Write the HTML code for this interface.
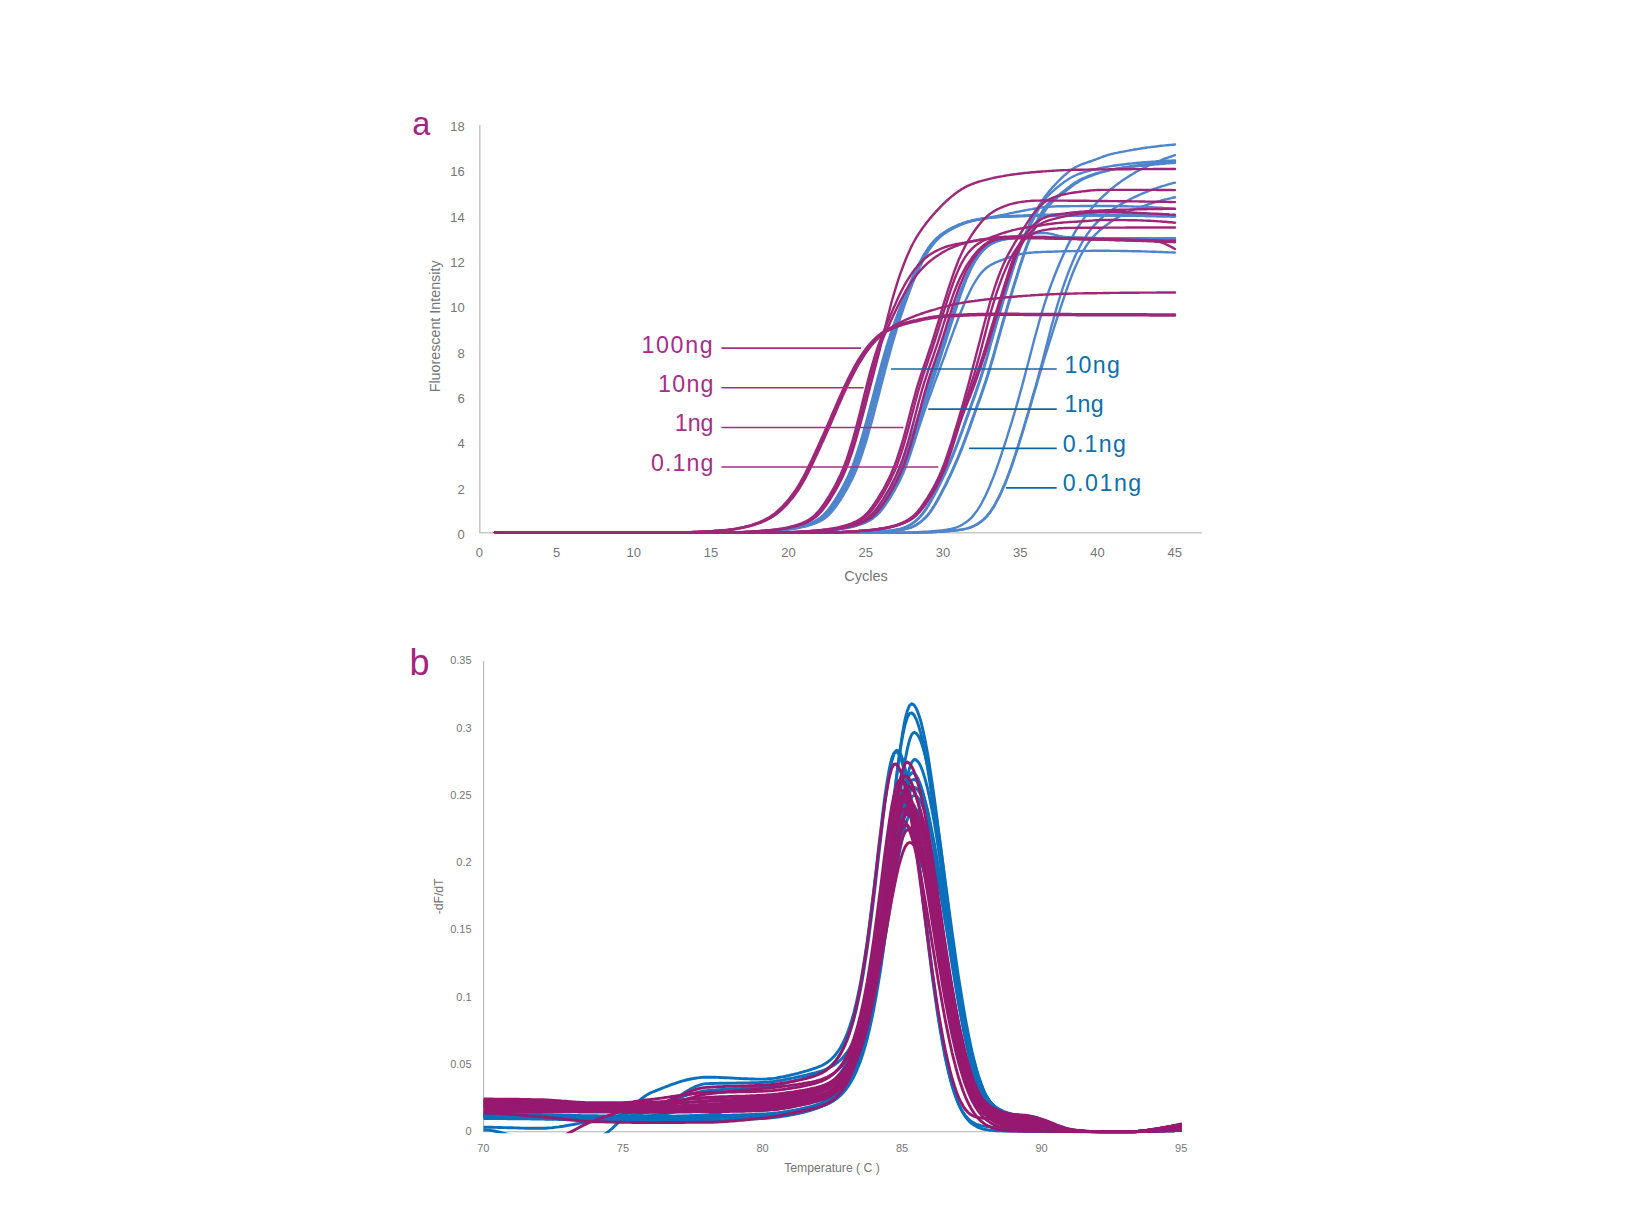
<!DOCTYPE html>
<html><head><meta charset="utf-8"><title>qPCR amplification and melt curves</title>
<style>
html,body{margin:0;padding:0;background:#fff}
svg{display:block}
text{font-family:"Liberation Sans",sans-serif}
.cv path{fill:none;stroke-width:2.4;stroke-linejoin:round;stroke-linecap:round}
.cb path{fill:none;stroke-width:2.9;stroke-linejoin:round;stroke-linecap:butt}
</style></head><body>
<svg width="1640" height="1231" viewBox="0 0 1640 1231">
<rect width="1640" height="1231" fill="#fff"/>
<defs><clipPath id="cpb"><rect x="483.6" y="640" width="697.9" height="493.2"/></clipPath></defs>
<g><path d="M479.8,124.9 V532.7 H1201.8" fill="none" stroke="#C8C8C8" stroke-width="1.6"/>
<text x="464.8" y="538.9" text-anchor="end" font-size="13" fill="#767676">0</text>
<text x="464.8" y="493.6" text-anchor="end" font-size="13" fill="#767676">2</text>
<text x="464.8" y="448.3" text-anchor="end" font-size="13" fill="#767676">4</text>
<text x="464.8" y="402.9" text-anchor="end" font-size="13" fill="#767676">6</text>
<text x="464.8" y="357.6" text-anchor="end" font-size="13" fill="#767676">8</text>
<text x="464.8" y="312.3" text-anchor="end" font-size="13" fill="#767676">10</text>
<text x="464.8" y="267.0" text-anchor="end" font-size="13" fill="#767676">12</text>
<text x="464.8" y="221.7" text-anchor="end" font-size="13" fill="#767676">14</text>
<text x="464.8" y="176.3" text-anchor="end" font-size="13" fill="#767676">16</text>
<text x="464.8" y="131.0" text-anchor="end" font-size="13" fill="#767676">18</text>
<text x="479.3" y="557.3" text-anchor="middle" font-size="13" fill="#767676">0</text>
<text x="556.6" y="557.3" text-anchor="middle" font-size="13" fill="#767676">5</text>
<text x="633.8" y="557.3" text-anchor="middle" font-size="13" fill="#767676">10</text>
<text x="711.1" y="557.3" text-anchor="middle" font-size="13" fill="#767676">15</text>
<text x="788.4" y="557.3" text-anchor="middle" font-size="13" fill="#767676">20</text>
<text x="865.7" y="557.3" text-anchor="middle" font-size="13" fill="#767676">25</text>
<text x="942.9" y="557.3" text-anchor="middle" font-size="13" fill="#767676">30</text>
<text x="1020.2" y="557.3" text-anchor="middle" font-size="13" fill="#767676">35</text>
<text x="1097.5" y="557.3" text-anchor="middle" font-size="13" fill="#767676">40</text>
<text x="1174.8" y="557.3" text-anchor="middle" font-size="13" fill="#767676">45</text>
<text x="866.0" y="581.0" text-anchor="middle" font-size="14.5" fill="#767676">Cycles</text>
<text transform="translate(440.2,326.4) rotate(-90)" text-anchor="middle" font-size="14.3" fill="#767676">Fluorescent Intensity</text>
<text x="412.3" y="134.6" font-size="32.5" fill="#A3257F">a</text>
<text x="409.5" y="675" font-size="36" fill="#A3257F">b</text></g>
<g><text x="641.4" y="352.5" font-size="23.2" fill="#A62E86" textLength="71.3" lengthAdjust="spacing">100ng</text>
<text x="658" y="391.6" font-size="23.2" fill="#A62E86" textLength="55.5" lengthAdjust="spacing">10ng</text>
<text x="674.7" y="431.2" font-size="23.2" fill="#A62E86" textLength="38.8" lengthAdjust="spacing">1ng</text>
<text x="650.9" y="470.7" font-size="23.2" fill="#A62E86" textLength="62.6" lengthAdjust="spacing">0.1ng</text>
<text x="1064.4" y="372.6" font-size="23.2" fill="#0E6FAB" textLength="55.5" lengthAdjust="spacing">10ng</text>
<text x="1064.4" y="411.9" font-size="23.2" fill="#0E6FAB" textLength="39.3" lengthAdjust="spacing">1ng</text>
<text x="1062.7" y="451.9" font-size="23.2" fill="#0E6FAB" textLength="63.2" lengthAdjust="spacing">0.1ng</text>
<text x="1062.7" y="491.2" font-size="23.2" fill="#0E6FAB" textLength="78.5" lengthAdjust="spacing">0.01ng</text></g>
<g class="cv">
<path d="M495.0,532.7 L496.9,532.7 L498.8,532.7 L500.8,532.7 L502.7,532.7 L504.6,532.7 L506.5,532.7 L508.5,532.7 L510.4,532.7 L512.3,532.7 L514.3,532.7 L516.2,532.7 L518.1,532.7 L520.1,532.7 L522.0,532.7 L523.9,532.7 L525.9,532.7 L527.8,532.7 L529.7,532.7 L531.7,532.7 L533.6,532.7 L535.5,532.7 L537.5,532.7 L539.4,532.7 L541.3,532.7 L543.3,532.7 L545.2,532.7 L547.1,532.7 L549.0,532.7 L551.0,532.7 L552.9,532.7 L554.8,532.7 L556.8,532.7 L558.7,532.7 L560.6,532.7 L562.6,532.7 L564.5,532.7 L566.4,532.7 L568.4,532.7 L570.3,532.7 L572.2,532.7 L574.2,532.7 L576.1,532.7 L578.0,532.7 L580.0,532.7 L581.9,532.7 L583.8,532.7 L585.8,532.7 L587.7,532.7 L589.6,532.7 L591.5,532.7 L593.5,532.7 L595.4,532.7 L597.3,532.7 L599.3,532.7 L601.2,532.7 L603.1,532.7 L605.1,532.7 L607.0,532.7 L608.9,532.7 L610.9,532.7 L612.8,532.7 L614.7,532.7 L616.7,532.7 L618.6,532.7 L620.5,532.7 L622.5,532.7 L624.4,532.7 L626.3,532.7 L628.3,532.7 L630.2,532.7 L632.1,532.7 L634.0,532.7 L636.0,532.7 L637.9,532.7 L639.8,532.7 L641.8,532.7 L643.7,532.7 L645.6,532.7 L647.6,532.7 L649.5,532.7 L651.4,532.7 L653.4,532.7 L655.3,532.7 L657.2,532.7 L659.2,532.7 L661.1,532.7 L663.0,532.7 L665.0,532.7 L666.9,532.7 L668.8,532.7 L670.8,532.7 L672.7,532.7 L674.6,532.7 L676.6,532.7 L678.5,532.7 L680.4,532.7 L682.3,532.7 L684.3,532.7 L686.2,532.7 L688.1,532.7 L690.1,532.7 L692.0,532.7 L693.9,532.7 L695.9,532.7 L697.8,532.7 L699.7,532.7 L701.7,532.7 L703.6,532.7 L705.5,532.7 L707.5,532.7 L709.4,532.7 L711.3,532.7 L713.3,532.7 L715.2,532.7 L717.1,532.7 L719.1,532.7 L721.0,532.7 L722.9,532.7 L724.8,532.7 L726.8,532.7 L728.7,532.7 L730.6,532.6 L732.6,532.6 L734.5,532.6 L736.4,532.5 L738.4,532.5 L740.3,532.4 L742.2,532.4 L744.2,532.3 L746.1,532.2 L748.0,532.1 L750.0,532.0 L751.9,531.9 L753.8,531.8 L755.8,531.7 L757.7,531.6 L759.6,531.5 L761.6,531.4 L763.5,531.2 L765.4,531.1 L767.3,531.0 L769.3,530.8 L771.2,530.7 L773.1,530.5 L775.1,530.4 L777.0,530.2 L778.9,530.0 L780.9,529.8 L782.8,529.6 L784.7,529.3 L786.7,529.1 L788.6,528.8 L790.5,528.5 L792.5,528.1 L794.4,527.7 L796.3,527.3 L798.3,526.9 L800.2,526.4 L802.1,525.9 L804.1,525.3 L806.0,524.7 L807.9,524.0 L809.9,523.3 L811.8,522.5 L813.7,521.6 L815.6,520.6 L817.6,519.4 L819.5,518.1 L821.4,516.6 L823.4,514.9 L825.3,512.9 L827.2,510.7 L829.2,508.3 L831.1,505.6 L833.0,502.9 L835.0,499.9 L836.9,496.9 L838.8,493.7 L840.8,490.4 L842.7,486.9 L844.6,483.3 L846.6,479.4 L848.5,475.3 L850.4,470.9 L852.4,466.1 L854.3,461.0 L856.2,455.5 L858.1,449.6 L860.1,443.4 L862.0,436.9 L863.9,430.2 L865.9,423.2 L867.8,416.0 L869.7,408.8 L871.7,401.4 L873.6,394.0 L875.5,386.5 L877.5,379.1 L879.4,371.9 L881.3,364.7 L883.3,357.8 L885.2,351.1 L887.1,344.7 L889.1,338.5 L891.0,332.6 L892.9,327.0 L894.9,321.5 L896.8,316.2 L898.7,311.0 L900.6,306.0 L902.6,301.0 L904.5,296.2 L906.4,291.4 L908.4,286.8 L910.3,282.3 L912.2,277.8 L914.2,273.6 L916.1,269.5 L918.0,265.5 L920.0,261.7 L921.9,258.2 L923.8,254.8 L925.8,251.6 L927.7,248.7 L929.6,246.0 L931.6,243.5 L933.5,241.3 L935.4,239.2 L937.4,237.4 L939.3,235.8 L941.2,234.3 L943.1,233.0 L945.1,231.7 L947.0,230.5 L948.9,229.4 L950.9,228.4 L952.8,227.4 L954.7,226.5 L956.7,225.6 L958.6,224.7 L960.5,224.0 L962.5,223.2 L964.4,222.6 L966.3,222.0 L968.3,221.4 L970.2,220.9 L972.1,220.4 L974.1,220.0 L976.0,219.6 L977.9,219.3 L979.9,218.9 L981.8,218.6 L983.7,218.3 L985.7,218.1 L987.6,217.8 L989.5,217.6 L991.4,217.4 L993.4,217.2 L995.3,217.1 L997.2,216.9 L999.2,216.8 L1001.1,216.7 L1003.0,216.6 L1005.0,216.5 L1006.9,216.4 L1008.8,216.4 L1010.8,216.3 L1012.7,216.3 L1014.6,216.2 L1016.6,216.2 L1018.5,216.1 L1020.4,216.1 L1022.4,216.0 L1024.3,216.0 L1026.2,215.9 L1028.2,215.9 L1030.1,215.8 L1032.0,215.8 L1033.9,215.8 L1035.9,215.7 L1037.8,215.7 L1039.7,215.7 L1041.7,215.6 L1043.6,215.6 L1045.5,215.6 L1047.5,215.6 L1049.4,215.6 L1051.3,215.5 L1053.3,215.5 L1055.2,215.5 L1057.1,215.5 L1059.1,215.5 L1061.0,215.5 L1062.9,215.5 L1064.9,215.5 L1066.8,215.5 L1068.7,215.5 L1070.7,215.5 L1072.6,215.5 L1074.5,215.5 L1076.4,215.5 L1078.4,215.5 L1080.3,215.5 L1082.2,215.5 L1084.2,215.5 L1086.1,215.5 L1088.0,215.5 L1090.0,215.5 L1091.9,215.5 L1093.8,215.5 L1095.8,215.5 L1097.7,215.5 L1099.6,215.5 L1101.6,215.5 L1103.5,215.5 L1105.4,215.5 L1107.4,215.6 L1109.3,215.6 L1111.2,215.6 L1113.2,215.6 L1115.1,215.6 L1117.0,215.6 L1119.0,215.6 L1120.9,215.7 L1122.8,215.7 L1124.7,215.7 L1126.7,215.7 L1128.6,215.7 L1130.5,215.8 L1132.5,215.8 L1134.4,215.8 L1136.3,215.8 L1138.3,215.8 L1140.2,215.9 L1142.1,215.9 L1144.1,215.9 L1146.0,216.0 L1147.9,216.0 L1149.9,216.0 L1151.8,216.1 L1153.7,216.1 L1155.7,216.1 L1157.6,216.2 L1159.5,216.2 L1161.5,216.3 L1163.4,216.3 L1165.3,216.3 L1167.2,216.4 L1169.2,216.4 L1171.1,216.5 L1173.0,216.5 L1175.0,216.6" stroke="#4E85CC"/>
<path d="M495.0,532.7 L496.9,532.7 L498.8,532.7 L500.8,532.7 L502.7,532.7 L504.6,532.7 L506.5,532.7 L508.5,532.7 L510.4,532.7 L512.3,532.7 L514.3,532.7 L516.2,532.7 L518.1,532.7 L520.1,532.7 L522.0,532.7 L523.9,532.7 L525.9,532.7 L527.8,532.7 L529.7,532.7 L531.7,532.7 L533.6,532.7 L535.5,532.7 L537.5,532.7 L539.4,532.7 L541.3,532.7 L543.3,532.7 L545.2,532.7 L547.1,532.7 L549.0,532.7 L551.0,532.7 L552.9,532.7 L554.8,532.7 L556.8,532.7 L558.7,532.7 L560.6,532.7 L562.6,532.7 L564.5,532.7 L566.4,532.7 L568.4,532.7 L570.3,532.7 L572.2,532.7 L574.2,532.7 L576.1,532.7 L578.0,532.7 L580.0,532.7 L581.9,532.7 L583.8,532.7 L585.8,532.7 L587.7,532.7 L589.6,532.7 L591.5,532.7 L593.5,532.7 L595.4,532.7 L597.3,532.7 L599.3,532.7 L601.2,532.7 L603.1,532.7 L605.1,532.7 L607.0,532.7 L608.9,532.7 L610.9,532.7 L612.8,532.7 L614.7,532.7 L616.7,532.7 L618.6,532.7 L620.5,532.7 L622.5,532.7 L624.4,532.7 L626.3,532.7 L628.3,532.7 L630.2,532.7 L632.1,532.7 L634.0,532.7 L636.0,532.7 L637.9,532.7 L639.8,532.7 L641.8,532.7 L643.7,532.7 L645.6,532.7 L647.6,532.7 L649.5,532.7 L651.4,532.7 L653.4,532.7 L655.3,532.7 L657.2,532.7 L659.2,532.7 L661.1,532.7 L663.0,532.7 L665.0,532.7 L666.9,532.7 L668.8,532.7 L670.8,532.7 L672.7,532.7 L674.6,532.7 L676.6,532.7 L678.5,532.7 L680.4,532.7 L682.3,532.7 L684.3,532.7 L686.2,532.7 L688.1,532.7 L690.1,532.7 L692.0,532.7 L693.9,532.7 L695.9,532.7 L697.8,532.7 L699.7,532.7 L701.7,532.7 L703.6,532.7 L705.5,532.7 L707.5,532.7 L709.4,532.7 L711.3,532.7 L713.3,532.7 L715.2,532.7 L717.1,532.7 L719.1,532.7 L721.0,532.7 L722.9,532.7 L724.8,532.7 L726.8,532.7 L728.7,532.7 L730.6,532.7 L732.6,532.6 L734.5,532.6 L736.4,532.6 L738.4,532.5 L740.3,532.5 L742.2,532.4 L744.2,532.4 L746.1,532.3 L748.0,532.2 L750.0,532.1 L751.9,532.0 L753.8,531.9 L755.8,531.8 L757.7,531.7 L759.6,531.6 L761.6,531.5 L763.5,531.3 L765.4,531.2 L767.3,531.1 L769.3,530.9 L771.2,530.8 L773.1,530.6 L775.1,530.5 L777.0,530.3 L778.9,530.2 L780.9,530.0 L782.8,529.8 L784.7,529.5 L786.7,529.3 L788.6,529.0 L790.5,528.7 L792.5,528.4 L794.4,528.0 L796.3,527.7 L798.3,527.2 L800.2,526.8 L802.1,526.3 L804.1,525.8 L806.0,525.2 L807.9,524.6 L809.9,523.9 L811.8,523.1 L813.7,522.3 L815.6,521.4 L817.6,520.4 L819.5,519.2 L821.4,517.9 L823.4,516.3 L825.3,514.5 L827.2,512.5 L829.2,510.2 L831.1,507.8 L833.0,505.1 L835.0,502.3 L836.9,499.3 L838.8,496.2 L840.8,493.0 L842.7,489.7 L844.6,486.2 L846.6,482.5 L848.5,478.6 L850.4,474.5 L852.4,470.0 L854.3,465.1 L856.2,459.9 L858.1,454.4 L860.1,448.4 L862.0,442.1 L863.9,435.6 L865.9,428.8 L867.8,421.8 L869.7,414.6 L871.7,407.3 L873.6,399.9 L875.5,392.5 L877.5,385.0 L879.4,377.6 L881.3,370.3 L883.3,363.2 L885.2,356.3 L887.1,349.6 L889.1,343.1 L891.0,336.9 L892.9,330.9 L894.9,325.2 L896.8,319.6 L898.7,314.2 L900.6,308.9 L902.6,303.8 L904.5,298.8 L906.4,293.9 L908.4,289.1 L910.3,284.4 L912.2,279.8 L914.2,275.4 L916.1,271.2 L918.0,267.1 L920.0,263.2 L921.9,259.6 L923.8,256.1 L925.8,252.9 L927.7,249.8 L929.6,247.0 L931.6,244.5 L933.5,242.1 L935.4,240.0 L937.4,238.1 L939.3,236.4 L941.2,234.9 L943.1,233.5 L945.1,232.2 L947.0,231.0 L948.9,229.9 L950.9,228.8 L952.8,227.8 L954.7,226.8 L956.7,225.9 L958.6,225.1 L960.5,224.3 L962.5,223.5 L964.4,222.8 L966.3,222.2 L968.3,221.6 L970.2,221.1 L972.1,220.6 L974.1,220.2 L976.0,219.8 L977.9,219.4 L979.9,219.1 L981.8,218.8 L983.7,218.5 L985.7,218.2 L987.6,218.0 L989.5,217.8 L991.4,217.5 L993.4,217.4 L995.3,217.2 L997.2,217.0 L999.2,216.9 L1001.1,216.7 L1003.0,216.6 L1005.0,216.5 L1006.9,216.4 L1008.8,216.3 L1010.8,216.2 L1012.7,216.0 L1014.6,215.9 L1016.6,215.8 L1018.5,215.8 L1020.4,215.7 L1022.4,215.6 L1024.3,215.5 L1026.2,215.4 L1028.2,215.3 L1030.1,215.2 L1032.0,215.1 L1033.9,215.1 L1035.9,215.0 L1037.8,214.9 L1039.7,214.8 L1041.7,214.8 L1043.6,214.7 L1045.5,214.7 L1047.5,214.6 L1049.4,214.6 L1051.3,214.5 L1053.3,214.5 L1055.2,214.5 L1057.1,214.4 L1059.1,214.4 L1061.0,214.4 L1062.9,214.4 L1064.9,214.3 L1066.8,214.3 L1068.7,214.3 L1070.7,214.3 L1072.6,214.3 L1074.5,214.3 L1076.4,214.3 L1078.4,214.3 L1080.3,214.3 L1082.2,214.3 L1084.2,214.3 L1086.1,214.3 L1088.0,214.3 L1090.0,214.3 L1091.9,214.3 L1093.8,214.3 L1095.8,214.3 L1097.7,214.4 L1099.6,214.4 L1101.6,214.4 L1103.5,214.4 L1105.4,214.4 L1107.4,214.4 L1109.3,214.4 L1111.2,214.4 L1113.2,214.4 L1115.1,214.4 L1117.0,214.4 L1119.0,214.5 L1120.9,214.5 L1122.8,214.5 L1124.7,214.5 L1126.7,214.5 L1128.6,214.5 L1130.5,214.6 L1132.5,214.6 L1134.4,214.6 L1136.3,214.6 L1138.3,214.7 L1140.2,214.7 L1142.1,214.7 L1144.1,214.7 L1146.0,214.8 L1147.9,214.8 L1149.9,214.8 L1151.8,214.9 L1153.7,214.9 L1155.7,215.0 L1157.6,215.0 L1159.5,215.0 L1161.5,215.1 L1163.4,215.1 L1165.3,215.2 L1167.2,215.2 L1169.2,215.3 L1171.1,215.3 L1173.0,215.4 L1175.0,215.5" stroke="#4E85CC"/>
<path d="M495.0,532.7 L496.9,532.7 L498.8,532.7 L500.8,532.7 L502.7,532.7 L504.6,532.7 L506.5,532.7 L508.5,532.7 L510.4,532.7 L512.3,532.7 L514.3,532.7 L516.2,532.7 L518.1,532.7 L520.1,532.7 L522.0,532.7 L523.9,532.7 L525.9,532.7 L527.8,532.7 L529.7,532.7 L531.7,532.7 L533.6,532.7 L535.5,532.7 L537.5,532.7 L539.4,532.7 L541.3,532.7 L543.3,532.7 L545.2,532.7 L547.1,532.7 L549.0,532.7 L551.0,532.7 L552.9,532.7 L554.8,532.7 L556.8,532.7 L558.7,532.7 L560.6,532.7 L562.6,532.7 L564.5,532.7 L566.4,532.7 L568.4,532.7 L570.3,532.7 L572.2,532.7 L574.2,532.7 L576.1,532.7 L578.0,532.7 L580.0,532.7 L581.9,532.7 L583.8,532.7 L585.8,532.7 L587.7,532.7 L589.6,532.7 L591.5,532.7 L593.5,532.7 L595.4,532.7 L597.3,532.7 L599.3,532.7 L601.2,532.7 L603.1,532.7 L605.1,532.7 L607.0,532.7 L608.9,532.7 L610.9,532.7 L612.8,532.7 L614.7,532.7 L616.7,532.7 L618.6,532.7 L620.5,532.7 L622.5,532.7 L624.4,532.7 L626.3,532.7 L628.3,532.7 L630.2,532.7 L632.1,532.7 L634.0,532.7 L636.0,532.7 L637.9,532.7 L639.8,532.7 L641.8,532.7 L643.7,532.7 L645.6,532.7 L647.6,532.7 L649.5,532.7 L651.4,532.7 L653.4,532.7 L655.3,532.7 L657.2,532.7 L659.2,532.7 L661.1,532.7 L663.0,532.7 L665.0,532.7 L666.9,532.7 L668.8,532.7 L670.8,532.7 L672.7,532.7 L674.6,532.7 L676.6,532.7 L678.5,532.7 L680.4,532.7 L682.3,532.7 L684.3,532.7 L686.2,532.7 L688.1,532.7 L690.1,532.7 L692.0,532.7 L693.9,532.7 L695.9,532.7 L697.8,532.7 L699.7,532.7 L701.7,532.7 L703.6,532.7 L705.5,532.7 L707.5,532.7 L709.4,532.7 L711.3,532.7 L713.3,532.7 L715.2,532.7 L717.1,532.7 L719.1,532.7 L721.0,532.7 L722.9,532.7 L724.8,532.7 L726.8,532.7 L728.7,532.7 L730.6,532.7 L732.6,532.7 L734.5,532.6 L736.4,532.6 L738.4,532.6 L740.3,532.5 L742.2,532.5 L744.2,532.4 L746.1,532.4 L748.0,532.3 L750.0,532.2 L751.9,532.1 L753.8,532.0 L755.8,531.9 L757.7,531.8 L759.6,531.7 L761.6,531.6 L763.5,531.5 L765.4,531.3 L767.3,531.2 L769.3,531.1 L771.2,530.9 L773.1,530.8 L775.1,530.6 L777.0,530.5 L778.9,530.3 L780.9,530.1 L782.8,530.0 L784.7,529.8 L786.7,529.5 L788.6,529.3 L790.5,529.0 L792.5,528.7 L794.4,528.4 L796.3,528.0 L798.3,527.6 L800.2,527.2 L802.1,526.8 L804.1,526.3 L806.0,525.8 L807.9,525.2 L809.9,524.6 L811.8,523.9 L813.7,523.1 L815.6,522.3 L817.6,521.4 L819.5,520.3 L821.4,519.1 L823.4,517.8 L825.3,516.2 L827.2,514.5 L829.2,512.4 L831.1,510.1 L833.0,507.7 L835.0,505.0 L836.9,502.2 L838.8,499.2 L840.8,496.1 L842.7,492.9 L844.6,489.6 L846.6,486.0 L848.5,482.4 L850.4,478.5 L852.4,474.3 L854.3,469.8 L856.2,464.9 L858.1,459.7 L860.1,454.1 L862.0,448.2 L863.9,441.9 L865.9,435.3 L867.8,428.5 L869.7,421.5 L871.7,414.3 L873.6,407.0 L875.5,399.6 L877.5,392.2 L879.4,384.7 L881.3,377.3 L883.3,370.0 L885.2,362.8 L887.1,355.8 L889.1,348.9 L891.0,342.3 L892.9,336.0 L894.9,329.8 L896.8,323.9 L898.7,318.1 L900.6,312.6 L902.6,307.2 L904.5,301.9 L906.4,296.7 L908.4,291.7 L910.3,286.8 L912.2,282.0 L914.2,277.4 L916.1,273.0 L918.0,268.8 L920.0,264.8 L921.9,261.0 L923.8,257.5 L925.8,254.1 L927.7,251.0 L929.6,248.1 L931.6,245.5 L933.5,243.0 L935.4,240.8 L937.4,238.9 L939.3,237.1 L941.2,235.5 L943.1,234.0 L945.1,232.7 L947.0,231.5 L948.9,230.3 L950.9,229.2 L952.8,228.2 L954.7,227.2 L956.7,226.3 L958.6,225.4 L960.5,224.6 L962.5,223.8 L964.4,223.1 L966.3,222.5 L968.3,221.9 L970.2,221.4 L972.1,220.9 L974.1,220.4 L976.0,220.0 L977.9,219.6 L979.9,219.2 L981.8,218.8 L983.7,218.4 L985.7,218.1 L987.6,217.7 L989.5,217.4 L991.4,217.0 L993.4,216.7 L995.3,216.3 L997.2,216.0 L999.2,215.6 L1001.1,215.2 L1003.0,214.9 L1005.0,214.5 L1006.9,214.1 L1008.8,213.7 L1010.8,213.2 L1012.7,212.8 L1014.6,212.4 L1016.6,212.0 L1018.5,211.6 L1020.4,211.3 L1022.4,210.9 L1024.3,210.5 L1026.2,210.1 L1028.2,209.8 L1030.1,209.4 L1032.0,209.1 L1033.9,208.7 L1035.9,208.4 L1037.8,208.1 L1039.7,207.8 L1041.7,207.5 L1043.6,207.2 L1045.5,207.0 L1047.5,206.8 L1049.4,206.7 L1051.3,206.6 L1053.3,206.5 L1055.2,206.4 L1057.1,206.3 L1059.1,206.3 L1061.0,206.3 L1062.9,206.2 L1064.9,206.2 L1066.8,206.2 L1068.7,206.2 L1070.7,206.1 L1072.6,206.1 L1074.5,206.1 L1076.4,206.1 L1078.4,206.1 L1080.3,206.0 L1082.2,206.0 L1084.2,206.0 L1086.1,206.0 L1088.0,206.0 L1090.0,206.0 L1091.9,206.0 L1093.8,206.0 L1095.8,206.0 L1097.7,206.0 L1099.6,206.0 L1101.6,206.0 L1103.5,206.0 L1105.4,206.0 L1107.4,206.0 L1109.3,206.0 L1111.2,206.0 L1113.2,206.0 L1115.1,206.1 L1117.0,206.1 L1119.0,206.1 L1120.9,206.2 L1122.8,206.2 L1124.7,206.3 L1126.7,206.3 L1128.6,206.4 L1130.5,206.4 L1132.5,206.5 L1134.4,206.6 L1136.3,206.6 L1138.3,206.7 L1140.2,206.8 L1142.1,206.9 L1144.1,207.0 L1146.0,207.0 L1147.9,207.1 L1149.9,207.2 L1151.8,207.3 L1153.7,207.4 L1155.7,207.5 L1157.6,207.6 L1159.5,207.7 L1161.5,207.8 L1163.4,208.0 L1165.3,208.1 L1167.2,208.2 L1169.2,208.3 L1171.1,208.4 L1173.0,208.5 L1175.0,208.7" stroke="#4E85CC"/>
<path d="M495.0,532.7 L496.9,532.7 L498.8,532.7 L500.8,532.7 L502.7,532.7 L504.6,532.7 L506.5,532.7 L508.5,532.7 L510.4,532.7 L512.3,532.7 L514.3,532.7 L516.2,532.7 L518.1,532.7 L520.1,532.7 L522.0,532.7 L523.9,532.7 L525.9,532.7 L527.8,532.7 L529.7,532.7 L531.7,532.7 L533.6,532.7 L535.5,532.7 L537.5,532.7 L539.4,532.7 L541.3,532.7 L543.3,532.7 L545.2,532.7 L547.1,532.7 L549.0,532.7 L551.0,532.7 L552.9,532.7 L554.8,532.7 L556.8,532.7 L558.7,532.7 L560.6,532.7 L562.6,532.7 L564.5,532.7 L566.4,532.7 L568.4,532.7 L570.3,532.7 L572.2,532.7 L574.2,532.7 L576.1,532.7 L578.0,532.7 L580.0,532.7 L581.9,532.7 L583.8,532.7 L585.8,532.7 L587.7,532.7 L589.6,532.7 L591.5,532.7 L593.5,532.7 L595.4,532.7 L597.3,532.7 L599.3,532.7 L601.2,532.7 L603.1,532.7 L605.1,532.7 L607.0,532.7 L608.9,532.7 L610.9,532.7 L612.8,532.7 L614.7,532.7 L616.7,532.7 L618.6,532.7 L620.5,532.7 L622.5,532.7 L624.4,532.7 L626.3,532.7 L628.3,532.7 L630.2,532.7 L632.1,532.7 L634.0,532.7 L636.0,532.7 L637.9,532.7 L639.8,532.7 L641.8,532.7 L643.7,532.7 L645.6,532.7 L647.6,532.7 L649.5,532.7 L651.4,532.7 L653.4,532.7 L655.3,532.7 L657.2,532.7 L659.2,532.7 L661.1,532.7 L663.0,532.7 L665.0,532.7 L666.9,532.7 L668.8,532.7 L670.8,532.7 L672.7,532.7 L674.6,532.7 L676.6,532.7 L678.5,532.7 L680.4,532.7 L682.3,532.7 L684.3,532.7 L686.2,532.7 L688.1,532.7 L690.1,532.7 L692.0,532.7 L693.9,532.7 L695.9,532.7 L697.8,532.7 L699.7,532.7 L701.7,532.7 L703.6,532.7 L705.5,532.7 L707.5,532.7 L709.4,532.7 L711.3,532.7 L713.3,532.7 L715.2,532.7 L717.1,532.7 L719.1,532.7 L721.0,532.7 L722.9,532.7 L724.8,532.7 L726.8,532.7 L728.7,532.7 L730.6,532.7 L732.6,532.7 L734.5,532.7 L736.4,532.6 L738.4,532.6 L740.3,532.6 L742.2,532.5 L744.2,532.5 L746.1,532.4 L748.0,532.4 L750.0,532.3 L751.9,532.2 L753.8,532.1 L755.8,532.0 L757.7,531.9 L759.6,531.8 L761.6,531.7 L763.5,531.6 L765.4,531.5 L767.3,531.3 L769.3,531.2 L771.2,531.1 L773.1,530.9 L775.1,530.8 L777.0,530.6 L778.9,530.5 L780.9,530.3 L782.8,530.2 L784.7,530.0 L786.7,529.8 L788.6,529.5 L790.5,529.3 L792.5,529.0 L794.4,528.7 L796.3,528.4 L798.3,528.0 L800.2,527.6 L802.1,527.2 L804.1,526.8 L806.0,526.3 L807.9,525.8 L809.9,525.2 L811.8,524.6 L813.7,523.9 L815.6,523.1 L817.6,522.3 L819.5,521.4 L821.4,520.4 L823.4,519.2 L825.3,517.9 L827.2,516.3 L829.2,514.5 L831.1,512.5 L833.0,510.2 L835.0,507.8 L836.9,505.1 L838.8,502.3 L840.8,499.3 L842.7,496.3 L844.6,493.0 L846.6,489.7 L848.5,486.2 L850.4,482.5 L852.4,478.6 L854.3,474.4 L856.2,470.0 L858.1,465.2 L860.1,459.9 L862.0,454.3 L863.9,448.4 L865.9,442.2 L867.8,435.6 L869.7,428.8 L871.7,421.8 L873.6,414.6 L875.5,407.3 L877.5,399.9 L879.4,392.5 L881.3,385.0 L883.3,377.5 L885.2,370.2 L887.1,362.9 L889.1,355.7 L891.0,348.8 L892.9,342.0 L894.9,335.4 L896.8,329.0 L898.7,322.8 L900.6,316.9 L902.6,311.1 L904.5,305.4 L906.4,300.0 L908.4,294.6 L910.3,289.4 L912.2,284.4 L914.2,279.6 L916.1,275.0 L918.0,270.6 L920.0,266.4 L921.9,262.6 L923.8,258.9 L925.8,255.4 L927.7,252.2 L929.6,249.2 L931.6,246.5 L933.5,244.0 L935.4,241.7 L937.4,239.6 L939.3,237.8 L941.2,236.1 L943.1,234.6 L945.1,233.2 L947.0,232.0 L948.9,230.8 L950.9,229.6 L952.8,228.6 L954.7,227.6 L956.7,226.7 L958.6,225.8 L960.5,224.9 L962.5,224.1 L964.4,223.4 L966.3,222.7 L968.3,222.1 L970.2,221.5 L972.1,221.0 L974.1,220.5 L976.0,220.1 L977.9,219.7 L979.9,219.3 L981.8,219.0 L983.7,218.7 L985.7,218.4 L987.6,218.1 L989.5,217.9 L991.4,217.7 L993.4,217.5 L995.3,217.3 L997.2,217.1 L999.2,217.0 L1001.1,216.8 L1003.0,216.7 L1005.0,216.6 L1006.9,216.5 L1008.8,216.5 L1010.8,216.4 L1012.7,216.3 L1014.6,216.3 L1016.6,216.2 L1018.5,216.2 L1020.4,216.1 L1022.4,216.1 L1024.3,216.0 L1026.2,216.0 L1028.2,215.9 L1030.1,215.9 L1032.0,215.8 L1033.9,215.8 L1035.9,215.8 L1037.8,215.7 L1039.7,215.7 L1041.7,215.7 L1043.6,215.7 L1045.5,215.6 L1047.5,215.6 L1049.4,215.6 L1051.3,215.6 L1053.3,215.5 L1055.2,215.5 L1057.1,215.5 L1059.1,215.5 L1061.0,215.5 L1062.9,215.5 L1064.9,215.5 L1066.8,215.5 L1068.7,215.5 L1070.7,215.5 L1072.6,215.5 L1074.5,215.5 L1076.4,215.5 L1078.4,215.5 L1080.3,215.5 L1082.2,215.5 L1084.2,215.5 L1086.1,215.5 L1088.0,215.5 L1090.0,215.5 L1091.9,215.5 L1093.8,215.5 L1095.8,215.5 L1097.7,215.5 L1099.6,215.5 L1101.6,215.5 L1103.5,215.5 L1105.4,215.5 L1107.4,215.6 L1109.3,215.6 L1111.2,215.6 L1113.2,215.6 L1115.1,215.6 L1117.0,215.6 L1119.0,215.6 L1120.9,215.6 L1122.8,215.7 L1124.7,215.7 L1126.7,215.7 L1128.6,215.7 L1130.5,215.7 L1132.5,215.8 L1134.4,215.8 L1136.3,215.8 L1138.3,215.8 L1140.2,215.9 L1142.1,215.9 L1144.1,215.9 L1146.0,216.0 L1147.9,216.0 L1149.9,216.0 L1151.8,216.1 L1153.7,216.1 L1155.7,216.1 L1157.6,216.2 L1159.5,216.2 L1161.5,216.3 L1163.4,216.3 L1165.3,216.3 L1167.2,216.4 L1169.2,216.4 L1171.1,216.5 L1173.0,216.5 L1175.0,216.6" stroke="#4E85CC"/>
<path d="M495.0,532.7 L496.9,532.7 L498.8,532.7 L500.8,532.7 L502.7,532.7 L504.6,532.7 L506.5,532.7 L508.5,532.7 L510.4,532.7 L512.3,532.7 L514.3,532.7 L516.2,532.7 L518.1,532.7 L520.1,532.7 L522.0,532.7 L523.9,532.7 L525.9,532.7 L527.8,532.7 L529.7,532.7 L531.7,532.7 L533.6,532.7 L535.5,532.7 L537.5,532.7 L539.4,532.7 L541.3,532.7 L543.3,532.7 L545.2,532.7 L547.1,532.7 L549.0,532.7 L551.0,532.7 L552.9,532.7 L554.8,532.7 L556.8,532.7 L558.7,532.7 L560.6,532.7 L562.6,532.7 L564.5,532.7 L566.4,532.7 L568.4,532.7 L570.3,532.7 L572.2,532.7 L574.2,532.7 L576.1,532.7 L578.0,532.7 L580.0,532.7 L581.9,532.7 L583.8,532.7 L585.8,532.7 L587.7,532.7 L589.6,532.7 L591.5,532.7 L593.5,532.7 L595.4,532.7 L597.3,532.7 L599.3,532.7 L601.2,532.7 L603.1,532.7 L605.1,532.7 L607.0,532.7 L608.9,532.7 L610.9,532.7 L612.8,532.7 L614.7,532.7 L616.7,532.7 L618.6,532.7 L620.5,532.7 L622.5,532.7 L624.4,532.7 L626.3,532.7 L628.3,532.7 L630.2,532.7 L632.1,532.7 L634.0,532.7 L636.0,532.7 L637.9,532.7 L639.8,532.7 L641.8,532.7 L643.7,532.7 L645.6,532.7 L647.6,532.7 L649.5,532.7 L651.4,532.7 L653.4,532.7 L655.3,532.7 L657.2,532.7 L659.2,532.7 L661.1,532.7 L663.0,532.7 L665.0,532.7 L666.9,532.7 L668.8,532.7 L670.8,532.7 L672.7,532.7 L674.6,532.7 L676.6,532.7 L678.5,532.7 L680.4,532.7 L682.3,532.7 L684.3,532.7 L686.2,532.7 L688.1,532.7 L690.1,532.7 L692.0,532.7 L693.9,532.7 L695.9,532.7 L697.8,532.7 L699.7,532.7 L701.7,532.7 L703.6,532.7 L705.5,532.7 L707.5,532.7 L709.4,532.7 L711.3,532.7 L713.3,532.7 L715.2,532.7 L717.1,532.7 L719.1,532.7 L721.0,532.7 L722.9,532.7 L724.8,532.7 L726.8,532.7 L728.7,532.7 L730.6,532.7 L732.6,532.7 L734.5,532.7 L736.4,532.7 L738.4,532.7 L740.3,532.7 L742.2,532.7 L744.2,532.7 L746.1,532.7 L748.0,532.7 L750.0,532.7 L751.9,532.7 L753.8,532.7 L755.8,532.7 L757.7,532.7 L759.6,532.7 L761.6,532.7 L763.5,532.7 L765.4,532.7 L767.3,532.7 L769.3,532.7 L771.2,532.7 L773.1,532.7 L775.1,532.7 L777.0,532.7 L778.9,532.7 L780.9,532.6 L782.8,532.6 L784.7,532.6 L786.7,532.5 L788.6,532.5 L790.5,532.4 L792.5,532.3 L794.4,532.3 L796.3,532.2 L798.3,532.1 L800.2,532.0 L802.1,531.9 L804.1,531.8 L806.0,531.7 L807.9,531.6 L809.9,531.5 L811.8,531.3 L813.7,531.2 L815.6,531.1 L817.6,530.9 L819.5,530.8 L821.4,530.6 L823.4,530.5 L825.3,530.3 L827.2,530.1 L829.2,529.9 L831.1,529.7 L833.0,529.5 L835.0,529.3 L836.9,529.0 L838.8,528.7 L840.8,528.4 L842.7,528.0 L844.6,527.6 L846.6,527.2 L848.5,526.7 L850.4,526.2 L852.4,525.7 L854.3,525.1 L856.2,524.5 L858.1,523.8 L860.1,523.1 L862.0,522.2 L863.9,521.3 L865.9,520.2 L867.8,519.0 L869.7,517.7 L871.7,516.1 L873.6,514.3 L875.5,512.2 L877.5,510.0 L879.4,507.5 L881.3,504.8 L883.3,501.9 L885.2,499.0 L887.1,495.9 L889.1,492.7 L891.0,489.3 L892.9,485.8 L894.9,482.0 L896.8,478.1 L898.7,473.9 L900.6,469.3 L902.6,464.4 L904.5,459.2 L906.4,453.5 L908.4,447.6 L910.3,441.5 L912.2,435.2 L914.2,429.0 L916.1,422.7 L918.0,416.5 L920.0,410.3 L921.9,404.3 L923.8,398.3 L925.8,392.4 L927.7,386.6 L929.6,380.9 L931.6,375.2 L933.5,369.5 L935.4,363.9 L937.4,358.2 L939.3,352.5 L941.2,346.7 L943.1,341.0 L945.1,335.3 L947.0,329.6 L948.9,323.9 L950.9,318.3 L952.8,312.7 L954.7,307.1 L956.7,301.6 L958.6,296.2 L960.5,291.0 L962.5,286.0 L964.4,281.2 L966.3,276.6 L968.3,272.4 L970.2,268.5 L972.1,264.9 L974.1,261.5 L976.0,258.5 L977.9,255.8 L979.9,253.3 L981.8,251.0 L983.7,249.1 L985.7,247.4 L987.6,245.9 L989.5,244.5 L991.4,243.4 L993.4,242.5 L995.3,241.6 L997.2,240.9 L999.2,240.3 L1001.1,239.7 L1003.0,239.2 L1005.0,238.7 L1006.9,238.3 L1008.8,237.8 L1010.8,237.5 L1012.7,237.1 L1014.6,236.7 L1016.6,236.4 L1018.5,236.0 L1020.4,235.7 L1022.4,235.3 L1024.3,235.0 L1026.2,234.7 L1028.2,234.4 L1030.1,234.1 L1032.0,233.8 L1033.9,233.6 L1035.9,233.4 L1037.8,233.2 L1039.7,233.1 L1041.7,233.1 L1043.6,233.0 L1045.5,233.1 L1047.5,233.3 L1049.4,233.6 L1051.3,234.0 L1053.3,234.4 L1055.2,234.9 L1057.1,235.3 L1059.1,235.8 L1061.0,236.2 L1062.9,236.6 L1064.9,236.9 L1066.8,237.2 L1068.7,237.4 L1070.7,237.6 L1072.6,237.7 L1074.5,237.9 L1076.4,238.0 L1078.4,238.1 L1080.3,238.1 L1082.2,238.2 L1084.2,238.3 L1086.1,238.3 L1088.0,238.4 L1090.0,238.4 L1091.9,238.5 L1093.8,238.5 L1095.8,238.5 L1097.7,238.5 L1099.6,238.6 L1101.6,238.6 L1103.5,238.6 L1105.4,238.6 L1107.4,238.6 L1109.3,238.6 L1111.2,238.6 L1113.2,238.6 L1115.1,238.6 L1117.0,238.6 L1119.0,238.6 L1120.9,238.6 L1122.8,238.6 L1124.7,238.6 L1126.7,238.6 L1128.6,238.6 L1130.5,238.6 L1132.5,238.6 L1134.4,238.6 L1136.3,238.6 L1138.3,238.6 L1140.2,238.6 L1142.1,238.6 L1144.1,238.6 L1146.0,238.6 L1147.9,238.6 L1149.9,238.6 L1151.8,238.6 L1153.7,238.6 L1155.7,238.6 L1157.6,238.6 L1159.5,238.6 L1161.5,238.6 L1163.4,238.6 L1165.3,238.6 L1167.2,238.6 L1169.2,238.6 L1171.1,238.6 L1173.0,238.6 L1175.0,238.6" stroke="#4E85CC"/>
<path d="M495.0,532.7 L496.9,532.7 L498.8,532.7 L500.8,532.7 L502.7,532.7 L504.6,532.7 L506.5,532.7 L508.5,532.7 L510.4,532.7 L512.3,532.7 L514.3,532.7 L516.2,532.7 L518.1,532.7 L520.1,532.7 L522.0,532.7 L523.9,532.7 L525.9,532.7 L527.8,532.7 L529.7,532.7 L531.7,532.7 L533.6,532.7 L535.5,532.7 L537.5,532.7 L539.4,532.7 L541.3,532.7 L543.3,532.7 L545.2,532.7 L547.1,532.7 L549.0,532.7 L551.0,532.7 L552.9,532.7 L554.8,532.7 L556.8,532.7 L558.7,532.7 L560.6,532.7 L562.6,532.7 L564.5,532.7 L566.4,532.7 L568.4,532.7 L570.3,532.7 L572.2,532.7 L574.2,532.7 L576.1,532.7 L578.0,532.7 L580.0,532.7 L581.9,532.7 L583.8,532.7 L585.8,532.7 L587.7,532.7 L589.6,532.7 L591.5,532.7 L593.5,532.7 L595.4,532.7 L597.3,532.7 L599.3,532.7 L601.2,532.7 L603.1,532.7 L605.1,532.7 L607.0,532.7 L608.9,532.7 L610.9,532.7 L612.8,532.7 L614.7,532.7 L616.7,532.7 L618.6,532.7 L620.5,532.7 L622.5,532.7 L624.4,532.7 L626.3,532.7 L628.3,532.7 L630.2,532.7 L632.1,532.7 L634.0,532.7 L636.0,532.7 L637.9,532.7 L639.8,532.7 L641.8,532.7 L643.7,532.7 L645.6,532.7 L647.6,532.7 L649.5,532.7 L651.4,532.7 L653.4,532.7 L655.3,532.7 L657.2,532.7 L659.2,532.7 L661.1,532.7 L663.0,532.7 L665.0,532.7 L666.9,532.7 L668.8,532.7 L670.8,532.7 L672.7,532.7 L674.6,532.7 L676.6,532.7 L678.5,532.7 L680.4,532.7 L682.3,532.7 L684.3,532.7 L686.2,532.7 L688.1,532.7 L690.1,532.7 L692.0,532.7 L693.9,532.7 L695.9,532.7 L697.8,532.7 L699.7,532.7 L701.7,532.7 L703.6,532.7 L705.5,532.7 L707.5,532.7 L709.4,532.7 L711.3,532.7 L713.3,532.7 L715.2,532.7 L717.1,532.7 L719.1,532.7 L721.0,532.7 L722.9,532.7 L724.8,532.7 L726.8,532.7 L728.7,532.7 L730.6,532.7 L732.6,532.7 L734.5,532.7 L736.4,532.7 L738.4,532.7 L740.3,532.7 L742.2,532.7 L744.2,532.7 L746.1,532.7 L748.0,532.7 L750.0,532.7 L751.9,532.7 L753.8,532.7 L755.8,532.7 L757.7,532.7 L759.6,532.7 L761.6,532.7 L763.5,532.7 L765.4,532.7 L767.3,532.7 L769.3,532.7 L771.2,532.7 L773.1,532.7 L775.1,532.7 L777.0,532.7 L778.9,532.7 L780.9,532.7 L782.8,532.6 L784.7,532.6 L786.7,532.6 L788.6,532.5 L790.5,532.5 L792.5,532.4 L794.4,532.3 L796.3,532.2 L798.3,532.2 L800.2,532.1 L802.1,532.0 L804.1,531.9 L806.0,531.8 L807.9,531.7 L809.9,531.5 L811.8,531.4 L813.7,531.3 L815.6,531.2 L817.6,531.0 L819.5,530.9 L821.4,530.7 L823.4,530.6 L825.3,530.4 L827.2,530.3 L829.2,530.1 L831.1,529.9 L833.0,529.7 L835.0,529.5 L836.9,529.2 L838.8,528.9 L840.8,528.6 L842.7,528.3 L844.6,527.9 L846.6,527.5 L848.5,527.1 L850.4,526.6 L852.4,526.1 L854.3,525.5 L856.2,525.0 L858.1,524.3 L860.1,523.6 L862.0,522.8 L863.9,522.0 L865.9,521.0 L867.8,519.9 L869.7,518.7 L871.7,517.3 L873.6,515.6 L875.5,513.7 L877.5,511.6 L879.4,509.3 L881.3,506.7 L883.3,504.0 L885.2,501.1 L887.1,498.1 L889.1,495.0 L891.0,491.7 L892.9,488.3 L894.9,484.7 L896.8,481.0 L898.7,476.9 L900.6,472.6 L902.6,468.0 L904.5,463.0 L906.4,457.6 L908.4,451.9 L910.3,445.9 L912.2,439.8 L914.2,433.5 L916.1,427.2 L918.0,420.9 L920.0,414.7 L921.9,408.6 L923.8,402.6 L925.8,396.7 L927.7,390.8 L929.6,385.0 L931.6,379.3 L933.5,373.6 L935.4,367.9 L937.4,362.2 L939.3,356.4 L941.2,350.6 L943.1,344.7 L945.1,338.9 L947.0,333.0 L948.9,327.1 L950.9,321.3 L952.8,315.4 L954.7,309.7 L956.7,303.9 L958.6,298.3 L960.5,292.9 L962.5,287.6 L964.4,282.6 L966.3,277.9 L968.3,273.5 L970.2,269.4 L972.1,265.7 L974.1,262.3 L976.0,259.2 L977.9,256.3 L979.9,253.8 L981.8,251.5 L983.7,249.5 L985.7,247.7 L987.6,246.2 L989.5,244.8 L991.4,243.7 L993.4,242.7 L995.3,241.9 L997.2,241.1 L999.2,240.6 L1001.1,240.0 L1003.0,239.6 L1005.0,239.2 L1006.9,238.9 L1008.8,238.6 L1010.8,238.4 L1012.7,238.2 L1014.6,238.0 L1016.6,237.9 L1018.5,237.7 L1020.4,237.6 L1022.4,237.5 L1024.3,237.4 L1026.2,237.3 L1028.2,237.2 L1030.1,237.2 L1032.0,237.1 L1033.9,237.1 L1035.9,237.1 L1037.8,237.0 L1039.7,237.0 L1041.7,237.0 L1043.6,237.0 L1045.5,237.0 L1047.5,237.1 L1049.4,237.1 L1051.3,237.1 L1053.3,237.2 L1055.2,237.2 L1057.1,237.2 L1059.1,237.3 L1061.0,237.3 L1062.9,237.4 L1064.9,237.4 L1066.8,237.5 L1068.7,237.5 L1070.7,237.6 L1072.6,237.6 L1074.5,237.7 L1076.4,237.7 L1078.4,237.8 L1080.3,237.8 L1082.2,237.9 L1084.2,237.9 L1086.1,238.0 L1088.0,238.0 L1090.0,238.0 L1091.9,238.0 L1093.8,238.1 L1095.8,238.1 L1097.7,238.1 L1099.6,238.1 L1101.6,238.1 L1103.5,238.1 L1105.4,238.1 L1107.4,238.1 L1109.3,238.1 L1111.2,238.1 L1113.2,238.1 L1115.1,238.1 L1117.0,238.1 L1119.0,238.1 L1120.9,238.1 L1122.8,238.1 L1124.7,238.1 L1126.7,238.1 L1128.6,238.1 L1130.5,238.1 L1132.5,238.1 L1134.4,238.1 L1136.3,238.1 L1138.3,238.1 L1140.2,238.1 L1142.1,238.1 L1144.1,238.1 L1146.0,238.1 L1147.9,238.1 L1149.9,238.1 L1151.8,238.1 L1153.7,238.1 L1155.7,238.1 L1157.6,238.1 L1159.5,238.1 L1161.5,238.1 L1163.4,238.1 L1165.3,238.1 L1167.2,238.1 L1169.2,238.1 L1171.1,238.1 L1173.0,238.1 L1175.0,238.1" stroke="#4E85CC"/>
<path d="M495.0,532.7 L496.9,532.7 L498.8,532.7 L500.8,532.7 L502.7,532.7 L504.6,532.7 L506.5,532.7 L508.5,532.7 L510.4,532.7 L512.3,532.7 L514.3,532.7 L516.2,532.7 L518.1,532.7 L520.1,532.7 L522.0,532.7 L523.9,532.7 L525.9,532.7 L527.8,532.7 L529.7,532.7 L531.7,532.7 L533.6,532.7 L535.5,532.7 L537.5,532.7 L539.4,532.7 L541.3,532.7 L543.3,532.7 L545.2,532.7 L547.1,532.7 L549.0,532.7 L551.0,532.7 L552.9,532.7 L554.8,532.7 L556.8,532.7 L558.7,532.7 L560.6,532.7 L562.6,532.7 L564.5,532.7 L566.4,532.7 L568.4,532.7 L570.3,532.7 L572.2,532.7 L574.2,532.7 L576.1,532.7 L578.0,532.7 L580.0,532.7 L581.9,532.7 L583.8,532.7 L585.8,532.7 L587.7,532.7 L589.6,532.7 L591.5,532.7 L593.5,532.7 L595.4,532.7 L597.3,532.7 L599.3,532.7 L601.2,532.7 L603.1,532.7 L605.1,532.7 L607.0,532.7 L608.9,532.7 L610.9,532.7 L612.8,532.7 L614.7,532.7 L616.7,532.7 L618.6,532.7 L620.5,532.7 L622.5,532.7 L624.4,532.7 L626.3,532.7 L628.3,532.7 L630.2,532.7 L632.1,532.7 L634.0,532.7 L636.0,532.7 L637.9,532.7 L639.8,532.7 L641.8,532.7 L643.7,532.7 L645.6,532.7 L647.6,532.7 L649.5,532.7 L651.4,532.7 L653.4,532.7 L655.3,532.7 L657.2,532.7 L659.2,532.7 L661.1,532.7 L663.0,532.7 L665.0,532.7 L666.9,532.7 L668.8,532.7 L670.8,532.7 L672.7,532.7 L674.6,532.7 L676.6,532.7 L678.5,532.7 L680.4,532.7 L682.3,532.7 L684.3,532.7 L686.2,532.7 L688.1,532.7 L690.1,532.7 L692.0,532.7 L693.9,532.7 L695.9,532.7 L697.8,532.7 L699.7,532.7 L701.7,532.7 L703.6,532.7 L705.5,532.7 L707.5,532.7 L709.4,532.7 L711.3,532.7 L713.3,532.7 L715.2,532.7 L717.1,532.7 L719.1,532.7 L721.0,532.7 L722.9,532.7 L724.8,532.7 L726.8,532.7 L728.7,532.7 L730.6,532.7 L732.6,532.7 L734.5,532.7 L736.4,532.7 L738.4,532.7 L740.3,532.7 L742.2,532.7 L744.2,532.7 L746.1,532.7 L748.0,532.7 L750.0,532.7 L751.9,532.7 L753.8,532.7 L755.8,532.7 L757.7,532.7 L759.6,532.7 L761.6,532.7 L763.5,532.7 L765.4,532.7 L767.3,532.7 L769.3,532.7 L771.2,532.7 L773.1,532.7 L775.1,532.7 L777.0,532.7 L778.9,532.7 L780.9,532.7 L782.8,532.6 L784.7,532.6 L786.7,532.6 L788.6,532.6 L790.5,532.5 L792.5,532.4 L794.4,532.4 L796.3,532.3 L798.3,532.2 L800.2,532.2 L802.1,532.1 L804.1,532.0 L806.0,531.9 L807.9,531.8 L809.9,531.6 L811.8,531.5 L813.7,531.4 L815.6,531.3 L817.6,531.1 L819.5,531.0 L821.4,530.9 L823.4,530.7 L825.3,530.6 L827.2,530.4 L829.2,530.2 L831.1,530.1 L833.0,529.9 L835.0,529.7 L836.9,529.4 L838.8,529.2 L840.8,528.9 L842.7,528.6 L844.6,528.2 L846.6,527.8 L848.5,527.4 L850.4,527.0 L852.4,526.5 L854.3,526.0 L856.2,525.5 L858.1,524.9 L860.1,524.2 L862.0,523.5 L863.9,522.7 L865.9,521.9 L867.8,520.9 L869.7,519.8 L871.7,518.5 L873.6,517.1 L875.5,515.4 L877.5,513.5 L879.4,511.4 L881.3,509.0 L883.3,506.4 L885.2,503.7 L887.1,500.8 L889.1,497.7 L891.0,494.6 L892.9,491.3 L894.9,487.9 L896.8,484.3 L898.7,480.5 L900.6,476.4 L902.6,472.1 L904.5,467.4 L906.4,462.3 L908.4,456.9 L910.3,451.2 L912.2,445.2 L914.2,439.0 L916.1,432.7 L918.0,426.4 L920.0,420.2 L921.9,414.0 L923.8,407.9 L925.8,401.9 L927.7,396.0 L929.6,390.1 L931.6,384.4 L933.5,378.6 L935.4,372.9 L937.4,367.2 L939.3,361.3 L941.2,355.5 L943.1,349.5 L945.1,343.5 L947.0,337.4 L948.9,331.3 L950.9,325.2 L952.8,319.1 L954.7,313.0 L956.7,307.0 L958.6,301.1 L960.5,295.3 L962.5,289.8 L964.4,284.5 L966.3,279.5 L968.3,274.9 L970.2,270.7 L972.1,266.8 L974.1,263.2 L976.0,260.0 L977.9,257.1 L979.9,254.4 L981.8,252.1 L983.7,250.0 L985.7,248.2 L987.6,246.5 L989.5,245.1 L991.4,243.9 L993.4,242.9 L995.3,242.1 L997.2,241.3 L999.2,240.7 L1001.1,240.2 L1003.0,239.7 L1005.0,239.3 L1006.9,239.0 L1008.8,238.7 L1010.8,238.5 L1012.7,238.2 L1014.6,238.1 L1016.6,237.9 L1018.5,237.8 L1020.4,237.6 L1022.4,237.5 L1024.3,237.4 L1026.2,237.3 L1028.2,237.3 L1030.1,237.2 L1032.0,237.1 L1033.9,237.1 L1035.9,237.1 L1037.8,237.0 L1039.7,237.0 L1041.7,237.0 L1043.6,237.0 L1045.5,237.0 L1047.5,237.0 L1049.4,237.1 L1051.3,237.1 L1053.3,237.1 L1055.2,237.1 L1057.1,237.2 L1059.1,237.2 L1061.0,237.2 L1062.9,237.3 L1064.9,237.3 L1066.8,237.4 L1068.7,237.4 L1070.7,237.4 L1072.6,237.5 L1074.5,237.5 L1076.4,237.6 L1078.4,237.6 L1080.3,237.7 L1082.2,237.7 L1084.2,237.8 L1086.1,237.8 L1088.0,237.9 L1090.0,237.9 L1091.9,237.9 L1093.8,238.0 L1095.8,238.0 L1097.7,238.1 L1099.6,238.1 L1101.6,238.1 L1103.5,238.2 L1105.4,238.2 L1107.4,238.2 L1109.3,238.3 L1111.2,238.3 L1113.2,238.3 L1115.1,238.4 L1117.0,238.4 L1119.0,238.4 L1120.9,238.4 L1122.8,238.5 L1124.7,238.5 L1126.7,238.5 L1128.6,238.6 L1130.5,238.6 L1132.5,238.6 L1134.4,238.7 L1136.3,238.7 L1138.3,238.7 L1140.2,238.7 L1142.1,238.8 L1144.1,238.8 L1146.0,238.8 L1147.9,238.9 L1149.9,238.9 L1151.8,238.9 L1153.7,239.0 L1155.7,239.0 L1157.6,239.0 L1159.5,239.0 L1161.5,239.1 L1163.4,239.1 L1165.3,239.1 L1167.2,239.1 L1169.2,239.2 L1171.1,239.2 L1173.0,239.2 L1175.0,239.3" stroke="#4E85CC"/>
<path d="M495.0,532.7 L496.9,532.7 L498.8,532.7 L500.8,532.7 L502.7,532.7 L504.6,532.7 L506.5,532.7 L508.5,532.7 L510.4,532.7 L512.3,532.7 L514.3,532.7 L516.2,532.7 L518.1,532.7 L520.1,532.7 L522.0,532.7 L523.9,532.7 L525.9,532.7 L527.8,532.7 L529.7,532.7 L531.7,532.7 L533.6,532.7 L535.5,532.7 L537.5,532.7 L539.4,532.7 L541.3,532.7 L543.3,532.7 L545.2,532.7 L547.1,532.7 L549.0,532.7 L551.0,532.7 L552.9,532.7 L554.8,532.7 L556.8,532.7 L558.7,532.7 L560.6,532.7 L562.6,532.7 L564.5,532.7 L566.4,532.7 L568.4,532.7 L570.3,532.7 L572.2,532.7 L574.2,532.7 L576.1,532.7 L578.0,532.7 L580.0,532.7 L581.9,532.7 L583.8,532.7 L585.8,532.7 L587.7,532.7 L589.6,532.7 L591.5,532.7 L593.5,532.7 L595.4,532.7 L597.3,532.7 L599.3,532.7 L601.2,532.7 L603.1,532.7 L605.1,532.7 L607.0,532.7 L608.9,532.7 L610.9,532.7 L612.8,532.7 L614.7,532.7 L616.7,532.7 L618.6,532.7 L620.5,532.7 L622.5,532.7 L624.4,532.7 L626.3,532.7 L628.3,532.7 L630.2,532.7 L632.1,532.7 L634.0,532.7 L636.0,532.7 L637.9,532.7 L639.8,532.7 L641.8,532.7 L643.7,532.7 L645.6,532.7 L647.6,532.7 L649.5,532.7 L651.4,532.7 L653.4,532.7 L655.3,532.7 L657.2,532.7 L659.2,532.7 L661.1,532.7 L663.0,532.7 L665.0,532.7 L666.9,532.7 L668.8,532.7 L670.8,532.7 L672.7,532.7 L674.6,532.7 L676.6,532.7 L678.5,532.7 L680.4,532.7 L682.3,532.7 L684.3,532.7 L686.2,532.7 L688.1,532.7 L690.1,532.7 L692.0,532.7 L693.9,532.7 L695.9,532.7 L697.8,532.7 L699.7,532.7 L701.7,532.7 L703.6,532.7 L705.5,532.7 L707.5,532.7 L709.4,532.7 L711.3,532.7 L713.3,532.7 L715.2,532.7 L717.1,532.7 L719.1,532.7 L721.0,532.7 L722.9,532.7 L724.8,532.7 L726.8,532.7 L728.7,532.7 L730.6,532.7 L732.6,532.7 L734.5,532.7 L736.4,532.7 L738.4,532.7 L740.3,532.7 L742.2,532.7 L744.2,532.7 L746.1,532.7 L748.0,532.7 L750.0,532.7 L751.9,532.7 L753.8,532.7 L755.8,532.7 L757.7,532.7 L759.6,532.7 L761.6,532.7 L763.5,532.7 L765.4,532.7 L767.3,532.7 L769.3,532.7 L771.2,532.7 L773.1,532.7 L775.1,532.7 L777.0,532.7 L778.9,532.7 L780.9,532.7 L782.8,532.7 L784.7,532.6 L786.7,532.6 L788.6,532.6 L790.5,532.5 L792.5,532.5 L794.4,532.4 L796.3,532.4 L798.3,532.3 L800.2,532.2 L802.1,532.1 L804.1,532.0 L806.0,531.9 L807.9,531.8 L809.9,531.7 L811.8,531.6 L813.7,531.5 L815.6,531.3 L817.6,531.2 L819.5,531.1 L821.4,530.9 L823.4,530.8 L825.3,530.6 L827.2,530.5 L829.2,530.3 L831.1,530.2 L833.0,530.0 L835.0,529.8 L836.9,529.6 L838.8,529.3 L840.8,529.0 L842.7,528.7 L844.6,528.4 L846.6,528.1 L848.5,527.7 L850.4,527.3 L852.4,526.8 L854.3,526.3 L856.2,525.8 L858.1,525.2 L860.1,524.6 L862.0,523.9 L863.9,523.2 L865.9,522.4 L867.8,521.4 L869.7,520.4 L871.7,519.2 L873.6,517.9 L875.5,516.4 L877.5,514.6 L879.4,512.6 L881.3,510.4 L883.3,507.9 L885.2,505.2 L887.1,502.4 L889.1,499.5 L891.0,496.4 L892.9,493.2 L894.9,489.8 L896.8,486.3 L898.7,482.6 L900.6,478.7 L902.6,474.5 L904.5,470.1 L906.4,465.2 L908.4,459.9 L910.3,454.4 L912.2,448.5 L914.2,442.5 L916.1,436.4 L918.0,430.4 L920.0,424.4 L921.9,418.6 L923.8,412.9 L925.8,407.3 L927.7,401.8 L929.6,396.5 L931.6,391.2 L933.5,385.9 L935.4,380.7 L937.4,375.5 L939.3,370.3 L941.2,365.0 L943.1,359.8 L945.1,354.5 L947.0,349.2 L948.9,343.9 L950.9,338.5 L952.8,333.2 L954.7,328.0 L956.7,322.8 L958.6,317.7 L960.5,312.8 L962.5,308.0 L964.4,303.4 L966.3,298.9 L968.3,294.7 L970.2,290.7 L972.1,287.0 L974.1,283.5 L976.0,280.3 L977.9,277.3 L979.9,274.7 L981.8,272.3 L983.7,270.3 L985.7,268.5 L987.6,267.0 L989.5,265.7 L991.4,264.6 L993.4,263.6 L995.3,262.7 L997.2,261.8 L999.2,261.0 L1001.1,260.3 L1003.0,259.6 L1005.0,258.9 L1006.9,258.2 L1008.8,257.5 L1010.8,256.8 L1012.7,256.2 L1014.6,255.6 L1016.6,255.0 L1018.5,254.5 L1020.4,254.1 L1022.4,253.7 L1024.3,253.4 L1026.2,253.2 L1028.2,252.9 L1030.1,252.7 L1032.0,252.6 L1033.9,252.4 L1035.9,252.3 L1037.8,252.2 L1039.7,252.1 L1041.7,252.0 L1043.6,251.9 L1045.5,251.9 L1047.5,251.8 L1049.4,251.7 L1051.3,251.7 L1053.3,251.6 L1055.2,251.5 L1057.1,251.5 L1059.1,251.4 L1061.0,251.4 L1062.9,251.3 L1064.9,251.3 L1066.8,251.2 L1068.7,251.2 L1070.7,251.1 L1072.6,251.1 L1074.5,251.1 L1076.4,251.0 L1078.4,251.0 L1080.3,251.0 L1082.2,250.9 L1084.2,250.9 L1086.1,250.9 L1088.0,250.9 L1090.0,250.9 L1091.9,250.8 L1093.8,250.8 L1095.8,250.8 L1097.7,250.8 L1099.6,250.8 L1101.6,250.8 L1103.5,250.8 L1105.4,250.8 L1107.4,250.8 L1109.3,250.8 L1111.2,250.9 L1113.2,250.9 L1115.1,250.9 L1117.0,250.9 L1119.0,250.9 L1120.9,251.0 L1122.8,251.0 L1124.7,251.0 L1126.7,251.0 L1128.6,251.1 L1130.5,251.1 L1132.5,251.2 L1134.4,251.2 L1136.3,251.2 L1138.3,251.3 L1140.2,251.3 L1142.1,251.4 L1144.1,251.4 L1146.0,251.5 L1147.9,251.6 L1149.9,251.6 L1151.8,251.7 L1153.7,251.7 L1155.7,251.8 L1157.6,251.9 L1159.5,252.0 L1161.5,252.0 L1163.4,252.1 L1165.3,252.2 L1167.2,252.3 L1169.2,252.4 L1171.1,252.4 L1173.0,252.5 L1175.0,252.6" stroke="#4E85CC"/>
<path d="M495.0,532.7 L496.9,532.7 L498.8,532.7 L500.8,532.7 L502.7,532.7 L504.6,532.7 L506.5,532.7 L508.5,532.7 L510.4,532.7 L512.3,532.7 L514.3,532.7 L516.2,532.7 L518.1,532.7 L520.1,532.7 L522.0,532.7 L523.9,532.7 L525.9,532.7 L527.8,532.7 L529.7,532.7 L531.7,532.7 L533.6,532.7 L535.5,532.7 L537.5,532.7 L539.4,532.7 L541.3,532.7 L543.3,532.7 L545.2,532.7 L547.1,532.7 L549.0,532.7 L551.0,532.7 L552.9,532.7 L554.8,532.7 L556.8,532.7 L558.7,532.7 L560.6,532.7 L562.6,532.7 L564.5,532.7 L566.4,532.7 L568.4,532.7 L570.3,532.7 L572.2,532.7 L574.2,532.7 L576.1,532.7 L578.0,532.7 L580.0,532.7 L581.9,532.7 L583.8,532.7 L585.8,532.7 L587.7,532.7 L589.6,532.7 L591.5,532.7 L593.5,532.7 L595.4,532.7 L597.3,532.7 L599.3,532.7 L601.2,532.7 L603.1,532.7 L605.1,532.7 L607.0,532.7 L608.9,532.7 L610.9,532.7 L612.8,532.7 L614.7,532.7 L616.7,532.7 L618.6,532.7 L620.5,532.7 L622.5,532.7 L624.4,532.7 L626.3,532.7 L628.3,532.7 L630.2,532.7 L632.1,532.7 L634.0,532.7 L636.0,532.7 L637.9,532.7 L639.8,532.7 L641.8,532.7 L643.7,532.7 L645.6,532.7 L647.6,532.7 L649.5,532.7 L651.4,532.7 L653.4,532.7 L655.3,532.7 L657.2,532.7 L659.2,532.7 L661.1,532.7 L663.0,532.7 L665.0,532.7 L666.9,532.7 L668.8,532.7 L670.8,532.7 L672.7,532.7 L674.6,532.7 L676.6,532.7 L678.5,532.7 L680.4,532.7 L682.3,532.7 L684.3,532.7 L686.2,532.7 L688.1,532.7 L690.1,532.7 L692.0,532.7 L693.9,532.7 L695.9,532.7 L697.8,532.7 L699.7,532.7 L701.7,532.7 L703.6,532.7 L705.5,532.7 L707.5,532.7 L709.4,532.7 L711.3,532.7 L713.3,532.7 L715.2,532.7 L717.1,532.7 L719.1,532.7 L721.0,532.7 L722.9,532.7 L724.8,532.7 L726.8,532.7 L728.7,532.7 L730.6,532.7 L732.6,532.7 L734.5,532.7 L736.4,532.7 L738.4,532.7 L740.3,532.7 L742.2,532.7 L744.2,532.7 L746.1,532.7 L748.0,532.7 L750.0,532.7 L751.9,532.7 L753.8,532.7 L755.8,532.7 L757.7,532.7 L759.6,532.7 L761.6,532.7 L763.5,532.7 L765.4,532.7 L767.3,532.7 L769.3,532.7 L771.2,532.7 L773.1,532.7 L775.1,532.7 L777.0,532.7 L778.9,532.7 L780.9,532.7 L782.8,532.7 L784.7,532.7 L786.7,532.7 L788.6,532.7 L790.5,532.7 L792.5,532.7 L794.4,532.7 L796.3,532.7 L798.3,532.7 L800.2,532.7 L802.1,532.7 L804.1,532.7 L806.0,532.7 L807.9,532.7 L809.9,532.7 L811.8,532.7 L813.7,532.7 L815.6,532.7 L817.6,532.7 L819.5,532.7 L821.4,532.7 L823.4,532.7 L825.3,532.7 L827.2,532.7 L829.2,532.7 L831.1,532.7 L833.0,532.7 L835.0,532.7 L836.9,532.7 L838.8,532.7 L840.8,532.7 L842.7,532.7 L844.6,532.7 L846.6,532.7 L848.5,532.7 L850.4,532.7 L852.4,532.7 L854.3,532.6 L856.2,532.6 L858.1,532.6 L860.1,532.5 L862.0,532.5 L863.9,532.4 L865.9,532.3 L867.8,532.2 L869.7,532.1 L871.7,532.0 L873.6,531.9 L875.5,531.8 L877.5,531.6 L879.4,531.5 L881.3,531.3 L883.3,531.2 L885.2,531.0 L887.1,530.8 L889.1,530.6 L891.0,530.4 L892.9,530.1 L894.9,529.9 L896.8,529.5 L898.7,529.2 L900.6,528.7 L902.6,528.1 L904.5,527.4 L906.4,526.6 L908.4,525.6 L910.3,524.5 L912.2,523.3 L914.2,521.9 L916.1,520.3 L918.0,518.5 L920.0,516.5 L921.9,514.2 L923.8,511.7 L925.8,508.9 L927.7,505.9 L929.6,502.6 L931.6,499.2 L933.5,495.7 L935.4,492.0 L937.4,488.3 L939.3,484.5 L941.2,480.6 L943.1,476.5 L945.1,472.4 L947.0,468.1 L948.9,463.7 L950.9,459.2 L952.8,454.5 L954.7,449.7 L956.7,444.7 L958.6,439.6 L960.5,434.4 L962.5,429.1 L964.4,423.7 L966.3,418.2 L968.3,412.8 L970.2,407.4 L972.1,401.9 L974.1,396.5 L976.0,391.0 L977.9,385.4 L979.9,379.6 L981.8,373.5 L983.7,367.1 L985.7,360.5 L987.6,353.7 L989.5,346.8 L991.4,339.9 L993.4,333.0 L995.3,326.3 L997.2,319.6 L999.2,313.1 L1001.1,306.6 L1003.0,300.1 L1005.0,293.8 L1006.9,287.4 L1008.8,281.1 L1010.8,274.8 L1012.7,268.7 L1014.6,262.7 L1016.6,256.9 L1018.5,251.3 L1020.4,245.9 L1022.4,240.9 L1024.3,236.0 L1026.2,231.4 L1028.2,227.0 L1030.1,222.8 L1032.0,218.8 L1033.9,214.9 L1035.9,211.3 L1037.8,207.8 L1039.7,204.6 L1041.7,201.6 L1043.6,198.7 L1045.5,196.0 L1047.5,193.5 L1049.4,191.1 L1051.3,188.8 L1053.3,186.6 L1055.2,184.5 L1057.1,182.5 L1059.1,180.5 L1061.0,178.6 L1062.9,176.7 L1064.9,175.0 L1066.8,173.3 L1068.7,171.7 L1070.7,170.3 L1072.6,169.0 L1074.5,167.8 L1076.4,166.8 L1078.4,165.8 L1080.3,165.0 L1082.2,164.2 L1084.2,163.5 L1086.1,162.9 L1088.0,162.2 L1090.0,161.5 L1091.9,160.9 L1093.8,160.2 L1095.8,159.5 L1097.7,158.7 L1099.6,158.0 L1101.6,157.2 L1103.5,156.5 L1105.4,155.8 L1107.4,155.2 L1109.3,154.6 L1111.2,154.1 L1113.2,153.6 L1115.1,153.2 L1117.0,152.8 L1119.0,152.4 L1120.9,152.0 L1122.8,151.7 L1124.7,151.3 L1126.7,150.9 L1128.6,150.6 L1130.5,150.2 L1132.5,149.9 L1134.4,149.5 L1136.3,149.2 L1138.3,148.9 L1140.2,148.6 L1142.1,148.3 L1144.1,148.0 L1146.0,147.7 L1147.9,147.4 L1149.9,147.2 L1151.8,146.9 L1153.7,146.7 L1155.7,146.5 L1157.6,146.2 L1159.5,146.0 L1161.5,145.8 L1163.4,145.6 L1165.3,145.4 L1167.2,145.2 L1169.2,145.0 L1171.1,144.9 L1173.0,144.7 L1175.0,144.5" stroke="#4E85CC"/>
<path d="M495.0,532.7 L496.9,532.7 L498.8,532.7 L500.8,532.7 L502.7,532.7 L504.6,532.7 L506.5,532.7 L508.5,532.7 L510.4,532.7 L512.3,532.7 L514.3,532.7 L516.2,532.7 L518.1,532.7 L520.1,532.7 L522.0,532.7 L523.9,532.7 L525.9,532.7 L527.8,532.7 L529.7,532.7 L531.7,532.7 L533.6,532.7 L535.5,532.7 L537.5,532.7 L539.4,532.7 L541.3,532.7 L543.3,532.7 L545.2,532.7 L547.1,532.7 L549.0,532.7 L551.0,532.7 L552.9,532.7 L554.8,532.7 L556.8,532.7 L558.7,532.7 L560.6,532.7 L562.6,532.7 L564.5,532.7 L566.4,532.7 L568.4,532.7 L570.3,532.7 L572.2,532.7 L574.2,532.7 L576.1,532.7 L578.0,532.7 L580.0,532.7 L581.9,532.7 L583.8,532.7 L585.8,532.7 L587.7,532.7 L589.6,532.7 L591.5,532.7 L593.5,532.7 L595.4,532.7 L597.3,532.7 L599.3,532.7 L601.2,532.7 L603.1,532.7 L605.1,532.7 L607.0,532.7 L608.9,532.7 L610.9,532.7 L612.8,532.7 L614.7,532.7 L616.7,532.7 L618.6,532.7 L620.5,532.7 L622.5,532.7 L624.4,532.7 L626.3,532.7 L628.3,532.7 L630.2,532.7 L632.1,532.7 L634.0,532.7 L636.0,532.7 L637.9,532.7 L639.8,532.7 L641.8,532.7 L643.7,532.7 L645.6,532.7 L647.6,532.7 L649.5,532.7 L651.4,532.7 L653.4,532.7 L655.3,532.7 L657.2,532.7 L659.2,532.7 L661.1,532.7 L663.0,532.7 L665.0,532.7 L666.9,532.7 L668.8,532.7 L670.8,532.7 L672.7,532.7 L674.6,532.7 L676.6,532.7 L678.5,532.7 L680.4,532.7 L682.3,532.7 L684.3,532.7 L686.2,532.7 L688.1,532.7 L690.1,532.7 L692.0,532.7 L693.9,532.7 L695.9,532.7 L697.8,532.7 L699.7,532.7 L701.7,532.7 L703.6,532.7 L705.5,532.7 L707.5,532.7 L709.4,532.7 L711.3,532.7 L713.3,532.7 L715.2,532.7 L717.1,532.7 L719.1,532.7 L721.0,532.7 L722.9,532.7 L724.8,532.7 L726.8,532.7 L728.7,532.7 L730.6,532.7 L732.6,532.7 L734.5,532.7 L736.4,532.7 L738.4,532.7 L740.3,532.7 L742.2,532.7 L744.2,532.7 L746.1,532.7 L748.0,532.7 L750.0,532.7 L751.9,532.7 L753.8,532.7 L755.8,532.7 L757.7,532.7 L759.6,532.7 L761.6,532.7 L763.5,532.7 L765.4,532.7 L767.3,532.7 L769.3,532.7 L771.2,532.7 L773.1,532.7 L775.1,532.7 L777.0,532.7 L778.9,532.7 L780.9,532.7 L782.8,532.7 L784.7,532.7 L786.7,532.7 L788.6,532.7 L790.5,532.7 L792.5,532.7 L794.4,532.7 L796.3,532.7 L798.3,532.7 L800.2,532.7 L802.1,532.7 L804.1,532.7 L806.0,532.7 L807.9,532.7 L809.9,532.7 L811.8,532.7 L813.7,532.7 L815.6,532.7 L817.6,532.7 L819.5,532.7 L821.4,532.7 L823.4,532.7 L825.3,532.7 L827.2,532.7 L829.2,532.7 L831.1,532.7 L833.0,532.7 L835.0,532.7 L836.9,532.7 L838.8,532.7 L840.8,532.7 L842.7,532.7 L844.6,532.7 L846.6,532.7 L848.5,532.7 L850.4,532.7 L852.4,532.7 L854.3,532.7 L856.2,532.6 L858.1,532.6 L860.1,532.5 L862.0,532.5 L863.9,532.4 L865.9,532.4 L867.8,532.3 L869.7,532.2 L871.7,532.1 L873.6,532.0 L875.5,531.8 L877.5,531.7 L879.4,531.5 L881.3,531.4 L883.3,531.2 L885.2,531.0 L887.1,530.9 L889.1,530.7 L891.0,530.4 L892.9,530.2 L894.9,529.9 L896.8,529.6 L898.7,529.3 L900.6,528.8 L902.6,528.3 L904.5,527.7 L906.4,526.9 L908.4,526.0 L910.3,524.9 L912.2,523.7 L914.2,522.3 L916.1,520.8 L918.0,519.1 L920.0,517.2 L921.9,515.0 L923.8,512.5 L925.8,509.8 L927.7,506.9 L929.6,503.7 L931.6,500.3 L933.5,496.8 L935.4,493.2 L937.4,489.5 L939.3,485.7 L941.2,481.8 L943.1,477.8 L945.1,473.7 L947.0,469.5 L948.9,465.1 L950.9,460.7 L952.8,456.0 L954.7,451.2 L956.7,446.3 L958.6,441.3 L960.5,436.1 L962.5,430.8 L964.4,425.4 L966.3,420.0 L968.3,414.5 L970.2,409.1 L972.1,403.7 L974.1,398.3 L976.0,392.8 L977.9,387.2 L979.9,381.4 L981.8,375.5 L983.7,369.2 L985.7,362.7 L987.6,355.9 L989.5,349.0 L991.4,342.1 L993.4,335.2 L995.3,328.4 L997.2,321.7 L999.2,315.1 L1001.1,308.6 L1003.0,302.2 L1005.0,295.8 L1006.9,289.4 L1008.8,283.1 L1010.8,276.8 L1012.7,270.6 L1014.6,264.5 L1016.6,258.6 L1018.5,252.9 L1020.4,247.5 L1022.4,242.4 L1024.3,237.7 L1026.2,233.4 L1028.2,229.4 L1030.1,225.6 L1032.0,221.9 L1033.9,218.1 L1035.9,214.4 L1037.8,210.7 L1039.7,207.2 L1041.7,204.0 L1043.6,201.1 L1045.5,198.6 L1047.5,196.3 L1049.4,194.3 L1051.3,192.5 L1053.3,190.8 L1055.2,189.1 L1057.1,187.5 L1059.1,186.0 L1061.0,184.4 L1062.9,183.0 L1064.9,181.6 L1066.8,180.2 L1068.7,179.0 L1070.7,177.8 L1072.6,176.8 L1074.5,175.8 L1076.4,175.0 L1078.4,174.2 L1080.3,173.5 L1082.2,172.8 L1084.2,172.2 L1086.1,171.6 L1088.0,171.0 L1090.0,170.5 L1091.9,170.0 L1093.8,169.5 L1095.8,169.1 L1097.7,168.6 L1099.6,168.2 L1101.6,167.8 L1103.5,167.5 L1105.4,167.1 L1107.4,166.8 L1109.3,166.4 L1111.2,166.1 L1113.2,165.8 L1115.1,165.5 L1117.0,165.3 L1119.0,165.0 L1120.9,164.7 L1122.8,164.5 L1124.7,164.3 L1126.7,164.0 L1128.6,163.8 L1130.5,163.6 L1132.5,163.4 L1134.4,163.2 L1136.3,163.0 L1138.3,162.8 L1140.2,162.7 L1142.1,162.5 L1144.1,162.3 L1146.0,162.2 L1147.9,162.0 L1149.9,161.9 L1151.8,161.7 L1153.7,161.6 L1155.7,161.5 L1157.6,161.3 L1159.5,161.2 L1161.5,161.1 L1163.4,161.0 L1165.3,160.9 L1167.2,160.8 L1169.2,160.7 L1171.1,160.6 L1173.0,160.5 L1175.0,160.4" stroke="#4E85CC"/>
<path d="M495.0,532.7 L496.9,532.7 L498.8,532.7 L500.8,532.7 L502.7,532.7 L504.6,532.7 L506.5,532.7 L508.5,532.7 L510.4,532.7 L512.3,532.7 L514.3,532.7 L516.2,532.7 L518.1,532.7 L520.1,532.7 L522.0,532.7 L523.9,532.7 L525.9,532.7 L527.8,532.7 L529.7,532.7 L531.7,532.7 L533.6,532.7 L535.5,532.7 L537.5,532.7 L539.4,532.7 L541.3,532.7 L543.3,532.7 L545.2,532.7 L547.1,532.7 L549.0,532.7 L551.0,532.7 L552.9,532.7 L554.8,532.7 L556.8,532.7 L558.7,532.7 L560.6,532.7 L562.6,532.7 L564.5,532.7 L566.4,532.7 L568.4,532.7 L570.3,532.7 L572.2,532.7 L574.2,532.7 L576.1,532.7 L578.0,532.7 L580.0,532.7 L581.9,532.7 L583.8,532.7 L585.8,532.7 L587.7,532.7 L589.6,532.7 L591.5,532.7 L593.5,532.7 L595.4,532.7 L597.3,532.7 L599.3,532.7 L601.2,532.7 L603.1,532.7 L605.1,532.7 L607.0,532.7 L608.9,532.7 L610.9,532.7 L612.8,532.7 L614.7,532.7 L616.7,532.7 L618.6,532.7 L620.5,532.7 L622.5,532.7 L624.4,532.7 L626.3,532.7 L628.3,532.7 L630.2,532.7 L632.1,532.7 L634.0,532.7 L636.0,532.7 L637.9,532.7 L639.8,532.7 L641.8,532.7 L643.7,532.7 L645.6,532.7 L647.6,532.7 L649.5,532.7 L651.4,532.7 L653.4,532.7 L655.3,532.7 L657.2,532.7 L659.2,532.7 L661.1,532.7 L663.0,532.7 L665.0,532.7 L666.9,532.7 L668.8,532.7 L670.8,532.7 L672.7,532.7 L674.6,532.7 L676.6,532.7 L678.5,532.7 L680.4,532.7 L682.3,532.7 L684.3,532.7 L686.2,532.7 L688.1,532.7 L690.1,532.7 L692.0,532.7 L693.9,532.7 L695.9,532.7 L697.8,532.7 L699.7,532.7 L701.7,532.7 L703.6,532.7 L705.5,532.7 L707.5,532.7 L709.4,532.7 L711.3,532.7 L713.3,532.7 L715.2,532.7 L717.1,532.7 L719.1,532.7 L721.0,532.7 L722.9,532.7 L724.8,532.7 L726.8,532.7 L728.7,532.7 L730.6,532.7 L732.6,532.7 L734.5,532.7 L736.4,532.7 L738.4,532.7 L740.3,532.7 L742.2,532.7 L744.2,532.7 L746.1,532.7 L748.0,532.7 L750.0,532.7 L751.9,532.7 L753.8,532.7 L755.8,532.7 L757.7,532.7 L759.6,532.7 L761.6,532.7 L763.5,532.7 L765.4,532.7 L767.3,532.7 L769.3,532.7 L771.2,532.7 L773.1,532.7 L775.1,532.7 L777.0,532.7 L778.9,532.7 L780.9,532.7 L782.8,532.7 L784.7,532.7 L786.7,532.7 L788.6,532.7 L790.5,532.7 L792.5,532.7 L794.4,532.7 L796.3,532.7 L798.3,532.7 L800.2,532.7 L802.1,532.7 L804.1,532.7 L806.0,532.7 L807.9,532.7 L809.9,532.7 L811.8,532.7 L813.7,532.7 L815.6,532.7 L817.6,532.7 L819.5,532.7 L821.4,532.7 L823.4,532.7 L825.3,532.7 L827.2,532.7 L829.2,532.7 L831.1,532.7 L833.0,532.7 L835.0,532.7 L836.9,532.7 L838.8,532.7 L840.8,532.7 L842.7,532.7 L844.6,532.7 L846.6,532.7 L848.5,532.7 L850.4,532.7 L852.4,532.7 L854.3,532.7 L856.2,532.7 L858.1,532.7 L860.1,532.6 L862.0,532.6 L863.9,532.6 L865.9,532.5 L867.8,532.5 L869.7,532.4 L871.7,532.3 L873.6,532.3 L875.5,532.2 L877.5,532.1 L879.4,531.9 L881.3,531.8 L883.3,531.7 L885.2,531.5 L887.1,531.4 L889.1,531.2 L891.0,531.0 L892.9,530.8 L894.9,530.6 L896.8,530.4 L898.7,530.2 L900.6,529.9 L902.6,529.6 L904.5,529.2 L906.4,528.8 L908.4,528.2 L910.3,527.6 L912.2,526.8 L914.2,525.9 L916.1,524.8 L918.0,523.5 L920.0,522.2 L921.9,520.6 L923.8,518.9 L925.8,516.9 L927.7,514.7 L929.6,512.2 L931.6,509.4 L933.5,506.5 L935.4,503.3 L937.4,499.9 L939.3,496.4 L941.2,492.8 L943.1,489.1 L945.1,485.3 L947.0,481.4 L948.9,477.3 L950.9,473.2 L952.8,469.0 L954.7,464.6 L956.7,460.1 L958.6,455.5 L960.5,450.7 L962.5,445.7 L964.4,440.7 L966.3,435.5 L968.3,430.1 L970.2,424.7 L972.1,419.3 L974.1,413.9 L976.0,408.4 L977.9,403.0 L979.9,397.6 L981.8,392.1 L983.7,386.5 L985.7,380.7 L987.6,374.7 L989.5,368.4 L991.4,361.9 L993.4,355.1 L995.3,348.2 L997.2,341.3 L999.2,334.4 L1001.1,327.6 L1003.0,320.9 L1005.0,314.4 L1006.9,307.9 L1008.8,301.4 L1010.8,295.0 L1012.7,288.7 L1014.6,282.3 L1016.6,276.1 L1018.5,269.9 L1020.4,263.8 L1022.4,257.9 L1024.3,252.1 L1026.2,246.6 L1028.2,241.4 L1030.1,236.5 L1032.0,231.8 L1033.9,227.5 L1035.9,223.3 L1037.8,219.4 L1039.7,215.7 L1041.7,212.3 L1043.6,209.2 L1045.5,206.5 L1047.5,204.3 L1049.4,202.3 L1051.3,200.6 L1053.3,199.1 L1055.2,197.6 L1057.1,196.2 L1059.1,194.8 L1061.0,193.3 L1062.9,191.8 L1064.9,190.3 L1066.8,188.7 L1068.7,187.2 L1070.7,185.7 L1072.6,184.3 L1074.5,183.0 L1076.4,181.8 L1078.4,180.7 L1080.3,179.6 L1082.2,178.7 L1084.2,177.8 L1086.1,177.0 L1088.0,176.2 L1090.0,175.5 L1091.9,174.8 L1093.8,174.1 L1095.8,173.5 L1097.7,172.9 L1099.6,172.4 L1101.6,171.8 L1103.5,171.4 L1105.4,170.9 L1107.4,170.5 L1109.3,170.1 L1111.2,169.7 L1113.2,169.4 L1115.1,169.0 L1117.0,168.7 L1119.0,168.4 L1120.9,168.2 L1122.8,167.9 L1124.7,167.6 L1126.7,167.4 L1128.6,167.1 L1130.5,166.9 L1132.5,166.7 L1134.4,166.5 L1136.3,166.3 L1138.3,166.1 L1140.2,165.9 L1142.1,165.7 L1144.1,165.5 L1146.0,165.3 L1147.9,165.1 L1149.9,164.9 L1151.8,164.7 L1153.7,164.5 L1155.7,164.4 L1157.6,164.2 L1159.5,164.0 L1161.5,163.9 L1163.4,163.7 L1165.3,163.6 L1167.2,163.4 L1169.2,163.3 L1171.1,163.1 L1173.0,163.0 L1175.0,162.9" stroke="#4E85CC"/>
<path d="M495.0,532.7 L496.9,532.7 L498.8,532.7 L500.8,532.7 L502.7,532.7 L504.6,532.7 L506.5,532.7 L508.5,532.7 L510.4,532.7 L512.3,532.7 L514.3,532.7 L516.2,532.7 L518.1,532.7 L520.1,532.7 L522.0,532.7 L523.9,532.7 L525.9,532.7 L527.8,532.7 L529.7,532.7 L531.7,532.7 L533.6,532.7 L535.5,532.7 L537.5,532.7 L539.4,532.7 L541.3,532.7 L543.3,532.7 L545.2,532.7 L547.1,532.7 L549.0,532.7 L551.0,532.7 L552.9,532.7 L554.8,532.7 L556.8,532.7 L558.7,532.7 L560.6,532.7 L562.6,532.7 L564.5,532.7 L566.4,532.7 L568.4,532.7 L570.3,532.7 L572.2,532.7 L574.2,532.7 L576.1,532.7 L578.0,532.7 L580.0,532.7 L581.9,532.7 L583.8,532.7 L585.8,532.7 L587.7,532.7 L589.6,532.7 L591.5,532.7 L593.5,532.7 L595.4,532.7 L597.3,532.7 L599.3,532.7 L601.2,532.7 L603.1,532.7 L605.1,532.7 L607.0,532.7 L608.9,532.7 L610.9,532.7 L612.8,532.7 L614.7,532.7 L616.7,532.7 L618.6,532.7 L620.5,532.7 L622.5,532.7 L624.4,532.7 L626.3,532.7 L628.3,532.7 L630.2,532.7 L632.1,532.7 L634.0,532.7 L636.0,532.7 L637.9,532.7 L639.8,532.7 L641.8,532.7 L643.7,532.7 L645.6,532.7 L647.6,532.7 L649.5,532.7 L651.4,532.7 L653.4,532.7 L655.3,532.7 L657.2,532.7 L659.2,532.7 L661.1,532.7 L663.0,532.7 L665.0,532.7 L666.9,532.7 L668.8,532.7 L670.8,532.7 L672.7,532.7 L674.6,532.7 L676.6,532.7 L678.5,532.7 L680.4,532.7 L682.3,532.7 L684.3,532.7 L686.2,532.7 L688.1,532.7 L690.1,532.7 L692.0,532.7 L693.9,532.7 L695.9,532.7 L697.8,532.7 L699.7,532.7 L701.7,532.7 L703.6,532.7 L705.5,532.7 L707.5,532.7 L709.4,532.7 L711.3,532.7 L713.3,532.7 L715.2,532.7 L717.1,532.7 L719.1,532.7 L721.0,532.7 L722.9,532.7 L724.8,532.7 L726.8,532.7 L728.7,532.7 L730.6,532.7 L732.6,532.7 L734.5,532.7 L736.4,532.7 L738.4,532.7 L740.3,532.7 L742.2,532.7 L744.2,532.7 L746.1,532.7 L748.0,532.7 L750.0,532.7 L751.9,532.7 L753.8,532.7 L755.8,532.7 L757.7,532.7 L759.6,532.7 L761.6,532.7 L763.5,532.7 L765.4,532.7 L767.3,532.7 L769.3,532.7 L771.2,532.7 L773.1,532.7 L775.1,532.7 L777.0,532.7 L778.9,532.7 L780.9,532.7 L782.8,532.7 L784.7,532.7 L786.7,532.7 L788.6,532.7 L790.5,532.7 L792.5,532.7 L794.4,532.7 L796.3,532.7 L798.3,532.7 L800.2,532.7 L802.1,532.7 L804.1,532.7 L806.0,532.7 L807.9,532.7 L809.9,532.7 L811.8,532.7 L813.7,532.7 L815.6,532.7 L817.6,532.7 L819.5,532.7 L821.4,532.7 L823.4,532.7 L825.3,532.7 L827.2,532.7 L829.2,532.7 L831.1,532.7 L833.0,532.7 L835.0,532.7 L836.9,532.7 L838.8,532.7 L840.8,532.7 L842.7,532.7 L844.6,532.7 L846.6,532.7 L848.5,532.7 L850.4,532.7 L852.4,532.7 L854.3,532.7 L856.2,532.7 L858.1,532.7 L860.1,532.7 L862.0,532.6 L863.9,532.6 L865.9,532.6 L867.8,532.5 L869.7,532.4 L871.7,532.4 L873.6,532.3 L875.5,532.2 L877.5,532.1 L879.4,532.0 L881.3,531.9 L883.3,531.7 L885.2,531.6 L887.1,531.4 L889.1,531.3 L891.0,531.1 L892.9,530.9 L894.9,530.7 L896.8,530.5 L898.7,530.3 L900.6,530.0 L902.6,529.7 L904.5,529.4 L906.4,528.9 L908.4,528.4 L910.3,527.8 L912.2,527.1 L914.2,526.2 L916.1,525.1 L918.0,524.0 L920.0,522.6 L921.9,521.1 L923.8,519.4 L925.8,517.6 L927.7,515.4 L929.6,513.0 L931.6,510.4 L933.5,507.5 L935.4,504.3 L937.4,501.0 L939.3,497.5 L941.2,493.9 L943.1,490.3 L945.1,486.5 L947.0,482.6 L948.9,478.6 L950.9,474.6 L952.8,470.4 L954.7,466.0 L956.7,461.6 L958.6,457.0 L960.5,452.2 L962.5,447.3 L964.4,442.3 L966.3,437.1 L968.3,431.8 L970.2,426.5 L972.1,421.0 L974.1,415.6 L976.0,410.2 L977.9,404.8 L979.9,399.3 L981.8,393.9 L983.7,388.3 L985.7,382.6 L987.6,376.7 L989.5,370.5 L991.4,364.0 L993.4,357.3 L995.3,350.4 L997.2,343.5 L999.2,336.6 L1001.1,329.8 L1003.0,323.1 L1005.0,316.4 L1006.9,309.9 L1008.8,303.5 L1010.8,297.1 L1012.7,290.7 L1014.6,284.4 L1016.6,278.1 L1018.5,271.9 L1020.4,265.7 L1022.4,259.8 L1024.3,254.0 L1026.2,248.5 L1028.2,243.4 L1030.1,238.6 L1032.0,234.2 L1033.9,230.1 L1035.9,226.4 L1037.8,222.8 L1039.7,219.4 L1041.7,216.1 L1043.6,213.0 L1045.5,210.1 L1047.5,207.5 L1049.4,205.2 L1051.3,203.1 L1053.3,201.2 L1055.2,199.5 L1057.1,197.9 L1059.1,196.4 L1061.0,194.8 L1062.9,193.3 L1064.9,191.8 L1066.8,190.3 L1068.7,188.8 L1070.7,187.3 L1072.6,185.8 L1074.5,184.4 L1076.4,183.1 L1078.4,181.9 L1080.3,180.8 L1082.2,179.8 L1084.2,178.8 L1086.1,177.9 L1088.0,177.1 L1090.0,176.3 L1091.9,175.6 L1093.8,174.9 L1095.8,174.2 L1097.7,173.5 L1099.6,172.9 L1101.6,172.4 L1103.5,171.8 L1105.4,171.3 L1107.4,170.8 L1109.3,170.3 L1111.2,169.9 L1113.2,169.4 L1115.1,169.0 L1117.0,168.6 L1119.0,168.2 L1120.9,167.9 L1122.8,167.5 L1124.7,167.2 L1126.7,166.9 L1128.6,166.6 L1130.5,166.3 L1132.5,166.0 L1134.4,165.7 L1136.3,165.5 L1138.3,165.2 L1140.2,165.0 L1142.1,164.7 L1144.1,164.5 L1146.0,164.3 L1147.9,164.1 L1149.9,163.9 L1151.8,163.7 L1153.7,163.5 L1155.7,163.3 L1157.6,163.1 L1159.5,162.9 L1161.5,162.7 L1163.4,162.6 L1165.3,162.4 L1167.2,162.3 L1169.2,162.1 L1171.1,162.0 L1173.0,161.9 L1175.0,161.8" stroke="#4E85CC"/>
<path d="M495.0,532.7 L496.9,532.7 L498.8,532.7 L500.8,532.7 L502.7,532.7 L504.6,532.7 L506.5,532.7 L508.5,532.7 L510.4,532.7 L512.3,532.7 L514.3,532.7 L516.2,532.7 L518.1,532.7 L520.1,532.7 L522.0,532.7 L523.9,532.7 L525.9,532.7 L527.8,532.7 L529.7,532.7 L531.7,532.7 L533.6,532.7 L535.5,532.7 L537.5,532.7 L539.4,532.7 L541.3,532.7 L543.3,532.7 L545.2,532.7 L547.1,532.7 L549.0,532.7 L551.0,532.7 L552.9,532.7 L554.8,532.7 L556.8,532.7 L558.7,532.7 L560.6,532.7 L562.6,532.7 L564.5,532.7 L566.4,532.7 L568.4,532.7 L570.3,532.7 L572.2,532.7 L574.2,532.7 L576.1,532.7 L578.0,532.7 L580.0,532.7 L581.9,532.7 L583.8,532.7 L585.8,532.7 L587.7,532.7 L589.6,532.7 L591.5,532.7 L593.5,532.7 L595.4,532.7 L597.3,532.7 L599.3,532.7 L601.2,532.7 L603.1,532.7 L605.1,532.7 L607.0,532.7 L608.9,532.7 L610.9,532.7 L612.8,532.7 L614.7,532.7 L616.7,532.7 L618.6,532.7 L620.5,532.7 L622.5,532.7 L624.4,532.7 L626.3,532.7 L628.3,532.7 L630.2,532.7 L632.1,532.7 L634.0,532.7 L636.0,532.7 L637.9,532.7 L639.8,532.7 L641.8,532.7 L643.7,532.7 L645.6,532.7 L647.6,532.7 L649.5,532.7 L651.4,532.7 L653.4,532.7 L655.3,532.7 L657.2,532.7 L659.2,532.7 L661.1,532.7 L663.0,532.7 L665.0,532.7 L666.9,532.7 L668.8,532.7 L670.8,532.7 L672.7,532.7 L674.6,532.7 L676.6,532.7 L678.5,532.7 L680.4,532.7 L682.3,532.7 L684.3,532.7 L686.2,532.7 L688.1,532.7 L690.1,532.7 L692.0,532.7 L693.9,532.7 L695.9,532.7 L697.8,532.7 L699.7,532.7 L701.7,532.7 L703.6,532.7 L705.5,532.7 L707.5,532.7 L709.4,532.7 L711.3,532.7 L713.3,532.7 L715.2,532.7 L717.1,532.7 L719.1,532.7 L721.0,532.7 L722.9,532.7 L724.8,532.7 L726.8,532.7 L728.7,532.7 L730.6,532.7 L732.6,532.7 L734.5,532.7 L736.4,532.7 L738.4,532.7 L740.3,532.7 L742.2,532.7 L744.2,532.7 L746.1,532.7 L748.0,532.7 L750.0,532.7 L751.9,532.7 L753.8,532.7 L755.8,532.7 L757.7,532.7 L759.6,532.7 L761.6,532.7 L763.5,532.7 L765.4,532.7 L767.3,532.7 L769.3,532.7 L771.2,532.7 L773.1,532.7 L775.1,532.7 L777.0,532.7 L778.9,532.7 L780.9,532.7 L782.8,532.7 L784.7,532.7 L786.7,532.7 L788.6,532.7 L790.5,532.7 L792.5,532.7 L794.4,532.7 L796.3,532.7 L798.3,532.7 L800.2,532.7 L802.1,532.7 L804.1,532.7 L806.0,532.7 L807.9,532.7 L809.9,532.7 L811.8,532.7 L813.7,532.7 L815.6,532.7 L817.6,532.7 L819.5,532.7 L821.4,532.7 L823.4,532.7 L825.3,532.7 L827.2,532.7 L829.2,532.7 L831.1,532.7 L833.0,532.7 L835.0,532.7 L836.9,532.7 L838.8,532.7 L840.8,532.7 L842.7,532.7 L844.6,532.7 L846.6,532.7 L848.5,532.7 L850.4,532.7 L852.4,532.7 L854.3,532.7 L856.2,532.7 L858.1,532.7 L860.1,532.7 L862.0,532.7 L863.9,532.7 L865.9,532.7 L867.8,532.7 L869.7,532.7 L871.7,532.7 L873.6,532.7 L875.5,532.7 L877.5,532.7 L879.4,532.7 L881.3,532.7 L883.3,532.7 L885.2,532.7 L887.1,532.7 L889.1,532.7 L891.0,532.7 L892.9,532.7 L894.9,532.7 L896.8,532.7 L898.7,532.7 L900.6,532.7 L902.6,532.6 L904.5,532.6 L906.4,532.6 L908.4,532.5 L910.3,532.5 L912.2,532.4 L914.2,532.3 L916.1,532.2 L918.0,532.1 L920.0,532.0 L921.9,531.9 L923.8,531.8 L925.8,531.7 L927.7,531.6 L929.6,531.4 L931.6,531.3 L933.5,531.1 L935.4,530.9 L937.4,530.8 L939.3,530.6 L941.2,530.4 L943.1,530.2 L945.1,529.9 L947.0,529.6 L948.9,529.3 L950.9,529.0 L952.8,528.5 L954.7,527.9 L956.7,527.3 L958.6,526.5 L960.5,525.6 L962.5,524.5 L964.4,523.3 L966.3,522.0 L968.3,520.5 L970.2,518.8 L972.1,516.8 L974.1,514.6 L976.0,512.1 L977.9,509.3 L979.9,506.2 L981.8,502.8 L983.7,499.1 L985.7,495.2 L987.6,491.1 L989.5,486.7 L991.4,482.0 L993.4,477.1 L995.3,472.0 L997.2,466.6 L999.2,461.0 L1001.1,455.3 L1003.0,449.4 L1005.0,443.5 L1006.9,437.5 L1008.8,431.4 L1010.8,425.2 L1012.7,418.9 L1014.6,412.4 L1016.6,405.7 L1018.5,398.9 L1020.4,391.9 L1022.4,384.8 L1024.3,377.6 L1026.2,370.3 L1028.2,363.0 L1030.1,355.6 L1032.0,348.3 L1033.9,341.0 L1035.9,333.7 L1037.8,326.7 L1039.7,319.8 L1041.7,313.2 L1043.6,306.9 L1045.5,300.8 L1047.5,295.0 L1049.4,289.5 L1051.3,284.1 L1053.3,279.0 L1055.2,274.0 L1057.1,269.2 L1059.1,264.5 L1061.0,260.1 L1062.9,255.7 L1064.9,251.5 L1066.8,247.4 L1068.7,243.6 L1070.7,239.9 L1072.6,236.3 L1074.5,232.9 L1076.4,229.7 L1078.4,226.6 L1080.3,223.7 L1082.2,220.8 L1084.2,218.1 L1086.1,215.5 L1088.0,212.9 L1090.0,210.5 L1091.9,208.1 L1093.8,205.9 L1095.8,203.7 L1097.7,201.7 L1099.6,199.7 L1101.6,197.7 L1103.5,195.9 L1105.4,194.1 L1107.4,192.3 L1109.3,190.7 L1111.2,189.0 L1113.2,187.5 L1115.1,185.9 L1117.0,184.5 L1119.0,183.0 L1120.9,181.6 L1122.8,180.3 L1124.7,179.0 L1126.7,177.7 L1128.6,176.4 L1130.5,175.2 L1132.5,174.1 L1134.4,172.9 L1136.3,171.8 L1138.3,170.8 L1140.2,169.7 L1142.1,168.7 L1144.1,167.7 L1146.0,166.8 L1147.9,165.9 L1149.9,165.0 L1151.8,164.1 L1153.7,163.2 L1155.7,162.4 L1157.6,161.6 L1159.5,160.8 L1161.5,160.0 L1163.4,159.2 L1165.3,158.5 L1167.2,157.8 L1169.2,157.1 L1171.1,156.5 L1173.0,155.8 L1175.0,155.2" stroke="#4E85CC"/>
<path d="M495.0,532.7 L496.9,532.7 L498.8,532.7 L500.8,532.7 L502.7,532.7 L504.6,532.7 L506.5,532.7 L508.5,532.7 L510.4,532.7 L512.3,532.7 L514.3,532.7 L516.2,532.7 L518.1,532.7 L520.1,532.7 L522.0,532.7 L523.9,532.7 L525.9,532.7 L527.8,532.7 L529.7,532.7 L531.7,532.7 L533.6,532.7 L535.5,532.7 L537.5,532.7 L539.4,532.7 L541.3,532.7 L543.3,532.7 L545.2,532.7 L547.1,532.7 L549.0,532.7 L551.0,532.7 L552.9,532.7 L554.8,532.7 L556.8,532.7 L558.7,532.7 L560.6,532.7 L562.6,532.7 L564.5,532.7 L566.4,532.7 L568.4,532.7 L570.3,532.7 L572.2,532.7 L574.2,532.7 L576.1,532.7 L578.0,532.7 L580.0,532.7 L581.9,532.7 L583.8,532.7 L585.8,532.7 L587.7,532.7 L589.6,532.7 L591.5,532.7 L593.5,532.7 L595.4,532.7 L597.3,532.7 L599.3,532.7 L601.2,532.7 L603.1,532.7 L605.1,532.7 L607.0,532.7 L608.9,532.7 L610.9,532.7 L612.8,532.7 L614.7,532.7 L616.7,532.7 L618.6,532.7 L620.5,532.7 L622.5,532.7 L624.4,532.7 L626.3,532.7 L628.3,532.7 L630.2,532.7 L632.1,532.7 L634.0,532.7 L636.0,532.7 L637.9,532.7 L639.8,532.7 L641.8,532.7 L643.7,532.7 L645.6,532.7 L647.6,532.7 L649.5,532.7 L651.4,532.7 L653.4,532.7 L655.3,532.7 L657.2,532.7 L659.2,532.7 L661.1,532.7 L663.0,532.7 L665.0,532.7 L666.9,532.7 L668.8,532.7 L670.8,532.7 L672.7,532.7 L674.6,532.7 L676.6,532.7 L678.5,532.7 L680.4,532.7 L682.3,532.7 L684.3,532.7 L686.2,532.7 L688.1,532.7 L690.1,532.7 L692.0,532.7 L693.9,532.7 L695.9,532.7 L697.8,532.7 L699.7,532.7 L701.7,532.7 L703.6,532.7 L705.5,532.7 L707.5,532.7 L709.4,532.7 L711.3,532.7 L713.3,532.7 L715.2,532.7 L717.1,532.7 L719.1,532.7 L721.0,532.7 L722.9,532.7 L724.8,532.7 L726.8,532.7 L728.7,532.7 L730.6,532.7 L732.6,532.7 L734.5,532.7 L736.4,532.7 L738.4,532.7 L740.3,532.7 L742.2,532.7 L744.2,532.7 L746.1,532.7 L748.0,532.7 L750.0,532.7 L751.9,532.7 L753.8,532.7 L755.8,532.7 L757.7,532.7 L759.6,532.7 L761.6,532.7 L763.5,532.7 L765.4,532.7 L767.3,532.7 L769.3,532.7 L771.2,532.7 L773.1,532.7 L775.1,532.7 L777.0,532.7 L778.9,532.7 L780.9,532.7 L782.8,532.7 L784.7,532.7 L786.7,532.7 L788.6,532.7 L790.5,532.7 L792.5,532.7 L794.4,532.7 L796.3,532.7 L798.3,532.7 L800.2,532.7 L802.1,532.7 L804.1,532.7 L806.0,532.7 L807.9,532.7 L809.9,532.7 L811.8,532.7 L813.7,532.7 L815.6,532.7 L817.6,532.7 L819.5,532.7 L821.4,532.7 L823.4,532.7 L825.3,532.7 L827.2,532.7 L829.2,532.7 L831.1,532.7 L833.0,532.7 L835.0,532.7 L836.9,532.7 L838.8,532.7 L840.8,532.7 L842.7,532.7 L844.6,532.7 L846.6,532.7 L848.5,532.7 L850.4,532.7 L852.4,532.7 L854.3,532.7 L856.2,532.7 L858.1,532.7 L860.1,532.7 L862.0,532.7 L863.9,532.7 L865.9,532.7 L867.8,532.7 L869.7,532.7 L871.7,532.7 L873.6,532.7 L875.5,532.7 L877.5,532.7 L879.4,532.7 L881.3,532.7 L883.3,532.7 L885.2,532.7 L887.1,532.7 L889.1,532.7 L891.0,532.7 L892.9,532.7 L894.9,532.7 L896.8,532.7 L898.7,532.7 L900.6,532.7 L902.6,532.7 L904.5,532.7 L906.4,532.7 L908.4,532.7 L910.3,532.7 L912.2,532.7 L914.2,532.7 L916.1,532.7 L918.0,532.6 L920.0,532.6 L921.9,532.5 L923.8,532.5 L925.8,532.4 L927.7,532.4 L929.6,532.3 L931.6,532.2 L933.5,532.1 L935.4,532.0 L937.4,531.9 L939.3,531.8 L941.2,531.6 L943.1,531.5 L945.1,531.3 L947.0,531.2 L948.9,531.0 L950.9,530.8 L952.8,530.6 L954.7,530.4 L956.7,530.2 L958.6,530.0 L960.5,529.7 L962.5,529.4 L964.4,529.0 L966.3,528.6 L968.3,528.1 L970.2,527.4 L972.1,526.6 L974.1,525.8 L976.0,524.7 L977.9,523.6 L979.9,522.3 L981.8,520.8 L983.7,519.1 L985.7,517.2 L987.6,515.1 L989.5,512.6 L991.4,509.9 L993.4,506.8 L995.3,503.5 L997.2,499.9 L999.2,496.1 L1001.1,492.0 L1003.0,487.6 L1005.0,483.1 L1006.9,478.2 L1008.8,473.1 L1010.8,467.7 L1012.7,462.1 L1014.6,456.3 L1016.6,450.4 L1018.5,444.3 L1020.4,438.1 L1022.4,431.7 L1024.3,425.3 L1026.2,418.8 L1028.2,412.3 L1030.1,405.6 L1032.0,398.9 L1033.9,392.2 L1035.9,385.3 L1037.8,378.3 L1039.7,371.2 L1041.7,364.0 L1043.6,356.7 L1045.5,349.2 L1047.5,341.7 L1049.4,334.3 L1051.3,326.9 L1053.3,319.8 L1055.2,312.8 L1057.1,306.1 L1059.1,299.6 L1061.0,293.5 L1062.9,287.6 L1064.9,282.0 L1066.8,276.6 L1068.7,271.5 L1070.7,266.6 L1072.6,261.9 L1074.5,257.5 L1076.4,253.3 L1078.4,249.4 L1080.3,245.7 L1082.2,242.2 L1084.2,239.0 L1086.1,236.0 L1088.0,233.2 L1090.0,230.5 L1091.9,228.1 L1093.8,225.8 L1095.8,223.6 L1097.7,221.6 L1099.6,219.7 L1101.6,218.0 L1103.5,216.3 L1105.4,214.7 L1107.4,213.2 L1109.3,211.7 L1111.2,210.4 L1113.2,209.0 L1115.1,207.8 L1117.0,206.5 L1119.0,205.4 L1120.9,204.2 L1122.8,203.1 L1124.7,202.1 L1126.7,201.0 L1128.6,200.0 L1130.5,199.0 L1132.5,198.1 L1134.4,197.2 L1136.3,196.3 L1138.3,195.4 L1140.2,194.5 L1142.1,193.7 L1144.1,192.8 L1146.0,192.0 L1147.9,191.3 L1149.9,190.5 L1151.8,189.8 L1153.7,189.0 L1155.7,188.4 L1157.6,187.7 L1159.5,187.1 L1161.5,186.4 L1163.4,185.8 L1165.3,185.3 L1167.2,184.7 L1169.2,184.2 L1171.1,183.6 L1173.0,183.1 L1175.0,182.6" stroke="#4E85CC"/>
<path d="M495.0,532.7 L496.9,532.7 L498.8,532.7 L500.8,532.7 L502.7,532.7 L504.6,532.7 L506.5,532.7 L508.5,532.7 L510.4,532.7 L512.3,532.7 L514.3,532.7 L516.2,532.7 L518.1,532.7 L520.1,532.7 L522.0,532.7 L523.9,532.7 L525.9,532.7 L527.8,532.7 L529.7,532.7 L531.7,532.7 L533.6,532.7 L535.5,532.7 L537.5,532.7 L539.4,532.7 L541.3,532.7 L543.3,532.7 L545.2,532.7 L547.1,532.7 L549.0,532.7 L551.0,532.7 L552.9,532.7 L554.8,532.7 L556.8,532.7 L558.7,532.7 L560.6,532.7 L562.6,532.7 L564.5,532.7 L566.4,532.7 L568.4,532.7 L570.3,532.7 L572.2,532.7 L574.2,532.7 L576.1,532.7 L578.0,532.7 L580.0,532.7 L581.9,532.7 L583.8,532.7 L585.8,532.7 L587.7,532.7 L589.6,532.7 L591.5,532.7 L593.5,532.7 L595.4,532.7 L597.3,532.7 L599.3,532.7 L601.2,532.7 L603.1,532.7 L605.1,532.7 L607.0,532.7 L608.9,532.7 L610.9,532.7 L612.8,532.7 L614.7,532.7 L616.7,532.7 L618.6,532.7 L620.5,532.7 L622.5,532.7 L624.4,532.7 L626.3,532.7 L628.3,532.7 L630.2,532.7 L632.1,532.7 L634.0,532.7 L636.0,532.7 L637.9,532.7 L639.8,532.7 L641.8,532.7 L643.7,532.7 L645.6,532.7 L647.6,532.7 L649.5,532.7 L651.4,532.7 L653.4,532.7 L655.3,532.7 L657.2,532.7 L659.2,532.7 L661.1,532.7 L663.0,532.7 L665.0,532.7 L666.9,532.7 L668.8,532.7 L670.8,532.7 L672.7,532.7 L674.6,532.7 L676.6,532.7 L678.5,532.7 L680.4,532.7 L682.3,532.7 L684.3,532.7 L686.2,532.7 L688.1,532.7 L690.1,532.7 L692.0,532.7 L693.9,532.7 L695.9,532.7 L697.8,532.7 L699.7,532.7 L701.7,532.7 L703.6,532.7 L705.5,532.7 L707.5,532.7 L709.4,532.7 L711.3,532.7 L713.3,532.7 L715.2,532.7 L717.1,532.7 L719.1,532.7 L721.0,532.7 L722.9,532.7 L724.8,532.7 L726.8,532.7 L728.7,532.7 L730.6,532.7 L732.6,532.7 L734.5,532.7 L736.4,532.7 L738.4,532.7 L740.3,532.7 L742.2,532.7 L744.2,532.7 L746.1,532.7 L748.0,532.7 L750.0,532.7 L751.9,532.7 L753.8,532.7 L755.8,532.7 L757.7,532.7 L759.6,532.7 L761.6,532.7 L763.5,532.7 L765.4,532.7 L767.3,532.7 L769.3,532.7 L771.2,532.7 L773.1,532.7 L775.1,532.7 L777.0,532.7 L778.9,532.7 L780.9,532.7 L782.8,532.7 L784.7,532.7 L786.7,532.7 L788.6,532.7 L790.5,532.7 L792.5,532.7 L794.4,532.7 L796.3,532.7 L798.3,532.7 L800.2,532.7 L802.1,532.7 L804.1,532.7 L806.0,532.7 L807.9,532.7 L809.9,532.7 L811.8,532.7 L813.7,532.7 L815.6,532.7 L817.6,532.7 L819.5,532.7 L821.4,532.7 L823.4,532.7 L825.3,532.7 L827.2,532.7 L829.2,532.7 L831.1,532.7 L833.0,532.7 L835.0,532.7 L836.9,532.7 L838.8,532.7 L840.8,532.7 L842.7,532.7 L844.6,532.7 L846.6,532.7 L848.5,532.7 L850.4,532.7 L852.4,532.7 L854.3,532.7 L856.2,532.7 L858.1,532.7 L860.1,532.7 L862.0,532.7 L863.9,532.7 L865.9,532.7 L867.8,532.7 L869.7,532.7 L871.7,532.7 L873.6,532.7 L875.5,532.7 L877.5,532.7 L879.4,532.7 L881.3,532.7 L883.3,532.7 L885.2,532.7 L887.1,532.7 L889.1,532.7 L891.0,532.7 L892.9,532.7 L894.9,532.7 L896.8,532.7 L898.7,532.7 L900.6,532.7 L902.6,532.7 L904.5,532.7 L906.4,532.7 L908.4,532.7 L910.3,532.7 L912.2,532.7 L914.2,532.7 L916.1,532.7 L918.0,532.6 L920.0,532.6 L921.9,532.6 L923.8,532.5 L925.8,532.5 L927.7,532.4 L929.6,532.3 L931.6,532.2 L933.5,532.1 L935.4,532.0 L937.4,531.9 L939.3,531.8 L941.2,531.7 L943.1,531.5 L945.1,531.4 L947.0,531.2 L948.9,531.0 L950.9,530.9 L952.8,530.7 L954.7,530.5 L956.7,530.3 L958.6,530.0 L960.5,529.8 L962.5,529.5 L964.4,529.1 L966.3,528.7 L968.3,528.2 L970.2,527.6 L972.1,526.8 L974.1,526.0 L976.0,525.0 L977.9,523.9 L979.9,522.6 L981.8,521.2 L983.7,519.6 L985.7,517.7 L987.6,515.6 L989.5,513.3 L991.4,510.6 L993.4,507.6 L995.3,504.3 L997.2,500.8 L999.2,497.0 L1001.1,493.0 L1003.0,488.7 L1005.0,484.2 L1006.9,479.4 L1008.8,474.3 L1010.8,469.0 L1012.7,463.5 L1014.6,457.7 L1016.6,451.8 L1018.5,445.7 L1020.4,439.6 L1022.4,433.2 L1024.3,426.8 L1026.2,420.4 L1028.2,413.8 L1030.1,407.2 L1032.0,400.6 L1033.9,393.9 L1035.9,387.3 L1037.8,380.7 L1039.7,374.1 L1041.7,367.7 L1043.6,361.2 L1045.5,354.9 L1047.5,348.6 L1049.4,342.4 L1051.3,336.3 L1053.3,330.2 L1055.2,324.2 L1057.1,318.2 L1059.1,312.3 L1061.0,306.4 L1062.9,300.6 L1064.9,294.9 L1066.8,289.2 L1068.7,283.8 L1070.7,278.5 L1072.6,273.5 L1074.5,268.8 L1076.4,264.4 L1078.4,260.2 L1080.3,256.3 L1082.2,252.7 L1084.2,249.3 L1086.1,246.2 L1088.0,243.3 L1090.0,240.7 L1091.9,238.3 L1093.8,236.1 L1095.8,234.1 L1097.7,232.3 L1099.6,230.5 L1101.6,228.9 L1103.5,227.3 L1105.4,225.8 L1107.4,224.4 L1109.3,223.0 L1111.2,221.6 L1113.2,220.3 L1115.1,219.0 L1117.0,217.8 L1119.0,216.7 L1120.9,215.6 L1122.8,214.6 L1124.7,213.6 L1126.7,212.7 L1128.6,211.8 L1130.5,210.9 L1132.5,210.1 L1134.4,209.3 L1136.3,208.6 L1138.3,207.8 L1140.2,207.1 L1142.1,206.4 L1144.1,205.8 L1146.0,205.1 L1147.9,204.5 L1149.9,203.9 L1151.8,203.3 L1153.7,202.7 L1155.7,202.1 L1157.6,201.6 L1159.5,201.1 L1161.5,200.5 L1163.4,200.0 L1165.3,199.5 L1167.2,199.1 L1169.2,198.6 L1171.1,198.2 L1173.0,197.7 L1175.0,197.3" stroke="#4E85CC"/>
<path d="M495.0,532.7 L496.9,532.7 L498.8,532.7 L500.8,532.7 L502.7,532.7 L504.6,532.7 L506.5,532.7 L508.5,532.7 L510.4,532.7 L512.3,532.7 L514.3,532.7 L516.2,532.7 L518.1,532.7 L520.1,532.7 L522.0,532.6 L523.9,532.6 L525.9,532.6 L527.8,532.6 L529.7,532.6 L531.7,532.6 L533.6,532.6 L535.5,532.6 L537.5,532.6 L539.4,532.6 L541.3,532.6 L543.3,532.6 L545.2,532.6 L547.1,532.6 L549.0,532.6 L551.0,532.6 L552.9,532.6 L554.8,532.6 L556.8,532.6 L558.7,532.6 L560.6,532.6 L562.6,532.6 L564.5,532.6 L566.4,532.6 L568.4,532.6 L570.3,532.6 L572.2,532.6 L574.2,532.6 L576.1,532.6 L578.0,532.6 L580.0,532.6 L581.9,532.6 L583.8,532.5 L585.8,532.5 L587.7,532.5 L589.6,532.5 L591.5,532.5 L593.5,532.5 L595.4,532.5 L597.3,532.5 L599.3,532.5 L601.2,532.5 L603.1,532.5 L605.1,532.5 L607.0,532.5 L608.9,532.5 L610.9,532.5 L612.8,532.5 L614.7,532.5 L616.7,532.5 L618.6,532.5 L620.5,532.5 L622.5,532.5 L624.4,532.4 L626.3,532.4 L628.3,532.4 L630.2,532.4 L632.1,532.4 L634.0,532.4 L636.0,532.4 L637.9,532.4 L639.8,532.4 L641.8,532.4 L643.7,532.4 L645.6,532.4 L647.6,532.4 L649.5,532.4 L651.4,532.4 L653.4,532.4 L655.3,532.3 L657.2,532.3 L659.2,532.3 L661.1,532.3 L663.0,532.3 L665.0,532.3 L666.9,532.3 L668.8,532.3 L670.8,532.3 L672.7,532.3 L674.6,532.3 L676.6,532.3 L678.5,532.2 L680.4,532.2 L682.3,532.2 L684.3,532.2 L686.2,532.2 L688.1,532.1 L690.1,532.1 L692.0,532.0 L693.9,532.0 L695.9,531.9 L697.8,531.8 L699.7,531.7 L701.7,531.6 L703.6,531.5 L705.5,531.4 L707.5,531.3 L709.4,531.2 L711.3,531.1 L713.3,531.0 L715.2,530.8 L717.1,530.7 L719.1,530.6 L721.0,530.4 L722.9,530.3 L724.8,530.1 L726.8,529.9 L728.7,529.7 L730.6,529.4 L732.6,529.2 L734.5,528.8 L736.4,528.5 L738.4,528.1 L740.3,527.7 L742.2,527.3 L744.2,526.9 L746.1,526.4 L748.0,525.9 L750.0,525.3 L751.9,524.8 L753.8,524.1 L755.8,523.5 L757.7,522.8 L759.6,522.0 L761.6,521.2 L763.5,520.3 L765.4,519.3 L767.3,518.3 L769.3,517.2 L771.2,515.9 L773.1,514.6 L775.1,513.1 L777.0,511.5 L778.9,509.7 L780.9,507.9 L782.8,506.0 L784.7,503.9 L786.7,501.8 L788.6,499.5 L790.5,497.1 L792.5,494.5 L794.4,491.8 L796.3,489.0 L798.3,485.9 L800.2,482.6 L802.1,479.2 L804.1,475.6 L806.0,471.8 L807.9,467.9 L809.9,463.9 L811.8,459.9 L813.7,455.7 L815.6,451.6 L817.6,447.3 L819.5,443.1 L821.4,438.8 L823.4,434.5 L825.3,430.1 L827.2,425.7 L829.2,421.3 L831.1,416.8 L833.0,412.3 L835.0,407.8 L836.9,403.4 L838.8,398.9 L840.8,394.6 L842.7,390.3 L844.6,386.1 L846.6,382.1 L848.5,378.1 L850.4,374.2 L852.4,370.5 L854.3,366.9 L856.2,363.5 L858.1,360.2 L860.1,357.1 L862.0,354.2 L863.9,351.4 L865.9,348.8 L867.8,346.3 L869.7,344.0 L871.7,341.9 L873.6,339.9 L875.5,338.0 L877.5,336.2 L879.4,334.6 L881.3,333.1 L883.3,331.8 L885.2,330.6 L887.1,329.5 L889.1,328.5 L891.0,327.6 L892.9,326.7 L894.9,326.0 L896.8,325.3 L898.7,324.7 L900.6,324.1 L902.6,323.5 L904.5,323.0 L906.4,322.5 L908.4,322.0 L910.3,321.5 L912.2,321.0 L914.2,320.5 L916.1,320.1 L918.0,319.6 L920.0,319.2 L921.9,318.8 L923.8,318.4 L925.8,318.0 L927.7,317.6 L929.6,317.3 L931.6,317.0 L933.5,316.7 L935.4,316.4 L937.4,316.2 L939.3,316.0 L941.2,315.8 L943.1,315.6 L945.1,315.5 L947.0,315.4 L948.9,315.2 L950.9,315.1 L952.8,315.0 L954.7,314.9 L956.7,314.8 L958.6,314.7 L960.5,314.6 L962.5,314.6 L964.4,314.5 L966.3,314.4 L968.3,314.3 L970.2,314.2 L972.1,314.2 L974.1,314.1 L976.0,314.1 L977.9,314.0 L979.9,314.0 L981.8,313.9 L983.7,313.9 L985.7,313.9 L987.6,313.9 L989.5,313.8 L991.4,313.8 L993.4,313.8 L995.3,313.8 L997.2,313.8 L999.2,313.8 L1001.1,313.8 L1003.0,313.8 L1005.0,313.8 L1006.9,313.8 L1008.8,313.8 L1010.8,313.8 L1012.7,313.8 L1014.6,313.8 L1016.6,313.8 L1018.5,313.8 L1020.4,313.9 L1022.4,313.9 L1024.3,313.9 L1026.2,313.9 L1028.2,313.9 L1030.1,313.9 L1032.0,313.9 L1033.9,313.9 L1035.9,313.9 L1037.8,313.9 L1039.7,313.9 L1041.7,313.9 L1043.6,313.9 L1045.5,313.9 L1047.5,314.0 L1049.4,314.0 L1051.3,314.0 L1053.3,314.0 L1055.2,314.0 L1057.1,314.0 L1059.1,314.0 L1061.0,314.0 L1062.9,314.0 L1064.9,314.0 L1066.8,314.0 L1068.7,314.0 L1070.7,314.0 L1072.6,314.1 L1074.5,314.1 L1076.4,314.1 L1078.4,314.1 L1080.3,314.1 L1082.2,314.1 L1084.2,314.1 L1086.1,314.1 L1088.0,314.1 L1090.0,314.1 L1091.9,314.1 L1093.8,314.1 L1095.8,314.1 L1097.7,314.1 L1099.6,314.2 L1101.6,314.2 L1103.5,314.2 L1105.4,314.2 L1107.4,314.2 L1109.3,314.2 L1111.2,314.2 L1113.2,314.2 L1115.1,314.2 L1117.0,314.2 L1119.0,314.2 L1120.9,314.2 L1122.8,314.2 L1124.7,314.3 L1126.7,314.3 L1128.6,314.3 L1130.5,314.3 L1132.5,314.3 L1134.4,314.3 L1136.3,314.3 L1138.3,314.3 L1140.2,314.3 L1142.1,314.3 L1144.1,314.3 L1146.0,314.3 L1147.9,314.4 L1149.9,314.4 L1151.8,314.4 L1153.7,314.4 L1155.7,314.4 L1157.6,314.4 L1159.5,314.4 L1161.5,314.4 L1163.4,314.4 L1165.3,314.4 L1167.2,314.4 L1169.2,314.5 L1171.1,314.5 L1173.0,314.5 L1175.0,314.5" stroke="#9E277A"/>
<path d="M495.0,532.7 L496.9,532.7 L498.8,532.7 L500.8,532.7 L502.7,532.7 L504.6,532.7 L506.5,532.7 L508.5,532.7 L510.4,532.7 L512.3,532.7 L514.3,532.7 L516.2,532.7 L518.1,532.7 L520.1,532.7 L522.0,532.6 L523.9,532.6 L525.9,532.6 L527.8,532.6 L529.7,532.6 L531.7,532.6 L533.6,532.6 L535.5,532.6 L537.5,532.6 L539.4,532.6 L541.3,532.6 L543.3,532.6 L545.2,532.6 L547.1,532.6 L549.0,532.6 L551.0,532.6 L552.9,532.6 L554.8,532.6 L556.8,532.6 L558.7,532.6 L560.6,532.6 L562.6,532.6 L564.5,532.6 L566.4,532.6 L568.4,532.6 L570.3,532.6 L572.2,532.6 L574.2,532.6 L576.1,532.6 L578.0,532.6 L580.0,532.6 L581.9,532.6 L583.8,532.6 L585.8,532.5 L587.7,532.5 L589.6,532.5 L591.5,532.5 L593.5,532.5 L595.4,532.5 L597.3,532.5 L599.3,532.5 L601.2,532.5 L603.1,532.5 L605.1,532.5 L607.0,532.5 L608.9,532.5 L610.9,532.5 L612.8,532.5 L614.7,532.5 L616.7,532.5 L618.6,532.5 L620.5,532.5 L622.5,532.5 L624.4,532.5 L626.3,532.4 L628.3,532.4 L630.2,532.4 L632.1,532.4 L634.0,532.4 L636.0,532.4 L637.9,532.4 L639.8,532.4 L641.8,532.4 L643.7,532.4 L645.6,532.4 L647.6,532.4 L649.5,532.4 L651.4,532.4 L653.4,532.4 L655.3,532.4 L657.2,532.3 L659.2,532.3 L661.1,532.3 L663.0,532.3 L665.0,532.3 L666.9,532.3 L668.8,532.3 L670.8,532.3 L672.7,532.3 L674.6,532.3 L676.6,532.3 L678.5,532.3 L680.4,532.2 L682.3,532.2 L684.3,532.2 L686.2,532.2 L688.1,532.1 L690.1,532.1 L692.0,532.1 L693.9,532.0 L695.9,531.9 L697.8,531.9 L699.7,531.8 L701.7,531.7 L703.6,531.6 L705.5,531.5 L707.5,531.4 L709.4,531.3 L711.3,531.2 L713.3,531.1 L715.2,530.9 L717.1,530.8 L719.1,530.7 L721.0,530.5 L722.9,530.4 L724.8,530.2 L726.8,530.0 L728.7,529.8 L730.6,529.6 L732.6,529.4 L734.5,529.1 L736.4,528.8 L738.4,528.4 L740.3,528.0 L742.2,527.6 L744.2,527.2 L746.1,526.7 L748.0,526.3 L750.0,525.8 L751.9,525.2 L753.8,524.6 L755.8,524.0 L757.7,523.3 L759.6,522.6 L761.6,521.8 L763.5,521.0 L765.4,520.1 L767.3,519.1 L769.3,518.0 L771.2,516.9 L773.1,515.6 L775.1,514.2 L777.0,512.7 L778.9,511.0 L780.9,509.3 L782.8,507.4 L784.7,505.5 L786.7,503.4 L788.6,501.2 L790.5,498.9 L792.5,496.5 L794.4,493.9 L796.3,491.1 L798.3,488.2 L800.2,485.1 L802.1,481.8 L804.1,478.3 L806.0,474.7 L807.9,470.9 L809.9,467.0 L811.8,463.0 L813.7,458.9 L815.6,454.8 L817.6,450.6 L819.5,446.4 L821.4,442.2 L823.4,437.9 L825.3,433.6 L827.2,429.2 L829.2,424.8 L831.1,420.4 L833.0,416.0 L835.0,411.5 L836.9,407.0 L838.8,402.6 L840.8,398.2 L842.7,393.9 L844.6,389.7 L846.6,385.6 L848.5,381.5 L850.4,377.6 L852.4,373.8 L854.3,370.2 L856.2,366.7 L858.1,363.3 L860.1,360.1 L862.0,357.1 L863.9,354.2 L865.9,351.4 L867.8,348.9 L869.7,346.5 L871.7,344.3 L873.6,342.2 L875.5,340.2 L877.5,338.4 L879.4,336.7 L881.3,335.1 L883.3,333.7 L885.2,332.4 L887.1,331.2 L889.1,330.1 L891.0,329.2 L892.9,328.3 L894.9,327.5 L896.8,326.8 L898.7,326.1 L900.6,325.5 L902.6,324.9 L904.5,324.4 L906.4,323.9 L908.4,323.4 L910.3,322.9 L912.2,322.4 L914.2,321.9 L916.1,321.5 L918.0,321.0 L920.0,320.6 L921.9,320.1 L923.8,319.7 L925.8,319.3 L927.7,319.0 L929.6,318.6 L931.6,318.3 L933.5,318.0 L935.4,317.7 L937.4,317.4 L939.3,317.2 L941.2,317.0 L943.1,316.8 L945.1,316.7 L947.0,316.5 L948.9,316.4 L950.9,316.3 L952.8,316.2 L954.7,316.1 L956.7,316.0 L958.6,315.9 L960.5,315.8 L962.5,315.7 L964.4,315.6 L966.3,315.5 L968.3,315.5 L970.2,315.4 L972.1,315.3 L974.1,315.3 L976.0,315.2 L977.9,315.1 L979.9,315.1 L981.8,315.1 L983.7,315.0 L985.7,315.0 L987.6,315.0 L989.5,314.9 L991.4,314.9 L993.4,314.9 L995.3,314.9 L997.2,314.9 L999.2,314.9 L1001.1,314.9 L1003.0,314.9 L1005.0,314.9 L1006.9,314.9 L1008.8,314.9 L1010.8,314.9 L1012.7,314.9 L1014.6,314.9 L1016.6,314.9 L1018.5,314.9 L1020.4,314.9 L1022.4,314.9 L1024.3,315.0 L1026.2,315.0 L1028.2,315.0 L1030.1,315.0 L1032.0,315.0 L1033.9,315.0 L1035.9,315.0 L1037.8,315.0 L1039.7,315.0 L1041.7,315.0 L1043.6,315.0 L1045.5,315.0 L1047.5,315.0 L1049.4,315.1 L1051.3,315.1 L1053.3,315.1 L1055.2,315.1 L1057.1,315.1 L1059.1,315.1 L1061.0,315.1 L1062.9,315.1 L1064.9,315.1 L1066.8,315.1 L1068.7,315.1 L1070.7,315.1 L1072.6,315.1 L1074.5,315.1 L1076.4,315.2 L1078.4,315.2 L1080.3,315.2 L1082.2,315.2 L1084.2,315.2 L1086.1,315.2 L1088.0,315.2 L1090.0,315.2 L1091.9,315.2 L1093.8,315.2 L1095.8,315.2 L1097.7,315.2 L1099.6,315.2 L1101.6,315.2 L1103.5,315.3 L1105.4,315.3 L1107.4,315.3 L1109.3,315.3 L1111.2,315.3 L1113.2,315.3 L1115.1,315.3 L1117.0,315.3 L1119.0,315.3 L1120.9,315.3 L1122.8,315.3 L1124.7,315.3 L1126.7,315.4 L1128.6,315.4 L1130.5,315.4 L1132.5,315.4 L1134.4,315.4 L1136.3,315.4 L1138.3,315.4 L1140.2,315.4 L1142.1,315.4 L1144.1,315.4 L1146.0,315.4 L1147.9,315.4 L1149.9,315.5 L1151.8,315.5 L1153.7,315.5 L1155.7,315.5 L1157.6,315.5 L1159.5,315.5 L1161.5,315.5 L1163.4,315.5 L1165.3,315.5 L1167.2,315.5 L1169.2,315.5 L1171.1,315.6 L1173.0,315.6 L1175.0,315.6" stroke="#9E277A"/>
<path d="M495.0,532.7 L496.9,532.7 L498.8,532.7 L500.8,532.7 L502.7,532.7 L504.6,532.7 L506.5,532.7 L508.5,532.7 L510.4,532.7 L512.3,532.7 L514.3,532.7 L516.2,532.7 L518.1,532.7 L520.1,532.7 L522.0,532.6 L523.9,532.6 L525.9,532.6 L527.8,532.6 L529.7,532.6 L531.7,532.6 L533.6,532.6 L535.5,532.6 L537.5,532.6 L539.4,532.6 L541.3,532.6 L543.3,532.6 L545.2,532.6 L547.1,532.6 L549.0,532.6 L551.0,532.6 L552.9,532.6 L554.8,532.6 L556.8,532.6 L558.7,532.6 L560.6,532.6 L562.6,532.6 L564.5,532.6 L566.4,532.6 L568.4,532.6 L570.3,532.6 L572.2,532.6 L574.2,532.6 L576.1,532.6 L578.0,532.6 L580.0,532.6 L581.9,532.6 L583.8,532.6 L585.8,532.5 L587.7,532.5 L589.6,532.5 L591.5,532.5 L593.5,532.5 L595.4,532.5 L597.3,532.5 L599.3,532.5 L601.2,532.5 L603.1,532.5 L605.1,532.5 L607.0,532.5 L608.9,532.5 L610.9,532.5 L612.8,532.5 L614.7,532.5 L616.7,532.5 L618.6,532.5 L620.5,532.5 L622.5,532.5 L624.4,532.5 L626.3,532.4 L628.3,532.4 L630.2,532.4 L632.1,532.4 L634.0,532.4 L636.0,532.4 L637.9,532.4 L639.8,532.4 L641.8,532.4 L643.7,532.4 L645.6,532.4 L647.6,532.4 L649.5,532.4 L651.4,532.4 L653.4,532.4 L655.3,532.4 L657.2,532.3 L659.2,532.3 L661.1,532.3 L663.0,532.3 L665.0,532.3 L666.9,532.3 L668.8,532.3 L670.8,532.3 L672.7,532.3 L674.6,532.3 L676.6,532.3 L678.5,532.3 L680.4,532.3 L682.3,532.2 L684.3,532.2 L686.2,532.2 L688.1,532.2 L690.1,532.1 L692.0,532.1 L693.9,532.0 L695.9,532.0 L697.8,531.9 L699.7,531.8 L701.7,531.8 L703.6,531.7 L705.5,531.6 L707.5,531.5 L709.4,531.4 L711.3,531.3 L713.3,531.1 L715.2,531.0 L717.1,530.9 L719.1,530.8 L721.0,530.6 L722.9,530.5 L724.8,530.3 L726.8,530.1 L728.7,530.0 L730.6,529.7 L732.6,529.5 L734.5,529.3 L736.4,529.0 L738.4,528.6 L740.3,528.3 L742.2,527.9 L744.2,527.5 L746.1,527.0 L748.0,526.6 L750.0,526.1 L751.9,525.5 L753.8,525.0 L755.8,524.4 L757.7,523.7 L759.6,523.0 L761.6,522.3 L763.5,521.5 L765.4,520.6 L767.3,519.7 L769.3,518.7 L771.2,517.6 L773.1,516.4 L775.1,515.1 L777.0,513.6 L778.9,512.1 L780.9,510.4 L782.8,508.6 L784.7,506.7 L786.7,504.7 L788.6,502.6 L790.5,500.3 L792.5,498.0 L794.4,495.5 L796.3,492.8 L798.3,490.0 L800.2,487.0 L802.1,483.8 L804.1,480.5 L806.0,476.9 L807.9,473.2 L809.9,469.3 L811.8,465.4 L813.7,461.3 L815.6,457.2 L817.6,453.1 L819.5,448.9 L821.4,444.6 L823.4,440.4 L825.3,436.0 L827.2,431.7 L829.2,427.3 L831.1,422.9 L833.0,418.4 L835.0,413.9 L836.9,409.4 L838.8,404.9 L840.8,400.5 L842.7,396.1 L844.6,391.9 L846.6,387.7 L848.5,383.6 L850.4,379.7 L852.4,375.9 L854.3,372.2 L856.2,368.6 L858.1,365.2 L860.1,361.9 L862.0,358.8 L863.9,355.8 L865.9,352.9 L867.8,350.3 L869.7,347.7 L871.7,345.3 L873.6,343.1 L875.5,340.9 L877.5,338.9 L879.4,337.0 L881.3,335.2 L883.3,333.6 L885.2,332.0 L887.1,330.5 L889.1,329.2 L891.0,327.9 L892.9,326.6 L894.9,325.4 L896.8,324.3 L898.7,323.3 L900.6,322.3 L902.6,321.3 L904.5,320.4 L906.4,319.5 L908.4,318.6 L910.3,317.8 L912.2,317.0 L914.2,316.3 L916.1,315.5 L918.0,314.8 L920.0,314.2 L921.9,313.5 L923.8,312.8 L925.8,312.2 L927.7,311.6 L929.6,311.0 L931.6,310.4 L933.5,309.8 L935.4,309.3 L937.4,308.7 L939.3,308.2 L941.2,307.6 L943.1,307.1 L945.1,306.6 L947.0,306.1 L948.9,305.6 L950.9,305.1 L952.8,304.6 L954.7,304.2 L956.7,303.8 L958.6,303.4 L960.5,303.1 L962.5,302.7 L964.4,302.4 L966.3,302.1 L968.3,301.8 L970.2,301.5 L972.1,301.2 L974.1,301.0 L976.0,300.7 L977.9,300.5 L979.9,300.2 L981.8,300.0 L983.7,299.8 L985.7,299.5 L987.6,299.3 L989.5,299.1 L991.4,298.9 L993.4,298.7 L995.3,298.5 L997.2,298.3 L999.2,298.1 L1001.1,297.9 L1003.0,297.7 L1005.0,297.5 L1006.9,297.3 L1008.8,297.2 L1010.8,297.0 L1012.7,296.8 L1014.6,296.7 L1016.6,296.5 L1018.5,296.3 L1020.4,296.2 L1022.4,296.0 L1024.3,295.9 L1026.2,295.7 L1028.2,295.6 L1030.1,295.5 L1032.0,295.3 L1033.9,295.2 L1035.9,295.1 L1037.8,295.0 L1039.7,294.8 L1041.7,294.7 L1043.6,294.6 L1045.5,294.5 L1047.5,294.5 L1049.4,294.4 L1051.3,294.3 L1053.3,294.2 L1055.2,294.1 L1057.1,294.0 L1059.1,294.0 L1061.0,293.9 L1062.9,293.8 L1064.9,293.8 L1066.8,293.7 L1068.7,293.7 L1070.7,293.6 L1072.6,293.6 L1074.5,293.5 L1076.4,293.5 L1078.4,293.4 L1080.3,293.4 L1082.2,293.4 L1084.2,293.3 L1086.1,293.3 L1088.0,293.3 L1090.0,293.2 L1091.9,293.2 L1093.8,293.2 L1095.8,293.2 L1097.7,293.1 L1099.6,293.1 L1101.6,293.1 L1103.5,293.0 L1105.4,293.0 L1107.4,293.0 L1109.3,293.0 L1111.2,292.9 L1113.2,292.9 L1115.1,292.9 L1117.0,292.9 L1119.0,292.9 L1120.9,292.8 L1122.8,292.8 L1124.7,292.8 L1126.7,292.8 L1128.6,292.8 L1130.5,292.7 L1132.5,292.7 L1134.4,292.7 L1136.3,292.7 L1138.3,292.7 L1140.2,292.6 L1142.1,292.6 L1144.1,292.6 L1146.0,292.6 L1147.9,292.6 L1149.9,292.6 L1151.8,292.6 L1153.7,292.6 L1155.7,292.6 L1157.6,292.5 L1159.5,292.5 L1161.5,292.5 L1163.4,292.5 L1165.3,292.5 L1167.2,292.5 L1169.2,292.5 L1171.1,292.5 L1173.0,292.5 L1175.0,292.5" stroke="#9E277A"/>
<path d="M495.0,532.7 L496.9,532.7 L498.8,532.7 L500.8,532.7 L502.7,532.7 L504.6,532.7 L506.5,532.7 L508.5,532.7 L510.4,532.7 L512.3,532.7 L514.3,532.7 L516.2,532.7 L518.1,532.7 L520.1,532.7 L522.0,532.7 L523.9,532.7 L525.9,532.7 L527.8,532.7 L529.7,532.7 L531.7,532.7 L533.6,532.7 L535.5,532.7 L537.5,532.7 L539.4,532.7 L541.3,532.7 L543.3,532.7 L545.2,532.7 L547.1,532.7 L549.0,532.7 L551.0,532.7 L552.9,532.7 L554.8,532.7 L556.8,532.7 L558.7,532.7 L560.6,532.7 L562.6,532.7 L564.5,532.7 L566.4,532.7 L568.4,532.7 L570.3,532.7 L572.2,532.7 L574.2,532.7 L576.1,532.7 L578.0,532.7 L580.0,532.7 L581.9,532.7 L583.8,532.7 L585.8,532.7 L587.7,532.7 L589.6,532.7 L591.5,532.7 L593.5,532.7 L595.4,532.7 L597.3,532.7 L599.3,532.7 L601.2,532.7 L603.1,532.7 L605.1,532.7 L607.0,532.7 L608.9,532.7 L610.9,532.7 L612.8,532.7 L614.7,532.7 L616.7,532.7 L618.6,532.7 L620.5,532.7 L622.5,532.7 L624.4,532.7 L626.3,532.7 L628.3,532.7 L630.2,532.7 L632.1,532.7 L634.0,532.7 L636.0,532.7 L637.9,532.7 L639.8,532.7 L641.8,532.7 L643.7,532.7 L645.6,532.7 L647.6,532.7 L649.5,532.7 L651.4,532.7 L653.4,532.7 L655.3,532.7 L657.2,532.7 L659.2,532.7 L661.1,532.7 L663.0,532.7 L665.0,532.7 L666.9,532.7 L668.8,532.7 L670.8,532.7 L672.7,532.7 L674.6,532.7 L676.6,532.7 L678.5,532.7 L680.4,532.7 L682.3,532.7 L684.3,532.7 L686.2,532.7 L688.1,532.7 L690.1,532.7 L692.0,532.7 L693.9,532.7 L695.9,532.7 L697.8,532.7 L699.7,532.7 L701.7,532.7 L703.6,532.7 L705.5,532.7 L707.5,532.7 L709.4,532.7 L711.3,532.7 L713.3,532.7 L715.2,532.7 L717.1,532.7 L719.1,532.7 L721.0,532.7 L722.9,532.7 L724.8,532.6 L726.8,532.6 L728.7,532.6 L730.6,532.6 L732.6,532.5 L734.5,532.4 L736.4,532.4 L738.4,532.3 L740.3,532.2 L742.2,532.2 L744.2,532.1 L746.1,532.0 L748.0,531.9 L750.0,531.8 L751.9,531.6 L753.8,531.5 L755.8,531.4 L757.7,531.3 L759.6,531.1 L761.6,531.0 L763.5,530.9 L765.4,530.7 L767.3,530.6 L769.3,530.4 L771.2,530.2 L773.1,530.1 L775.1,529.9 L777.0,529.7 L778.9,529.4 L780.9,529.2 L782.8,528.9 L784.7,528.6 L786.7,528.2 L788.6,527.8 L790.5,527.4 L792.5,527.0 L794.4,526.5 L796.3,526.0 L798.3,525.5 L800.2,524.9 L802.1,524.2 L804.1,523.5 L806.0,522.7 L807.9,521.8 L809.9,520.9 L811.8,519.8 L813.7,518.5 L815.6,517.1 L817.6,515.4 L819.5,513.5 L821.4,511.4 L823.4,509.0 L825.3,506.4 L827.2,503.7 L829.2,500.8 L831.1,497.7 L833.0,494.6 L835.0,491.3 L836.9,487.9 L838.8,484.3 L840.8,480.5 L842.7,476.5 L844.6,472.2 L846.6,467.5 L848.5,462.5 L850.4,457.1 L852.4,451.3 L854.3,445.2 L856.2,438.7 L858.1,432.0 L860.1,425.0 L862.0,417.9 L863.9,410.6 L865.9,403.2 L867.8,395.8 L869.7,388.4 L871.7,381.0 L873.6,373.6 L875.5,366.2 L877.5,358.7 L879.4,351.1 L881.3,343.3 L883.3,335.4 L885.2,327.4 L887.1,319.5 L889.1,311.8 L891.0,304.3 L892.9,297.3 L894.9,290.6 L896.8,284.3 L898.7,278.4 L900.6,272.8 L902.6,267.5 L904.5,262.5 L906.4,257.7 L908.4,253.2 L910.3,248.9 L912.2,245.0 L914.2,241.3 L916.1,237.9 L918.0,234.8 L920.0,231.8 L921.9,229.0 L923.8,226.4 L925.8,223.8 L927.7,221.3 L929.6,218.9 L931.6,216.6 L933.5,214.4 L935.4,212.2 L937.4,210.1 L939.3,208.1 L941.2,206.1 L943.1,204.2 L945.1,202.3 L947.0,200.5 L948.9,198.8 L950.9,197.1 L952.8,195.6 L954.7,194.0 L956.7,192.6 L958.6,191.2 L960.5,189.9 L962.5,188.7 L964.4,187.6 L966.3,186.6 L968.3,185.7 L970.2,184.8 L972.1,184.0 L974.1,183.3 L976.0,182.6 L977.9,182.0 L979.9,181.4 L981.8,180.8 L983.7,180.3 L985.7,179.8 L987.6,179.3 L989.5,178.8 L991.4,178.4 L993.4,177.9 L995.3,177.5 L997.2,177.1 L999.2,176.8 L1001.1,176.4 L1003.0,176.1 L1005.0,175.7 L1006.9,175.4 L1008.8,175.1 L1010.8,174.8 L1012.7,174.5 L1014.6,174.2 L1016.6,174.0 L1018.5,173.7 L1020.4,173.5 L1022.4,173.3 L1024.3,173.0 L1026.2,172.9 L1028.2,172.7 L1030.1,172.5 L1032.0,172.3 L1033.9,172.2 L1035.9,172.0 L1037.8,171.8 L1039.7,171.7 L1041.7,171.5 L1043.6,171.4 L1045.5,171.3 L1047.5,171.1 L1049.4,171.0 L1051.3,170.9 L1053.3,170.7 L1055.2,170.6 L1057.1,170.5 L1059.1,170.4 L1061.0,170.3 L1062.9,170.2 L1064.9,170.1 L1066.8,170.1 L1068.7,170.0 L1070.7,169.9 L1072.6,169.9 L1074.5,169.8 L1076.4,169.8 L1078.4,169.7 L1080.3,169.7 L1082.2,169.7 L1084.2,169.6 L1086.1,169.6 L1088.0,169.6 L1090.0,169.5 L1091.9,169.5 L1093.8,169.5 L1095.8,169.5 L1097.7,169.5 L1099.6,169.4 L1101.6,169.4 L1103.5,169.4 L1105.4,169.4 L1107.4,169.4 L1109.3,169.3 L1111.2,169.3 L1113.2,169.3 L1115.1,169.3 L1117.0,169.3 L1119.0,169.2 L1120.9,169.2 L1122.8,169.2 L1124.7,169.2 L1126.7,169.2 L1128.6,169.2 L1130.5,169.2 L1132.5,169.1 L1134.4,169.1 L1136.3,169.1 L1138.3,169.1 L1140.2,169.1 L1142.1,169.1 L1144.1,169.1 L1146.0,169.1 L1147.9,169.1 L1149.9,169.1 L1151.8,169.1 L1153.7,169.0 L1155.7,169.0 L1157.6,169.0 L1159.5,169.0 L1161.5,169.0 L1163.4,169.0 L1165.3,169.0 L1167.2,169.0 L1169.2,169.0 L1171.1,169.0 L1173.0,169.0 L1175.0,169.0" stroke="#9E277A"/>
<path d="M495.0,532.7 L496.9,532.7 L498.8,532.7 L500.8,532.7 L502.7,532.7 L504.6,532.7 L506.5,532.7 L508.5,532.7 L510.4,532.7 L512.3,532.7 L514.3,532.7 L516.2,532.7 L518.1,532.7 L520.1,532.7 L522.0,532.7 L523.9,532.7 L525.9,532.7 L527.8,532.7 L529.7,532.7 L531.7,532.7 L533.6,532.7 L535.5,532.7 L537.5,532.7 L539.4,532.7 L541.3,532.7 L543.3,532.7 L545.2,532.7 L547.1,532.7 L549.0,532.7 L551.0,532.7 L552.9,532.7 L554.8,532.7 L556.8,532.7 L558.7,532.7 L560.6,532.7 L562.6,532.7 L564.5,532.7 L566.4,532.7 L568.4,532.7 L570.3,532.7 L572.2,532.7 L574.2,532.7 L576.1,532.7 L578.0,532.7 L580.0,532.7 L581.9,532.7 L583.8,532.7 L585.8,532.7 L587.7,532.7 L589.6,532.7 L591.5,532.7 L593.5,532.7 L595.4,532.7 L597.3,532.7 L599.3,532.7 L601.2,532.7 L603.1,532.7 L605.1,532.7 L607.0,532.7 L608.9,532.7 L610.9,532.7 L612.8,532.7 L614.7,532.7 L616.7,532.7 L618.6,532.7 L620.5,532.7 L622.5,532.7 L624.4,532.7 L626.3,532.7 L628.3,532.7 L630.2,532.7 L632.1,532.7 L634.0,532.7 L636.0,532.7 L637.9,532.7 L639.8,532.7 L641.8,532.7 L643.7,532.7 L645.6,532.7 L647.6,532.7 L649.5,532.7 L651.4,532.7 L653.4,532.7 L655.3,532.7 L657.2,532.7 L659.2,532.7 L661.1,532.7 L663.0,532.7 L665.0,532.7 L666.9,532.7 L668.8,532.7 L670.8,532.7 L672.7,532.7 L674.6,532.7 L676.6,532.7 L678.5,532.7 L680.4,532.7 L682.3,532.7 L684.3,532.7 L686.2,532.7 L688.1,532.7 L690.1,532.7 L692.0,532.7 L693.9,532.7 L695.9,532.7 L697.8,532.7 L699.7,532.7 L701.7,532.7 L703.6,532.7 L705.5,532.7 L707.5,532.7 L709.4,532.7 L711.3,532.7 L713.3,532.7 L715.2,532.7 L717.1,532.7 L719.1,532.7 L721.0,532.7 L722.9,532.6 L724.8,532.6 L726.8,532.6 L728.7,532.5 L730.6,532.5 L732.6,532.4 L734.5,532.3 L736.4,532.3 L738.4,532.2 L740.3,532.1 L742.2,532.0 L744.2,531.9 L746.1,531.8 L748.0,531.7 L750.0,531.6 L751.9,531.5 L753.8,531.3 L755.8,531.2 L757.7,531.1 L759.6,530.9 L761.6,530.8 L763.5,530.6 L765.4,530.5 L767.3,530.3 L769.3,530.1 L771.2,529.9 L773.1,529.7 L775.1,529.5 L777.0,529.3 L778.9,529.0 L780.9,528.7 L782.8,528.4 L784.7,528.0 L786.7,527.6 L788.6,527.2 L790.5,526.7 L792.5,526.2 L794.4,525.7 L796.3,525.1 L798.3,524.5 L800.2,523.8 L802.1,523.1 L804.1,522.2 L806.0,521.3 L807.9,520.2 L809.9,519.0 L811.8,517.7 L813.7,516.1 L815.6,514.3 L817.6,512.2 L819.5,510.0 L821.4,507.5 L823.4,504.8 L825.3,501.9 L827.2,499.0 L829.2,495.9 L831.1,492.6 L833.0,489.3 L835.0,485.8 L836.9,482.1 L838.8,478.1 L840.8,473.9 L842.7,469.5 L844.6,464.6 L846.6,459.3 L848.5,453.7 L850.4,447.7 L852.4,441.2 L854.3,434.4 L856.2,427.3 L858.1,419.9 L860.1,412.2 L862.0,404.4 L863.9,396.5 L865.9,388.7 L867.8,381.1 L869.7,373.7 L871.7,366.7 L873.6,360.0 L875.5,353.8 L877.5,348.0 L879.4,342.6 L881.3,337.5 L883.3,332.7 L885.2,328.0 L887.1,323.4 L889.1,318.8 L891.0,314.2 L892.9,309.6 L894.9,305.2 L896.8,300.8 L898.7,296.6 L900.6,292.6 L902.6,288.8 L904.5,285.2 L906.4,281.8 L908.4,278.6 L910.3,275.6 L912.2,272.8 L914.2,270.1 L916.1,267.7 L918.0,265.4 L920.0,263.3 L921.9,261.3 L923.8,259.4 L925.8,257.8 L927.7,256.2 L929.6,254.8 L931.6,253.6 L933.5,252.4 L935.4,251.4 L937.4,250.4 L939.3,249.5 L941.2,248.7 L943.1,247.9 L945.1,247.2 L947.0,246.5 L948.9,245.9 L950.9,245.4 L952.8,244.9 L954.7,244.5 L956.7,244.0 L958.6,243.7 L960.5,243.3 L962.5,242.9 L964.4,242.6 L966.3,242.2 L968.3,241.9 L970.2,241.5 L972.1,241.2 L974.1,240.8 L976.0,240.5 L977.9,240.1 L979.9,239.8 L981.8,239.5 L983.7,239.2 L985.7,238.9 L987.6,238.6 L989.5,238.4 L991.4,238.1 L993.4,237.9 L995.3,237.7 L997.2,237.5 L999.2,237.3 L1001.1,237.1 L1003.0,236.9 L1005.0,236.8 L1006.9,236.7 L1008.8,236.6 L1010.8,236.5 L1012.7,236.4 L1014.6,236.4 L1016.6,236.4 L1018.5,236.4 L1020.4,236.4 L1022.4,236.5 L1024.3,236.5 L1026.2,236.6 L1028.2,236.6 L1030.1,236.7 L1032.0,236.8 L1033.9,236.9 L1035.9,237.0 L1037.8,237.1 L1039.7,237.1 L1041.7,237.2 L1043.6,237.3 L1045.5,237.4 L1047.5,237.5 L1049.4,237.6 L1051.3,237.7 L1053.3,237.8 L1055.2,237.9 L1057.1,238.0 L1059.1,238.0 L1061.0,238.1 L1062.9,238.2 L1064.9,238.3 L1066.8,238.3 L1068.7,238.4 L1070.7,238.5 L1072.6,238.5 L1074.5,238.6 L1076.4,238.7 L1078.4,238.7 L1080.3,238.8 L1082.2,238.8 L1084.2,238.9 L1086.1,239.0 L1088.0,239.0 L1090.0,239.1 L1091.9,239.2 L1093.8,239.2 L1095.8,239.3 L1097.7,239.3 L1099.6,239.4 L1101.6,239.5 L1103.5,239.5 L1105.4,239.6 L1107.4,239.7 L1109.3,239.7 L1111.2,239.8 L1113.2,239.8 L1115.1,239.9 L1117.0,240.0 L1119.0,240.0 L1120.9,240.1 L1122.8,240.1 L1124.7,240.2 L1126.7,240.2 L1128.6,240.3 L1130.5,240.4 L1132.5,240.4 L1134.4,240.5 L1136.3,240.5 L1138.3,240.6 L1140.2,240.6 L1142.1,240.7 L1144.1,240.7 L1146.0,240.8 L1147.9,240.8 L1149.9,240.9 L1151.8,240.9 L1153.7,241.0 L1155.7,241.0 L1157.6,241.1 L1159.5,241.1 L1161.5,241.2 L1163.4,241.2 L1165.3,241.3 L1167.2,241.3 L1169.2,241.4 L1171.1,241.4 L1173.0,241.5 L1175.0,241.5" stroke="#9E277A"/>
<path d="M495.0,532.7 L496.9,532.7 L498.8,532.7 L500.8,532.7 L502.7,532.7 L504.6,532.7 L506.5,532.7 L508.5,532.7 L510.4,532.7 L512.3,532.7 L514.3,532.7 L516.2,532.7 L518.1,532.7 L520.1,532.7 L522.0,532.7 L523.9,532.7 L525.9,532.7 L527.8,532.7 L529.7,532.7 L531.7,532.7 L533.6,532.7 L535.5,532.7 L537.5,532.7 L539.4,532.7 L541.3,532.7 L543.3,532.7 L545.2,532.7 L547.1,532.7 L549.0,532.7 L551.0,532.7 L552.9,532.7 L554.8,532.7 L556.8,532.7 L558.7,532.7 L560.6,532.7 L562.6,532.7 L564.5,532.7 L566.4,532.7 L568.4,532.7 L570.3,532.7 L572.2,532.7 L574.2,532.7 L576.1,532.7 L578.0,532.7 L580.0,532.7 L581.9,532.7 L583.8,532.7 L585.8,532.7 L587.7,532.7 L589.6,532.7 L591.5,532.7 L593.5,532.7 L595.4,532.7 L597.3,532.7 L599.3,532.7 L601.2,532.7 L603.1,532.7 L605.1,532.7 L607.0,532.7 L608.9,532.7 L610.9,532.7 L612.8,532.7 L614.7,532.7 L616.7,532.7 L618.6,532.7 L620.5,532.7 L622.5,532.7 L624.4,532.7 L626.3,532.7 L628.3,532.7 L630.2,532.7 L632.1,532.7 L634.0,532.7 L636.0,532.7 L637.9,532.7 L639.8,532.7 L641.8,532.7 L643.7,532.7 L645.6,532.7 L647.6,532.7 L649.5,532.7 L651.4,532.7 L653.4,532.7 L655.3,532.7 L657.2,532.7 L659.2,532.7 L661.1,532.7 L663.0,532.7 L665.0,532.7 L666.9,532.7 L668.8,532.7 L670.8,532.7 L672.7,532.7 L674.6,532.7 L676.6,532.7 L678.5,532.7 L680.4,532.7 L682.3,532.7 L684.3,532.7 L686.2,532.7 L688.1,532.7 L690.1,532.7 L692.0,532.7 L693.9,532.7 L695.9,532.7 L697.8,532.7 L699.7,532.7 L701.7,532.7 L703.6,532.7 L705.5,532.7 L707.5,532.7 L709.4,532.7 L711.3,532.7 L713.3,532.7 L715.2,532.7 L717.1,532.7 L719.1,532.7 L721.0,532.7 L722.9,532.7 L724.8,532.6 L726.8,532.6 L728.7,532.6 L730.6,532.5 L732.6,532.5 L734.5,532.4 L736.4,532.3 L738.4,532.3 L740.3,532.2 L742.2,532.1 L744.2,532.0 L746.1,531.9 L748.0,531.8 L750.0,531.7 L751.9,531.6 L753.8,531.4 L755.8,531.3 L757.7,531.2 L759.6,531.1 L761.6,530.9 L763.5,530.8 L765.4,530.6 L767.3,530.5 L769.3,530.3 L771.2,530.1 L773.1,529.9 L775.1,529.7 L777.0,529.5 L778.9,529.3 L780.9,529.0 L782.8,528.7 L784.7,528.3 L786.7,528.0 L788.6,527.6 L790.5,527.2 L792.5,526.7 L794.4,526.2 L796.3,525.7 L798.3,525.1 L800.2,524.5 L802.1,523.8 L804.1,523.0 L806.0,522.2 L807.9,521.2 L809.9,520.2 L811.8,519.0 L813.7,517.6 L815.6,516.0 L817.6,514.2 L819.5,512.2 L821.4,509.9 L823.4,507.4 L825.3,504.7 L827.2,501.8 L829.2,498.8 L831.1,495.7 L833.0,492.5 L835.0,489.2 L836.9,485.6 L838.8,481.9 L840.8,478.0 L842.7,473.8 L844.6,469.2 L846.6,464.4 L848.5,459.1 L850.4,453.5 L852.4,447.4 L854.3,441.0 L856.2,434.2 L858.1,427.0 L860.1,419.6 L862.0,411.9 L863.9,404.1 L865.9,396.2 L867.8,388.4 L869.7,380.8 L871.7,373.4 L873.6,366.4 L875.5,359.8 L877.5,353.7 L879.4,348.0 L881.3,342.7 L883.3,337.9 L885.2,333.3 L887.1,329.0 L889.1,324.7 L891.0,320.5 L892.9,316.4 L894.9,312.3 L896.8,308.2 L898.7,304.3 L900.6,300.5 L902.6,296.8 L904.5,293.3 L906.4,289.9 L908.4,286.7 L910.3,283.6 L912.2,280.8 L914.2,278.1 L916.1,275.5 L918.0,273.1 L920.0,270.9 L921.9,268.8 L923.8,266.8 L925.8,264.9 L927.7,263.1 L929.6,261.5 L931.6,259.9 L933.5,258.5 L935.4,257.1 L937.4,255.7 L939.3,254.5 L941.2,253.3 L943.1,252.1 L945.1,251.0 L947.0,250.0 L948.9,249.0 L950.9,248.1 L952.8,247.3 L954.7,246.5 L956.7,245.8 L958.6,245.1 L960.5,244.4 L962.5,243.8 L964.4,243.3 L966.3,242.7 L968.3,242.3 L970.2,241.8 L972.1,241.4 L974.1,241.0 L976.0,240.7 L977.9,240.3 L979.9,240.0 L981.8,239.7 L983.7,239.5 L985.7,239.2 L987.6,239.0 L989.5,238.8 L991.4,238.6 L993.4,238.4 L995.3,238.2 L997.2,238.0 L999.2,237.8 L1001.1,237.7 L1003.0,237.5 L1005.0,237.4 L1006.9,237.3 L1008.8,237.2 L1010.8,237.1 L1012.7,237.1 L1014.6,237.1 L1016.6,237.1 L1018.5,237.1 L1020.4,237.1 L1022.4,237.1 L1024.3,237.2 L1026.2,237.2 L1028.2,237.3 L1030.1,237.4 L1032.0,237.4 L1033.9,237.5 L1035.9,237.6 L1037.8,237.7 L1039.7,237.7 L1041.7,237.8 L1043.6,237.9 L1045.5,238.0 L1047.5,238.1 L1049.4,238.2 L1051.3,238.2 L1053.3,238.3 L1055.2,238.4 L1057.1,238.4 L1059.1,238.5 L1061.0,238.6 L1062.9,238.6 L1064.9,238.7 L1066.8,238.7 L1068.7,238.8 L1070.7,238.8 L1072.6,238.9 L1074.5,238.9 L1076.4,238.9 L1078.4,239.0 L1080.3,239.0 L1082.2,239.1 L1084.2,239.1 L1086.1,239.1 L1088.0,239.2 L1090.0,239.2 L1091.9,239.3 L1093.8,239.3 L1095.8,239.3 L1097.7,239.4 L1099.6,239.4 L1101.6,239.5 L1103.5,239.5 L1105.4,239.5 L1107.4,239.6 L1109.3,239.6 L1111.2,239.7 L1113.2,239.7 L1115.1,239.7 L1117.0,239.8 L1119.0,239.8 L1120.9,239.9 L1122.8,239.9 L1124.7,239.9 L1126.7,240.0 L1128.6,240.0 L1130.5,240.0 L1132.5,240.1 L1134.4,240.1 L1136.3,240.1 L1138.3,240.2 L1140.2,240.2 L1142.1,240.3 L1144.1,240.3 L1146.0,240.4 L1147.9,240.5 L1149.9,240.6 L1151.8,240.7 L1153.7,240.9 L1155.7,241.2 L1157.6,241.5 L1159.5,241.9 L1161.5,242.5 L1163.4,243.2 L1165.3,244.0 L1167.2,244.9 L1169.2,245.8 L1171.1,246.9 L1173.0,247.9 L1175.0,249.0" stroke="#9E277A"/>
<path d="M495.0,532.7 L496.9,532.7 L498.8,532.7 L500.8,532.7 L502.7,532.7 L504.6,532.7 L506.5,532.7 L508.5,532.7 L510.4,532.7 L512.3,532.7 L514.3,532.7 L516.2,532.7 L518.1,532.7 L520.1,532.7 L522.0,532.7 L523.9,532.7 L525.9,532.7 L527.8,532.7 L529.7,532.7 L531.7,532.7 L533.6,532.7 L535.5,532.7 L537.5,532.7 L539.4,532.7 L541.3,532.7 L543.3,532.7 L545.2,532.7 L547.1,532.7 L549.0,532.7 L551.0,532.7 L552.9,532.7 L554.8,532.7 L556.8,532.7 L558.7,532.7 L560.6,532.7 L562.6,532.7 L564.5,532.7 L566.4,532.7 L568.4,532.7 L570.3,532.7 L572.2,532.7 L574.2,532.7 L576.1,532.7 L578.0,532.7 L580.0,532.7 L581.9,532.7 L583.8,532.7 L585.8,532.7 L587.7,532.7 L589.6,532.7 L591.5,532.7 L593.5,532.7 L595.4,532.7 L597.3,532.7 L599.3,532.7 L601.2,532.7 L603.1,532.7 L605.1,532.7 L607.0,532.7 L608.9,532.7 L610.9,532.7 L612.8,532.7 L614.7,532.7 L616.7,532.7 L618.6,532.7 L620.5,532.7 L622.5,532.7 L624.4,532.7 L626.3,532.7 L628.3,532.7 L630.2,532.7 L632.1,532.7 L634.0,532.7 L636.0,532.7 L637.9,532.7 L639.8,532.7 L641.8,532.7 L643.7,532.7 L645.6,532.7 L647.6,532.7 L649.5,532.7 L651.4,532.7 L653.4,532.7 L655.3,532.7 L657.2,532.7 L659.2,532.7 L661.1,532.7 L663.0,532.7 L665.0,532.7 L666.9,532.7 L668.8,532.7 L670.8,532.7 L672.7,532.7 L674.6,532.7 L676.6,532.7 L678.5,532.7 L680.4,532.7 L682.3,532.7 L684.3,532.7 L686.2,532.7 L688.1,532.7 L690.1,532.7 L692.0,532.7 L693.9,532.7 L695.9,532.7 L697.8,532.7 L699.7,532.7 L701.7,532.7 L703.6,532.7 L705.5,532.7 L707.5,532.7 L709.4,532.7 L711.3,532.7 L713.3,532.7 L715.2,532.7 L717.1,532.7 L719.1,532.7 L721.0,532.7 L722.9,532.7 L724.8,532.7 L726.8,532.7 L728.7,532.7 L730.6,532.7 L732.6,532.7 L734.5,532.7 L736.4,532.7 L738.4,532.7 L740.3,532.7 L742.2,532.7 L744.2,532.7 L746.1,532.7 L748.0,532.7 L750.0,532.7 L751.9,532.7 L753.8,532.7 L755.8,532.7 L757.7,532.7 L759.6,532.7 L761.6,532.7 L763.5,532.7 L765.4,532.7 L767.3,532.7 L769.3,532.7 L771.2,532.7 L773.1,532.6 L775.1,532.6 L777.0,532.6 L778.9,532.5 L780.9,532.5 L782.8,532.4 L784.7,532.3 L786.7,532.3 L788.6,532.2 L790.5,532.1 L792.5,532.0 L794.4,531.9 L796.3,531.8 L798.3,531.7 L800.2,531.6 L802.1,531.5 L804.1,531.3 L806.0,531.2 L807.9,531.1 L809.9,530.9 L811.8,530.8 L813.7,530.6 L815.6,530.5 L817.6,530.3 L819.5,530.1 L821.4,529.9 L823.4,529.7 L825.3,529.5 L827.2,529.3 L829.2,529.0 L831.1,528.7 L833.0,528.4 L835.0,528.0 L836.9,527.6 L838.8,527.2 L840.8,526.7 L842.7,526.2 L844.6,525.7 L846.6,525.1 L848.5,524.5 L850.4,523.8 L852.4,523.1 L854.3,522.2 L856.2,521.3 L858.1,520.2 L860.1,519.0 L862.0,517.7 L863.9,516.1 L865.9,514.3 L867.8,512.2 L869.7,510.0 L871.7,507.5 L873.6,504.8 L875.5,501.9 L877.5,499.0 L879.4,495.9 L881.3,492.7 L883.3,489.3 L885.2,485.8 L887.1,482.1 L889.1,478.1 L891.0,473.9 L892.9,469.4 L894.9,464.6 L896.8,459.4 L898.7,453.7 L900.6,447.6 L902.6,441.2 L904.5,434.4 L906.4,427.2 L908.4,419.8 L910.3,412.3 L912.2,404.8 L914.2,397.6 L916.1,390.6 L918.0,384.0 L920.0,377.8 L921.9,372.0 L923.8,366.3 L925.8,360.8 L927.7,355.2 L929.6,349.5 L931.6,343.6 L933.5,337.5 L935.4,331.3 L937.4,324.9 L939.3,318.5 L941.2,312.0 L943.1,305.7 L945.1,299.4 L947.0,293.2 L948.9,287.2 L950.9,281.3 L952.8,275.6 L954.7,270.2 L956.7,265.0 L958.6,260.1 L960.5,255.7 L962.5,251.5 L964.4,247.6 L966.3,244.0 L968.3,240.6 L970.2,237.4 L972.1,234.4 L974.1,231.5 L976.0,228.8 L977.9,226.2 L979.9,223.8 L981.8,221.5 L983.7,219.4 L985.7,217.6 L987.6,215.8 L989.5,214.3 L991.4,212.9 L993.4,211.6 L995.3,210.5 L997.2,209.4 L999.2,208.5 L1001.1,207.6 L1003.0,206.8 L1005.0,206.0 L1006.9,205.4 L1008.8,204.7 L1010.8,204.2 L1012.7,203.7 L1014.6,203.2 L1016.6,202.8 L1018.5,202.4 L1020.4,202.1 L1022.4,201.8 L1024.3,201.6 L1026.2,201.3 L1028.2,201.1 L1030.1,201.0 L1032.0,200.8 L1033.9,200.7 L1035.9,200.6 L1037.8,200.6 L1039.7,200.6 L1041.7,200.5 L1043.6,200.5 L1045.5,200.5 L1047.5,200.5 L1049.4,200.5 L1051.3,200.5 L1053.3,200.6 L1055.2,200.6 L1057.1,200.6 L1059.1,200.6 L1061.0,200.6 L1062.9,200.6 L1064.9,200.6 L1066.8,200.6 L1068.7,200.7 L1070.7,200.7 L1072.6,200.7 L1074.5,200.7 L1076.4,200.7 L1078.4,200.7 L1080.3,200.8 L1082.2,200.8 L1084.2,200.8 L1086.1,200.8 L1088.0,200.8 L1090.0,200.9 L1091.9,200.9 L1093.8,200.9 L1095.8,200.9 L1097.7,200.9 L1099.6,201.0 L1101.6,201.0 L1103.5,201.0 L1105.4,201.0 L1107.4,201.0 L1109.3,201.1 L1111.2,201.1 L1113.2,201.1 L1115.1,201.1 L1117.0,201.1 L1119.0,201.2 L1120.9,201.2 L1122.8,201.2 L1124.7,201.2 L1126.7,201.3 L1128.6,201.3 L1130.5,201.3 L1132.5,201.4 L1134.4,201.4 L1136.3,201.4 L1138.3,201.4 L1140.2,201.5 L1142.1,201.5 L1144.1,201.5 L1146.0,201.6 L1147.9,201.6 L1149.9,201.6 L1151.8,201.7 L1153.7,201.7 L1155.7,201.7 L1157.6,201.8 L1159.5,201.8 L1161.5,201.8 L1163.4,201.9 L1165.3,201.9 L1167.2,201.9 L1169.2,202.0 L1171.1,202.0 L1173.0,202.1 L1175.0,202.1" stroke="#9E277A"/>
<path d="M495.0,532.7 L496.9,532.7 L498.8,532.7 L500.8,532.7 L502.7,532.7 L504.6,532.7 L506.5,532.7 L508.5,532.7 L510.4,532.7 L512.3,532.7 L514.3,532.7 L516.2,532.7 L518.1,532.7 L520.1,532.7 L522.0,532.7 L523.9,532.7 L525.9,532.7 L527.8,532.7 L529.7,532.7 L531.7,532.7 L533.6,532.7 L535.5,532.7 L537.5,532.7 L539.4,532.7 L541.3,532.7 L543.3,532.7 L545.2,532.7 L547.1,532.7 L549.0,532.7 L551.0,532.7 L552.9,532.7 L554.8,532.7 L556.8,532.7 L558.7,532.7 L560.6,532.7 L562.6,532.7 L564.5,532.7 L566.4,532.7 L568.4,532.7 L570.3,532.7 L572.2,532.7 L574.2,532.7 L576.1,532.7 L578.0,532.7 L580.0,532.7 L581.9,532.7 L583.8,532.7 L585.8,532.7 L587.7,532.7 L589.6,532.7 L591.5,532.7 L593.5,532.7 L595.4,532.7 L597.3,532.7 L599.3,532.7 L601.2,532.7 L603.1,532.7 L605.1,532.7 L607.0,532.7 L608.9,532.7 L610.9,532.7 L612.8,532.7 L614.7,532.7 L616.7,532.7 L618.6,532.7 L620.5,532.7 L622.5,532.7 L624.4,532.7 L626.3,532.7 L628.3,532.7 L630.2,532.7 L632.1,532.7 L634.0,532.7 L636.0,532.7 L637.9,532.7 L639.8,532.7 L641.8,532.7 L643.7,532.7 L645.6,532.7 L647.6,532.7 L649.5,532.7 L651.4,532.7 L653.4,532.7 L655.3,532.7 L657.2,532.7 L659.2,532.7 L661.1,532.7 L663.0,532.7 L665.0,532.7 L666.9,532.7 L668.8,532.7 L670.8,532.7 L672.7,532.7 L674.6,532.7 L676.6,532.7 L678.5,532.7 L680.4,532.7 L682.3,532.7 L684.3,532.7 L686.2,532.7 L688.1,532.7 L690.1,532.7 L692.0,532.7 L693.9,532.7 L695.9,532.7 L697.8,532.7 L699.7,532.7 L701.7,532.7 L703.6,532.7 L705.5,532.7 L707.5,532.7 L709.4,532.7 L711.3,532.7 L713.3,532.7 L715.2,532.7 L717.1,532.7 L719.1,532.7 L721.0,532.7 L722.9,532.7 L724.8,532.7 L726.8,532.7 L728.7,532.7 L730.6,532.7 L732.6,532.7 L734.5,532.7 L736.4,532.7 L738.4,532.7 L740.3,532.7 L742.2,532.7 L744.2,532.7 L746.1,532.7 L748.0,532.7 L750.0,532.7 L751.9,532.7 L753.8,532.7 L755.8,532.7 L757.7,532.7 L759.6,532.7 L761.6,532.7 L763.5,532.7 L765.4,532.7 L767.3,532.7 L769.3,532.7 L771.2,532.7 L773.1,532.7 L775.1,532.6 L777.0,532.6 L778.9,532.6 L780.9,532.5 L782.8,532.5 L784.7,532.4 L786.7,532.4 L788.6,532.3 L790.5,532.2 L792.5,532.1 L794.4,532.0 L796.3,531.9 L798.3,531.8 L800.2,531.7 L802.1,531.6 L804.1,531.5 L806.0,531.4 L807.9,531.2 L809.9,531.1 L811.8,530.9 L813.7,530.8 L815.6,530.7 L817.6,530.5 L819.5,530.3 L821.4,530.2 L823.4,530.0 L825.3,529.8 L827.2,529.6 L829.2,529.3 L831.1,529.0 L833.0,528.7 L835.0,528.4 L836.9,528.1 L838.8,527.7 L840.8,527.3 L842.7,526.8 L844.6,526.3 L846.6,525.8 L848.5,525.2 L850.4,524.6 L852.4,524.0 L854.3,523.2 L856.2,522.4 L858.1,521.5 L860.1,520.5 L862.0,519.3 L863.9,518.0 L865.9,516.4 L867.8,514.7 L869.7,512.7 L871.7,510.4 L873.6,508.0 L875.5,505.3 L877.5,502.5 L879.4,499.6 L881.3,496.5 L883.3,493.3 L885.2,490.0 L887.1,486.5 L889.1,482.8 L891.0,478.9 L892.9,474.8 L894.9,470.4 L896.8,465.6 L898.7,460.4 L900.6,454.8 L902.6,448.9 L904.5,442.5 L906.4,435.8 L908.4,428.7 L910.3,421.3 L912.2,413.8 L914.2,406.3 L916.1,399.0 L918.0,392.0 L920.0,385.3 L921.9,379.1 L923.8,373.1 L925.8,367.5 L927.7,361.9 L929.6,356.3 L931.6,350.6 L933.5,344.8 L935.4,338.9 L937.4,332.7 L939.3,326.4 L941.2,320.1 L943.1,313.7 L945.1,307.4 L947.0,301.3 L948.9,295.3 L950.9,289.5 L952.8,284.0 L954.7,278.8 L956.7,273.9 L958.6,269.4 L960.5,265.3 L962.5,261.6 L964.4,258.3 L966.3,255.4 L968.3,252.8 L970.2,250.6 L972.1,248.6 L974.1,246.8 L976.0,245.3 L977.9,243.9 L979.9,242.7 L981.8,241.5 L983.7,240.5 L985.7,239.6 L987.6,238.8 L989.5,238.0 L991.4,237.2 L993.4,236.5 L995.3,235.8 L997.2,235.1 L999.2,234.4 L1001.1,233.7 L1003.0,233.1 L1005.0,232.5 L1006.9,231.9 L1008.8,231.3 L1010.8,230.8 L1012.7,230.2 L1014.6,229.8 L1016.6,229.3 L1018.5,228.9 L1020.4,228.5 L1022.4,228.2 L1024.3,227.8 L1026.2,227.5 L1028.2,227.2 L1030.1,226.9 L1032.0,226.6 L1033.9,226.4 L1035.9,226.1 L1037.8,225.8 L1039.7,225.5 L1041.7,225.2 L1043.6,224.9 L1045.5,224.6 L1047.5,224.3 L1049.4,224.0 L1051.3,223.8 L1053.3,223.5 L1055.2,223.3 L1057.1,223.1 L1059.1,222.9 L1061.0,222.7 L1062.9,222.5 L1064.9,222.4 L1066.8,222.3 L1068.7,222.1 L1070.7,222.0 L1072.6,221.9 L1074.5,221.8 L1076.4,221.7 L1078.4,221.5 L1080.3,221.4 L1082.2,221.3 L1084.2,221.2 L1086.1,221.0 L1088.0,220.9 L1090.0,220.7 L1091.9,220.6 L1093.8,220.4 L1095.8,220.3 L1097.7,220.2 L1099.6,220.1 L1101.6,220.1 L1103.5,220.0 L1105.4,220.0 L1107.4,220.0 L1109.3,220.0 L1111.2,220.0 L1113.2,220.0 L1115.1,220.0 L1117.0,220.0 L1119.0,220.0 L1120.9,220.1 L1122.8,220.1 L1124.7,220.1 L1126.7,220.1 L1128.6,220.2 L1130.5,220.2 L1132.5,220.2 L1134.4,220.3 L1136.3,220.3 L1138.3,220.4 L1140.2,220.4 L1142.1,220.5 L1144.1,220.6 L1146.0,220.6 L1147.9,220.7 L1149.9,220.8 L1151.8,220.9 L1153.7,221.0 L1155.7,221.1 L1157.6,221.3 L1159.5,221.4 L1161.5,221.5 L1163.4,221.7 L1165.3,221.8 L1167.2,222.0 L1169.2,222.2 L1171.1,222.3 L1173.0,222.5 L1175.0,222.7" stroke="#9E277A"/>
<path d="M495.0,532.7 L496.9,532.7 L498.8,532.7 L500.8,532.7 L502.7,532.7 L504.6,532.7 L506.5,532.7 L508.5,532.7 L510.4,532.7 L512.3,532.7 L514.3,532.7 L516.2,532.7 L518.1,532.7 L520.1,532.7 L522.0,532.7 L523.9,532.7 L525.9,532.7 L527.8,532.7 L529.7,532.7 L531.7,532.7 L533.6,532.7 L535.5,532.7 L537.5,532.7 L539.4,532.7 L541.3,532.7 L543.3,532.7 L545.2,532.7 L547.1,532.7 L549.0,532.7 L551.0,532.7 L552.9,532.7 L554.8,532.7 L556.8,532.7 L558.7,532.7 L560.6,532.7 L562.6,532.7 L564.5,532.7 L566.4,532.7 L568.4,532.7 L570.3,532.7 L572.2,532.7 L574.2,532.7 L576.1,532.7 L578.0,532.7 L580.0,532.7 L581.9,532.7 L583.8,532.7 L585.8,532.7 L587.7,532.7 L589.6,532.7 L591.5,532.7 L593.5,532.7 L595.4,532.7 L597.3,532.7 L599.3,532.7 L601.2,532.7 L603.1,532.7 L605.1,532.7 L607.0,532.7 L608.9,532.7 L610.9,532.7 L612.8,532.7 L614.7,532.7 L616.7,532.7 L618.6,532.7 L620.5,532.7 L622.5,532.7 L624.4,532.7 L626.3,532.7 L628.3,532.7 L630.2,532.7 L632.1,532.7 L634.0,532.7 L636.0,532.7 L637.9,532.7 L639.8,532.7 L641.8,532.7 L643.7,532.7 L645.6,532.7 L647.6,532.7 L649.5,532.7 L651.4,532.7 L653.4,532.7 L655.3,532.7 L657.2,532.7 L659.2,532.7 L661.1,532.7 L663.0,532.7 L665.0,532.7 L666.9,532.7 L668.8,532.7 L670.8,532.7 L672.7,532.7 L674.6,532.7 L676.6,532.7 L678.5,532.7 L680.4,532.7 L682.3,532.7 L684.3,532.7 L686.2,532.7 L688.1,532.7 L690.1,532.7 L692.0,532.7 L693.9,532.7 L695.9,532.7 L697.8,532.7 L699.7,532.7 L701.7,532.7 L703.6,532.7 L705.5,532.7 L707.5,532.7 L709.4,532.7 L711.3,532.7 L713.3,532.7 L715.2,532.7 L717.1,532.7 L719.1,532.7 L721.0,532.7 L722.9,532.7 L724.8,532.7 L726.8,532.7 L728.7,532.7 L730.6,532.7 L732.6,532.7 L734.5,532.7 L736.4,532.7 L738.4,532.7 L740.3,532.7 L742.2,532.7 L744.2,532.7 L746.1,532.7 L748.0,532.7 L750.0,532.7 L751.9,532.7 L753.8,532.7 L755.8,532.7 L757.7,532.7 L759.6,532.7 L761.6,532.7 L763.5,532.7 L765.4,532.7 L767.3,532.7 L769.3,532.7 L771.2,532.7 L773.1,532.7 L775.1,532.7 L777.0,532.7 L778.9,532.6 L780.9,532.6 L782.8,532.6 L784.7,532.5 L786.7,532.5 L788.6,532.4 L790.5,532.3 L792.5,532.3 L794.4,532.2 L796.3,532.1 L798.3,532.0 L800.2,531.9 L802.1,531.8 L804.1,531.7 L806.0,531.6 L807.9,531.4 L809.9,531.3 L811.8,531.2 L813.7,531.1 L815.6,530.9 L817.6,530.8 L819.5,530.6 L821.4,530.5 L823.4,530.3 L825.3,530.1 L827.2,529.9 L829.2,529.7 L831.1,529.5 L833.0,529.3 L835.0,529.0 L836.9,528.7 L838.8,528.3 L840.8,528.0 L842.7,527.6 L844.6,527.2 L846.6,526.7 L848.5,526.2 L850.4,525.7 L852.4,525.1 L854.3,524.5 L856.2,523.8 L858.1,523.0 L860.1,522.2 L862.0,521.2 L863.9,520.2 L865.9,519.0 L867.8,517.6 L869.7,516.0 L871.7,514.2 L873.6,512.2 L875.5,509.9 L877.5,507.4 L879.4,504.7 L881.3,501.8 L883.3,498.8 L885.2,495.7 L887.1,492.5 L889.1,489.2 L891.0,485.6 L892.9,481.9 L894.9,478.0 L896.8,473.8 L898.7,469.2 L900.6,464.4 L902.6,459.1 L904.5,453.5 L906.4,447.4 L908.4,440.9 L910.3,434.1 L912.2,426.9 L914.2,419.5 L916.1,412.0 L918.0,404.6 L920.0,397.3 L921.9,390.4 L923.8,383.9 L925.8,377.8 L927.7,372.0 L929.6,366.4 L931.6,360.9 L933.5,355.3 L935.4,349.7 L937.4,343.9 L939.3,337.9 L941.2,331.8 L943.1,325.5 L945.1,319.3 L947.0,313.1 L948.9,307.1 L950.9,301.3 L952.8,295.8 L954.7,290.7 L956.7,285.8 L958.6,281.3 L960.5,277.1 L962.5,273.2 L964.4,269.6 L966.3,266.2 L968.3,263.1 L970.2,260.3 L972.1,257.6 L974.1,255.1 L976.0,252.8 L977.9,250.6 L979.9,248.7 L981.8,246.8 L983.7,245.2 L985.7,243.7 L987.6,242.4 L989.5,241.3 L991.4,240.4 L993.4,239.7 L995.3,239.1 L997.2,238.7 L999.2,238.4 L1001.1,238.2 L1003.0,238.1 L1005.0,237.9 L1006.9,237.8 L1008.8,237.7 L1010.8,237.7 L1012.7,237.6 L1014.6,237.5 L1016.6,237.5 L1018.5,237.5 L1020.4,237.5 L1022.4,237.5 L1024.3,237.5 L1026.2,237.5 L1028.2,237.5 L1030.1,237.5 L1032.0,237.5 L1033.9,237.6 L1035.9,237.6 L1037.8,237.6 L1039.7,237.7 L1041.7,237.7 L1043.6,237.8 L1045.5,237.8 L1047.5,237.8 L1049.4,237.9 L1051.3,237.9 L1053.3,238.0 L1055.2,238.0 L1057.1,238.0 L1059.1,238.1 L1061.0,238.1 L1062.9,238.2 L1064.9,238.2 L1066.8,238.2 L1068.7,238.3 L1070.7,238.3 L1072.6,238.4 L1074.5,238.4 L1076.4,238.4 L1078.4,238.5 L1080.3,238.5 L1082.2,238.6 L1084.2,238.6 L1086.1,238.6 L1088.0,238.7 L1090.0,238.7 L1091.9,238.8 L1093.8,238.8 L1095.8,238.8 L1097.7,238.9 L1099.6,238.9 L1101.6,239.0 L1103.5,239.0 L1105.4,239.1 L1107.4,239.1 L1109.3,239.1 L1111.2,239.2 L1113.2,239.2 L1115.1,239.3 L1117.0,239.3 L1119.0,239.4 L1120.9,239.4 L1122.8,239.5 L1124.7,239.5 L1126.7,239.6 L1128.6,239.6 L1130.5,239.7 L1132.5,239.7 L1134.4,239.7 L1136.3,239.8 L1138.3,239.8 L1140.2,239.9 L1142.1,239.9 L1144.1,240.0 L1146.0,240.0 L1147.9,240.1 L1149.9,240.1 L1151.8,240.2 L1153.7,240.2 L1155.7,240.3 L1157.6,240.4 L1159.5,240.4 L1161.5,240.5 L1163.4,240.5 L1165.3,240.6 L1167.2,240.6 L1169.2,240.7 L1171.1,240.7 L1173.0,240.8 L1175.0,240.8" stroke="#9E277A"/>
<path d="M495.0,532.7 L496.9,532.7 L498.8,532.7 L500.8,532.7 L502.7,532.7 L504.6,532.7 L506.5,532.7 L508.5,532.7 L510.4,532.7 L512.3,532.7 L514.3,532.7 L516.2,532.7 L518.1,532.7 L520.1,532.7 L522.0,532.7 L523.9,532.7 L525.9,532.7 L527.8,532.7 L529.7,532.7 L531.7,532.7 L533.6,532.7 L535.5,532.7 L537.5,532.7 L539.4,532.7 L541.3,532.7 L543.3,532.7 L545.2,532.7 L547.1,532.7 L549.0,532.7 L551.0,532.7 L552.9,532.7 L554.8,532.7 L556.8,532.7 L558.7,532.7 L560.6,532.7 L562.6,532.7 L564.5,532.7 L566.4,532.7 L568.4,532.7 L570.3,532.7 L572.2,532.7 L574.2,532.7 L576.1,532.7 L578.0,532.7 L580.0,532.7 L581.9,532.7 L583.8,532.7 L585.8,532.7 L587.7,532.7 L589.6,532.7 L591.5,532.7 L593.5,532.7 L595.4,532.7 L597.3,532.7 L599.3,532.7 L601.2,532.7 L603.1,532.7 L605.1,532.7 L607.0,532.7 L608.9,532.7 L610.9,532.7 L612.8,532.7 L614.7,532.7 L616.7,532.7 L618.6,532.7 L620.5,532.7 L622.5,532.7 L624.4,532.7 L626.3,532.7 L628.3,532.7 L630.2,532.7 L632.1,532.7 L634.0,532.7 L636.0,532.7 L637.9,532.7 L639.8,532.7 L641.8,532.7 L643.7,532.7 L645.6,532.7 L647.6,532.7 L649.5,532.7 L651.4,532.7 L653.4,532.7 L655.3,532.7 L657.2,532.7 L659.2,532.7 L661.1,532.7 L663.0,532.7 L665.0,532.7 L666.9,532.7 L668.8,532.7 L670.8,532.7 L672.7,532.7 L674.6,532.7 L676.6,532.7 L678.5,532.7 L680.4,532.7 L682.3,532.7 L684.3,532.7 L686.2,532.7 L688.1,532.7 L690.1,532.7 L692.0,532.7 L693.9,532.7 L695.9,532.7 L697.8,532.7 L699.7,532.7 L701.7,532.7 L703.6,532.7 L705.5,532.7 L707.5,532.7 L709.4,532.7 L711.3,532.7 L713.3,532.7 L715.2,532.7 L717.1,532.7 L719.1,532.7 L721.0,532.7 L722.9,532.7 L724.8,532.7 L726.8,532.7 L728.7,532.7 L730.6,532.7 L732.6,532.7 L734.5,532.7 L736.4,532.7 L738.4,532.7 L740.3,532.7 L742.2,532.7 L744.2,532.7 L746.1,532.7 L748.0,532.7 L750.0,532.7 L751.9,532.7 L753.8,532.7 L755.8,532.7 L757.7,532.7 L759.6,532.7 L761.6,532.7 L763.5,532.7 L765.4,532.7 L767.3,532.7 L769.3,532.7 L771.2,532.7 L773.1,532.7 L775.1,532.7 L777.0,532.7 L778.9,532.7 L780.9,532.7 L782.8,532.6 L784.7,532.6 L786.7,532.6 L788.6,532.5 L790.5,532.5 L792.5,532.4 L794.4,532.3 L796.3,532.2 L798.3,532.2 L800.2,532.1 L802.1,532.0 L804.1,531.9 L806.0,531.8 L807.9,531.7 L809.9,531.5 L811.8,531.4 L813.7,531.3 L815.6,531.2 L817.6,531.0 L819.5,530.9 L821.4,530.7 L823.4,530.6 L825.3,530.4 L827.2,530.3 L829.2,530.1 L831.1,529.9 L833.0,529.7 L835.0,529.5 L836.9,529.2 L838.8,528.9 L840.8,528.6 L842.7,528.3 L844.6,527.9 L846.6,527.5 L848.5,527.1 L850.4,526.6 L852.4,526.1 L854.3,525.5 L856.2,525.0 L858.1,524.3 L860.1,523.6 L862.0,522.8 L863.9,522.0 L865.9,521.0 L867.8,519.9 L869.7,518.7 L871.7,517.3 L873.6,515.6 L875.5,513.7 L877.5,511.6 L879.4,509.3 L881.3,506.7 L883.3,504.0 L885.2,501.1 L887.1,498.1 L889.1,495.0 L891.0,491.7 L892.9,488.3 L894.9,484.7 L896.8,481.0 L898.7,477.0 L900.6,472.7 L902.6,468.1 L904.5,463.2 L906.4,457.8 L908.4,452.0 L910.3,445.9 L912.2,439.3 L914.2,432.4 L916.1,425.2 L918.0,417.7 L920.0,410.2 L921.9,402.8 L923.8,395.6 L925.8,388.8 L927.7,382.4 L929.6,376.4 L931.6,370.6 L933.5,365.1 L935.4,359.6 L937.4,354.0 L939.3,348.3 L941.2,342.5 L943.1,336.5 L945.1,330.3 L947.0,324.0 L948.9,317.8 L950.9,311.6 L952.8,305.6 L954.7,299.8 L956.7,294.3 L958.6,289.0 L960.5,284.0 L962.5,279.4 L964.4,275.0 L966.3,270.9 L968.3,267.2 L970.2,263.8 L972.1,260.7 L974.1,257.8 L976.0,255.1 L977.9,252.7 L979.9,250.5 L981.8,248.5 L983.7,246.7 L985.7,245.0 L987.6,243.6 L989.5,242.4 L991.4,241.4 L993.4,240.6 L995.3,239.9 L997.2,239.5 L999.2,239.1 L1001.1,238.9 L1003.0,238.7 L1005.0,238.6 L1006.9,238.5 L1008.8,238.4 L1010.8,238.3 L1012.7,238.3 L1014.6,238.2 L1016.6,238.2 L1018.5,238.2 L1020.4,238.2 L1022.4,238.1 L1024.3,238.2 L1026.2,238.2 L1028.2,238.2 L1030.1,238.2 L1032.0,238.2 L1033.9,238.2 L1035.9,238.3 L1037.8,238.3 L1039.7,238.3 L1041.7,238.4 L1043.6,238.4 L1045.5,238.5 L1047.5,238.5 L1049.4,238.6 L1051.3,238.6 L1053.3,238.6 L1055.2,238.7 L1057.1,238.7 L1059.1,238.8 L1061.0,238.8 L1062.9,238.8 L1064.9,238.9 L1066.8,238.9 L1068.7,239.0 L1070.7,239.0 L1072.6,239.1 L1074.5,239.1 L1076.4,239.1 L1078.4,239.2 L1080.3,239.2 L1082.2,239.3 L1084.2,239.3 L1086.1,239.4 L1088.0,239.4 L1090.0,239.5 L1091.9,239.5 L1093.8,239.6 L1095.8,239.6 L1097.7,239.7 L1099.6,239.7 L1101.6,239.8 L1103.5,239.8 L1105.4,239.9 L1107.4,239.9 L1109.3,240.0 L1111.2,240.0 L1113.2,240.1 L1115.1,240.2 L1117.0,240.2 L1119.0,240.3 L1120.9,240.3 L1122.8,240.4 L1124.7,240.4 L1126.7,240.5 L1128.6,240.6 L1130.5,240.6 L1132.5,240.7 L1134.4,240.8 L1136.3,240.8 L1138.3,240.9 L1140.2,240.9 L1142.1,241.0 L1144.1,241.1 L1146.0,241.1 L1147.9,241.2 L1149.9,241.3 L1151.8,241.3 L1153.7,241.4 L1155.7,241.5 L1157.6,241.5 L1159.5,241.6 L1161.5,241.7 L1163.4,241.8 L1165.3,241.8 L1167.2,241.9 L1169.2,242.0 L1171.1,242.1 L1173.0,242.1 L1175.0,242.2" stroke="#9E277A"/>
<path d="M495.0,532.7 L496.9,532.7 L498.8,532.7 L500.8,532.7 L502.7,532.7 L504.6,532.7 L506.5,532.7 L508.5,532.7 L510.4,532.7 L512.3,532.7 L514.3,532.7 L516.2,532.7 L518.1,532.7 L520.1,532.7 L522.0,532.7 L523.9,532.7 L525.9,532.7 L527.8,532.7 L529.7,532.7 L531.7,532.7 L533.6,532.7 L535.5,532.7 L537.5,532.7 L539.4,532.7 L541.3,532.7 L543.3,532.7 L545.2,532.7 L547.1,532.7 L549.0,532.7 L551.0,532.7 L552.9,532.7 L554.8,532.7 L556.8,532.7 L558.7,532.7 L560.6,532.7 L562.6,532.7 L564.5,532.7 L566.4,532.7 L568.4,532.7 L570.3,532.7 L572.2,532.7 L574.2,532.7 L576.1,532.7 L578.0,532.7 L580.0,532.7 L581.9,532.7 L583.8,532.7 L585.8,532.7 L587.7,532.7 L589.6,532.7 L591.5,532.7 L593.5,532.7 L595.4,532.7 L597.3,532.7 L599.3,532.7 L601.2,532.7 L603.1,532.7 L605.1,532.7 L607.0,532.7 L608.9,532.7 L610.9,532.7 L612.8,532.7 L614.7,532.7 L616.7,532.7 L618.6,532.7 L620.5,532.7 L622.5,532.7 L624.4,532.7 L626.3,532.7 L628.3,532.7 L630.2,532.7 L632.1,532.7 L634.0,532.7 L636.0,532.7 L637.9,532.7 L639.8,532.7 L641.8,532.7 L643.7,532.7 L645.6,532.7 L647.6,532.7 L649.5,532.7 L651.4,532.7 L653.4,532.7 L655.3,532.7 L657.2,532.7 L659.2,532.7 L661.1,532.7 L663.0,532.7 L665.0,532.7 L666.9,532.7 L668.8,532.7 L670.8,532.7 L672.7,532.7 L674.6,532.7 L676.6,532.7 L678.5,532.7 L680.4,532.7 L682.3,532.7 L684.3,532.7 L686.2,532.7 L688.1,532.7 L690.1,532.7 L692.0,532.7 L693.9,532.7 L695.9,532.7 L697.8,532.7 L699.7,532.7 L701.7,532.7 L703.6,532.7 L705.5,532.7 L707.5,532.7 L709.4,532.7 L711.3,532.7 L713.3,532.7 L715.2,532.7 L717.1,532.7 L719.1,532.7 L721.0,532.7 L722.9,532.7 L724.8,532.7 L726.8,532.7 L728.7,532.7 L730.6,532.7 L732.6,532.7 L734.5,532.7 L736.4,532.7 L738.4,532.7 L740.3,532.7 L742.2,532.7 L744.2,532.7 L746.1,532.7 L748.0,532.7 L750.0,532.7 L751.9,532.7 L753.8,532.7 L755.8,532.7 L757.7,532.7 L759.6,532.7 L761.6,532.7 L763.5,532.7 L765.4,532.7 L767.3,532.7 L769.3,532.7 L771.2,532.7 L773.1,532.7 L775.1,532.7 L777.0,532.7 L778.9,532.7 L780.9,532.7 L782.8,532.7 L784.7,532.7 L786.7,532.7 L788.6,532.7 L790.5,532.7 L792.5,532.7 L794.4,532.7 L796.3,532.7 L798.3,532.7 L800.2,532.7 L802.1,532.7 L804.1,532.7 L806.0,532.7 L807.9,532.7 L809.9,532.7 L811.8,532.7 L813.7,532.7 L815.6,532.7 L817.6,532.7 L819.5,532.7 L821.4,532.6 L823.4,532.6 L825.3,532.6 L827.2,532.5 L829.2,532.5 L831.1,532.4 L833.0,532.4 L835.0,532.3 L836.9,532.2 L838.8,532.1 L840.8,532.1 L842.7,532.0 L844.6,531.9 L846.6,531.7 L848.5,531.6 L850.4,531.5 L852.4,531.4 L854.3,531.3 L856.2,531.1 L858.1,531.0 L860.1,530.8 L862.0,530.7 L863.9,530.5 L865.9,530.4 L867.8,530.2 L869.7,530.0 L871.7,529.8 L873.6,529.6 L875.5,529.4 L877.5,529.1 L879.4,528.8 L881.3,528.5 L883.3,528.2 L885.2,527.8 L887.1,527.4 L889.1,526.9 L891.0,526.5 L892.9,525.9 L894.9,525.4 L896.8,524.8 L898.7,524.1 L900.6,523.4 L902.6,522.6 L904.5,521.7 L906.4,520.7 L908.4,519.6 L910.3,518.3 L912.2,516.8 L914.2,515.1 L916.1,513.2 L918.0,511.0 L920.0,508.6 L921.9,506.0 L923.8,503.2 L925.8,500.3 L927.7,497.3 L929.6,494.1 L931.6,490.8 L933.5,487.3 L935.4,483.7 L937.4,479.9 L939.3,475.8 L941.2,471.4 L943.1,466.6 L945.1,461.5 L947.0,456.0 L948.9,450.2 L950.9,444.2 L952.8,438.0 L954.7,431.7 L956.7,425.3 L958.6,418.8 L960.5,412.3 L962.5,405.6 L964.4,398.8 L966.3,391.9 L968.3,384.8 L970.2,377.6 L972.1,370.3 L974.1,362.9 L976.0,355.5 L977.9,348.1 L979.9,340.6 L981.8,333.1 L983.7,325.7 L985.7,318.4 L987.6,311.2 L989.5,304.3 L991.4,297.8 L993.4,291.5 L995.3,285.6 L997.2,280.0 L999.2,274.8 L1001.1,269.9 L1003.0,265.4 L1005.0,261.1 L1006.9,257.1 L1008.8,253.4 L1010.8,249.9 L1012.7,246.5 L1014.6,243.2 L1016.6,240.0 L1018.5,236.8 L1020.4,233.7 L1022.4,230.5 L1024.3,227.4 L1026.2,224.4 L1028.2,221.4 L1030.1,218.5 L1032.0,215.7 L1033.9,213.1 L1035.9,210.6 L1037.8,208.4 L1039.7,206.3 L1041.7,204.5 L1043.6,202.9 L1045.5,201.5 L1047.5,200.3 L1049.4,199.2 L1051.3,198.3 L1053.3,197.5 L1055.2,196.8 L1057.1,196.1 L1059.1,195.6 L1061.0,195.0 L1062.9,194.6 L1064.9,194.2 L1066.8,193.8 L1068.7,193.4 L1070.7,193.1 L1072.6,192.8 L1074.5,192.5 L1076.4,192.2 L1078.4,192.0 L1080.3,191.7 L1082.2,191.4 L1084.2,191.2 L1086.1,191.0 L1088.0,190.7 L1090.0,190.5 L1091.9,190.4 L1093.8,190.2 L1095.8,190.1 L1097.7,190.0 L1099.6,190.0 L1101.6,189.9 L1103.5,189.9 L1105.4,189.9 L1107.4,189.9 L1109.3,189.9 L1111.2,189.9 L1113.2,189.9 L1115.1,189.9 L1117.0,189.9 L1119.0,189.9 L1120.9,189.9 L1122.8,189.9 L1124.7,189.9 L1126.7,189.9 L1128.6,189.9 L1130.5,189.9 L1132.5,189.9 L1134.4,189.9 L1136.3,189.9 L1138.3,189.9 L1140.2,189.9 L1142.1,189.9 L1144.1,189.9 L1146.0,189.9 L1147.9,189.9 L1149.9,189.9 L1151.8,189.9 L1153.7,189.9 L1155.7,189.9 L1157.6,190.0 L1159.5,190.0 L1161.5,190.0 L1163.4,190.0 L1165.3,190.0 L1167.2,190.0 L1169.2,190.0 L1171.1,190.0 L1173.0,190.1 L1175.0,190.1" stroke="#9E277A"/>
<path d="M495.0,532.7 L496.9,532.7 L498.8,532.7 L500.8,532.7 L502.7,532.7 L504.6,532.7 L506.5,532.7 L508.5,532.7 L510.4,532.7 L512.3,532.7 L514.3,532.7 L516.2,532.7 L518.1,532.7 L520.1,532.7 L522.0,532.7 L523.9,532.7 L525.9,532.7 L527.8,532.7 L529.7,532.7 L531.7,532.7 L533.6,532.7 L535.5,532.7 L537.5,532.7 L539.4,532.7 L541.3,532.7 L543.3,532.7 L545.2,532.7 L547.1,532.7 L549.0,532.7 L551.0,532.7 L552.9,532.7 L554.8,532.7 L556.8,532.7 L558.7,532.7 L560.6,532.7 L562.6,532.7 L564.5,532.7 L566.4,532.7 L568.4,532.7 L570.3,532.7 L572.2,532.7 L574.2,532.7 L576.1,532.7 L578.0,532.7 L580.0,532.7 L581.9,532.7 L583.8,532.7 L585.8,532.7 L587.7,532.7 L589.6,532.7 L591.5,532.7 L593.5,532.7 L595.4,532.7 L597.3,532.7 L599.3,532.7 L601.2,532.7 L603.1,532.7 L605.1,532.7 L607.0,532.7 L608.9,532.7 L610.9,532.7 L612.8,532.7 L614.7,532.7 L616.7,532.7 L618.6,532.7 L620.5,532.7 L622.5,532.7 L624.4,532.7 L626.3,532.7 L628.3,532.7 L630.2,532.7 L632.1,532.7 L634.0,532.7 L636.0,532.7 L637.9,532.7 L639.8,532.7 L641.8,532.7 L643.7,532.7 L645.6,532.7 L647.6,532.7 L649.5,532.7 L651.4,532.7 L653.4,532.7 L655.3,532.7 L657.2,532.7 L659.2,532.7 L661.1,532.7 L663.0,532.7 L665.0,532.7 L666.9,532.7 L668.8,532.7 L670.8,532.7 L672.7,532.7 L674.6,532.7 L676.6,532.7 L678.5,532.7 L680.4,532.7 L682.3,532.7 L684.3,532.7 L686.2,532.7 L688.1,532.7 L690.1,532.7 L692.0,532.7 L693.9,532.7 L695.9,532.7 L697.8,532.7 L699.7,532.7 L701.7,532.7 L703.6,532.7 L705.5,532.7 L707.5,532.7 L709.4,532.7 L711.3,532.7 L713.3,532.7 L715.2,532.7 L717.1,532.7 L719.1,532.7 L721.0,532.7 L722.9,532.7 L724.8,532.7 L726.8,532.7 L728.7,532.7 L730.6,532.7 L732.6,532.7 L734.5,532.7 L736.4,532.7 L738.4,532.7 L740.3,532.7 L742.2,532.7 L744.2,532.7 L746.1,532.7 L748.0,532.7 L750.0,532.7 L751.9,532.7 L753.8,532.7 L755.8,532.7 L757.7,532.7 L759.6,532.7 L761.6,532.7 L763.5,532.7 L765.4,532.7 L767.3,532.7 L769.3,532.7 L771.2,532.7 L773.1,532.7 L775.1,532.7 L777.0,532.7 L778.9,532.7 L780.9,532.7 L782.8,532.7 L784.7,532.7 L786.7,532.7 L788.6,532.7 L790.5,532.7 L792.5,532.7 L794.4,532.7 L796.3,532.7 L798.3,532.7 L800.2,532.7 L802.1,532.7 L804.1,532.7 L806.0,532.7 L807.9,532.7 L809.9,532.7 L811.8,532.7 L813.7,532.7 L815.6,532.7 L817.6,532.7 L819.5,532.7 L821.4,532.7 L823.4,532.7 L825.3,532.6 L827.2,532.6 L829.2,532.6 L831.1,532.5 L833.0,532.5 L835.0,532.4 L836.9,532.3 L838.8,532.2 L840.8,532.2 L842.7,532.1 L844.6,532.0 L846.6,531.9 L848.5,531.8 L850.4,531.7 L852.4,531.5 L854.3,531.4 L856.2,531.3 L858.1,531.2 L860.1,531.0 L862.0,530.9 L863.9,530.7 L865.9,530.6 L867.8,530.4 L869.7,530.3 L871.7,530.1 L873.6,529.9 L875.5,529.7 L877.5,529.4 L879.4,529.2 L881.3,528.9 L883.3,528.6 L885.2,528.3 L887.1,527.9 L889.1,527.5 L891.0,527.1 L892.9,526.6 L894.9,526.1 L896.8,525.6 L898.7,525.0 L900.6,524.3 L902.6,523.6 L904.5,522.8 L906.4,522.0 L908.4,521.0 L910.3,519.9 L912.2,518.7 L914.2,517.3 L916.1,515.6 L918.0,513.7 L920.0,511.6 L921.9,509.3 L923.8,506.7 L925.8,504.0 L927.7,501.1 L929.6,498.1 L931.6,495.0 L933.5,491.7 L935.4,488.3 L937.4,484.7 L939.3,481.0 L941.2,476.9 L943.1,472.6 L945.1,468.0 L947.0,463.0 L948.9,457.6 L950.9,451.9 L952.8,445.9 L954.7,439.8 L956.7,433.6 L958.6,427.3 L960.5,421.2 L962.5,415.2 L964.4,409.3 L966.3,403.6 L968.3,398.0 L970.2,392.5 L972.1,387.1 L974.1,381.7 L976.0,376.2 L977.9,370.6 L979.9,364.9 L981.8,359.1 L983.7,353.0 L985.7,346.8 L987.6,340.5 L989.5,334.1 L991.4,327.6 L993.4,321.2 L995.3,314.8 L997.2,308.5 L999.2,302.2 L1001.1,296.0 L1003.0,289.8 L1005.0,283.6 L1006.9,277.5 L1008.8,271.5 L1010.8,265.7 L1012.7,260.1 L1014.6,255.0 L1016.6,250.3 L1018.5,246.1 L1020.4,242.3 L1022.4,239.0 L1024.3,236.1 L1026.2,233.4 L1028.2,231.0 L1030.1,228.7 L1032.0,226.6 L1033.9,224.7 L1035.9,222.9 L1037.8,221.4 L1039.7,220.1 L1041.7,219.0 L1043.6,218.0 L1045.5,217.3 L1047.5,216.6 L1049.4,216.1 L1051.3,215.6 L1053.3,215.2 L1055.2,214.8 L1057.1,214.5 L1059.1,214.2 L1061.0,213.9 L1062.9,213.6 L1064.9,213.4 L1066.8,213.1 L1068.7,212.9 L1070.7,212.7 L1072.6,212.5 L1074.5,212.3 L1076.4,212.1 L1078.4,212.0 L1080.3,211.8 L1082.2,211.6 L1084.2,211.5 L1086.1,211.3 L1088.0,211.2 L1090.0,211.1 L1091.9,210.9 L1093.8,210.8 L1095.8,210.7 L1097.7,210.6 L1099.6,210.5 L1101.6,210.4 L1103.5,210.4 L1105.4,210.3 L1107.4,210.2 L1109.3,210.2 L1111.2,210.1 L1113.2,210.0 L1115.1,210.0 L1117.0,209.9 L1119.0,209.8 L1120.9,209.8 L1122.8,209.7 L1124.7,209.7 L1126.7,209.6 L1128.6,209.6 L1130.5,209.5 L1132.5,209.5 L1134.4,209.4 L1136.3,209.4 L1138.3,209.3 L1140.2,209.3 L1142.1,209.3 L1144.1,209.2 L1146.0,209.2 L1147.9,209.1 L1149.9,209.1 L1151.8,209.1 L1153.7,209.1 L1155.7,209.0 L1157.6,209.0 L1159.5,209.0 L1161.5,209.0 L1163.4,208.9 L1165.3,208.9 L1167.2,208.9 L1169.2,208.9 L1171.1,208.9 L1173.0,208.9 L1175.0,208.9" stroke="#9E277A"/>
<path d="M495.0,532.7 L496.9,532.7 L498.8,532.7 L500.8,532.7 L502.7,532.7 L504.6,532.7 L506.5,532.7 L508.5,532.7 L510.4,532.7 L512.3,532.7 L514.3,532.7 L516.2,532.7 L518.1,532.7 L520.1,532.7 L522.0,532.7 L523.9,532.7 L525.9,532.7 L527.8,532.7 L529.7,532.7 L531.7,532.7 L533.6,532.7 L535.5,532.7 L537.5,532.7 L539.4,532.7 L541.3,532.7 L543.3,532.7 L545.2,532.7 L547.1,532.7 L549.0,532.7 L551.0,532.7 L552.9,532.7 L554.8,532.7 L556.8,532.7 L558.7,532.7 L560.6,532.7 L562.6,532.7 L564.5,532.7 L566.4,532.7 L568.4,532.7 L570.3,532.7 L572.2,532.7 L574.2,532.7 L576.1,532.7 L578.0,532.7 L580.0,532.7 L581.9,532.7 L583.8,532.7 L585.8,532.7 L587.7,532.7 L589.6,532.7 L591.5,532.7 L593.5,532.7 L595.4,532.7 L597.3,532.7 L599.3,532.7 L601.2,532.7 L603.1,532.7 L605.1,532.7 L607.0,532.7 L608.9,532.7 L610.9,532.7 L612.8,532.7 L614.7,532.7 L616.7,532.7 L618.6,532.7 L620.5,532.7 L622.5,532.7 L624.4,532.7 L626.3,532.7 L628.3,532.7 L630.2,532.7 L632.1,532.7 L634.0,532.7 L636.0,532.7 L637.9,532.7 L639.8,532.7 L641.8,532.7 L643.7,532.7 L645.6,532.7 L647.6,532.7 L649.5,532.7 L651.4,532.7 L653.4,532.7 L655.3,532.7 L657.2,532.7 L659.2,532.7 L661.1,532.7 L663.0,532.7 L665.0,532.7 L666.9,532.7 L668.8,532.7 L670.8,532.7 L672.7,532.7 L674.6,532.7 L676.6,532.7 L678.5,532.7 L680.4,532.7 L682.3,532.7 L684.3,532.7 L686.2,532.7 L688.1,532.7 L690.1,532.7 L692.0,532.7 L693.9,532.7 L695.9,532.7 L697.8,532.7 L699.7,532.7 L701.7,532.7 L703.6,532.7 L705.5,532.7 L707.5,532.7 L709.4,532.7 L711.3,532.7 L713.3,532.7 L715.2,532.7 L717.1,532.7 L719.1,532.7 L721.0,532.7 L722.9,532.7 L724.8,532.7 L726.8,532.7 L728.7,532.7 L730.6,532.7 L732.6,532.7 L734.5,532.7 L736.4,532.7 L738.4,532.7 L740.3,532.7 L742.2,532.7 L744.2,532.7 L746.1,532.7 L748.0,532.7 L750.0,532.7 L751.9,532.7 L753.8,532.7 L755.8,532.7 L757.7,532.7 L759.6,532.7 L761.6,532.7 L763.5,532.7 L765.4,532.7 L767.3,532.7 L769.3,532.7 L771.2,532.7 L773.1,532.7 L775.1,532.7 L777.0,532.7 L778.9,532.7 L780.9,532.7 L782.8,532.7 L784.7,532.7 L786.7,532.7 L788.6,532.7 L790.5,532.7 L792.5,532.7 L794.4,532.7 L796.3,532.7 L798.3,532.7 L800.2,532.7 L802.1,532.7 L804.1,532.7 L806.0,532.7 L807.9,532.7 L809.9,532.7 L811.8,532.7 L813.7,532.7 L815.6,532.7 L817.6,532.7 L819.5,532.7 L821.4,532.7 L823.4,532.6 L825.3,532.6 L827.2,532.6 L829.2,532.5 L831.1,532.5 L833.0,532.4 L835.0,532.4 L836.9,532.3 L838.8,532.2 L840.8,532.1 L842.7,532.0 L844.6,531.9 L846.6,531.8 L848.5,531.7 L850.4,531.6 L852.4,531.5 L854.3,531.3 L856.2,531.2 L858.1,531.1 L860.1,530.9 L862.0,530.8 L863.9,530.6 L865.9,530.5 L867.8,530.3 L869.7,530.1 L871.7,530.0 L873.6,529.8 L875.5,529.5 L877.5,529.3 L879.4,529.0 L881.3,528.7 L883.3,528.4 L885.2,528.0 L887.1,527.6 L889.1,527.2 L891.0,526.8 L892.9,526.3 L894.9,525.8 L896.8,525.2 L898.7,524.6 L900.6,523.9 L902.6,523.1 L904.5,522.3 L906.4,521.4 L908.4,520.3 L910.3,519.1 L912.2,517.8 L914.2,516.2 L916.1,514.4 L918.0,512.4 L920.0,510.2 L921.9,507.7 L923.8,505.0 L925.8,502.2 L927.7,499.2 L929.6,496.1 L931.6,492.9 L933.5,489.6 L935.4,486.1 L937.4,482.3 L939.3,478.4 L941.2,474.1 L943.1,469.6 L945.1,464.6 L947.0,459.3 L948.9,453.7 L950.9,447.9 L952.8,442.1 L954.7,436.3 L956.7,430.7 L958.6,425.4 L960.5,420.3 L962.5,415.4 L964.4,410.5 L966.3,405.7 L968.3,400.9 L970.2,396.0 L972.1,391.0 L974.1,385.9 L976.0,380.6 L977.9,375.2 L979.9,369.6 L981.8,363.8 L983.7,357.9 L985.7,351.8 L987.6,345.6 L989.5,339.2 L991.4,332.8 L993.4,326.4 L995.3,319.9 L997.2,313.6 L999.2,307.2 L1001.1,301.0 L1003.0,294.7 L1005.0,288.5 L1006.9,282.4 L1008.8,276.4 L1010.8,270.5 L1012.7,264.8 L1014.6,259.5 L1016.6,254.6 L1018.5,250.2 L1020.4,246.3 L1022.4,242.9 L1024.3,239.8 L1026.2,237.1 L1028.2,234.7 L1030.1,232.6 L1032.0,230.6 L1033.9,228.8 L1035.9,227.1 L1037.8,225.7 L1039.7,224.4 L1041.7,223.3 L1043.6,222.3 L1045.5,221.5 L1047.5,220.8 L1049.4,220.2 L1051.3,219.6 L1053.3,219.1 L1055.2,218.6 L1057.1,218.1 L1059.1,217.6 L1061.0,217.2 L1062.9,216.8 L1064.9,216.3 L1066.8,215.9 L1068.7,215.6 L1070.7,215.2 L1072.6,214.9 L1074.5,214.5 L1076.4,214.2 L1078.4,213.9 L1080.3,213.6 L1082.2,213.4 L1084.2,213.1 L1086.1,212.8 L1088.0,212.6 L1090.0,212.4 L1091.9,212.2 L1093.8,212.0 L1095.8,211.9 L1097.7,211.8 L1099.6,211.7 L1101.6,211.7 L1103.5,211.7 L1105.4,211.7 L1107.4,211.7 L1109.3,211.8 L1111.2,211.8 L1113.2,211.9 L1115.1,211.9 L1117.0,212.0 L1119.0,212.1 L1120.9,212.1 L1122.8,212.2 L1124.7,212.3 L1126.7,212.4 L1128.6,212.5 L1130.5,212.6 L1132.5,212.7 L1134.4,212.7 L1136.3,212.8 L1138.3,212.9 L1140.2,213.0 L1142.1,213.1 L1144.1,213.2 L1146.0,213.3 L1147.9,213.4 L1149.9,213.5 L1151.8,213.6 L1153.7,213.6 L1155.7,213.7 L1157.6,213.8 L1159.5,213.9 L1161.5,214.0 L1163.4,214.1 L1165.3,214.2 L1167.2,214.3 L1169.2,214.5 L1171.1,214.6 L1173.0,214.7 L1175.0,214.8" stroke="#9E277A"/>
<path d="M495.0,532.7 L496.9,532.7 L498.8,532.7 L500.8,532.7 L502.7,532.7 L504.6,532.7 L506.5,532.7 L508.5,532.7 L510.4,532.7 L512.3,532.7 L514.3,532.7 L516.2,532.7 L518.1,532.7 L520.1,532.7 L522.0,532.7 L523.9,532.7 L525.9,532.7 L527.8,532.7 L529.7,532.7 L531.7,532.7 L533.6,532.7 L535.5,532.7 L537.5,532.7 L539.4,532.7 L541.3,532.7 L543.3,532.7 L545.2,532.7 L547.1,532.7 L549.0,532.7 L551.0,532.7 L552.9,532.7 L554.8,532.7 L556.8,532.7 L558.7,532.7 L560.6,532.7 L562.6,532.7 L564.5,532.7 L566.4,532.7 L568.4,532.7 L570.3,532.7 L572.2,532.7 L574.2,532.7 L576.1,532.7 L578.0,532.7 L580.0,532.7 L581.9,532.7 L583.8,532.7 L585.8,532.7 L587.7,532.7 L589.6,532.7 L591.5,532.7 L593.5,532.7 L595.4,532.7 L597.3,532.7 L599.3,532.7 L601.2,532.7 L603.1,532.7 L605.1,532.7 L607.0,532.7 L608.9,532.7 L610.9,532.7 L612.8,532.7 L614.7,532.7 L616.7,532.7 L618.6,532.7 L620.5,532.7 L622.5,532.7 L624.4,532.7 L626.3,532.7 L628.3,532.7 L630.2,532.7 L632.1,532.7 L634.0,532.7 L636.0,532.7 L637.9,532.7 L639.8,532.7 L641.8,532.7 L643.7,532.7 L645.6,532.7 L647.6,532.7 L649.5,532.7 L651.4,532.7 L653.4,532.7 L655.3,532.7 L657.2,532.7 L659.2,532.7 L661.1,532.7 L663.0,532.7 L665.0,532.7 L666.9,532.7 L668.8,532.7 L670.8,532.7 L672.7,532.7 L674.6,532.7 L676.6,532.7 L678.5,532.7 L680.4,532.7 L682.3,532.7 L684.3,532.7 L686.2,532.7 L688.1,532.7 L690.1,532.7 L692.0,532.7 L693.9,532.7 L695.9,532.7 L697.8,532.7 L699.7,532.7 L701.7,532.7 L703.6,532.7 L705.5,532.7 L707.5,532.7 L709.4,532.7 L711.3,532.7 L713.3,532.7 L715.2,532.7 L717.1,532.7 L719.1,532.7 L721.0,532.7 L722.9,532.7 L724.8,532.7 L726.8,532.7 L728.7,532.7 L730.6,532.7 L732.6,532.7 L734.5,532.7 L736.4,532.7 L738.4,532.7 L740.3,532.7 L742.2,532.7 L744.2,532.7 L746.1,532.7 L748.0,532.7 L750.0,532.7 L751.9,532.7 L753.8,532.7 L755.8,532.7 L757.7,532.7 L759.6,532.7 L761.6,532.7 L763.5,532.7 L765.4,532.7 L767.3,532.7 L769.3,532.7 L771.2,532.7 L773.1,532.7 L775.1,532.7 L777.0,532.7 L778.9,532.7 L780.9,532.7 L782.8,532.7 L784.7,532.7 L786.7,532.7 L788.6,532.7 L790.5,532.7 L792.5,532.7 L794.4,532.7 L796.3,532.7 L798.3,532.7 L800.2,532.7 L802.1,532.7 L804.1,532.7 L806.0,532.7 L807.9,532.7 L809.9,532.7 L811.8,532.7 L813.7,532.7 L815.6,532.7 L817.6,532.7 L819.5,532.7 L821.4,532.7 L823.4,532.6 L825.3,532.6 L827.2,532.6 L829.2,532.5 L831.1,532.5 L833.0,532.4 L835.0,532.4 L836.9,532.3 L838.8,532.2 L840.8,532.1 L842.7,532.0 L844.6,531.9 L846.6,531.8 L848.5,531.7 L850.4,531.6 L852.4,531.5 L854.3,531.3 L856.2,531.2 L858.1,531.1 L860.1,530.9 L862.0,530.8 L863.9,530.6 L865.9,530.5 L867.8,530.3 L869.7,530.1 L871.7,530.0 L873.6,529.8 L875.5,529.5 L877.5,529.3 L879.4,529.0 L881.3,528.7 L883.3,528.4 L885.2,528.0 L887.1,527.6 L889.1,527.2 L891.0,526.8 L892.9,526.3 L894.9,525.8 L896.8,525.2 L898.7,524.6 L900.6,523.9 L902.6,523.1 L904.5,522.3 L906.4,521.4 L908.4,520.3 L910.3,519.1 L912.2,517.8 L914.2,516.2 L916.1,514.4 L918.0,512.4 L920.0,510.2 L921.9,507.7 L923.8,505.0 L925.8,502.2 L927.7,499.2 L929.6,496.1 L931.6,492.9 L933.5,489.6 L935.4,486.1 L937.4,482.3 L939.3,478.4 L941.2,474.2 L943.1,469.7 L945.1,464.8 L947.0,459.6 L948.9,454.0 L950.9,448.1 L952.8,442.0 L954.7,435.8 L956.7,429.5 L958.6,423.3 L960.5,417.1 L962.5,411.0 L964.4,405.0 L966.3,399.0 L968.3,393.0 L970.2,387.0 L972.1,380.9 L974.1,374.6 L976.0,368.0 L977.9,361.1 L979.9,354.0 L981.8,346.7 L983.7,339.2 L985.7,331.6 L987.6,324.2 L989.5,316.9 L991.4,310.0 L993.4,303.3 L995.3,297.0 L997.2,291.1 L999.2,285.6 L1001.1,280.3 L1003.0,275.4 L1005.0,270.6 L1006.9,266.2 L1008.8,262.1 L1010.8,258.2 L1012.7,254.6 L1014.6,251.4 L1016.6,248.5 L1018.5,245.8 L1020.4,243.5 L1022.4,241.4 L1024.3,239.6 L1026.2,238.0 L1028.2,236.6 L1030.1,235.3 L1032.0,234.2 L1033.9,233.2 L1035.9,232.4 L1037.8,231.7 L1039.7,231.1 L1041.7,230.6 L1043.6,230.2 L1045.5,229.9 L1047.5,229.6 L1049.4,229.3 L1051.3,229.0 L1053.3,228.8 L1055.2,228.6 L1057.1,228.5 L1059.1,228.3 L1061.0,228.2 L1062.9,228.1 L1064.9,228.0 L1066.8,228.0 L1068.7,227.9 L1070.7,227.9 L1072.6,227.9 L1074.5,227.9 L1076.4,227.8 L1078.4,227.8 L1080.3,227.8 L1082.2,227.8 L1084.2,227.8 L1086.1,227.8 L1088.0,227.7 L1090.0,227.7 L1091.9,227.7 L1093.8,227.7 L1095.8,227.7 L1097.7,227.7 L1099.6,227.7 L1101.6,227.7 L1103.5,227.6 L1105.4,227.6 L1107.4,227.6 L1109.3,227.6 L1111.2,227.6 L1113.2,227.6 L1115.1,227.6 L1117.0,227.6 L1119.0,227.6 L1120.9,227.6 L1122.8,227.6 L1124.7,227.6 L1126.7,227.5 L1128.6,227.5 L1130.5,227.5 L1132.5,227.5 L1134.4,227.5 L1136.3,227.5 L1138.3,227.5 L1140.2,227.5 L1142.1,227.5 L1144.1,227.5 L1146.0,227.5 L1147.9,227.5 L1149.9,227.5 L1151.8,227.5 L1153.7,227.5 L1155.7,227.5 L1157.6,227.5 L1159.5,227.5 L1161.5,227.5 L1163.4,227.5 L1165.3,227.5 L1167.2,227.5 L1169.2,227.5 L1171.1,227.5 L1173.0,227.5 L1175.0,227.5" stroke="#9E277A"/>
</g>
<g><path d="M721.5,348.1 H861" stroke="#A62E86" stroke-width="1.6"/>
<path d="M721.5,387.7 H863.7" stroke="#A62E86" stroke-width="1.6"/>
<path d="M721.5,427.5 H903.4" stroke="#A62E86" stroke-width="1.6"/>
<path d="M721.5,467 H938.3" stroke="#A62E86" stroke-width="1.6"/>
<path d="M891.1,369 H1056.7" stroke="#0F68A2" stroke-width="1.6"/>
<path d="M928.3,409.1 H1056.7" stroke="#0F68A2" stroke-width="1.6"/>
<path d="M969.1,448.4 H1056.7" stroke="#0F68A2" stroke-width="1.6"/>
<path d="M1006,487.9 H1056.7" stroke="#0F68A2" stroke-width="1.6"/></g>
<g><path d="M483.6,661 V1131.7 H1181.5" fill="none" stroke="#B4B4B4" stroke-width="1.1"/>
<text x="471.6" y="1135.0" text-anchor="end" font-size="11" fill="#767676">0</text>
<text x="471.6" y="1067.8" text-anchor="end" font-size="11" fill="#767676">0.05</text>
<text x="471.6" y="1000.5" text-anchor="end" font-size="11" fill="#767676">0.1</text>
<text x="471.6" y="933.3" text-anchor="end" font-size="11" fill="#767676">0.15</text>
<text x="471.6" y="866.0" text-anchor="end" font-size="11" fill="#767676">0.2</text>
<text x="471.6" y="798.8" text-anchor="end" font-size="11" fill="#767676">0.25</text>
<text x="471.6" y="731.5" text-anchor="end" font-size="11" fill="#767676">0.3</text>
<text x="471.6" y="664.3" text-anchor="end" font-size="11" fill="#767676">0.35</text>
<text x="483.3" y="1152.0" text-anchor="middle" font-size="11" fill="#767676">70</text>
<text x="622.9" y="1152.0" text-anchor="middle" font-size="11" fill="#767676">75</text>
<text x="762.5" y="1152.0" text-anchor="middle" font-size="11" fill="#767676">80</text>
<text x="902.0" y="1152.0" text-anchor="middle" font-size="11" fill="#767676">85</text>
<text x="1041.6" y="1152.0" text-anchor="middle" font-size="11" fill="#767676">90</text>
<text x="1181.2" y="1152.0" text-anchor="middle" font-size="11" fill="#767676">95</text>
<text x="832.0" y="1171.9" text-anchor="middle" font-size="12.2" fill="#767676">Temperature ( C )</text>
<text transform="translate(443.1,896.4) rotate(-90)" text-anchor="middle" font-size="12.2" fill="#767676">-dF/dT</text></g>
<g class="cb" clip-path="url(#cpb)">
<path d="M469.6,1113.5 L471.9,1113.5 L474.1,1113.5 L476.3,1113.5 L478.6,1113.5 L480.8,1113.5 L483.0,1113.5 L485.3,1113.5 L487.5,1113.6 L489.7,1113.6 L492.0,1113.6 L494.2,1113.6 L496.4,1113.6 L498.7,1113.7 L500.9,1113.7 L503.1,1113.7 L505.4,1113.8 L507.6,1113.8 L509.8,1113.8 L512.1,1113.9 L514.3,1113.9 L516.5,1114.0 L518.8,1114.0 L521.0,1114.1 L523.2,1114.1 L525.5,1114.2 L527.7,1114.2 L529.9,1114.3 L532.2,1114.3 L534.4,1114.4 L536.6,1114.4 L538.9,1114.5 L541.1,1114.5 L543.3,1114.6 L545.6,1114.6 L547.8,1114.7 L550.0,1114.7 L552.3,1114.8 L554.5,1114.9 L556.7,1114.9 L559.0,1115.0 L561.2,1115.0 L563.4,1115.1 L565.7,1115.2 L567.9,1115.2 L570.1,1115.3 L572.4,1115.4 L574.6,1115.4 L576.8,1115.5 L579.1,1115.5 L581.3,1115.6 L583.5,1115.6 L585.8,1115.7 L588.0,1115.7 L590.2,1115.8 L592.5,1115.8 L594.7,1115.8 L596.9,1115.8 L599.2,1115.9 L601.4,1115.9 L603.6,1115.9 L605.9,1115.9 L608.1,1116.0 L610.3,1116.0 L612.6,1116.0 L614.8,1116.0 L617.0,1116.1 L619.3,1116.1 L621.5,1116.1 L623.7,1116.1 L626.0,1116.1 L628.2,1116.1 L630.4,1116.2 L632.7,1116.2 L634.9,1116.2 L637.1,1116.2 L639.4,1116.2 L641.6,1116.2 L643.8,1116.2 L646.1,1116.2 L648.3,1116.2 L650.5,1116.2 L652.8,1116.2 L655.0,1116.2 L657.2,1116.2 L659.5,1116.2 L661.7,1116.2 L663.9,1116.2 L666.2,1116.2 L668.4,1116.1 L670.6,1116.1 L672.9,1116.1 L675.1,1116.1 L677.3,1116.0 L679.6,1116.0 L681.8,1116.0 L684.0,1115.9 L686.3,1115.9 L688.5,1115.9 L690.7,1115.8 L693.0,1115.8 L695.2,1115.8 L697.4,1115.7 L699.7,1115.7 L701.9,1115.6 L704.1,1115.6 L706.4,1115.6 L708.6,1115.5 L710.8,1115.5 L713.1,1115.4 L715.3,1115.4 L717.5,1115.4 L719.8,1115.3 L722.0,1115.3 L724.2,1115.2 L726.5,1115.2 L728.7,1115.1 L730.9,1115.1 L733.2,1115.0 L735.4,1115.0 L737.6,1114.9 L739.9,1114.9 L742.1,1114.8 L744.3,1114.7 L746.6,1114.6 L748.8,1114.6 L751.0,1114.5 L753.3,1114.4 L755.5,1114.3 L757.7,1114.2 L760.0,1114.1 L762.2,1114.0 L764.4,1113.9 L766.7,1113.8 L768.9,1113.6 L771.1,1113.4 L773.4,1113.2 L775.6,1112.9 L777.8,1112.7 L780.1,1112.4 L782.3,1112.1 L784.5,1111.7 L786.8,1111.4 L789.0,1111.0 L791.2,1110.7 L793.5,1110.3 L795.7,1109.9 L797.9,1109.4 L800.2,1109.0 L802.4,1108.5 L804.6,1108.0 L806.9,1107.5 L809.1,1106.9 L811.3,1106.3 L813.6,1105.7 L815.8,1105.0 L818.0,1104.2 L820.3,1103.4 L822.5,1102.4 L824.7,1101.3 L827.0,1100.0 L829.2,1098.6 L831.4,1097.0 L833.7,1095.2 L835.9,1093.1 L838.1,1090.7 L840.4,1088.0 L842.6,1084.9 L844.8,1081.4 L847.1,1077.5 L849.3,1073.1 L851.5,1068.1 L853.8,1062.4 L856.0,1056.1 L858.2,1049.0 L860.5,1041.1 L862.7,1032.2 L864.9,1022.4 L867.2,1011.5 L869.4,999.4 L871.6,986.3 L873.9,971.9 L876.1,956.3 L878.3,939.5 L880.6,921.7 L882.8,902.7 L885.0,883.0 L887.3,862.5 L889.5,841.7 L891.7,820.8 L894.0,800.3 L896.2,780.6 L898.4,762.1 L900.7,745.4 L902.9,730.9 L905.1,719.2 L907.4,710.5 L909.6,705.3 L911.8,703.7 L914.1,705.1 L916.3,708.6 L918.5,714.0 L920.8,721.2 L923.0,730.3 L925.2,740.9 L927.5,753.1 L929.7,766.7 L931.9,781.4 L934.2,797.2 L936.4,813.7 L938.6,830.9 L940.9,848.5 L943.1,866.4 L945.3,884.3 L947.6,902.1 L949.8,919.6 L952.0,936.8 L954.3,953.4 L956.5,969.3 L958.7,984.6 L961.0,999.0 L963.2,1012.6 L965.4,1025.2 L967.7,1036.9 L969.9,1047.7 L972.1,1057.5 L974.4,1066.3 L976.6,1074.1 L978.8,1081.0 L981.1,1086.9 L983.3,1092.0 L985.5,1096.2 L987.8,1099.7 L990.0,1102.6 L992.2,1105.0 L994.5,1107.0 L996.7,1108.7 L998.9,1110.1 L1001.2,1111.4 L1003.4,1112.5 L1005.6,1113.5 L1007.9,1114.2 L1010.1,1114.9 L1012.3,1115.4 L1014.6,1115.8 L1016.8,1116.2 L1019.0,1116.4 L1021.3,1116.6 L1023.5,1116.8 L1025.7,1117.0 L1028.0,1117.1 L1030.2,1117.3 L1032.4,1117.6 L1034.7,1118.1 L1036.9,1118.7 L1039.1,1119.4 L1041.4,1120.2 L1043.6,1121.0 L1045.8,1121.9 L1048.1,1122.8 L1050.3,1123.7 L1052.5,1124.6 L1054.8,1125.5 L1057.0,1126.3 L1059.2,1127.1 L1061.5,1127.8 L1063.7,1128.4 L1065.9,1129.0 L1068.2,1129.5 L1070.4,1129.9 L1072.6,1130.3 L1074.9,1130.6 L1077.1,1130.8 L1079.3,1131.0 L1081.6,1131.2 L1083.8,1131.3 L1086.0,1131.4 L1088.3,1131.5 L1090.5,1131.5 L1092.7,1131.6 L1095.0,1131.6 L1097.2,1131.6 L1099.4,1131.7 L1101.7,1131.7 L1103.9,1131.7 L1106.1,1131.7 L1108.4,1131.7 L1110.6,1131.7 L1112.8,1131.7 L1115.1,1131.7 L1117.3,1131.7 L1119.5,1131.7 L1121.8,1131.7 L1124.0,1131.7 L1126.2,1131.7 L1128.5,1131.7 L1130.7,1131.7 L1132.9,1131.7 L1135.2,1131.7 L1137.4,1131.6 L1139.6,1131.5 L1141.9,1131.4 L1144.1,1131.3 L1146.3,1131.2 L1148.6,1131.1 L1150.8,1131.0 L1153.0,1130.9 L1155.3,1130.8 L1157.5,1130.6 L1159.7,1130.5 L1162.0,1130.4 L1164.2,1130.2 L1166.4,1130.1 L1168.7,1129.9 L1170.9,1129.8 L1173.1,1129.6 L1175.4,1129.5 L1177.6,1129.3 L1179.8,1129.1 L1182.1,1129.0 L1184.3,1129.0 L1186.5,1129.0 L1188.8,1129.0" stroke="#0A70BC"/>
<path d="M469.6,1114.5 L471.9,1114.5 L474.1,1114.5 L476.3,1114.5 L478.6,1114.5 L480.8,1114.5 L483.0,1114.5 L485.3,1114.5 L487.5,1114.5 L489.7,1114.5 L492.0,1114.5 L494.2,1114.5 L496.4,1114.5 L498.7,1114.6 L500.9,1114.6 L503.1,1114.6 L505.4,1114.7 L507.6,1114.7 L509.8,1114.7 L512.1,1114.8 L514.3,1114.8 L516.5,1114.8 L518.8,1114.9 L521.0,1114.9 L523.2,1115.0 L525.5,1115.0 L527.7,1115.1 L529.9,1115.1 L532.2,1115.1 L534.4,1115.2 L536.6,1115.2 L538.9,1115.3 L541.1,1115.3 L543.3,1115.4 L545.6,1115.4 L547.8,1115.5 L550.0,1115.6 L552.3,1115.6 L554.5,1115.7 L556.7,1115.8 L559.0,1115.9 L561.2,1116.0 L563.4,1116.0 L565.7,1116.1 L567.9,1116.2 L570.1,1116.3 L572.4,1116.4 L574.6,1116.4 L576.8,1116.5 L579.1,1116.6 L581.3,1116.6 L583.5,1116.7 L585.8,1116.8 L588.0,1116.8 L590.2,1116.8 L592.5,1116.9 L594.7,1116.9 L596.9,1116.9 L599.2,1116.9 L601.4,1117.0 L603.6,1117.0 L605.9,1117.0 L608.1,1117.0 L610.3,1117.0 L612.6,1117.0 L614.8,1117.1 L617.0,1117.1 L619.3,1117.1 L621.5,1117.1 L623.7,1117.1 L626.0,1117.1 L628.2,1117.1 L630.4,1117.1 L632.7,1117.1 L634.9,1117.1 L637.1,1117.2 L639.4,1117.2 L641.6,1117.2 L643.8,1117.2 L646.1,1117.2 L648.3,1117.2 L650.5,1117.2 L652.8,1117.2 L655.0,1117.2 L657.2,1117.1 L659.5,1117.1 L661.7,1117.1 L663.9,1117.0 L666.2,1117.0 L668.4,1116.9 L670.6,1116.8 L672.9,1116.8 L675.1,1116.7 L677.3,1116.6 L679.6,1116.5 L681.8,1116.4 L684.0,1116.3 L686.3,1116.2 L688.5,1116.1 L690.7,1115.9 L693.0,1115.8 L695.2,1115.7 L697.4,1115.5 L699.7,1115.4 L701.9,1115.2 L704.1,1115.1 L706.4,1114.9 L708.6,1114.7 L710.8,1114.4 L713.1,1114.1 L715.3,1113.6 L717.5,1113.1 L719.8,1112.5 L722.0,1111.8 L724.2,1111.1 L726.5,1110.4 L728.7,1109.6 L730.9,1108.8 L733.2,1107.9 L735.4,1107.1 L737.6,1106.2 L739.9,1105.4 L742.1,1104.6 L744.3,1103.8 L746.6,1103.0 L748.8,1102.3 L751.0,1101.6 L753.3,1101.0 L755.5,1100.5 L757.7,1100.0 L760.0,1099.6 L762.2,1099.2 L764.4,1099.0 L766.7,1098.7 L768.9,1098.5 L771.1,1098.2 L773.4,1097.9 L775.6,1097.7 L777.8,1097.4 L780.1,1097.1 L782.3,1096.9 L784.5,1096.6 L786.8,1096.3 L789.0,1096.0 L791.2,1095.7 L793.5,1095.3 L795.7,1095.0 L797.9,1094.6 L800.2,1094.3 L802.4,1093.8 L804.6,1093.4 L806.9,1092.9 L809.1,1092.4 L811.3,1091.8 L813.6,1091.2 L815.8,1090.5 L818.0,1089.7 L820.3,1088.8 L822.5,1087.8 L824.7,1086.6 L827.0,1085.3 L829.2,1083.9 L831.4,1082.2 L833.7,1080.3 L835.9,1078.1 L838.1,1075.7 L840.4,1072.9 L842.6,1069.8 L844.8,1066.3 L847.1,1062.3 L849.3,1057.9 L851.5,1052.8 L853.8,1047.2 L856.0,1040.9 L858.2,1033.8 L860.5,1025.9 L862.7,1017.2 L864.9,1007.5 L867.2,996.8 L869.4,985.1 L871.6,972.3 L873.9,958.4 L876.1,943.4 L878.3,927.3 L880.6,910.2 L882.8,892.3 L885.0,873.7 L887.3,854.5 L889.5,835.1 L891.7,815.8 L894.0,796.9 L896.2,778.9 L898.4,762.2 L900.7,747.3 L902.9,734.6 L905.1,724.5 L907.4,717.4 L909.6,713.4 L911.8,712.9 L914.1,715.1 L916.3,719.3 L918.5,725.4 L920.8,733.4 L923.0,743.1 L925.2,754.5 L927.5,767.3 L929.7,781.4 L931.9,796.7 L934.2,812.9 L936.4,829.8 L938.6,847.2 L940.9,865.0 L943.1,882.9 L945.3,900.8 L947.6,918.4 L949.8,935.7 L952.0,952.5 L954.3,968.7 L956.5,984.2 L958.7,998.9 L961.0,1012.7 L963.2,1025.6 L965.4,1037.5 L967.7,1048.5 L969.9,1058.6 L972.1,1067.7 L974.4,1075.9 L976.6,1083.2 L978.8,1089.6 L981.1,1095.2 L983.3,1100.0 L985.5,1104.1 L987.8,1107.6 L990.0,1110.5 L992.2,1112.9 L994.5,1115.0 L996.7,1116.8 L998.9,1118.3 L1001.2,1119.5 L1003.4,1120.6 L1005.6,1121.5 L1007.9,1122.2 L1010.1,1122.8 L1012.3,1123.3 L1014.6,1123.7 L1016.8,1124.0 L1019.0,1124.3 L1021.3,1124.4 L1023.5,1124.6 L1025.7,1124.7 L1028.0,1124.8 L1030.2,1125.0 L1032.4,1125.1 L1034.7,1125.4 L1036.9,1125.7 L1039.1,1126.0 L1041.4,1126.4 L1043.6,1126.8 L1045.8,1127.2 L1048.1,1127.6 L1050.3,1128.0 L1052.5,1128.4 L1054.8,1128.8 L1057.0,1129.2 L1059.2,1129.6 L1061.5,1129.9 L1063.7,1130.2 L1065.9,1130.4 L1068.2,1130.7 L1070.4,1130.9 L1072.6,1131.0 L1074.9,1131.2 L1077.1,1131.3 L1079.3,1131.4 L1081.6,1131.5 L1083.8,1131.5 L1086.0,1131.6 L1088.3,1131.6 L1090.5,1131.6 L1092.7,1131.6 L1095.0,1131.7 L1097.2,1131.7 L1099.4,1131.7 L1101.7,1131.7 L1103.9,1131.7 L1106.1,1131.7 L1108.4,1131.7 L1110.6,1131.7 L1112.8,1131.7 L1115.1,1131.7 L1117.3,1131.7 L1119.5,1131.7 L1121.8,1131.7 L1124.0,1131.7 L1126.2,1131.7 L1128.5,1131.7 L1130.7,1131.7 L1132.9,1131.7 L1135.2,1131.7 L1137.4,1131.5 L1139.6,1131.4 L1141.9,1131.2 L1144.1,1131.0 L1146.3,1130.8 L1148.6,1130.5 L1150.8,1130.3 L1153.0,1130.1 L1155.3,1129.8 L1157.5,1129.5 L1159.7,1129.3 L1162.0,1129.0 L1164.2,1128.7 L1166.4,1128.4 L1168.7,1128.1 L1170.9,1127.8 L1173.1,1127.5 L1175.4,1127.2 L1177.6,1126.9 L1179.8,1126.6 L1182.1,1126.3 L1184.3,1126.3 L1186.5,1126.3 L1188.8,1126.3" stroke="#0A70BC"/>
<path d="M469.6,1115.6 L471.9,1115.6 L474.1,1115.6 L476.3,1115.6 L478.6,1115.6 L480.8,1115.6 L483.0,1115.6 L485.3,1115.6 L487.5,1115.6 L489.7,1115.6 L492.0,1115.6 L494.2,1115.6 L496.4,1115.6 L498.7,1115.7 L500.9,1115.7 L503.1,1115.7 L505.4,1115.8 L507.6,1115.8 L509.8,1115.9 L512.1,1115.9 L514.3,1115.9 L516.5,1116.0 L518.8,1116.0 L521.0,1116.1 L523.2,1116.1 L525.5,1116.2 L527.7,1116.2 L529.9,1116.3 L532.2,1116.3 L534.4,1116.4 L536.6,1116.4 L538.9,1116.5 L541.1,1116.5 L543.3,1116.6 L545.6,1116.6 L547.8,1116.7 L550.0,1116.8 L552.3,1116.8 L554.5,1116.9 L556.7,1117.0 L559.0,1117.1 L561.2,1117.1 L563.4,1117.2 L565.7,1117.3 L567.9,1117.3 L570.1,1117.4 L572.4,1117.5 L574.6,1117.6 L576.8,1117.6 L579.1,1117.7 L581.3,1117.7 L583.5,1117.8 L585.8,1117.8 L588.0,1117.9 L590.2,1117.9 L592.5,1118.0 L594.7,1118.0 L596.9,1118.0 L599.2,1118.0 L601.4,1118.0 L603.6,1118.0 L605.9,1118.1 L608.1,1118.1 L610.3,1118.1 L612.6,1118.1 L614.8,1118.1 L617.0,1118.1 L619.3,1118.2 L621.5,1118.2 L623.7,1118.2 L626.0,1118.2 L628.2,1118.2 L630.4,1118.2 L632.7,1118.2 L634.9,1118.2 L637.1,1118.2 L639.4,1118.2 L641.6,1118.2 L643.8,1118.2 L646.1,1118.2 L648.3,1118.2 L650.5,1118.3 L652.8,1118.2 L655.0,1118.2 L657.2,1118.2 L659.5,1118.2 L661.7,1118.2 L663.9,1118.2 L666.2,1118.2 L668.4,1118.2 L670.6,1118.1 L672.9,1118.1 L675.1,1118.1 L677.3,1118.0 L679.6,1118.0 L681.8,1118.0 L684.0,1118.0 L686.3,1117.9 L688.5,1117.9 L690.7,1117.8 L693.0,1117.8 L695.2,1117.8 L697.4,1117.7 L699.7,1117.7 L701.9,1117.7 L704.1,1117.6 L706.4,1117.6 L708.6,1117.5 L710.8,1117.5 L713.1,1117.5 L715.3,1117.4 L717.5,1117.4 L719.8,1117.3 L722.0,1117.3 L724.2,1117.3 L726.5,1117.2 L728.7,1117.2 L730.9,1117.1 L733.2,1117.1 L735.4,1117.0 L737.6,1117.0 L739.9,1116.9 L742.1,1116.8 L744.3,1116.8 L746.6,1116.7 L748.8,1116.6 L751.0,1116.6 L753.3,1116.5 L755.5,1116.4 L757.7,1116.3 L760.0,1116.2 L762.2,1116.1 L764.4,1116.0 L766.7,1115.8 L768.9,1115.7 L771.1,1115.5 L773.4,1115.2 L775.6,1115.0 L777.8,1114.7 L780.1,1114.4 L782.3,1114.1 L784.5,1113.8 L786.8,1113.4 L789.0,1113.1 L791.2,1112.7 L793.5,1112.3 L795.7,1111.9 L797.9,1111.5 L800.2,1111.1 L802.4,1110.7 L804.6,1110.2 L806.9,1109.8 L809.1,1109.3 L811.3,1108.8 L813.6,1108.3 L815.8,1107.7 L818.0,1107.2 L820.3,1106.5 L822.5,1105.8 L824.7,1105.0 L827.0,1104.1 L829.2,1103.0 L831.4,1101.8 L833.7,1100.4 L835.9,1098.8 L838.1,1097.0 L840.4,1094.9 L842.6,1092.6 L844.8,1089.9 L847.1,1086.9 L849.3,1083.4 L851.5,1079.5 L853.8,1075.1 L856.0,1070.2 L858.2,1064.5 L860.5,1058.2 L862.7,1051.1 L864.9,1043.2 L867.2,1034.3 L869.4,1024.5 L871.6,1013.6 L873.9,1001.6 L876.1,988.5 L878.3,974.2 L880.6,958.7 L882.8,942.2 L885.0,924.6 L887.3,906.1 L889.5,886.8 L891.7,867.2 L894.0,847.3 L896.2,827.7 L898.4,808.7 L900.7,790.8 L902.9,774.5 L905.1,760.3 L907.4,748.6 L909.6,739.8 L911.8,734.3 L914.1,732.2 L916.3,733.3 L918.5,736.2 L920.8,741.0 L923.0,747.5 L925.2,755.7 L927.5,765.5 L929.7,776.7 L931.9,789.1 L934.2,802.8 L936.4,817.3 L938.6,832.7 L940.9,848.7 L943.1,865.1 L945.3,881.7 L947.6,898.4 L949.8,915.1 L952.0,931.5 L954.3,947.6 L956.5,963.1 L958.7,978.1 L961.0,992.5 L963.2,1006.0 L965.4,1018.8 L967.7,1030.8 L969.9,1041.8 L972.1,1052.0 L974.4,1061.3 L976.6,1069.6 L978.8,1077.1 L981.1,1083.6 L983.3,1089.3 L985.5,1094.2 L987.8,1098.3 L990.0,1101.7 L992.2,1104.5 L994.5,1106.8 L996.7,1108.8 L998.9,1110.4 L1001.2,1111.9 L1003.4,1113.1 L1005.6,1114.2 L1007.9,1115.1 L1010.1,1115.8 L1012.3,1116.4 L1014.6,1116.9 L1016.8,1117.4 L1019.0,1117.7 L1021.3,1118.0 L1023.5,1118.2 L1025.7,1118.4 L1028.0,1118.6 L1030.2,1118.8 L1032.4,1119.1 L1034.7,1119.6 L1036.9,1120.1 L1039.1,1120.8 L1041.4,1121.5 L1043.6,1122.2 L1045.8,1123.0 L1048.1,1123.8 L1050.3,1124.6 L1052.5,1125.4 L1054.8,1126.2 L1057.0,1126.9 L1059.2,1127.6 L1061.5,1128.2 L1063.7,1128.8 L1065.9,1129.3 L1068.2,1129.7 L1070.4,1130.1 L1072.6,1130.4 L1074.9,1130.7 L1077.1,1130.9 L1079.3,1131.1 L1081.6,1131.2 L1083.8,1131.3 L1086.0,1131.4 L1088.3,1131.5 L1090.5,1131.6 L1092.7,1131.6 L1095.0,1131.6 L1097.2,1131.6 L1099.4,1131.7 L1101.7,1131.7 L1103.9,1131.7 L1106.1,1131.7 L1108.4,1131.7 L1110.6,1131.7 L1112.8,1131.7 L1115.1,1131.7 L1117.3,1131.7 L1119.5,1131.7 L1121.8,1131.7 L1124.0,1131.7 L1126.2,1131.7 L1128.5,1131.7 L1130.7,1131.7 L1132.9,1131.7 L1135.2,1131.7 L1137.4,1131.7 L1139.6,1131.6 L1141.9,1131.6 L1144.1,1131.5 L1146.3,1131.5 L1148.6,1131.4 L1150.8,1131.4 L1153.0,1131.3 L1155.3,1131.2 L1157.5,1131.2 L1159.7,1131.1 L1162.0,1131.0 L1164.2,1131.0 L1166.4,1130.9 L1168.7,1130.8 L1170.9,1130.7 L1173.1,1130.7 L1175.4,1130.6 L1177.6,1130.5 L1179.8,1130.4 L1182.1,1130.4 L1184.3,1130.4 L1186.5,1130.4 L1188.8,1130.4" stroke="#0A70BC"/>
<path d="M469.6,1127.3 L471.9,1127.3 L474.1,1127.3 L476.3,1127.3 L478.6,1127.3 L480.8,1127.3 L483.0,1127.3 L485.3,1127.3 L487.5,1127.3 L489.7,1127.3 L492.0,1127.3 L494.2,1127.4 L496.4,1127.4 L498.7,1127.5 L500.9,1127.5 L503.1,1127.6 L505.4,1127.6 L507.6,1127.7 L509.8,1127.8 L512.1,1127.8 L514.3,1127.9 L516.5,1127.9 L518.8,1128.0 L521.0,1128.1 L523.2,1128.1 L525.5,1128.2 L527.7,1128.2 L529.9,1128.3 L532.2,1128.3 L534.4,1128.3 L536.6,1128.3 L538.9,1128.3 L541.1,1128.3 L543.3,1128.3 L545.6,1128.2 L547.8,1128.0 L550.0,1127.9 L552.3,1127.7 L554.5,1127.4 L556.7,1127.1 L559.0,1126.9 L561.2,1126.5 L563.4,1126.2 L565.7,1125.8 L567.9,1125.4 L570.1,1125.0 L572.4,1124.6 L574.6,1124.2 L576.8,1123.8 L579.1,1123.4 L581.3,1122.9 L583.5,1122.5 L585.8,1122.0 L588.0,1121.6 L590.2,1121.2 L592.5,1120.8 L594.7,1120.4 L596.9,1120.0 L599.2,1119.6 L601.4,1119.1 L603.6,1118.7 L605.9,1118.3 L608.1,1117.8 L610.3,1117.3 L612.6,1116.8 L614.8,1116.4 L617.0,1115.9 L619.3,1115.4 L621.5,1114.8 L623.7,1114.3 L626.0,1113.8 L628.2,1113.3 L630.4,1112.7 L632.7,1112.2 L634.9,1111.6 L637.1,1111.1 L639.4,1110.5 L641.6,1109.9 L643.8,1109.4 L646.1,1108.8 L648.3,1108.2 L650.5,1107.6 L652.8,1107.0 L655.0,1106.4 L657.2,1105.7 L659.5,1105.0 L661.7,1104.3 L663.9,1103.5 L666.2,1102.7 L668.4,1101.9 L670.6,1101.1 L672.9,1100.2 L675.1,1099.4 L677.3,1098.6 L679.6,1097.8 L681.8,1097.0 L684.0,1096.2 L686.3,1095.5 L688.5,1094.7 L690.7,1094.1 L693.0,1093.4 L695.2,1092.8 L697.4,1092.3 L699.7,1091.8 L701.9,1091.4 L704.1,1091.0 L706.4,1090.7 L708.6,1090.5 L710.8,1090.3 L713.1,1090.1 L715.3,1090.0 L717.5,1089.8 L719.8,1089.7 L722.0,1089.5 L724.2,1089.4 L726.5,1089.3 L728.7,1089.2 L730.9,1089.1 L733.2,1088.9 L735.4,1088.8 L737.6,1088.7 L739.9,1088.6 L742.1,1088.5 L744.3,1088.4 L746.6,1088.3 L748.8,1088.2 L751.0,1088.1 L753.3,1087.9 L755.5,1087.8 L757.7,1087.6 L760.0,1087.4 L762.2,1087.2 L764.4,1087.0 L766.7,1086.7 L768.9,1086.4 L771.1,1086.1 L773.4,1085.7 L775.6,1085.3 L777.8,1084.8 L780.1,1084.3 L782.3,1083.8 L784.5,1083.3 L786.8,1082.8 L789.0,1082.2 L791.2,1081.7 L793.5,1081.1 L795.7,1080.5 L797.9,1079.9 L800.2,1079.3 L802.4,1078.6 L804.6,1078.0 L806.9,1077.3 L809.1,1076.7 L811.3,1076.0 L813.6,1075.2 L815.8,1074.4 L818.0,1073.6 L820.3,1072.6 L822.5,1071.6 L824.7,1070.3 L827.0,1068.9 L829.2,1067.2 L831.4,1065.2 L833.7,1063.0 L835.9,1060.4 L838.1,1057.4 L840.4,1053.9 L842.6,1049.9 L844.8,1045.3 L847.1,1040.1 L849.3,1034.1 L851.5,1027.3 L853.8,1019.5 L856.0,1010.7 L858.2,1000.8 L860.5,989.7 L862.7,977.4 L864.9,963.8 L867.2,948.9 L869.4,932.8 L871.6,915.5 L873.9,897.2 L876.1,878.2 L878.3,858.8 L880.6,839.4 L882.8,820.4 L885.0,802.6 L887.3,786.4 L889.5,772.5 L891.7,761.6 L894.0,754.1 L896.2,750.4 L898.4,750.7 L900.7,754.1 L902.9,760.0 L905.1,768.3 L907.4,778.8 L909.6,791.3 L911.8,805.6 L914.1,821.4 L916.3,838.5 L918.5,856.5 L920.8,875.2 L923.0,894.2 L925.2,913.4 L927.5,932.3 L929.7,950.9 L931.9,968.8 L934.2,986.0 L936.4,1002.3 L938.6,1017.5 L940.9,1031.7 L943.1,1044.6 L945.3,1056.5 L947.6,1067.1 L949.8,1076.6 L952.0,1085.1 L954.3,1092.5 L956.5,1098.9 L958.7,1104.5 L961.0,1109.3 L963.2,1113.3 L965.4,1116.7 L967.7,1119.5 L969.9,1121.9 L972.1,1123.8 L974.4,1125.3 L976.6,1126.6 L978.8,1127.6 L981.1,1128.4 L983.3,1129.0 L985.5,1129.5 L987.8,1129.9 L990.0,1130.2 L992.2,1130.4 L994.5,1130.6 L996.7,1130.8 L998.9,1130.9 L1001.2,1130.9 L1003.4,1131.0 L1005.6,1131.0 L1007.9,1131.1 L1010.1,1131.1 L1012.3,1131.1 L1014.6,1131.1 L1016.8,1131.1 L1019.0,1131.1 L1021.3,1131.1 L1023.5,1131.1 L1025.7,1131.1 L1028.0,1131.1 L1030.2,1131.2 L1032.4,1131.2 L1034.7,1131.2 L1036.9,1131.2 L1039.1,1131.2 L1041.4,1131.3 L1043.6,1131.3 L1045.8,1131.3 L1048.1,1131.4 L1050.3,1131.4 L1052.5,1131.4 L1054.8,1131.5 L1057.0,1131.5 L1059.2,1131.5 L1061.5,1131.5 L1063.7,1131.6 L1065.9,1131.6 L1068.2,1131.6 L1070.4,1131.6 L1072.6,1131.6 L1074.9,1131.7 L1077.1,1131.7 L1079.3,1131.7 L1081.6,1131.7 L1083.8,1131.7 L1086.0,1131.7 L1088.3,1131.7 L1090.5,1131.7 L1092.7,1131.7 L1095.0,1131.7 L1097.2,1131.7 L1099.4,1131.7 L1101.7,1131.7 L1103.9,1131.7 L1106.1,1131.7 L1108.4,1131.7 L1110.6,1131.7 L1112.8,1131.7 L1115.1,1131.7 L1117.3,1131.7 L1119.5,1131.7 L1121.8,1131.7 L1124.0,1131.7 L1126.2,1131.7 L1128.5,1131.7 L1130.7,1131.7 L1132.9,1131.7 L1135.2,1131.6 L1137.4,1131.5 L1139.6,1131.3 L1141.9,1131.1 L1144.1,1130.8 L1146.3,1130.5 L1148.6,1130.3 L1150.8,1130.0 L1153.0,1129.7 L1155.3,1129.3 L1157.5,1129.0 L1159.7,1128.7 L1162.0,1128.3 L1164.2,1128.0 L1166.4,1127.6 L1168.7,1127.2 L1170.9,1126.9 L1173.1,1126.5 L1175.4,1126.1 L1177.6,1125.7 L1179.8,1125.3 L1182.1,1125.0 L1184.3,1125.0 L1186.5,1125.0 L1188.8,1125.0" stroke="#0A70BC"/>
<path d="M469.6,1130.0 L471.9,1130.0 L474.1,1130.0 L476.3,1130.0 L478.6,1130.0 L480.8,1130.0 L483.0,1130.0 L485.3,1130.0 L487.5,1130.1 L489.7,1130.3 L492.0,1130.6 L494.2,1131.0 L496.4,1131.5 L498.7,1132.0 L500.9,1132.5 L503.1,1133.1 L505.4,1133.7 L507.6,1134.4 L509.8,1135.0 L512.1,1135.7 L514.3,1136.4 L516.5,1137.0 L518.8,1137.7 L521.0,1138.3 L523.2,1138.8 L525.5,1139.4 L527.7,1139.8 L529.9,1140.3 L532.2,1140.6 L534.4,1140.9 L536.6,1141.0 L538.9,1141.1 L541.1,1141.1 L543.3,1141.1 L545.6,1141.1 L547.8,1141.0 L550.0,1141.0 L552.3,1140.9 L554.5,1140.8 L556.7,1140.8 L559.0,1140.7 L561.2,1140.6 L563.4,1140.4 L565.7,1140.3 L567.9,1140.2 L570.1,1140.0 L572.4,1139.9 L574.6,1139.7 L576.8,1139.5 L579.1,1139.4 L581.3,1139.2 L583.5,1139.0 L585.8,1138.7 L588.0,1138.5 L590.2,1138.3 L592.5,1138.1 L594.7,1137.8 L596.9,1137.5 L599.2,1136.8 L601.4,1135.9 L603.6,1134.8 L605.9,1133.4 L608.1,1131.8 L610.3,1130.0 L612.6,1128.1 L614.8,1126.0 L617.0,1123.8 L619.3,1121.5 L621.5,1119.1 L623.7,1116.7 L626.0,1114.3 L628.2,1111.9 L630.4,1109.5 L632.7,1107.1 L634.9,1104.9 L637.1,1102.7 L639.4,1100.6 L641.6,1098.7 L643.8,1097.0 L646.1,1095.4 L648.3,1094.0 L650.5,1092.9 L652.8,1092.0 L655.0,1091.1 L657.2,1090.2 L659.5,1089.3 L661.7,1088.4 L663.9,1087.5 L666.2,1086.6 L668.4,1085.8 L670.6,1084.9 L672.9,1084.1 L675.1,1083.4 L677.3,1082.6 L679.6,1081.9 L681.8,1081.2 L684.0,1080.6 L686.3,1080.0 L688.5,1079.5 L690.7,1079.0 L693.0,1078.6 L695.2,1078.2 L697.4,1077.9 L699.7,1077.6 L701.9,1077.4 L704.1,1077.3 L706.4,1077.2 L708.6,1077.2 L710.8,1077.3 L713.1,1077.3 L715.3,1077.3 L717.5,1077.4 L719.8,1077.5 L722.0,1077.6 L724.2,1077.7 L726.5,1077.8 L728.7,1077.9 L730.9,1078.0 L733.2,1078.1 L735.4,1078.3 L737.6,1078.4 L739.9,1078.5 L742.1,1078.6 L744.3,1078.7 L746.6,1078.8 L748.8,1078.9 L751.0,1079.0 L753.3,1079.0 L755.5,1079.1 L757.7,1079.1 L760.0,1079.1 L762.2,1079.1 L764.4,1079.1 L766.7,1079.0 L768.9,1078.8 L771.1,1078.6 L773.4,1078.4 L775.6,1078.1 L777.8,1077.7 L780.1,1077.3 L782.3,1076.9 L784.5,1076.5 L786.8,1076.0 L789.0,1075.5 L791.2,1074.9 L793.5,1074.4 L795.7,1073.8 L797.9,1073.3 L800.2,1072.7 L802.4,1072.1 L804.6,1071.4 L806.9,1070.8 L809.1,1070.1 L811.3,1069.5 L813.6,1068.7 L815.8,1068.0 L818.0,1067.1 L820.3,1066.2 L822.5,1065.2 L824.7,1064.0 L827.0,1062.6 L829.2,1060.9 L831.4,1059.0 L833.7,1056.8 L835.9,1054.2 L838.1,1051.2 L840.4,1047.7 L842.6,1043.8 L844.8,1039.2 L847.1,1033.9 L849.3,1027.8 L851.5,1020.9 L853.8,1013.1 L856.0,1004.2 L858.2,994.1 L860.5,982.9 L862.7,970.3 L864.9,956.5 L867.2,941.4 L869.4,925.0 L871.6,907.4 L873.9,889.0 L876.1,869.9 L878.3,850.4 L880.6,831.2 L882.8,812.7 L885.0,795.5 L887.3,780.4 L889.5,767.8 L891.7,758.5 L894.0,752.9 L896.2,751.3 L898.4,753.5 L900.7,758.3 L902.9,765.4 L905.1,774.6 L907.4,785.8 L909.6,798.9 L911.8,813.6 L914.1,829.5 L916.3,846.6 L918.5,864.4 L920.8,882.8 L923.0,901.4 L925.2,920.0 L927.5,938.4 L929.7,956.3 L931.9,973.7 L934.2,990.2 L936.4,1005.8 L938.6,1020.5 L940.9,1034.1 L943.1,1046.5 L945.3,1057.9 L947.6,1068.1 L949.8,1077.3 L952.0,1085.4 L954.3,1092.6 L956.5,1098.8 L958.7,1104.2 L961.0,1108.7 L963.2,1112.6 L965.4,1115.7 L967.7,1118.3 L969.9,1120.4 L972.1,1122.0 L974.4,1123.3 L976.6,1124.3 L978.8,1125.0 L981.1,1125.6 L983.3,1126.0 L985.5,1126.4 L987.8,1126.7 L990.0,1126.9 L992.2,1127.1 L994.5,1127.3 L996.7,1127.4 L998.9,1127.4 L1001.2,1127.5 L1003.4,1127.5 L1005.6,1127.5 L1007.9,1127.5 L1010.1,1127.5 L1012.3,1127.5 L1014.6,1127.5 L1016.8,1127.5 L1019.0,1127.4 L1021.3,1127.4 L1023.5,1127.4 L1025.7,1127.4 L1028.0,1127.4 L1030.2,1127.4 L1032.4,1127.5 L1034.7,1127.6 L1036.9,1127.8 L1039.1,1128.0 L1041.4,1128.2 L1043.6,1128.4 L1045.8,1128.7 L1048.1,1129.0 L1050.3,1129.3 L1052.5,1129.5 L1054.8,1129.8 L1057.0,1130.1 L1059.2,1130.3 L1061.5,1130.5 L1063.7,1130.7 L1065.9,1130.9 L1068.2,1131.0 L1070.4,1131.1 L1072.6,1131.3 L1074.9,1131.3 L1077.1,1131.4 L1079.3,1131.5 L1081.6,1131.5 L1083.8,1131.6 L1086.0,1131.6 L1088.3,1131.6 L1090.5,1131.6 L1092.7,1131.7 L1095.0,1131.7 L1097.2,1131.7 L1099.4,1131.7 L1101.7,1131.7 L1103.9,1131.7 L1106.1,1131.7 L1108.4,1131.7 L1110.6,1131.7 L1112.8,1131.7 L1115.1,1131.7 L1117.3,1131.7 L1119.5,1131.7 L1121.8,1131.7 L1124.0,1131.7 L1126.2,1131.7 L1128.5,1131.7 L1130.7,1131.7 L1132.9,1131.7 L1135.2,1131.7 L1137.4,1131.6 L1139.6,1131.5 L1141.9,1131.3 L1144.1,1131.2 L1146.3,1131.0 L1148.6,1130.8 L1150.8,1130.7 L1153.0,1130.5 L1155.3,1130.3 L1157.5,1130.1 L1159.7,1129.9 L1162.0,1129.7 L1164.2,1129.5 L1166.4,1129.2 L1168.7,1129.0 L1170.9,1128.8 L1173.1,1128.6 L1175.4,1128.3 L1177.6,1128.1 L1179.8,1127.8 L1182.1,1127.7 L1184.3,1127.7 L1186.5,1127.7 L1188.8,1127.7" stroke="#0A70BC"/>
<path d="M469.6,1113.9 L471.9,1113.9 L474.1,1113.9 L476.3,1113.9 L478.6,1113.9 L480.8,1113.9 L483.0,1113.9 L485.3,1113.9 L487.5,1114.0 L489.7,1114.0 L492.0,1114.0 L494.2,1114.0 L496.4,1114.0 L498.7,1114.1 L500.9,1114.1 L503.1,1114.1 L505.4,1114.2 L507.6,1114.2 L509.8,1114.3 L512.1,1114.3 L514.3,1114.4 L516.5,1114.4 L518.8,1114.5 L521.0,1114.6 L523.2,1114.6 L525.5,1114.7 L527.7,1114.7 L529.9,1114.8 L532.2,1114.8 L534.4,1114.9 L536.6,1115.0 L538.9,1115.0 L541.1,1115.1 L543.3,1115.1 L545.6,1115.2 L547.8,1115.2 L550.0,1115.3 L552.3,1115.4 L554.5,1115.5 L556.7,1115.5 L559.0,1115.6 L561.2,1115.7 L563.4,1115.8 L565.7,1115.8 L567.9,1115.9 L570.1,1116.0 L572.4,1116.1 L574.6,1116.1 L576.8,1116.2 L579.1,1116.3 L581.3,1116.3 L583.5,1116.4 L585.8,1116.4 L588.0,1116.5 L590.2,1116.5 L592.5,1116.6 L594.7,1116.6 L596.9,1116.7 L599.2,1116.7 L601.4,1116.7 L603.6,1116.8 L605.9,1116.8 L608.1,1116.8 L610.3,1116.8 L612.6,1116.9 L614.8,1116.9 L617.0,1116.9 L619.3,1117.0 L621.5,1117.0 L623.7,1117.0 L626.0,1117.0 L628.2,1117.1 L630.4,1117.1 L632.7,1117.1 L634.9,1117.1 L637.1,1117.1 L639.4,1117.1 L641.6,1117.2 L643.8,1117.2 L646.1,1117.2 L648.3,1117.2 L650.5,1117.2 L652.8,1117.2 L655.0,1117.2 L657.2,1117.2 L659.5,1117.2 L661.7,1117.1 L663.9,1117.1 L666.2,1117.1 L668.4,1117.1 L670.6,1117.1 L672.9,1117.1 L675.1,1117.0 L677.3,1117.0 L679.6,1117.0 L681.8,1117.0 L684.0,1116.9 L686.3,1116.9 L688.5,1116.9 L690.7,1116.8 L693.0,1116.8 L695.2,1116.8 L697.4,1116.8 L699.7,1116.7 L701.9,1116.7 L704.1,1116.7 L706.4,1116.6 L708.6,1116.6 L710.8,1116.6 L713.1,1116.5 L715.3,1116.5 L717.5,1116.5 L719.8,1116.5 L722.0,1116.4 L724.2,1116.4 L726.5,1116.3 L728.7,1116.3 L730.9,1116.3 L733.2,1116.2 L735.4,1116.2 L737.6,1116.1 L739.9,1116.1 L742.1,1116.0 L744.3,1116.0 L746.6,1115.9 L748.8,1115.9 L751.0,1115.8 L753.3,1115.7 L755.5,1115.7 L757.7,1115.6 L760.0,1115.5 L762.2,1115.4 L764.4,1115.3 L766.7,1115.2 L768.9,1115.0 L771.1,1114.9 L773.4,1114.7 L775.6,1114.4 L777.8,1114.2 L780.1,1113.9 L782.3,1113.7 L784.5,1113.4 L786.8,1113.1 L789.0,1112.7 L791.2,1112.4 L793.5,1112.0 L795.7,1111.7 L797.9,1111.3 L800.2,1110.9 L802.4,1110.5 L804.6,1110.1 L806.9,1109.7 L809.1,1109.2 L811.3,1108.8 L813.6,1108.3 L815.8,1107.8 L818.0,1107.2 L820.3,1106.6 L822.5,1105.9 L824.7,1105.1 L827.0,1104.2 L829.2,1103.2 L831.4,1102.0 L833.7,1100.6 L835.9,1099.1 L838.1,1097.4 L840.4,1095.4 L842.6,1093.2 L844.8,1090.7 L847.1,1087.8 L849.3,1084.6 L851.5,1080.9 L853.8,1076.7 L856.0,1072.1 L858.2,1066.8 L860.5,1060.9 L862.7,1054.3 L864.9,1047.0 L867.2,1038.8 L869.4,1029.7 L871.6,1019.7 L873.9,1008.6 L876.1,996.6 L878.3,983.5 L880.6,969.4 L882.8,954.2 L885.0,938.2 L887.3,921.3 L889.5,903.8 L891.7,885.8 L894.0,867.7 L896.2,849.8 L898.4,832.4 L900.7,815.9 L902.9,800.8 L905.1,787.4 L907.4,776.3 L909.6,767.8 L911.8,762.1 L914.1,759.5 L916.3,760.0 L918.5,762.3 L920.8,766.4 L923.0,772.1 L925.2,779.3 L927.5,788.1 L929.7,798.2 L931.9,809.6 L934.2,822.0 L936.4,835.4 L938.6,849.5 L940.9,864.3 L943.1,879.5 L945.3,894.9 L947.6,910.5 L949.8,926.1 L952.0,941.4 L954.3,956.5 L956.5,971.1 L958.7,985.2 L961.0,998.7 L963.2,1011.5 L965.4,1023.6 L967.7,1034.9 L969.9,1045.4 L972.1,1055.0 L974.4,1063.8 L976.6,1071.8 L978.8,1078.8 L981.1,1085.0 L983.3,1090.4 L985.5,1094.9 L987.8,1098.6 L990.0,1101.7 L992.2,1104.1 L994.5,1106.1 L996.7,1107.7 L998.9,1109.1 L1001.2,1110.2 L1003.4,1111.3 L1005.6,1112.1 L1007.9,1112.9 L1010.1,1113.5 L1012.3,1114.1 L1014.6,1114.5 L1016.8,1114.8 L1019.0,1115.1 L1021.3,1115.4 L1023.5,1115.6 L1025.7,1115.7 L1028.0,1115.9 L1030.2,1116.1 L1032.4,1116.5 L1034.7,1117.0 L1036.9,1117.7 L1039.1,1118.4 L1041.4,1119.3 L1043.6,1120.2 L1045.8,1121.1 L1048.1,1122.1 L1050.3,1123.1 L1052.5,1124.1 L1054.8,1125.0 L1057.0,1125.9 L1059.2,1126.7 L1061.5,1127.5 L1063.7,1128.2 L1065.9,1128.8 L1068.2,1129.3 L1070.4,1129.8 L1072.6,1130.1 L1074.9,1130.5 L1077.1,1130.7 L1079.3,1131.0 L1081.6,1131.1 L1083.8,1131.3 L1086.0,1131.4 L1088.3,1131.5 L1090.5,1131.5 L1092.7,1131.6 L1095.0,1131.6 L1097.2,1131.6 L1099.4,1131.7 L1101.7,1131.7 L1103.9,1131.7 L1106.1,1131.7 L1108.4,1131.7 L1110.6,1131.7 L1112.8,1131.7 L1115.1,1131.7 L1117.3,1131.7 L1119.5,1131.7 L1121.8,1131.7 L1124.0,1131.7 L1126.2,1131.7 L1128.5,1131.7 L1130.7,1131.7 L1132.9,1131.7 L1135.2,1131.7 L1137.4,1131.6 L1139.6,1131.5 L1141.9,1131.4 L1144.1,1131.3 L1146.3,1131.2 L1148.6,1131.1 L1150.8,1131.0 L1153.0,1130.9 L1155.3,1130.8 L1157.5,1130.6 L1159.7,1130.5 L1162.0,1130.4 L1164.2,1130.2 L1166.4,1130.1 L1168.7,1129.9 L1170.9,1129.8 L1173.1,1129.6 L1175.4,1129.5 L1177.6,1129.3 L1179.8,1129.1 L1182.1,1129.0 L1184.3,1129.0 L1186.5,1129.0 L1188.8,1129.0" stroke="#0A70BC"/>
<path d="M469.6,1117.6 L471.9,1117.6 L474.1,1117.6 L476.3,1117.6 L478.6,1117.6 L480.8,1117.6 L483.0,1117.6 L485.3,1117.6 L487.5,1117.6 L489.7,1117.6 L492.0,1117.6 L494.2,1117.6 L496.4,1117.6 L498.7,1117.7 L500.9,1117.7 L503.1,1117.7 L505.4,1117.7 L507.6,1117.8 L509.8,1117.8 L512.1,1117.8 L514.3,1117.9 L516.5,1117.9 L518.8,1117.9 L521.0,1118.0 L523.2,1118.0 L525.5,1118.0 L527.7,1118.1 L529.9,1118.1 L532.2,1118.1 L534.4,1118.2 L536.6,1118.2 L538.9,1118.2 L541.1,1118.3 L543.3,1118.3 L545.6,1118.4 L547.8,1118.4 L550.0,1118.5 L552.3,1118.5 L554.5,1118.6 L556.7,1118.6 L559.0,1118.7 L561.2,1118.7 L563.4,1118.8 L565.7,1118.8 L567.9,1118.9 L570.1,1119.0 L572.4,1119.0 L574.6,1119.1 L576.8,1119.1 L579.1,1119.2 L581.3,1119.2 L583.5,1119.2 L585.8,1119.3 L588.0,1119.3 L590.2,1119.3 L592.5,1119.3 L594.7,1119.3 L596.9,1119.3 L599.2,1119.3 L601.4,1119.2 L603.6,1119.1 L605.9,1118.9 L608.1,1118.8 L610.3,1118.6 L612.6,1118.4 L614.8,1118.1 L617.0,1117.8 L619.3,1117.5 L621.5,1117.2 L623.7,1116.9 L626.0,1116.5 L628.2,1116.1 L630.4,1115.7 L632.7,1115.3 L634.9,1114.9 L637.1,1114.5 L639.4,1114.0 L641.6,1113.6 L643.8,1113.1 L646.1,1112.6 L648.3,1112.1 L650.5,1111.6 L652.8,1111.1 L655.0,1110.4 L657.2,1109.6 L659.5,1108.6 L661.7,1107.4 L663.9,1106.2 L666.2,1104.9 L668.4,1103.5 L670.6,1102.0 L672.9,1100.5 L675.1,1099.0 L677.3,1097.5 L679.6,1096.0 L681.8,1094.4 L684.0,1093.0 L686.3,1091.6 L688.5,1090.2 L690.7,1088.9 L693.0,1087.8 L695.2,1086.7 L697.4,1085.8 L699.7,1085.0 L701.9,1084.4 L704.1,1083.9 L706.4,1083.7 L708.6,1083.6 L710.8,1083.5 L713.1,1083.5 L715.3,1083.4 L717.5,1083.4 L719.8,1083.3 L722.0,1083.3 L724.2,1083.2 L726.5,1083.2 L728.7,1083.2 L730.9,1083.1 L733.2,1083.1 L735.4,1083.1 L737.6,1083.0 L739.9,1083.0 L742.1,1083.0 L744.3,1082.9 L746.6,1082.9 L748.8,1082.9 L751.0,1082.8 L753.3,1082.8 L755.5,1082.7 L757.7,1082.6 L760.0,1082.5 L762.2,1082.5 L764.4,1082.3 L766.7,1082.2 L768.9,1082.0 L771.1,1081.7 L773.4,1081.5 L775.6,1081.2 L777.8,1080.8 L780.1,1080.5 L782.3,1080.1 L784.5,1079.6 L786.8,1079.2 L789.0,1078.8 L791.2,1078.3 L793.5,1077.8 L795.7,1077.3 L797.9,1076.8 L800.2,1076.3 L802.4,1075.8 L804.6,1075.3 L806.9,1074.8 L809.1,1074.2 L811.3,1073.7 L813.6,1073.1 L815.8,1072.6 L818.0,1072.0 L820.3,1071.3 L822.5,1070.6 L824.7,1069.8 L827.0,1068.9 L829.2,1067.8 L831.4,1066.6 L833.7,1065.2 L835.9,1063.7 L838.1,1062.0 L840.4,1060.0 L842.6,1057.7 L844.8,1055.2 L847.1,1052.4 L849.3,1049.1 L851.5,1045.5 L853.8,1041.5 L856.0,1036.9 L858.2,1031.8 L860.5,1026.1 L862.7,1019.7 L864.9,1012.7 L867.2,1004.9 L869.4,996.3 L871.6,986.8 L873.9,976.5 L876.1,965.4 L878.3,953.4 L880.6,940.5 L882.8,926.8 L885.0,912.5 L887.3,897.6 L889.5,882.3 L891.7,866.9 L894.0,851.6 L896.2,836.6 L898.4,822.5 L900.7,809.4 L902.9,797.8 L905.1,788.0 L907.4,780.4 L909.6,775.3 L911.8,772.8 L914.1,773.1 L916.3,775.7 L918.5,779.8 L920.8,785.5 L923.0,792.7 L925.2,801.3 L927.5,811.1 L929.7,822.1 L931.9,834.2 L934.2,847.2 L936.4,860.9 L938.6,875.1 L940.9,889.8 L943.1,904.8 L945.3,919.9 L947.6,934.9 L949.8,949.8 L952.0,964.3 L954.3,978.5 L956.5,992.1 L958.7,1005.2 L961.0,1017.6 L963.2,1029.3 L965.4,1040.2 L967.7,1050.4 L969.9,1059.8 L972.1,1068.5 L974.4,1076.3 L976.6,1083.5 L978.8,1089.9 L981.1,1095.6 L983.3,1100.7 L985.5,1105.3 L987.8,1109.2 L990.0,1112.7 L992.2,1115.7 L994.5,1118.3 L996.7,1120.5 L998.9,1122.5 L1001.2,1124.1 L1003.4,1125.4 L1005.6,1126.6 L1007.9,1127.5 L1010.1,1128.3 L1012.3,1129.0 L1014.6,1129.5 L1016.8,1130.0 L1019.0,1130.3 L1021.3,1130.6 L1023.5,1130.8 L1025.7,1131.0 L1028.0,1131.2 L1030.2,1131.3 L1032.4,1131.4 L1034.7,1131.5 L1036.9,1131.5 L1039.1,1131.6 L1041.4,1131.6 L1043.6,1131.6 L1045.8,1131.6 L1048.1,1131.7 L1050.3,1131.7 L1052.5,1131.7 L1054.8,1131.7 L1057.0,1131.7 L1059.2,1131.7 L1061.5,1131.7 L1063.7,1131.7 L1065.9,1131.7 L1068.2,1131.7 L1070.4,1131.7 L1072.6,1131.7 L1074.9,1131.7 L1077.1,1131.7 L1079.3,1131.7 L1081.6,1131.7 L1083.8,1131.7 L1086.0,1131.7 L1088.3,1131.7 L1090.5,1131.7 L1092.7,1131.7 L1095.0,1131.7 L1097.2,1131.7 L1099.4,1131.7 L1101.7,1131.7 L1103.9,1131.7 L1106.1,1131.7 L1108.4,1131.7 L1110.6,1131.7 L1112.8,1131.7 L1115.1,1131.7 L1117.3,1131.7 L1119.5,1131.7 L1121.8,1131.7 L1124.0,1131.7 L1126.2,1131.7 L1128.5,1131.7 L1130.7,1131.7 L1132.9,1131.7 L1135.2,1131.7 L1137.4,1131.5 L1139.6,1131.3 L1141.9,1131.1 L1144.1,1130.9 L1146.3,1130.7 L1148.6,1130.4 L1150.8,1130.1 L1153.0,1129.9 L1155.3,1129.6 L1157.5,1129.3 L1159.7,1129.0 L1162.0,1128.7 L1164.2,1128.3 L1166.4,1128.0 L1168.7,1127.7 L1170.9,1127.3 L1173.1,1127.0 L1175.4,1126.6 L1177.6,1126.3 L1179.8,1125.9 L1182.1,1125.6 L1184.3,1125.6 L1186.5,1125.6 L1188.8,1125.6" stroke="#0A70BC"/>
<path d="M469.6,1116.2 L471.9,1116.2 L474.1,1116.2 L476.3,1116.2 L478.6,1116.2 L480.8,1116.2 L483.0,1116.2 L485.3,1116.2 L487.5,1116.2 L489.7,1116.3 L492.0,1116.3 L494.2,1116.3 L496.4,1116.3 L498.7,1116.3 L500.9,1116.4 L503.1,1116.4 L505.4,1116.4 L507.6,1116.5 L509.8,1116.5 L512.1,1116.6 L514.3,1116.6 L516.5,1116.7 L518.8,1116.7 L521.0,1116.8 L523.2,1116.8 L525.5,1116.9 L527.7,1116.9 L529.9,1117.0 L532.2,1117.0 L534.4,1117.1 L536.6,1117.1 L538.9,1117.2 L541.1,1117.2 L543.3,1117.3 L545.6,1117.3 L547.8,1117.4 L550.0,1117.4 L552.3,1117.5 L554.5,1117.6 L556.7,1117.6 L559.0,1117.7 L561.2,1117.8 L563.4,1117.9 L565.7,1117.9 L567.9,1118.0 L570.1,1118.1 L572.4,1118.1 L574.6,1118.2 L576.8,1118.3 L579.1,1118.3 L581.3,1118.4 L583.5,1118.4 L585.8,1118.5 L588.0,1118.5 L590.2,1118.6 L592.5,1118.6 L594.7,1118.6 L596.9,1118.7 L599.2,1118.7 L601.4,1118.7 L603.6,1118.7 L605.9,1118.8 L608.1,1118.8 L610.3,1118.8 L612.6,1118.8 L614.8,1118.9 L617.0,1118.9 L619.3,1118.9 L621.5,1118.9 L623.7,1118.9 L626.0,1119.0 L628.2,1119.0 L630.4,1119.0 L632.7,1119.0 L634.9,1119.0 L637.1,1119.0 L639.4,1119.0 L641.6,1119.0 L643.8,1119.0 L646.1,1119.1 L648.3,1119.1 L650.5,1119.1 L652.8,1119.1 L655.0,1119.1 L657.2,1119.0 L659.5,1119.0 L661.7,1119.0 L663.9,1119.0 L666.2,1119.0 L668.4,1119.0 L670.6,1119.0 L672.9,1118.9 L675.1,1118.9 L677.3,1118.9 L679.6,1118.9 L681.8,1118.8 L684.0,1118.8 L686.3,1118.8 L688.5,1118.7 L690.7,1118.7 L693.0,1118.7 L695.2,1118.7 L697.4,1118.6 L699.7,1118.6 L701.9,1118.6 L704.1,1118.5 L706.4,1118.5 L708.6,1118.5 L710.8,1118.5 L713.1,1118.4 L715.3,1118.4 L717.5,1118.4 L719.8,1118.3 L722.0,1118.3 L724.2,1118.3 L726.5,1118.3 L728.7,1118.2 L730.9,1118.2 L733.2,1118.2 L735.4,1118.1 L737.6,1118.1 L739.9,1118.0 L742.1,1118.0 L744.3,1118.0 L746.6,1117.9 L748.8,1117.8 L751.0,1117.8 L753.3,1117.7 L755.5,1117.7 L757.7,1117.6 L760.0,1117.5 L762.2,1117.4 L764.4,1117.3 L766.7,1117.2 L768.9,1117.0 L771.1,1116.8 L773.4,1116.6 L775.6,1116.3 L777.8,1116.0 L780.1,1115.7 L782.3,1115.4 L784.5,1115.0 L786.8,1114.6 L789.0,1114.2 L791.2,1113.8 L793.5,1113.4 L795.7,1112.9 L797.9,1112.4 L800.2,1111.9 L802.4,1111.4 L804.6,1110.8 L806.9,1110.3 L809.1,1109.6 L811.3,1109.0 L813.6,1108.3 L815.8,1107.5 L818.0,1106.7 L820.3,1105.8 L822.5,1104.8 L824.7,1103.7 L827.0,1102.5 L829.2,1101.0 L831.4,1099.4 L833.7,1097.6 L835.9,1095.6 L838.1,1093.3 L840.4,1090.8 L842.6,1087.9 L844.8,1084.7 L847.1,1081.1 L849.3,1077.1 L851.5,1072.7 L853.8,1067.7 L856.0,1062.2 L858.2,1056.1 L860.5,1049.4 L862.7,1041.9 L864.9,1033.7 L867.2,1024.8 L869.4,1015.0 L871.6,1004.5 L873.9,993.0 L876.1,980.8 L878.3,967.7 L880.6,953.9 L882.8,939.3 L885.0,924.2 L887.3,908.7 L889.5,892.9 L891.7,877.1 L894.0,861.4 L896.2,846.3 L898.4,832.0 L900.7,818.8 L902.9,807.0 L905.1,797.0 L907.4,789.1 L909.6,783.3 L911.8,780.1 L914.1,779.3 L916.3,780.7 L918.5,783.6 L920.8,788.1 L923.0,794.1 L925.2,801.4 L927.5,810.1 L929.7,820.0 L931.9,831.0 L934.2,842.9 L936.4,855.6 L938.6,868.9 L940.9,882.8 L943.1,897.0 L945.3,911.5 L947.6,926.0 L949.8,940.4 L952.0,954.6 L954.3,968.6 L956.5,982.1 L958.7,995.2 L961.0,1007.7 L963.2,1019.5 L965.4,1030.7 L967.7,1041.2 L969.9,1051.0 L972.1,1060.0 L974.4,1068.3 L976.6,1075.9 L978.8,1082.7 L981.1,1088.9 L983.3,1094.4 L985.5,1099.3 L987.8,1103.5 L990.0,1107.3 L992.2,1110.5 L994.5,1113.3 L996.7,1115.8 L998.9,1117.9 L1001.2,1119.7 L1003.4,1121.2 L1005.6,1122.6 L1007.9,1123.7 L1010.1,1124.7 L1012.3,1125.4 L1014.6,1126.1 L1016.8,1126.6 L1019.0,1127.1 L1021.3,1127.5 L1023.5,1127.8 L1025.7,1128.0 L1028.0,1128.2 L1030.2,1128.4 L1032.4,1128.6 L1034.7,1128.8 L1036.9,1128.9 L1039.1,1129.1 L1041.4,1129.3 L1043.6,1129.5 L1045.8,1129.7 L1048.1,1129.9 L1050.3,1130.1 L1052.5,1130.3 L1054.8,1130.5 L1057.0,1130.6 L1059.2,1130.8 L1061.5,1130.9 L1063.7,1131.1 L1065.9,1131.2 L1068.2,1131.3 L1070.4,1131.4 L1072.6,1131.4 L1074.9,1131.5 L1077.1,1131.5 L1079.3,1131.6 L1081.6,1131.6 L1083.8,1131.6 L1086.0,1131.6 L1088.3,1131.7 L1090.5,1131.7 L1092.7,1131.7 L1095.0,1131.7 L1097.2,1131.7 L1099.4,1131.7 L1101.7,1131.7 L1103.9,1131.7 L1106.1,1131.7 L1108.4,1131.7 L1110.6,1131.7 L1112.8,1131.7 L1115.1,1131.7 L1117.3,1131.7 L1119.5,1131.7 L1121.8,1131.7 L1124.0,1131.7 L1126.2,1131.7 L1128.5,1131.7 L1130.7,1131.7 L1132.9,1131.7 L1135.2,1131.7 L1137.4,1131.7 L1139.6,1131.6 L1141.9,1131.6 L1144.1,1131.5 L1146.3,1131.5 L1148.6,1131.4 L1150.8,1131.4 L1153.0,1131.3 L1155.3,1131.2 L1157.5,1131.2 L1159.7,1131.1 L1162.0,1131.0 L1164.2,1131.0 L1166.4,1130.9 L1168.7,1130.8 L1170.9,1130.7 L1173.1,1130.7 L1175.4,1130.6 L1177.6,1130.5 L1179.8,1130.4 L1182.1,1130.4 L1184.3,1130.4 L1186.5,1130.4 L1188.8,1130.4" stroke="#0A70BC"/>
<path d="M469.6,1118.5 L471.9,1118.5 L474.1,1118.5 L476.3,1118.5 L478.6,1118.5 L480.8,1118.5 L483.0,1118.5 L485.3,1118.5 L487.5,1118.5 L489.7,1118.5 L492.0,1118.5 L494.2,1118.5 L496.4,1118.6 L498.7,1118.6 L500.9,1118.6 L503.1,1118.6 L505.4,1118.6 L507.6,1118.7 L509.8,1118.7 L512.1,1118.7 L514.3,1118.7 L516.5,1118.8 L518.8,1118.8 L521.0,1118.8 L523.2,1118.8 L525.5,1118.9 L527.7,1118.9 L529.9,1118.9 L532.2,1119.0 L534.4,1119.0 L536.6,1119.0 L538.9,1119.1 L541.1,1119.1 L543.3,1119.1 L545.6,1119.2 L547.8,1119.2 L550.0,1119.2 L552.3,1119.3 L554.5,1119.3 L556.7,1119.4 L559.0,1119.5 L561.2,1119.5 L563.4,1119.6 L565.7,1119.6 L567.9,1119.7 L570.1,1119.8 L572.4,1119.8 L574.6,1119.9 L576.8,1119.9 L579.1,1120.0 L581.3,1120.0 L583.5,1120.1 L585.8,1120.1 L588.0,1120.2 L590.2,1120.2 L592.5,1120.2 L594.7,1120.3 L596.9,1120.3 L599.2,1120.3 L601.4,1120.3 L603.6,1120.4 L605.9,1120.4 L608.1,1120.4 L610.3,1120.4 L612.6,1120.4 L614.8,1120.5 L617.0,1120.5 L619.3,1120.5 L621.5,1120.5 L623.7,1120.6 L626.0,1120.6 L628.2,1120.6 L630.4,1120.6 L632.7,1120.6 L634.9,1120.6 L637.1,1120.6 L639.4,1120.6 L641.6,1120.7 L643.8,1120.7 L646.1,1120.7 L648.3,1120.7 L650.5,1120.7 L652.8,1120.7 L655.0,1120.7 L657.2,1120.7 L659.5,1120.6 L661.7,1120.6 L663.9,1120.6 L666.2,1120.6 L668.4,1120.5 L670.6,1120.5 L672.9,1120.5 L675.1,1120.4 L677.3,1120.4 L679.6,1120.4 L681.8,1120.3 L684.0,1120.3 L686.3,1120.2 L688.5,1120.2 L690.7,1120.2 L693.0,1120.1 L695.2,1120.1 L697.4,1120.0 L699.7,1120.0 L701.9,1119.9 L704.1,1119.9 L706.4,1119.9 L708.6,1119.8 L710.8,1119.8 L713.1,1119.7 L715.3,1119.7 L717.5,1119.7 L719.8,1119.6 L722.0,1119.6 L724.2,1119.6 L726.5,1119.5 L728.7,1119.5 L730.9,1119.4 L733.2,1119.4 L735.4,1119.3 L737.6,1119.3 L739.9,1119.2 L742.1,1119.2 L744.3,1119.1 L746.6,1119.1 L748.8,1119.0 L751.0,1118.9 L753.3,1118.8 L755.5,1118.8 L757.7,1118.7 L760.0,1118.6 L762.2,1118.5 L764.4,1118.3 L766.7,1118.2 L768.9,1118.0 L771.1,1117.8 L773.4,1117.6 L775.6,1117.3 L777.8,1117.0 L780.1,1116.7 L782.3,1116.4 L784.5,1116.1 L786.8,1115.7 L789.0,1115.3 L791.2,1114.9 L793.5,1114.5 L795.7,1114.0 L797.9,1113.6 L800.2,1113.1 L802.4,1112.5 L804.6,1112.0 L806.9,1111.4 L809.1,1110.8 L811.3,1110.1 L813.6,1109.4 L815.8,1108.7 L818.0,1107.9 L820.3,1107.0 L822.5,1106.0 L824.7,1104.8 L827.0,1103.6 L829.2,1102.1 L831.4,1100.5 L833.7,1098.7 L835.9,1096.7 L838.1,1094.4 L840.4,1091.9 L842.6,1089.1 L844.8,1085.9 L847.1,1082.4 L849.3,1078.4 L851.5,1074.0 L853.8,1069.2 L856.0,1063.8 L858.2,1057.8 L860.5,1051.2 L862.7,1043.9 L864.9,1036.0 L867.2,1027.3 L869.4,1017.8 L871.6,1007.6 L873.9,996.5 L876.1,984.7 L878.3,972.1 L880.6,958.7 L882.8,944.7 L885.0,930.2 L887.3,915.2 L889.5,900.0 L891.7,884.7 L894.0,869.6 L896.2,855.0 L898.4,841.0 L900.7,828.1 L902.9,816.5 L905.1,806.5 L907.4,798.4 L909.6,792.4 L911.8,788.7 L914.1,787.4 L916.3,788.2 L918.5,790.7 L920.8,794.6 L923.0,799.9 L925.2,806.7 L927.5,814.7 L929.7,823.9 L931.9,834.2 L934.2,845.4 L936.4,857.5 L938.6,870.3 L940.9,883.5 L943.1,897.2 L945.3,911.1 L947.6,925.2 L949.8,939.2 L952.0,953.1 L954.3,966.7 L956.5,980.0 L958.7,992.9 L961.0,1005.2 L963.2,1017.0 L965.4,1028.1 L967.7,1038.5 L969.9,1048.2 L972.1,1057.2 L974.4,1065.5 L976.6,1073.0 L978.8,1079.7 L981.1,1085.7 L983.3,1091.0 L985.5,1095.5 L987.8,1099.4 L990.0,1102.6 L992.2,1105.3 L994.5,1107.6 L996.7,1109.6 L998.9,1111.3 L1001.2,1112.7 L1003.4,1114.0 L1005.6,1115.1 L1007.9,1116.1 L1010.1,1116.9 L1012.3,1117.6 L1014.6,1118.2 L1016.8,1118.6 L1019.0,1119.0 L1021.3,1119.3 L1023.5,1119.6 L1025.7,1119.8 L1028.0,1120.1 L1030.2,1120.3 L1032.4,1120.6 L1034.7,1121.0 L1036.9,1121.5 L1039.1,1122.1 L1041.4,1122.7 L1043.6,1123.4 L1045.8,1124.1 L1048.1,1124.8 L1050.3,1125.5 L1052.5,1126.2 L1054.8,1126.9 L1057.0,1127.6 L1059.2,1128.1 L1061.5,1128.7 L1063.7,1129.2 L1065.9,1129.6 L1068.2,1130.0 L1070.4,1130.3 L1072.6,1130.6 L1074.9,1130.8 L1077.1,1131.0 L1079.3,1131.2 L1081.6,1131.3 L1083.8,1131.4 L1086.0,1131.5 L1088.3,1131.5 L1090.5,1131.6 L1092.7,1131.6 L1095.0,1131.6 L1097.2,1131.7 L1099.4,1131.7 L1101.7,1131.7 L1103.9,1131.7 L1106.1,1131.7 L1108.4,1131.7 L1110.6,1131.7 L1112.8,1131.7 L1115.1,1131.7 L1117.3,1131.7 L1119.5,1131.7 L1121.8,1131.7 L1124.0,1131.7 L1126.2,1131.7 L1128.5,1131.7 L1130.7,1131.7 L1132.9,1131.7 L1135.2,1131.7 L1137.4,1131.6 L1139.6,1131.5 L1141.9,1131.3 L1144.1,1131.2 L1146.3,1131.0 L1148.6,1130.8 L1150.8,1130.7 L1153.0,1130.5 L1155.3,1130.3 L1157.5,1130.1 L1159.7,1129.9 L1162.0,1129.7 L1164.2,1129.5 L1166.4,1129.2 L1168.7,1129.0 L1170.9,1128.8 L1173.1,1128.6 L1175.4,1128.3 L1177.6,1128.1 L1179.8,1127.8 L1182.1,1127.7 L1184.3,1127.7 L1186.5,1127.7 L1188.8,1127.7" stroke="#0A70BC"/>
<path d="M469.6,1114.9 L471.9,1114.9 L474.1,1114.9 L476.3,1114.9 L478.6,1114.9 L480.8,1114.9 L483.0,1114.9 L485.3,1114.9 L487.5,1114.9 L489.7,1114.9 L492.0,1114.9 L494.2,1115.0 L496.4,1115.0 L498.7,1115.0 L500.9,1115.1 L503.1,1115.1 L505.4,1115.2 L507.6,1115.2 L509.8,1115.3 L512.1,1115.3 L514.3,1115.4 L516.5,1115.5 L518.8,1115.5 L521.0,1115.6 L523.2,1115.7 L525.5,1115.7 L527.7,1115.8 L529.9,1115.8 L532.2,1115.9 L534.4,1116.0 L536.6,1116.0 L538.9,1116.1 L541.1,1116.1 L543.3,1116.2 L545.6,1116.3 L547.8,1116.3 L550.0,1116.4 L552.3,1116.5 L554.5,1116.5 L556.7,1116.6 L559.0,1116.7 L561.2,1116.8 L563.4,1116.8 L565.7,1116.9 L567.9,1117.0 L570.1,1117.1 L572.4,1117.1 L574.6,1117.2 L576.8,1117.3 L579.1,1117.3 L581.3,1117.4 L583.5,1117.5 L585.8,1117.5 L588.0,1117.6 L590.2,1117.6 L592.5,1117.7 L594.7,1117.7 L596.9,1117.7 L599.2,1117.8 L601.4,1117.8 L603.6,1117.8 L605.9,1117.9 L608.1,1117.9 L610.3,1117.9 L612.6,1118.0 L614.8,1118.0 L617.0,1118.0 L619.3,1118.0 L621.5,1118.1 L623.7,1118.1 L626.0,1118.1 L628.2,1118.1 L630.4,1118.2 L632.7,1118.2 L634.9,1118.2 L637.1,1118.2 L639.4,1118.2 L641.6,1118.2 L643.8,1118.2 L646.1,1118.2 L648.3,1118.2 L650.5,1118.2 L652.8,1118.2 L655.0,1118.2 L657.2,1118.2 L659.5,1118.2 L661.7,1118.2 L663.9,1118.2 L666.2,1118.2 L668.4,1118.2 L670.6,1118.2 L672.9,1118.2 L675.1,1118.2 L677.3,1118.2 L679.6,1118.2 L681.8,1118.1 L684.0,1118.1 L686.3,1118.1 L688.5,1118.1 L690.7,1118.1 L693.0,1118.1 L695.2,1118.1 L697.4,1118.0 L699.7,1118.0 L701.9,1118.0 L704.1,1118.0 L706.4,1118.0 L708.6,1117.9 L710.8,1117.9 L713.1,1117.9 L715.3,1117.9 L717.5,1117.9 L719.8,1117.8 L722.0,1117.8 L724.2,1117.8 L726.5,1117.7 L728.7,1117.7 L730.9,1117.7 L733.2,1117.6 L735.4,1117.6 L737.6,1117.5 L739.9,1117.5 L742.1,1117.4 L744.3,1117.4 L746.6,1117.3 L748.8,1117.3 L751.0,1117.2 L753.3,1117.1 L755.5,1117.1 L757.7,1117.0 L760.0,1116.9 L762.2,1116.8 L764.4,1116.7 L766.7,1116.6 L768.9,1116.4 L771.1,1116.2 L773.4,1116.0 L775.6,1115.8 L777.8,1115.6 L780.1,1115.3 L782.3,1115.0 L784.5,1114.7 L786.8,1114.4 L789.0,1114.0 L791.2,1113.6 L793.5,1113.3 L795.7,1112.8 L797.9,1112.4 L800.2,1111.9 L802.4,1111.4 L804.6,1110.9 L806.9,1110.3 L809.1,1109.7 L811.3,1109.0 L813.6,1108.3 L815.8,1107.5 L818.0,1106.6 L820.3,1105.7 L822.5,1104.6 L824.7,1103.5 L827.0,1102.1 L829.2,1100.6 L831.4,1099.0 L833.7,1097.1 L835.9,1095.0 L838.1,1092.7 L840.4,1090.1 L842.6,1087.2 L844.8,1084.0 L847.1,1080.4 L849.3,1076.4 L851.5,1072.0 L853.8,1067.1 L856.0,1061.7 L858.2,1055.8 L860.5,1049.2 L862.7,1042.0 L864.9,1034.2 L867.2,1025.6 L869.4,1016.4 L871.6,1006.4 L873.9,995.6 L876.1,984.1 L878.3,971.9 L880.6,959.1 L882.8,945.6 L885.0,931.7 L887.3,917.4 L889.5,902.9 L891.7,888.4 L894.0,874.0 L896.2,860.1 L898.4,846.9 L900.7,834.7 L902.9,823.7 L905.1,814.2 L907.4,806.4 L909.6,800.6 L911.8,796.9 L914.1,795.4 L916.3,796.1 L918.5,798.3 L920.8,801.8 L923.0,806.7 L925.2,813.0 L927.5,820.4 L929.7,829.1 L931.9,838.7 L934.2,849.3 L936.4,860.7 L938.6,872.7 L940.9,885.3 L943.1,898.4 L945.3,911.7 L947.6,925.1 L949.8,938.6 L952.0,952.0 L954.3,965.2 L956.5,978.1 L958.7,990.7 L961.0,1002.8 L963.2,1014.3 L965.4,1025.3 L967.7,1035.7 L969.9,1045.5 L972.1,1054.6 L974.4,1063.0 L976.6,1070.8 L978.8,1077.9 L981.1,1084.4 L983.3,1090.3 L985.5,1095.5 L987.8,1100.2 L990.0,1104.4 L992.2,1108.1 L994.5,1111.3 L996.7,1114.2 L998.9,1116.7 L1001.2,1118.8 L1003.4,1120.7 L1005.6,1122.3 L1007.9,1123.7 L1010.1,1124.9 L1012.3,1125.9 L1014.6,1126.7 L1016.8,1127.4 L1019.0,1128.0 L1021.3,1128.5 L1023.5,1128.9 L1025.7,1129.2 L1028.0,1129.5 L1030.2,1129.7 L1032.4,1129.9 L1034.7,1130.1 L1036.9,1130.3 L1039.1,1130.4 L1041.4,1130.6 L1043.6,1130.7 L1045.8,1130.8 L1048.1,1130.9 L1050.3,1131.0 L1052.5,1131.1 L1054.8,1131.2 L1057.0,1131.2 L1059.2,1131.3 L1061.5,1131.4 L1063.7,1131.4 L1065.9,1131.5 L1068.2,1131.5 L1070.4,1131.6 L1072.6,1131.6 L1074.9,1131.6 L1077.1,1131.6 L1079.3,1131.6 L1081.6,1131.7 L1083.8,1131.7 L1086.0,1131.7 L1088.3,1131.7 L1090.5,1131.7 L1092.7,1131.7 L1095.0,1131.7 L1097.2,1131.7 L1099.4,1131.7 L1101.7,1131.7 L1103.9,1131.7 L1106.1,1131.7 L1108.4,1131.7 L1110.6,1131.7 L1112.8,1131.7 L1115.1,1131.7 L1117.3,1131.7 L1119.5,1131.7 L1121.8,1131.7 L1124.0,1131.7 L1126.2,1131.7 L1128.5,1131.7 L1130.7,1131.7 L1132.9,1131.7 L1135.2,1131.6 L1137.4,1131.5 L1139.6,1131.2 L1141.9,1131.0 L1144.1,1130.7 L1146.3,1130.4 L1148.6,1130.1 L1150.8,1129.8 L1153.0,1129.5 L1155.3,1129.1 L1157.5,1128.7 L1159.7,1128.4 L1162.0,1128.0 L1164.2,1127.6 L1166.4,1127.2 L1168.7,1126.8 L1170.9,1126.4 L1173.1,1126.0 L1175.4,1125.5 L1177.6,1125.1 L1179.8,1124.6 L1182.1,1124.3 L1184.3,1124.3 L1186.5,1124.3 L1188.8,1124.3" stroke="#0A70BC"/>
<path d="M469.6,1116.9 L471.9,1116.9 L474.1,1116.9 L476.3,1116.9 L478.6,1116.9 L480.8,1116.9 L483.0,1116.9 L485.3,1116.9 L487.5,1116.9 L489.7,1116.9 L492.0,1116.9 L494.2,1117.0 L496.4,1117.0 L498.7,1117.0 L500.9,1117.0 L503.1,1117.1 L505.4,1117.1 L507.6,1117.1 L509.8,1117.2 L512.1,1117.2 L514.3,1117.2 L516.5,1117.3 L518.8,1117.3 L521.0,1117.4 L523.2,1117.4 L525.5,1117.4 L527.7,1117.5 L529.9,1117.5 L532.2,1117.6 L534.4,1117.6 L536.6,1117.7 L538.9,1117.7 L541.1,1117.7 L543.3,1117.8 L545.6,1117.8 L547.8,1117.9 L550.0,1118.0 L552.3,1118.0 L554.5,1118.1 L556.7,1118.2 L559.0,1118.2 L561.2,1118.3 L563.4,1118.4 L565.7,1118.5 L567.9,1118.5 L570.1,1118.6 L572.4,1118.7 L574.6,1118.7 L576.8,1118.8 L579.1,1118.8 L581.3,1118.9 L583.5,1118.9 L585.8,1119.0 L588.0,1119.0 L590.2,1119.0 L592.5,1119.1 L594.7,1119.1 L596.9,1119.1 L599.2,1119.0 L601.4,1119.0 L603.6,1118.9 L605.9,1118.9 L608.1,1118.8 L610.3,1118.7 L612.6,1118.6 L614.8,1118.5 L617.0,1118.4 L619.3,1118.2 L621.5,1118.1 L623.7,1117.9 L626.0,1117.7 L628.2,1117.6 L630.4,1117.4 L632.7,1117.2 L634.9,1117.0 L637.1,1116.8 L639.4,1116.6 L641.6,1116.4 L643.8,1116.2 L646.1,1116.0 L648.3,1115.8 L650.5,1115.6 L652.8,1115.4 L655.0,1115.2 L657.2,1114.9 L659.5,1114.6 L661.7,1114.3 L663.9,1113.9 L666.2,1113.6 L668.4,1113.2 L670.6,1112.8 L672.9,1112.4 L675.1,1111.9 L677.3,1111.5 L679.6,1111.1 L681.8,1110.6 L684.0,1110.2 L686.3,1109.8 L688.5,1109.3 L690.7,1108.9 L693.0,1108.5 L695.2,1108.1 L697.4,1107.7 L699.7,1107.3 L701.9,1106.9 L704.1,1106.6 L706.4,1106.2 L708.6,1105.9 L710.8,1105.6 L713.1,1105.3 L715.3,1105.0 L717.5,1104.7 L719.8,1104.4 L722.0,1104.2 L724.2,1103.9 L726.5,1103.6 L728.7,1103.3 L730.9,1103.1 L733.2,1102.8 L735.4,1102.5 L737.6,1102.3 L739.9,1102.0 L742.1,1101.8 L744.3,1101.5 L746.6,1101.2 L748.8,1101.0 L751.0,1100.7 L753.3,1100.4 L755.5,1100.2 L757.7,1099.9 L760.0,1099.6 L762.2,1099.3 L764.4,1099.0 L766.7,1098.7 L768.9,1098.4 L771.1,1098.0 L773.4,1097.6 L775.6,1097.2 L777.8,1096.8 L780.1,1096.4 L782.3,1096.0 L784.5,1095.5 L786.8,1095.1 L789.0,1094.6 L791.2,1094.2 L793.5,1093.7 L795.7,1093.2 L797.9,1092.7 L800.2,1092.3 L802.4,1091.8 L804.6,1091.3 L806.9,1090.8 L809.1,1090.2 L811.3,1089.7 L813.6,1089.1 L815.8,1088.5 L818.0,1087.9 L820.3,1087.2 L822.5,1086.5 L824.7,1085.6 L827.0,1084.6 L829.2,1083.5 L831.4,1082.2 L833.7,1080.7 L835.9,1079.1 L838.1,1077.2 L840.4,1075.0 L842.6,1072.6 L844.8,1069.9 L847.1,1066.8 L849.3,1063.3 L851.5,1059.3 L853.8,1054.9 L856.0,1049.9 L858.2,1044.3 L860.5,1038.1 L862.7,1031.2 L864.9,1023.6 L867.2,1015.1 L869.4,1005.9 L871.6,995.8 L873.9,984.8 L876.1,972.9 L878.3,960.3 L880.6,946.8 L882.8,932.8 L885.0,918.2 L887.3,903.3 L889.5,888.3 L891.7,873.5 L894.0,859.1 L896.2,845.7 L898.4,833.4 L900.7,822.7 L902.9,813.9 L905.1,807.4 L907.4,803.3 L909.6,801.9 L911.8,803.1 L914.1,805.9 L916.3,810.3 L918.5,816.1 L920.8,823.4 L923.0,831.9 L925.2,841.6 L927.5,852.3 L929.7,863.9 L931.9,876.4 L934.2,889.4 L936.4,902.9 L938.6,916.8 L940.9,930.8 L943.1,944.8 L945.3,958.7 L947.6,972.4 L949.8,985.7 L952.0,998.6 L954.3,1010.9 L956.5,1022.6 L958.7,1033.7 L961.0,1044.1 L963.2,1053.8 L965.4,1062.7 L967.7,1070.9 L969.9,1078.3 L972.1,1084.9 L974.4,1090.8 L976.6,1096.0 L978.8,1100.5 L981.1,1104.4 L983.3,1107.6 L985.5,1110.3 L987.8,1112.5 L990.0,1114.2 L992.2,1115.7 L994.5,1117.0 L996.7,1118.0 L998.9,1118.9 L1001.2,1119.7 L1003.4,1120.4 L1005.6,1120.9 L1007.9,1121.4 L1010.1,1121.7 L1012.3,1122.0 L1014.6,1122.2 L1016.8,1122.4 L1019.0,1122.5 L1021.3,1122.6 L1023.5,1122.7 L1025.7,1122.7 L1028.0,1122.8 L1030.2,1122.9 L1032.4,1123.1 L1034.7,1123.4 L1036.9,1123.7 L1039.1,1124.2 L1041.4,1124.6 L1043.6,1125.1 L1045.8,1125.7 L1048.1,1126.2 L1050.3,1126.8 L1052.5,1127.4 L1054.8,1127.9 L1057.0,1128.4 L1059.2,1128.9 L1061.5,1129.3 L1063.7,1129.7 L1065.9,1130.0 L1068.2,1130.3 L1070.4,1130.6 L1072.6,1130.8 L1074.9,1131.0 L1077.1,1131.2 L1079.3,1131.3 L1081.6,1131.4 L1083.8,1131.5 L1086.0,1131.5 L1088.3,1131.6 L1090.5,1131.6 L1092.7,1131.6 L1095.0,1131.6 L1097.2,1131.7 L1099.4,1131.7 L1101.7,1131.7 L1103.9,1131.7 L1106.1,1131.7 L1108.4,1131.7 L1110.6,1131.7 L1112.8,1131.7 L1115.1,1131.7 L1117.3,1131.7 L1119.5,1131.7 L1121.8,1131.7 L1124.0,1131.7 L1126.2,1131.7 L1128.5,1131.7 L1130.7,1131.7 L1132.9,1131.7 L1135.2,1131.7 L1137.4,1131.6 L1139.6,1131.5 L1141.9,1131.4 L1144.1,1131.3 L1146.3,1131.2 L1148.6,1131.1 L1150.8,1131.0 L1153.0,1130.9 L1155.3,1130.8 L1157.5,1130.6 L1159.7,1130.5 L1162.0,1130.4 L1164.2,1130.2 L1166.4,1130.1 L1168.7,1129.9 L1170.9,1129.8 L1173.1,1129.6 L1175.4,1129.5 L1177.6,1129.3 L1179.8,1129.1 L1182.1,1129.0 L1184.3,1129.0 L1186.5,1129.0 L1188.8,1129.0" stroke="#0A70BC"/>
<path d="M469.6,1115.3 L471.9,1115.3 L474.1,1115.3 L476.3,1115.3 L478.6,1115.3 L480.8,1115.3 L483.0,1115.3 L485.3,1115.3 L487.5,1115.3 L489.7,1115.3 L492.0,1115.3 L494.2,1115.4 L496.4,1115.4 L498.7,1115.4 L500.9,1115.4 L503.1,1115.5 L505.4,1115.5 L507.6,1115.6 L509.8,1115.6 L512.1,1115.7 L514.3,1115.7 L516.5,1115.8 L518.8,1115.8 L521.0,1115.9 L523.2,1115.9 L525.5,1116.0 L527.7,1116.1 L529.9,1116.1 L532.2,1116.2 L534.4,1116.2 L536.6,1116.3 L538.9,1116.4 L541.1,1116.4 L543.3,1116.5 L545.6,1116.5 L547.8,1116.6 L550.0,1116.7 L552.3,1116.8 L554.5,1116.9 L556.7,1116.9 L559.0,1117.0 L561.2,1117.1 L563.4,1117.2 L565.7,1117.3 L567.9,1117.4 L570.1,1117.5 L572.4,1117.6 L574.6,1117.7 L576.8,1117.7 L579.1,1117.8 L581.3,1117.9 L583.5,1118.0 L585.8,1118.0 L588.0,1118.1 L590.2,1118.2 L592.5,1118.2 L594.7,1118.2 L596.9,1118.3 L599.2,1118.3 L601.4,1118.3 L603.6,1118.4 L605.9,1118.4 L608.1,1118.4 L610.3,1118.5 L612.6,1118.5 L614.8,1118.5 L617.0,1118.6 L619.3,1118.6 L621.5,1118.6 L623.7,1118.6 L626.0,1118.7 L628.2,1118.7 L630.4,1118.7 L632.7,1118.7 L634.9,1118.7 L637.1,1118.7 L639.4,1118.8 L641.6,1118.8 L643.8,1118.8 L646.1,1118.8 L648.3,1118.8 L650.5,1118.8 L652.8,1118.8 L655.0,1118.8 L657.2,1118.8 L659.5,1118.8 L661.7,1118.8 L663.9,1118.8 L666.2,1118.8 L668.4,1118.8 L670.6,1118.7 L672.9,1118.7 L675.1,1118.7 L677.3,1118.7 L679.6,1118.7 L681.8,1118.7 L684.0,1118.7 L686.3,1118.7 L688.5,1118.6 L690.7,1118.6 L693.0,1118.6 L695.2,1118.6 L697.4,1118.6 L699.7,1118.6 L701.9,1118.5 L704.1,1118.5 L706.4,1118.5 L708.6,1118.5 L710.8,1118.5 L713.1,1118.4 L715.3,1118.4 L717.5,1118.4 L719.8,1118.4 L722.0,1118.3 L724.2,1118.3 L726.5,1118.3 L728.7,1118.2 L730.9,1118.2 L733.2,1118.2 L735.4,1118.1 L737.6,1118.1 L739.9,1118.0 L742.1,1118.0 L744.3,1117.9 L746.6,1117.9 L748.8,1117.8 L751.0,1117.7 L753.3,1117.7 L755.5,1117.6 L757.7,1117.5 L760.0,1117.4 L762.2,1117.3 L764.4,1117.2 L766.7,1117.1 L768.9,1116.9 L771.1,1116.8 L773.4,1116.6 L775.6,1116.3 L777.8,1116.1 L780.1,1115.8 L782.3,1115.6 L784.5,1115.3 L786.8,1114.9 L789.0,1114.6 L791.2,1114.2 L793.5,1113.9 L795.7,1113.4 L797.9,1113.0 L800.2,1112.5 L802.4,1112.0 L804.6,1111.5 L806.9,1110.9 L809.1,1110.3 L811.3,1109.7 L813.6,1108.9 L815.8,1108.2 L818.0,1107.3 L820.3,1106.4 L822.5,1105.4 L824.7,1104.2 L827.0,1102.9 L829.2,1101.4 L831.4,1099.8 L833.7,1098.0 L835.9,1095.9 L838.1,1093.6 L840.4,1091.1 L842.6,1088.3 L844.8,1085.1 L847.1,1081.6 L849.3,1077.7 L851.5,1073.4 L853.8,1068.7 L856.0,1063.4 L858.2,1057.6 L860.5,1051.3 L862.7,1044.3 L864.9,1036.7 L867.2,1028.5 L869.4,1019.5 L871.6,1009.9 L873.9,999.5 L876.1,988.5 L878.3,976.8 L880.6,964.5 L882.8,951.6 L885.0,938.3 L887.3,924.7 L889.5,910.8 L891.7,897.0 L894.0,883.4 L896.2,870.1 L898.4,857.6 L900.7,846.0 L902.9,835.6 L905.1,826.6 L907.4,819.2 L909.6,813.7 L911.8,810.3 L914.1,808.9 L916.3,809.5 L918.5,811.6 L920.8,815.1 L923.0,819.9 L925.2,826.0 L927.5,833.3 L929.7,841.6 L931.9,851.0 L934.2,861.3 L936.4,872.4 L938.6,884.1 L940.9,896.4 L943.1,909.0 L945.3,921.9 L947.6,935.0 L949.8,948.0 L952.0,961.0 L954.3,973.7 L956.5,986.1 L958.7,998.2 L961.0,1009.8 L963.2,1020.9 L965.4,1031.4 L967.7,1041.2 L969.9,1050.5 L972.1,1059.0 L974.4,1066.9 L976.6,1074.0 L978.8,1080.4 L981.1,1086.1 L983.3,1091.0 L985.5,1095.2 L987.8,1098.8 L990.0,1101.7 L992.2,1104.1 L994.5,1106.2 L996.7,1107.9 L998.9,1109.3 L1001.2,1110.6 L1003.4,1111.7 L1005.6,1112.7 L1007.9,1113.6 L1010.1,1114.4 L1012.3,1115.0 L1014.6,1115.5 L1016.8,1115.9 L1019.0,1116.3 L1021.3,1116.6 L1023.5,1116.9 L1025.7,1117.1 L1028.0,1117.3 L1030.2,1117.6 L1032.4,1117.9 L1034.7,1118.4 L1036.9,1119.0 L1039.1,1119.7 L1041.4,1120.5 L1043.6,1121.3 L1045.8,1122.2 L1048.1,1123.1 L1050.3,1124.0 L1052.5,1124.9 L1054.8,1125.7 L1057.0,1126.5 L1059.2,1127.3 L1061.5,1127.9 L1063.7,1128.6 L1065.9,1129.1 L1068.2,1129.6 L1070.4,1130.0 L1072.6,1130.3 L1074.9,1130.6 L1077.1,1130.8 L1079.3,1131.0 L1081.6,1131.2 L1083.8,1131.3 L1086.0,1131.4 L1088.3,1131.5 L1090.5,1131.5 L1092.7,1131.6 L1095.0,1131.6 L1097.2,1131.6 L1099.4,1131.7 L1101.7,1131.7 L1103.9,1131.7 L1106.1,1131.7 L1108.4,1131.7 L1110.6,1131.7 L1112.8,1131.7 L1115.1,1131.7 L1117.3,1131.7 L1119.5,1131.7 L1121.8,1131.7 L1124.0,1131.7 L1126.2,1131.7 L1128.5,1131.7 L1130.7,1131.7 L1132.9,1131.7 L1135.2,1131.7 L1137.4,1131.5 L1139.6,1131.4 L1141.9,1131.2 L1144.1,1131.1 L1146.3,1130.9 L1148.6,1130.7 L1150.8,1130.5 L1153.0,1130.3 L1155.3,1130.0 L1157.5,1129.8 L1159.7,1129.6 L1162.0,1129.3 L1164.2,1129.1 L1166.4,1128.8 L1168.7,1128.6 L1170.9,1128.3 L1173.1,1128.0 L1175.4,1127.8 L1177.6,1127.5 L1179.8,1127.2 L1182.1,1127.0 L1184.3,1127.0 L1186.5,1127.0 L1188.8,1127.0" stroke="#0A70BC"/>
<path d="M469.6,1099.0 L471.9,1099.0 L474.1,1099.0 L476.3,1099.0 L478.6,1099.0 L480.8,1099.0 L483.0,1099.0 L485.3,1099.0 L487.5,1099.0 L489.7,1099.0 L492.0,1099.0 L494.2,1099.1 L496.4,1099.1 L498.7,1099.1 L500.9,1099.1 L503.1,1099.1 L505.4,1099.1 L507.6,1099.2 L509.8,1099.2 L512.1,1099.2 L514.3,1099.3 L516.5,1099.3 L518.8,1099.3 L521.0,1099.4 L523.2,1099.4 L525.5,1099.4 L527.7,1099.5 L529.9,1099.5 L532.2,1099.6 L534.4,1099.6 L536.6,1099.6 L538.9,1099.7 L541.1,1099.7 L543.3,1099.8 L545.6,1099.9 L547.8,1100.0 L550.0,1100.1 L552.3,1100.3 L554.5,1100.4 L556.7,1100.6 L559.0,1100.7 L561.2,1100.9 L563.4,1101.1 L565.7,1101.2 L567.9,1101.4 L570.1,1101.6 L572.4,1101.8 L574.6,1101.9 L576.8,1102.1 L579.1,1102.2 L581.3,1102.4 L583.5,1102.5 L585.8,1102.6 L588.0,1102.7 L590.2,1102.7 L592.5,1102.8 L594.7,1102.8 L596.9,1102.8 L599.2,1102.8 L601.4,1102.8 L603.6,1102.8 L605.9,1102.8 L608.1,1102.8 L610.3,1102.8 L612.6,1102.7 L614.8,1102.7 L617.0,1102.7 L619.3,1102.7 L621.5,1102.7 L623.7,1102.7 L626.0,1102.7 L628.2,1102.6 L630.4,1102.6 L632.7,1102.6 L634.9,1102.6 L637.1,1102.5 L639.4,1102.5 L641.6,1102.5 L643.8,1102.5 L646.1,1102.4 L648.3,1102.4 L650.5,1102.4 L652.8,1102.3 L655.0,1102.3 L657.2,1102.2 L659.5,1102.1 L661.7,1101.9 L663.9,1101.7 L666.2,1101.5 L668.4,1101.3 L670.6,1101.1 L672.9,1100.9 L675.1,1100.6 L677.3,1100.4 L679.6,1100.1 L681.8,1099.8 L684.0,1099.6 L686.3,1099.3 L688.5,1099.0 L690.7,1098.8 L693.0,1098.5 L695.2,1098.3 L697.4,1098.1 L699.7,1097.9 L701.9,1097.7 L704.1,1097.6 L706.4,1097.4 L708.6,1097.3 L710.8,1097.2 L713.1,1097.1 L715.3,1097.0 L717.5,1096.9 L719.8,1096.8 L722.0,1096.8 L724.2,1096.7 L726.5,1096.6 L728.7,1096.5 L730.9,1096.5 L733.2,1096.4 L735.4,1096.3 L737.6,1096.3 L739.9,1096.2 L742.1,1096.1 L744.3,1096.1 L746.6,1096.0 L748.8,1095.9 L751.0,1095.8 L753.3,1095.7 L755.5,1095.6 L757.7,1095.5 L760.0,1095.4 L762.2,1095.3 L764.4,1095.2 L766.7,1095.0 L768.9,1094.8 L771.1,1094.6 L773.4,1094.4 L775.6,1094.2 L777.8,1094.0 L780.1,1093.7 L782.3,1093.4 L784.5,1093.1 L786.8,1092.8 L789.0,1092.5 L791.2,1092.2 L793.5,1091.9 L795.7,1091.5 L797.9,1091.2 L800.2,1090.8 L802.4,1090.5 L804.6,1090.1 L806.9,1089.6 L809.1,1089.2 L811.3,1088.7 L813.6,1088.2 L815.8,1087.7 L818.0,1087.1 L820.3,1086.5 L822.5,1085.7 L824.7,1084.9 L827.0,1083.9 L829.2,1082.8 L831.4,1081.5 L833.7,1080.0 L835.9,1078.3 L838.1,1076.3 L840.4,1074.1 L842.6,1071.5 L844.8,1068.6 L847.1,1065.2 L849.3,1061.4 L851.5,1057.1 L853.8,1052.1 L856.0,1046.5 L858.2,1040.2 L860.5,1033.1 L862.7,1025.0 L864.9,1016.1 L867.2,1006.1 L869.4,995.1 L871.6,982.9 L873.9,969.6 L876.1,955.2 L878.3,939.8 L880.6,923.3 L882.8,906.1 L885.0,888.2 L887.3,870.0 L889.5,851.8 L891.7,834.1 L894.0,817.2 L896.2,801.8 L898.4,788.3 L900.7,777.1 L902.9,768.8 L905.1,763.7 L907.4,762.0 L909.6,763.5 L911.8,766.7 L914.1,771.4 L916.3,777.7 L918.5,785.4 L920.8,794.5 L923.0,804.7 L925.2,816.1 L927.5,828.4 L929.7,841.6 L931.9,855.4 L934.2,869.8 L936.4,884.5 L938.6,899.5 L940.9,914.5 L943.1,929.5 L945.3,944.3 L947.6,958.9 L949.8,973.0 L952.0,986.6 L954.3,999.7 L956.5,1012.1 L958.7,1023.8 L961.0,1034.8 L963.2,1045.0 L965.4,1054.4 L967.7,1063.0 L969.9,1070.8 L972.1,1077.7 L974.4,1083.8 L976.6,1089.0 L978.8,1093.5 L981.1,1097.2 L983.3,1100.2 L985.5,1102.6 L987.8,1104.6 L990.0,1106.2 L992.2,1107.6 L994.5,1108.8 L996.7,1109.9 L998.9,1110.9 L1001.2,1111.7 L1003.4,1112.4 L1005.6,1113.0 L1007.9,1113.5 L1010.1,1113.9 L1012.3,1114.2 L1014.6,1114.4 L1016.8,1114.6 L1019.0,1114.8 L1021.3,1114.9 L1023.5,1115.1 L1025.7,1115.3 L1028.0,1115.7 L1030.2,1116.2 L1032.4,1116.8 L1034.7,1117.6 L1036.9,1118.5 L1039.1,1119.4 L1041.4,1120.4 L1043.6,1121.5 L1045.8,1122.5 L1048.1,1123.5 L1050.3,1124.5 L1052.5,1125.5 L1054.8,1126.4 L1057.0,1127.2 L1059.2,1127.9 L1061.5,1128.5 L1063.7,1129.1 L1065.9,1129.6 L1068.2,1130.0 L1070.4,1130.4 L1072.6,1130.7 L1074.9,1130.9 L1077.1,1131.1 L1079.3,1131.2 L1081.6,1131.3 L1083.8,1131.4 L1086.0,1131.5 L1088.3,1131.6 L1090.5,1131.6 L1092.7,1131.6 L1095.0,1131.7 L1097.2,1131.7 L1099.4,1131.7 L1101.7,1131.7 L1103.9,1131.7 L1106.1,1131.7 L1108.4,1131.7 L1110.6,1131.7 L1112.8,1131.7 L1115.1,1131.7 L1117.3,1131.7 L1119.5,1131.7 L1121.8,1131.7 L1124.0,1131.7 L1126.2,1131.7 L1128.5,1131.7 L1130.7,1131.7 L1132.9,1131.7 L1135.2,1131.6 L1137.4,1131.5 L1139.6,1131.2 L1141.9,1131.0 L1144.1,1130.7 L1146.3,1130.4 L1148.6,1130.0 L1150.8,1129.7 L1153.0,1129.3 L1155.3,1129.0 L1157.5,1128.6 L1159.7,1128.2 L1162.0,1127.8 L1164.2,1127.4 L1166.4,1127.0 L1168.7,1126.5 L1170.9,1126.1 L1173.1,1125.6 L1175.4,1125.2 L1177.6,1124.7 L1179.8,1124.3 L1182.1,1123.9 L1184.3,1123.9 L1186.5,1123.9 L1188.8,1123.9" stroke="#97196F"/>
<path d="M469.6,1100.0 L471.9,1100.0 L474.1,1100.0 L476.3,1100.0 L478.6,1100.0 L480.8,1100.0 L483.0,1100.0 L485.3,1100.0 L487.5,1100.0 L489.7,1100.0 L492.0,1100.0 L494.2,1100.0 L496.4,1100.0 L498.7,1100.0 L500.9,1100.1 L503.1,1100.1 L505.4,1100.1 L507.6,1100.1 L509.8,1100.2 L512.1,1100.2 L514.3,1100.3 L516.5,1100.3 L518.8,1100.3 L521.0,1100.4 L523.2,1100.4 L525.5,1100.5 L527.7,1100.5 L529.9,1100.6 L532.2,1100.6 L534.4,1100.7 L536.6,1100.7 L538.9,1100.8 L541.1,1100.8 L543.3,1100.9 L545.6,1101.0 L547.8,1101.1 L550.0,1101.2 L552.3,1101.3 L554.5,1101.4 L556.7,1101.6 L559.0,1101.7 L561.2,1101.9 L563.4,1102.0 L565.7,1102.2 L567.9,1102.4 L570.1,1102.5 L572.4,1102.7 L574.6,1102.8 L576.8,1103.0 L579.1,1103.1 L581.3,1103.2 L583.5,1103.3 L585.8,1103.4 L588.0,1103.5 L590.2,1103.6 L592.5,1103.7 L594.7,1103.7 L596.9,1103.7 L599.2,1103.8 L601.4,1103.8 L603.6,1103.8 L605.9,1103.9 L608.1,1103.9 L610.3,1103.9 L612.6,1103.9 L614.8,1103.9 L617.0,1104.0 L619.3,1104.0 L621.5,1104.0 L623.7,1104.0 L626.0,1104.0 L628.2,1104.1 L630.4,1104.1 L632.7,1104.1 L634.9,1104.1 L637.1,1104.1 L639.4,1104.1 L641.6,1104.1 L643.8,1104.1 L646.1,1104.1 L648.3,1104.1 L650.5,1104.1 L652.8,1104.1 L655.0,1103.9 L657.2,1103.6 L659.5,1103.2 L661.7,1102.6 L663.9,1102.0 L666.2,1101.3 L668.4,1100.5 L670.6,1099.7 L672.9,1098.8 L675.1,1097.9 L677.3,1096.9 L679.6,1095.9 L681.8,1095.0 L684.0,1094.0 L686.3,1093.0 L688.5,1092.1 L690.7,1091.3 L693.0,1090.5 L695.2,1089.7 L697.4,1089.0 L699.7,1088.4 L701.9,1088.0 L704.1,1087.6 L706.4,1087.4 L708.6,1087.2 L710.8,1087.1 L713.1,1087.0 L715.3,1086.9 L717.5,1086.8 L719.8,1086.7 L722.0,1086.6 L724.2,1086.5 L726.5,1086.4 L728.7,1086.4 L730.9,1086.3 L733.2,1086.2 L735.4,1086.2 L737.6,1086.1 L739.9,1086.1 L742.1,1086.0 L744.3,1085.9 L746.6,1085.9 L748.8,1085.8 L751.0,1085.7 L753.3,1085.6 L755.5,1085.5 L757.7,1085.4 L760.0,1085.3 L762.2,1085.2 L764.4,1085.1 L766.7,1084.9 L768.9,1084.7 L771.1,1084.5 L773.4,1084.2 L775.6,1084.0 L777.8,1083.7 L780.1,1083.4 L782.3,1083.0 L784.5,1082.7 L786.8,1082.4 L789.0,1082.0 L791.2,1081.6 L793.5,1081.2 L795.7,1080.8 L797.9,1080.3 L800.2,1079.9 L802.4,1079.4 L804.6,1078.8 L806.9,1078.3 L809.1,1077.7 L811.3,1077.0 L813.6,1076.3 L815.8,1075.5 L818.0,1074.7 L820.3,1073.7 L822.5,1072.6 L824.7,1071.2 L827.0,1069.7 L829.2,1067.9 L831.4,1065.9 L833.7,1063.5 L835.9,1060.7 L838.1,1057.5 L840.4,1053.9 L842.6,1049.6 L844.8,1044.8 L847.1,1039.2 L849.3,1032.8 L851.5,1025.6 L853.8,1017.4 L856.0,1008.1 L858.2,997.7 L860.5,986.1 L862.7,973.2 L864.9,959.1 L867.2,943.7 L869.4,927.2 L871.6,909.6 L873.9,891.3 L876.1,872.5 L878.3,853.5 L880.6,835.0 L882.8,817.4 L885.0,801.3 L887.3,787.4 L889.5,776.3 L891.7,768.4 L894.0,764.2 L896.2,764.0 L898.4,766.8 L900.7,771.7 L902.9,778.5 L905.1,787.2 L907.4,797.6 L909.6,809.6 L911.8,822.9 L914.1,837.4 L916.3,852.9 L918.5,869.0 L920.8,885.7 L923.0,902.6 L925.2,919.6 L927.5,936.5 L929.7,953.1 L931.9,969.2 L934.2,984.7 L936.4,999.5 L938.6,1013.5 L940.9,1026.7 L943.1,1038.9 L945.3,1050.1 L947.6,1060.4 L949.8,1069.7 L952.0,1078.0 L954.3,1085.4 L956.5,1091.9 L958.7,1097.6 L961.0,1102.3 L963.2,1106.3 L965.4,1109.6 L967.7,1112.1 L969.9,1114.0 L972.1,1115.4 L974.4,1116.3 L976.6,1117.0 L978.8,1117.5 L981.1,1117.9 L983.3,1118.2 L985.5,1118.4 L987.8,1118.7 L990.0,1118.9 L992.2,1119.1 L994.5,1119.2 L996.7,1119.3 L998.9,1119.4 L1001.2,1119.4 L1003.4,1119.4 L1005.6,1119.4 L1007.9,1119.3 L1010.1,1119.2 L1012.3,1119.1 L1014.6,1119.1 L1016.8,1119.0 L1019.0,1118.9 L1021.3,1118.8 L1023.5,1118.8 L1025.7,1118.8 L1028.0,1118.8 L1030.2,1119.1 L1032.4,1119.4 L1034.7,1119.9 L1036.9,1120.5 L1039.1,1121.2 L1041.4,1121.9 L1043.6,1122.7 L1045.8,1123.6 L1048.1,1124.4 L1050.3,1125.2 L1052.5,1126.0 L1054.8,1126.8 L1057.0,1127.5 L1059.2,1128.1 L1061.5,1128.7 L1063.7,1129.2 L1065.9,1129.7 L1068.2,1130.0 L1070.4,1130.4 L1072.6,1130.6 L1074.9,1130.9 L1077.1,1131.1 L1079.3,1131.2 L1081.6,1131.3 L1083.8,1131.4 L1086.0,1131.5 L1088.3,1131.6 L1090.5,1131.6 L1092.7,1131.6 L1095.0,1131.6 L1097.2,1131.7 L1099.4,1131.7 L1101.7,1131.7 L1103.9,1131.7 L1106.1,1131.7 L1108.4,1131.7 L1110.6,1131.7 L1112.8,1131.7 L1115.1,1131.7 L1117.3,1131.7 L1119.5,1131.7 L1121.8,1131.7 L1124.0,1131.7 L1126.2,1131.7 L1128.5,1131.7 L1130.7,1131.7 L1132.9,1131.7 L1135.2,1131.7 L1137.4,1131.7 L1139.6,1131.6 L1141.9,1131.6 L1144.1,1131.5 L1146.3,1131.5 L1148.6,1131.4 L1150.8,1131.4 L1153.0,1131.3 L1155.3,1131.2 L1157.5,1131.2 L1159.7,1131.1 L1162.0,1131.0 L1164.2,1131.0 L1166.4,1130.9 L1168.7,1130.8 L1170.9,1130.7 L1173.1,1130.7 L1175.4,1130.6 L1177.6,1130.5 L1179.8,1130.4 L1182.1,1130.4 L1184.3,1130.4 L1186.5,1130.4 L1188.8,1130.4" stroke="#97196F"/>
<path d="M469.6,1100.8 L471.9,1100.8 L474.1,1100.8 L476.3,1100.8 L478.6,1100.8 L480.8,1100.8 L483.0,1100.8 L485.3,1100.8 L487.5,1100.8 L489.7,1100.8 L492.0,1100.8 L494.2,1100.8 L496.4,1100.8 L498.7,1100.8 L500.9,1100.9 L503.1,1100.9 L505.4,1100.9 L507.6,1101.0 L509.8,1101.0 L512.1,1101.0 L514.3,1101.1 L516.5,1101.1 L518.8,1101.1 L521.0,1101.2 L523.2,1101.2 L525.5,1101.3 L527.7,1101.3 L529.9,1101.4 L532.2,1101.4 L534.4,1101.5 L536.6,1101.5 L538.9,1101.6 L541.1,1101.6 L543.3,1101.7 L545.6,1101.8 L547.8,1101.9 L550.0,1102.0 L552.3,1102.1 L554.5,1102.3 L556.7,1102.4 L559.0,1102.6 L561.2,1102.7 L563.4,1102.9 L565.7,1103.0 L567.9,1103.2 L570.1,1103.3 L572.4,1103.5 L574.6,1103.7 L576.8,1103.8 L579.1,1103.9 L581.3,1104.1 L583.5,1104.2 L585.8,1104.3 L588.0,1104.4 L590.2,1104.4 L592.5,1104.5 L594.7,1104.5 L596.9,1104.5 L599.2,1104.6 L601.4,1104.6 L603.6,1104.6 L605.9,1104.6 L608.1,1104.6 L610.3,1104.7 L612.6,1104.7 L614.8,1104.7 L617.0,1104.7 L619.3,1104.7 L621.5,1104.7 L623.7,1104.7 L626.0,1104.7 L628.2,1104.8 L630.4,1104.8 L632.7,1104.8 L634.9,1104.8 L637.1,1104.8 L639.4,1104.8 L641.6,1104.8 L643.8,1104.8 L646.1,1104.8 L648.3,1104.8 L650.5,1104.8 L652.8,1104.8 L655.0,1104.8 L657.2,1104.7 L659.5,1104.6 L661.7,1104.5 L663.9,1104.4 L666.2,1104.2 L668.4,1104.1 L670.6,1103.9 L672.9,1103.7 L675.1,1103.5 L677.3,1103.3 L679.6,1103.1 L681.8,1102.9 L684.0,1102.7 L686.3,1102.5 L688.5,1102.3 L690.7,1102.1 L693.0,1101.9 L695.2,1101.6 L697.4,1101.5 L699.7,1101.3 L701.9,1101.1 L704.1,1100.9 L706.4,1100.8 L708.6,1100.7 L710.8,1100.5 L713.1,1100.4 L715.3,1100.3 L717.5,1100.2 L719.8,1100.1 L722.0,1100.0 L724.2,1099.9 L726.5,1099.8 L728.7,1099.7 L730.9,1099.6 L733.2,1099.5 L735.4,1099.4 L737.6,1099.3 L739.9,1099.2 L742.1,1099.1 L744.3,1099.0 L746.6,1098.9 L748.8,1098.8 L751.0,1098.7 L753.3,1098.5 L755.5,1098.4 L757.7,1098.3 L760.0,1098.1 L762.2,1098.0 L764.4,1097.8 L766.7,1097.6 L768.9,1097.4 L771.1,1097.2 L773.4,1096.9 L775.6,1096.7 L777.8,1096.4 L780.1,1096.1 L782.3,1095.8 L784.5,1095.5 L786.8,1095.1 L789.0,1094.8 L791.2,1094.4 L793.5,1094.0 L795.7,1093.7 L797.9,1093.3 L800.2,1092.9 L802.4,1092.4 L804.6,1092.0 L806.9,1091.6 L809.1,1091.1 L811.3,1090.6 L813.6,1090.0 L815.8,1089.5 L818.0,1088.8 L820.3,1088.1 L822.5,1087.4 L824.7,1086.4 L827.0,1085.4 L829.2,1084.2 L831.4,1082.8 L833.7,1081.2 L835.9,1079.4 L838.1,1077.3 L840.4,1074.9 L842.6,1072.2 L844.8,1069.0 L847.1,1065.5 L849.3,1061.4 L851.5,1056.8 L853.8,1051.5 L856.0,1045.6 L858.2,1038.9 L860.5,1031.4 L862.7,1023.0 L864.9,1013.6 L867.2,1003.2 L869.4,991.8 L871.6,979.2 L873.9,965.6 L876.1,950.9 L878.3,935.3 L880.6,918.8 L882.8,901.7 L885.0,884.2 L887.3,866.7 L889.5,849.4 L891.7,832.9 L894.0,817.6 L896.2,804.1 L898.4,792.7 L900.7,784.0 L902.9,778.3 L905.1,775.8 L907.4,776.6 L909.6,779.3 L911.8,783.6 L914.1,789.3 L916.3,796.4 L918.5,804.8 L920.8,814.4 L923.0,825.1 L925.2,836.8 L927.5,849.3 L929.7,862.5 L931.9,876.2 L934.2,890.3 L936.4,904.7 L938.6,919.2 L940.9,933.6 L943.1,948.0 L945.3,962.0 L947.6,975.7 L949.8,989.0 L952.0,1001.7 L954.3,1013.8 L956.5,1025.3 L958.7,1036.0 L961.0,1046.1 L963.2,1055.4 L965.4,1063.9 L967.7,1071.7 L969.9,1078.7 L972.1,1085.0 L974.4,1090.5 L976.6,1095.2 L978.8,1099.3 L981.1,1102.8 L983.3,1105.7 L985.5,1108.2 L987.8,1110.3 L990.0,1112.1 L992.2,1113.6 L994.5,1115.0 L996.7,1116.2 L998.9,1117.2 L1001.2,1118.1 L1003.4,1118.9 L1005.6,1119.5 L1007.9,1120.0 L1010.1,1120.4 L1012.3,1120.7 L1014.6,1121.0 L1016.8,1121.2 L1019.0,1121.3 L1021.3,1121.4 L1023.5,1121.5 L1025.7,1121.6 L1028.0,1121.7 L1030.2,1121.8 L1032.4,1122.1 L1034.7,1122.4 L1036.9,1122.8 L1039.1,1123.3 L1041.4,1123.8 L1043.6,1124.4 L1045.8,1125.0 L1048.1,1125.6 L1050.3,1126.3 L1052.5,1126.9 L1054.8,1127.5 L1057.0,1128.1 L1059.2,1128.6 L1061.5,1129.1 L1063.7,1129.5 L1065.9,1129.9 L1068.2,1130.2 L1070.4,1130.5 L1072.6,1130.7 L1074.9,1130.9 L1077.1,1131.1 L1079.3,1131.2 L1081.6,1131.3 L1083.8,1131.4 L1086.0,1131.5 L1088.3,1131.6 L1090.5,1131.6 L1092.7,1131.6 L1095.0,1131.6 L1097.2,1131.7 L1099.4,1131.7 L1101.7,1131.7 L1103.9,1131.7 L1106.1,1131.7 L1108.4,1131.7 L1110.6,1131.7 L1112.8,1131.7 L1115.1,1131.7 L1117.3,1131.7 L1119.5,1131.7 L1121.8,1131.7 L1124.0,1131.7 L1126.2,1131.7 L1128.5,1131.7 L1130.7,1131.7 L1132.9,1131.7 L1135.2,1131.7 L1137.4,1131.5 L1139.6,1131.4 L1141.9,1131.2 L1144.1,1131.0 L1146.3,1130.8 L1148.6,1130.5 L1150.8,1130.3 L1153.0,1130.1 L1155.3,1129.8 L1157.5,1129.5 L1159.7,1129.3 L1162.0,1129.0 L1164.2,1128.7 L1166.4,1128.4 L1168.7,1128.1 L1170.9,1127.8 L1173.1,1127.5 L1175.4,1127.2 L1177.6,1126.9 L1179.8,1126.6 L1182.1,1126.3 L1184.3,1126.3 L1186.5,1126.3 L1188.8,1126.3" stroke="#97196F"/>
<path d="M469.6,1101.6 L471.9,1101.6 L474.1,1101.6 L476.3,1101.6 L478.6,1101.6 L480.8,1101.6 L483.0,1101.6 L485.3,1101.6 L487.5,1101.6 L489.7,1101.6 L492.0,1101.6 L494.2,1101.6 L496.4,1101.6 L498.7,1101.7 L500.9,1101.7 L503.1,1101.7 L505.4,1101.7 L507.6,1101.8 L509.8,1101.8 L512.1,1101.8 L514.3,1101.9 L516.5,1101.9 L518.8,1101.9 L521.0,1102.0 L523.2,1102.0 L525.5,1102.1 L527.7,1102.1 L529.9,1102.2 L532.2,1102.2 L534.4,1102.3 L536.6,1102.3 L538.9,1102.4 L541.1,1102.4 L543.3,1102.5 L545.6,1102.6 L547.8,1102.7 L550.0,1102.8 L552.3,1103.0 L554.5,1103.1 L556.7,1103.2 L559.0,1103.4 L561.2,1103.6 L563.4,1103.7 L565.7,1103.9 L567.9,1104.1 L570.1,1104.2 L572.4,1104.4 L574.6,1104.5 L576.8,1104.7 L579.1,1104.8 L581.3,1104.9 L583.5,1105.0 L585.8,1105.1 L588.0,1105.2 L590.2,1105.3 L592.5,1105.3 L594.7,1105.3 L596.9,1105.3 L599.2,1105.3 L601.4,1105.2 L603.6,1105.1 L605.9,1105.0 L608.1,1104.8 L610.3,1104.6 L612.6,1104.4 L614.8,1104.2 L617.0,1103.9 L619.3,1103.7 L621.5,1103.4 L623.7,1103.1 L626.0,1102.8 L628.2,1102.5 L630.4,1102.2 L632.7,1101.9 L634.9,1101.5 L637.1,1101.2 L639.4,1100.9 L641.6,1100.6 L643.8,1100.3 L646.1,1100.0 L648.3,1099.7 L650.5,1099.5 L652.8,1099.2 L655.0,1099.0 L657.2,1098.7 L659.5,1098.4 L661.7,1098.1 L663.9,1097.8 L666.2,1097.4 L668.4,1097.1 L670.6,1096.8 L672.9,1096.4 L675.1,1096.1 L677.3,1095.8 L679.6,1095.5 L681.8,1095.2 L684.0,1094.9 L686.3,1094.6 L688.5,1094.3 L690.7,1094.0 L693.0,1093.8 L695.2,1093.5 L697.4,1093.3 L699.7,1093.1 L701.9,1093.0 L704.1,1092.8 L706.4,1092.7 L708.6,1092.6 L710.8,1092.5 L713.1,1092.5 L715.3,1092.4 L717.5,1092.3 L719.8,1092.3 L722.0,1092.2 L724.2,1092.2 L726.5,1092.1 L728.7,1092.1 L730.9,1092.0 L733.2,1092.0 L735.4,1092.0 L737.6,1091.9 L739.9,1091.9 L742.1,1091.8 L744.3,1091.8 L746.6,1091.7 L748.8,1091.7 L751.0,1091.6 L753.3,1091.6 L755.5,1091.5 L757.7,1091.4 L760.0,1091.3 L762.2,1091.3 L764.4,1091.1 L766.7,1091.0 L768.9,1090.9 L771.1,1090.7 L773.4,1090.5 L775.6,1090.2 L777.8,1090.0 L780.1,1089.7 L782.3,1089.5 L784.5,1089.2 L786.8,1088.9 L789.0,1088.5 L791.2,1088.2 L793.5,1087.8 L795.7,1087.5 L797.9,1087.1 L800.2,1086.7 L802.4,1086.3 L804.6,1085.8 L806.9,1085.4 L809.1,1084.9 L811.3,1084.3 L813.6,1083.8 L815.8,1083.1 L818.0,1082.4 L820.3,1081.7 L822.5,1080.8 L824.7,1079.7 L827.0,1078.5 L829.2,1077.2 L831.4,1075.6 L833.7,1073.7 L835.9,1071.6 L838.1,1069.2 L840.4,1066.4 L842.6,1063.2 L844.8,1059.5 L847.1,1055.3 L849.3,1050.5 L851.5,1045.0 L853.8,1038.8 L856.0,1031.8 L858.2,1023.8 L860.5,1014.9 L862.7,1005.0 L864.9,994.0 L867.2,981.8 L869.4,968.5 L871.6,954.1 L873.9,938.7 L876.1,922.3 L878.3,905.2 L880.6,887.6 L882.8,869.9 L885.0,852.4 L887.3,835.7 L889.5,820.2 L891.7,806.5 L894.0,795.0 L896.2,786.4 L898.4,781.0 L900.7,779.0 L902.9,780.3 L905.1,783.5 L907.4,788.1 L909.6,794.2 L911.8,801.6 L914.1,810.3 L916.3,820.2 L918.5,831.1 L920.8,842.9 L923.0,855.5 L925.2,868.7 L927.5,882.4 L929.7,896.4 L931.9,910.7 L934.2,925.0 L936.4,939.3 L938.6,953.4 L940.9,967.2 L943.1,980.6 L945.3,993.6 L947.6,1006.0 L949.8,1017.8 L952.0,1029.0 L954.3,1039.4 L956.5,1049.2 L958.7,1058.3 L961.0,1066.6 L963.2,1074.1 L965.4,1081.0 L967.7,1087.1 L969.9,1092.5 L972.1,1097.3 L974.4,1101.4 L976.6,1105.0 L978.8,1108.0 L981.1,1110.6 L983.3,1112.9 L985.5,1114.8 L987.8,1116.5 L990.0,1117.9 L992.2,1119.2 L994.5,1120.3 L996.7,1121.2 L998.9,1122.0 L1001.2,1122.7 L1003.4,1123.2 L1005.6,1123.7 L1007.9,1124.0 L1010.1,1124.3 L1012.3,1124.5 L1014.6,1124.7 L1016.8,1124.8 L1019.0,1124.9 L1021.3,1124.9 L1023.5,1125.0 L1025.7,1125.0 L1028.0,1125.0 L1030.2,1125.1 L1032.4,1125.2 L1034.7,1125.3 L1036.9,1125.6 L1039.1,1125.8 L1041.4,1126.1 L1043.6,1126.5 L1045.8,1126.9 L1048.1,1127.3 L1050.3,1127.7 L1052.5,1128.1 L1054.8,1128.5 L1057.0,1128.9 L1059.2,1129.3 L1061.5,1129.7 L1063.7,1130.0 L1065.9,1130.3 L1068.2,1130.5 L1070.4,1130.7 L1072.6,1130.9 L1074.9,1131.1 L1077.1,1131.2 L1079.3,1131.3 L1081.6,1131.4 L1083.8,1131.5 L1086.0,1131.5 L1088.3,1131.6 L1090.5,1131.6 L1092.7,1131.6 L1095.0,1131.7 L1097.2,1131.7 L1099.4,1131.7 L1101.7,1131.7 L1103.9,1131.7 L1106.1,1131.7 L1108.4,1131.7 L1110.6,1131.7 L1112.8,1131.7 L1115.1,1131.7 L1117.3,1131.7 L1119.5,1131.7 L1121.8,1131.7 L1124.0,1131.7 L1126.2,1131.7 L1128.5,1131.7 L1130.7,1131.7 L1132.9,1131.7 L1135.2,1131.7 L1137.4,1131.6 L1139.6,1131.5 L1141.9,1131.4 L1144.1,1131.3 L1146.3,1131.2 L1148.6,1131.1 L1150.8,1131.0 L1153.0,1130.9 L1155.3,1130.8 L1157.5,1130.6 L1159.7,1130.5 L1162.0,1130.4 L1164.2,1130.2 L1166.4,1130.1 L1168.7,1129.9 L1170.9,1129.8 L1173.1,1129.6 L1175.4,1129.5 L1177.6,1129.3 L1179.8,1129.1 L1182.1,1129.0 L1184.3,1129.0 L1186.5,1129.0 L1188.8,1129.0" stroke="#97196F"/>
<path d="M469.6,1102.4 L471.9,1102.4 L474.1,1102.4 L476.3,1102.4 L478.6,1102.4 L480.8,1102.4 L483.0,1102.4 L485.3,1102.4 L487.5,1102.4 L489.7,1102.4 L492.0,1102.4 L494.2,1102.4 L496.4,1102.4 L498.7,1102.5 L500.9,1102.5 L503.1,1102.5 L505.4,1102.5 L507.6,1102.6 L509.8,1102.6 L512.1,1102.6 L514.3,1102.7 L516.5,1102.7 L518.8,1102.8 L521.0,1102.8 L523.2,1102.8 L525.5,1102.9 L527.7,1102.9 L529.9,1103.0 L532.2,1103.0 L534.4,1103.1 L536.6,1103.1 L538.9,1103.2 L541.1,1103.2 L543.3,1103.3 L545.6,1103.4 L547.8,1103.5 L550.0,1103.6 L552.3,1103.7 L554.5,1103.9 L556.7,1104.0 L559.0,1104.2 L561.2,1104.3 L563.4,1104.5 L565.7,1104.6 L567.9,1104.8 L570.1,1105.0 L572.4,1105.1 L574.6,1105.3 L576.8,1105.4 L579.1,1105.5 L581.3,1105.7 L583.5,1105.8 L585.8,1105.9 L588.0,1106.0 L590.2,1106.1 L592.5,1106.1 L594.7,1106.1 L596.9,1106.2 L599.2,1106.2 L601.4,1106.2 L603.6,1106.2 L605.9,1106.2 L608.1,1106.3 L610.3,1106.3 L612.6,1106.3 L614.8,1106.3 L617.0,1106.3 L619.3,1106.3 L621.5,1106.3 L623.7,1106.3 L626.0,1106.4 L628.2,1106.4 L630.4,1106.4 L632.7,1106.4 L634.9,1106.4 L637.1,1106.4 L639.4,1106.4 L641.6,1106.4 L643.8,1106.4 L646.1,1106.4 L648.3,1106.4 L650.5,1106.4 L652.8,1106.4 L655.0,1106.4 L657.2,1106.4 L659.5,1106.3 L661.7,1106.3 L663.9,1106.2 L666.2,1106.1 L668.4,1106.1 L670.6,1106.0 L672.9,1105.9 L675.1,1105.8 L677.3,1105.7 L679.6,1105.6 L681.8,1105.4 L684.0,1105.3 L686.3,1105.2 L688.5,1105.1 L690.7,1105.0 L693.0,1104.8 L695.2,1104.7 L697.4,1104.6 L699.7,1104.5 L701.9,1104.4 L704.1,1104.3 L706.4,1104.2 L708.6,1104.1 L710.8,1104.0 L713.1,1103.9 L715.3,1103.8 L717.5,1103.7 L719.8,1103.6 L722.0,1103.5 L724.2,1103.4 L726.5,1103.3 L728.7,1103.2 L730.9,1103.1 L733.2,1103.0 L735.4,1102.9 L737.6,1102.8 L739.9,1102.7 L742.1,1102.5 L744.3,1102.4 L746.6,1102.3 L748.8,1102.2 L751.0,1102.1 L753.3,1101.9 L755.5,1101.8 L757.7,1101.6 L760.0,1101.5 L762.2,1101.3 L764.4,1101.2 L766.7,1101.0 L768.9,1100.7 L771.1,1100.5 L773.4,1100.2 L775.6,1099.9 L777.8,1099.6 L780.1,1099.3 L782.3,1098.9 L784.5,1098.6 L786.8,1098.2 L789.0,1097.8 L791.2,1097.4 L793.5,1097.0 L795.7,1096.6 L797.9,1096.2 L800.2,1095.7 L802.4,1095.3 L804.6,1094.8 L806.9,1094.4 L809.1,1093.9 L811.3,1093.4 L813.6,1092.9 L815.8,1092.3 L818.0,1091.7 L820.3,1091.1 L822.5,1090.4 L824.7,1089.5 L827.0,1088.6 L829.2,1087.5 L831.4,1086.2 L833.7,1084.8 L835.9,1083.1 L838.1,1081.2 L840.4,1079.1 L842.6,1076.6 L844.8,1073.8 L847.1,1070.7 L849.3,1067.0 L851.5,1063.0 L853.8,1058.3 L856.0,1053.1 L858.2,1047.2 L860.5,1040.6 L862.7,1033.2 L864.9,1025.0 L867.2,1015.8 L869.4,1005.7 L871.6,994.6 L873.9,982.5 L876.1,969.4 L878.3,955.4 L880.6,940.4 L882.8,924.7 L885.0,908.5 L887.3,891.8 L889.5,875.2 L891.7,858.7 L894.0,843.0 L896.2,828.4 L898.4,815.2 L900.7,804.1 L902.9,795.3 L905.1,789.3 L907.4,786.2 L909.6,786.2 L911.8,788.4 L914.1,792.1 L916.3,797.2 L918.5,803.6 L920.8,811.4 L923.0,820.4 L925.2,830.5 L927.5,841.5 L929.7,853.5 L931.9,866.1 L934.2,879.3 L936.4,892.9 L938.6,906.8 L940.9,920.9 L943.1,935.0 L945.3,949.0 L947.6,962.7 L949.8,976.2 L952.0,989.2 L954.3,1001.7 L956.5,1013.7 L958.7,1025.0 L961.0,1035.7 L963.2,1045.6 L965.4,1054.8 L967.7,1063.3 L969.9,1071.0 L972.1,1077.9 L974.4,1084.1 L976.6,1089.4 L978.8,1094.0 L981.1,1097.9 L983.3,1101.1 L985.5,1103.7 L987.8,1105.9 L990.0,1107.6 L992.2,1109.1 L994.5,1110.5 L996.7,1111.6 L998.9,1112.7 L1001.2,1113.6 L1003.4,1114.4 L1005.6,1115.0 L1007.9,1115.6 L1010.1,1116.1 L1012.3,1116.4 L1014.6,1116.7 L1016.8,1116.9 L1019.0,1117.0 L1021.3,1117.1 L1023.5,1117.2 L1025.7,1117.3 L1028.0,1117.3 L1030.2,1117.4 L1032.4,1117.4 L1034.7,1117.6 L1036.9,1118.0 L1039.1,1118.5 L1041.4,1119.1 L1043.6,1119.8 L1045.8,1120.5 L1048.1,1121.4 L1050.3,1122.3 L1052.5,1123.2 L1054.8,1124.1 L1057.0,1125.0 L1059.2,1125.8 L1061.5,1126.6 L1063.7,1127.4 L1065.9,1128.1 L1068.2,1128.7 L1070.4,1129.2 L1072.6,1129.6 L1074.9,1130.0 L1077.1,1130.4 L1079.3,1130.7 L1081.6,1130.9 L1083.8,1131.1 L1086.0,1131.2 L1088.3,1131.3 L1090.5,1131.4 L1092.7,1131.5 L1095.0,1131.6 L1097.2,1131.6 L1099.4,1131.6 L1101.7,1131.6 L1103.9,1131.7 L1106.1,1131.7 L1108.4,1131.7 L1110.6,1131.7 L1112.8,1131.7 L1115.1,1131.7 L1117.3,1131.7 L1119.5,1131.7 L1121.8,1131.7 L1124.0,1131.7 L1126.2,1131.7 L1128.5,1131.7 L1130.7,1131.7 L1132.9,1131.7 L1135.2,1131.6 L1137.4,1131.5 L1139.6,1131.3 L1141.9,1131.1 L1144.1,1130.8 L1146.3,1130.5 L1148.6,1130.3 L1150.8,1130.0 L1153.0,1129.7 L1155.3,1129.3 L1157.5,1129.0 L1159.7,1128.7 L1162.0,1128.3 L1164.2,1128.0 L1166.4,1127.6 L1168.7,1127.2 L1170.9,1126.9 L1173.1,1126.5 L1175.4,1126.1 L1177.6,1125.7 L1179.8,1125.3 L1182.1,1125.0 L1184.3,1125.0 L1186.5,1125.0 L1188.8,1125.0" stroke="#97196F"/>
<path d="M469.6,1103.5 L471.9,1103.5 L474.1,1103.5 L476.3,1103.5 L478.6,1103.5 L480.8,1103.5 L483.0,1103.5 L485.3,1103.5 L487.5,1103.5 L489.7,1103.5 L492.0,1103.5 L494.2,1103.5 L496.4,1103.5 L498.7,1103.5 L500.9,1103.6 L503.1,1103.6 L505.4,1103.6 L507.6,1103.6 L509.8,1103.7 L512.1,1103.7 L514.3,1103.8 L516.5,1103.8 L518.8,1103.8 L521.0,1103.9 L523.2,1103.9 L525.5,1104.0 L527.7,1104.0 L529.9,1104.1 L532.2,1104.1 L534.4,1104.2 L536.6,1104.2 L538.9,1104.3 L541.1,1104.3 L543.3,1104.4 L545.6,1104.5 L547.8,1104.6 L550.0,1104.7 L552.3,1104.8 L554.5,1104.9 L556.7,1105.0 L559.0,1105.2 L561.2,1105.3 L563.4,1105.5 L565.7,1105.6 L567.9,1105.8 L570.1,1105.9 L572.4,1106.1 L574.6,1106.2 L576.8,1106.4 L579.1,1106.5 L581.3,1106.6 L583.5,1106.7 L585.8,1106.8 L588.0,1106.9 L590.2,1107.0 L592.5,1107.0 L594.7,1107.1 L596.9,1107.1 L599.2,1107.1 L601.4,1107.2 L603.6,1107.2 L605.9,1107.2 L608.1,1107.2 L610.3,1107.3 L612.6,1107.3 L614.8,1107.3 L617.0,1107.3 L619.3,1107.3 L621.5,1107.4 L623.7,1107.4 L626.0,1107.4 L628.2,1107.4 L630.4,1107.4 L632.7,1107.4 L634.9,1107.5 L637.1,1107.5 L639.4,1107.5 L641.6,1107.5 L643.8,1107.5 L646.1,1107.5 L648.3,1107.5 L650.5,1107.5 L652.8,1107.5 L655.0,1107.5 L657.2,1107.4 L659.5,1107.4 L661.7,1107.4 L663.9,1107.3 L666.2,1107.3 L668.4,1107.2 L670.6,1107.1 L672.9,1107.0 L675.1,1106.9 L677.3,1106.8 L679.6,1106.7 L681.8,1106.6 L684.0,1106.5 L686.3,1106.4 L688.5,1106.3 L690.7,1106.2 L693.0,1106.1 L695.2,1106.0 L697.4,1105.9 L699.7,1105.8 L701.9,1105.7 L704.1,1105.6 L706.4,1105.5 L708.6,1105.4 L710.8,1105.3 L713.1,1105.2 L715.3,1105.1 L717.5,1105.0 L719.8,1104.9 L722.0,1104.8 L724.2,1104.7 L726.5,1104.7 L728.7,1104.6 L730.9,1104.5 L733.2,1104.4 L735.4,1104.2 L737.6,1104.1 L739.9,1104.0 L742.1,1103.9 L744.3,1103.8 L746.6,1103.7 L748.8,1103.6 L751.0,1103.4 L753.3,1103.3 L755.5,1103.2 L757.7,1103.0 L760.0,1102.9 L762.2,1102.7 L764.4,1102.5 L766.7,1102.3 L768.9,1102.1 L771.1,1101.9 L773.4,1101.6 L775.6,1101.3 L777.8,1101.0 L780.1,1100.7 L782.3,1100.3 L784.5,1100.0 L786.8,1099.6 L789.0,1099.2 L791.2,1098.8 L793.5,1098.4 L795.7,1098.0 L797.9,1097.6 L800.2,1097.1 L802.4,1096.7 L804.6,1096.2 L806.9,1095.7 L809.1,1095.2 L811.3,1094.7 L813.6,1094.1 L815.8,1093.5 L818.0,1092.8 L820.3,1092.1 L822.5,1091.2 L824.7,1090.2 L827.0,1089.0 L829.2,1087.7 L831.4,1086.1 L833.7,1084.3 L835.9,1082.2 L838.1,1079.8 L840.4,1077.1 L842.6,1073.9 L844.8,1070.2 L847.1,1066.0 L849.3,1061.2 L851.5,1055.7 L853.8,1049.5 L856.0,1042.4 L858.2,1034.3 L860.5,1025.3 L862.7,1015.2 L864.9,1004.0 L867.2,991.6 L869.4,978.0 L871.6,963.3 L873.9,947.5 L876.1,930.8 L878.3,913.3 L880.6,895.4 L882.8,877.4 L885.0,859.7 L887.3,842.9 L889.5,827.5 L891.7,814.0 L894.0,803.0 L896.2,795.0 L898.4,790.4 L900.7,789.3 L902.9,791.1 L905.1,794.4 L907.4,799.2 L909.6,805.4 L911.8,812.9 L914.1,821.6 L916.3,831.4 L918.5,842.3 L920.8,854.0 L923.0,866.4 L925.2,879.4 L927.5,892.8 L929.7,906.6 L931.9,920.5 L934.2,934.5 L936.4,948.4 L938.6,962.1 L940.9,975.4 L943.1,988.4 L945.3,1000.9 L947.6,1012.9 L949.8,1024.2 L952.0,1034.9 L954.3,1045.0 L956.5,1054.3 L958.7,1063.0 L961.0,1070.9 L963.2,1078.2 L965.4,1084.8 L967.7,1090.7 L969.9,1096.0 L972.1,1100.8 L974.4,1104.9 L976.6,1108.6 L978.8,1111.8 L981.1,1114.6 L983.3,1117.0 L985.5,1119.1 L987.8,1120.9 L990.0,1122.4 L992.2,1123.7 L994.5,1124.9 L996.7,1125.8 L998.9,1126.6 L1001.2,1127.3 L1003.4,1127.8 L1005.6,1128.3 L1007.9,1128.7 L1010.1,1129.0 L1012.3,1129.2 L1014.6,1129.4 L1016.8,1129.6 L1019.0,1129.7 L1021.3,1129.8 L1023.5,1129.8 L1025.7,1129.9 L1028.0,1129.9 L1030.2,1130.0 L1032.4,1130.0 L1034.7,1130.0 L1036.9,1130.0 L1039.1,1130.1 L1041.4,1130.2 L1043.6,1130.2 L1045.8,1130.3 L1048.1,1130.4 L1050.3,1130.5 L1052.5,1130.6 L1054.8,1130.7 L1057.0,1130.8 L1059.2,1130.9 L1061.5,1131.0 L1063.7,1131.1 L1065.9,1131.2 L1068.2,1131.3 L1070.4,1131.4 L1072.6,1131.4 L1074.9,1131.5 L1077.1,1131.5 L1079.3,1131.6 L1081.6,1131.6 L1083.8,1131.6 L1086.0,1131.6 L1088.3,1131.6 L1090.5,1131.7 L1092.7,1131.7 L1095.0,1131.7 L1097.2,1131.7 L1099.4,1131.7 L1101.7,1131.7 L1103.9,1131.7 L1106.1,1131.7 L1108.4,1131.7 L1110.6,1131.7 L1112.8,1131.7 L1115.1,1131.7 L1117.3,1131.7 L1119.5,1131.7 L1121.8,1131.7 L1124.0,1131.7 L1126.2,1131.7 L1128.5,1131.7 L1130.7,1131.7 L1132.9,1131.7 L1135.2,1131.7 L1137.4,1131.6 L1139.6,1131.5 L1141.9,1131.3 L1144.1,1131.2 L1146.3,1131.0 L1148.6,1130.8 L1150.8,1130.7 L1153.0,1130.5 L1155.3,1130.3 L1157.5,1130.1 L1159.7,1129.9 L1162.0,1129.7 L1164.2,1129.5 L1166.4,1129.2 L1168.7,1129.0 L1170.9,1128.8 L1173.1,1128.6 L1175.4,1128.3 L1177.6,1128.1 L1179.8,1127.8 L1182.1,1127.7 L1184.3,1127.7 L1186.5,1127.7 L1188.8,1127.7" stroke="#97196F"/>
<path d="M469.6,1104.4 L471.9,1104.4 L474.1,1104.4 L476.3,1104.4 L478.6,1104.4 L480.8,1104.4 L483.0,1104.4 L485.3,1104.4 L487.5,1104.4 L489.7,1104.4 L492.0,1104.4 L494.2,1104.4 L496.4,1104.5 L498.7,1104.5 L500.9,1104.5 L503.1,1104.5 L505.4,1104.6 L507.6,1104.6 L509.8,1104.6 L512.1,1104.7 L514.3,1104.7 L516.5,1104.7 L518.8,1104.8 L521.0,1104.8 L523.2,1104.9 L525.5,1104.9 L527.7,1105.0 L529.9,1105.0 L532.2,1105.0 L534.4,1105.1 L536.6,1105.1 L538.9,1105.2 L541.1,1105.2 L543.3,1105.3 L545.6,1105.4 L547.8,1105.5 L550.0,1105.6 L552.3,1105.7 L554.5,1105.9 L556.7,1106.0 L559.0,1106.1 L561.2,1106.3 L563.4,1106.4 L565.7,1106.6 L567.9,1106.7 L570.1,1106.9 L572.4,1107.0 L574.6,1107.2 L576.8,1107.3 L579.1,1107.4 L581.3,1107.5 L583.5,1107.6 L585.8,1107.7 L588.0,1107.8 L590.2,1107.8 L592.5,1107.9 L594.7,1107.9 L596.9,1107.9 L599.2,1107.8 L601.4,1107.8 L603.6,1107.7 L605.9,1107.6 L608.1,1107.4 L610.3,1107.2 L612.6,1107.1 L614.8,1106.8 L617.0,1106.6 L619.3,1106.4 L621.5,1106.1 L623.7,1105.9 L626.0,1105.6 L628.2,1105.4 L630.4,1105.1 L632.7,1104.8 L634.9,1104.5 L637.1,1104.3 L639.4,1104.0 L641.6,1103.8 L643.8,1103.5 L646.1,1103.3 L648.3,1103.0 L650.5,1102.8 L652.8,1102.6 L655.0,1102.4 L657.2,1102.2 L659.5,1102.0 L661.7,1101.8 L663.9,1101.6 L666.2,1101.4 L668.4,1101.1 L670.6,1100.9 L672.9,1100.7 L675.1,1100.5 L677.3,1100.3 L679.6,1100.1 L681.8,1099.9 L684.0,1099.7 L686.3,1099.5 L688.5,1099.3 L690.7,1099.1 L693.0,1098.9 L695.2,1098.8 L697.4,1098.6 L699.7,1098.5 L701.9,1098.3 L704.1,1098.2 L706.4,1098.1 L708.6,1098.0 L710.8,1097.9 L713.1,1097.8 L715.3,1097.8 L717.5,1097.7 L719.8,1097.6 L722.0,1097.6 L724.2,1097.5 L726.5,1097.4 L728.7,1097.4 L730.9,1097.3 L733.2,1097.3 L735.4,1097.2 L737.6,1097.2 L739.9,1097.1 L742.1,1097.1 L744.3,1097.0 L746.6,1096.9 L748.8,1096.9 L751.0,1096.8 L753.3,1096.7 L755.5,1096.6 L757.7,1096.6 L760.0,1096.5 L762.2,1096.4 L764.4,1096.2 L766.7,1096.1 L768.9,1095.9 L771.1,1095.8 L773.4,1095.6 L775.6,1095.3 L777.8,1095.1 L780.1,1094.9 L782.3,1094.6 L784.5,1094.3 L786.8,1094.0 L789.0,1093.8 L791.2,1093.4 L793.5,1093.1 L795.7,1092.8 L797.9,1092.4 L800.2,1092.1 L802.4,1091.7 L804.6,1091.3 L806.9,1090.9 L809.1,1090.5 L811.3,1090.0 L813.6,1089.5 L815.8,1089.0 L818.0,1088.4 L820.3,1087.8 L822.5,1087.0 L824.7,1086.2 L827.0,1085.2 L829.2,1084.1 L831.4,1082.8 L833.7,1081.4 L835.9,1079.7 L838.1,1077.8 L840.4,1075.6 L842.6,1073.1 L844.8,1070.3 L847.1,1067.1 L849.3,1063.4 L851.5,1059.3 L853.8,1054.5 L856.0,1049.2 L858.2,1043.3 L860.5,1036.5 L862.7,1029.0 L864.9,1020.7 L867.2,1011.4 L869.4,1001.2 L871.6,990.0 L873.9,977.9 L876.1,964.8 L878.3,950.7 L880.6,935.9 L882.8,920.5 L885.0,904.5 L887.3,888.4 L889.5,872.5 L891.7,857.0 L894.0,842.4 L896.2,829.1 L898.4,817.6 L900.7,808.3 L902.9,801.5 L905.1,797.5 L907.4,796.6 L909.6,798.3 L911.8,801.4 L914.1,806.0 L916.3,811.9 L918.5,819.1 L920.8,827.5 L923.0,837.0 L925.2,847.4 L927.5,858.7 L929.7,870.7 L931.9,883.3 L934.2,896.4 L936.4,909.8 L938.6,923.4 L940.9,937.0 L943.1,950.6 L945.3,963.9 L947.6,977.1 L949.8,989.8 L952.0,1002.1 L954.3,1013.8 L956.5,1025.0 L958.7,1035.5 L961.0,1045.4 L963.2,1054.5 L965.4,1063.0 L967.7,1070.7 L969.9,1077.7 L972.1,1084.0 L974.4,1089.5 L976.6,1094.4 L978.8,1098.5 L981.1,1102.0 L983.3,1105.0 L985.5,1107.4 L987.8,1109.4 L990.0,1111.2 L992.2,1112.6 L994.5,1113.9 L996.7,1115.1 L998.9,1116.0 L1001.2,1116.9 L1003.4,1117.6 L1005.6,1118.2 L1007.9,1118.7 L1010.1,1119.1 L1012.3,1119.4 L1014.6,1119.7 L1016.8,1119.9 L1019.0,1120.0 L1021.3,1120.2 L1023.5,1120.3 L1025.7,1120.5 L1028.0,1120.8 L1030.2,1121.1 L1032.4,1121.6 L1034.7,1122.1 L1036.9,1122.7 L1039.1,1123.4 L1041.4,1124.1 L1043.6,1124.8 L1045.8,1125.5 L1048.1,1126.2 L1050.3,1126.8 L1052.5,1127.5 L1054.8,1128.1 L1057.0,1128.6 L1059.2,1129.1 L1061.5,1129.6 L1063.7,1129.9 L1065.9,1130.3 L1068.2,1130.6 L1070.4,1130.8 L1072.6,1131.0 L1074.9,1131.2 L1077.1,1131.3 L1079.3,1131.4 L1081.6,1131.5 L1083.8,1131.5 L1086.0,1131.6 L1088.3,1131.6 L1090.5,1131.6 L1092.7,1131.7 L1095.0,1131.7 L1097.2,1131.7 L1099.4,1131.7 L1101.7,1131.7 L1103.9,1131.7 L1106.1,1131.7 L1108.4,1131.7 L1110.6,1131.7 L1112.8,1131.7 L1115.1,1131.7 L1117.3,1131.7 L1119.5,1131.7 L1121.8,1131.7 L1124.0,1131.7 L1126.2,1131.7 L1128.5,1131.7 L1130.7,1131.7 L1132.9,1131.7 L1135.2,1131.7 L1137.4,1131.5 L1139.6,1131.3 L1141.9,1131.1 L1144.1,1130.9 L1146.3,1130.7 L1148.6,1130.4 L1150.8,1130.1 L1153.0,1129.9 L1155.3,1129.6 L1157.5,1129.3 L1159.7,1129.0 L1162.0,1128.7 L1164.2,1128.3 L1166.4,1128.0 L1168.7,1127.7 L1170.9,1127.3 L1173.1,1127.0 L1175.4,1126.6 L1177.6,1126.3 L1179.8,1125.9 L1182.1,1125.6 L1184.3,1125.6 L1186.5,1125.6 L1188.8,1125.6" stroke="#97196F"/>
<path d="M469.6,1105.5 L471.9,1105.5 L474.1,1105.5 L476.3,1105.5 L478.6,1105.5 L480.8,1105.5 L483.0,1105.5 L485.3,1105.5 L487.5,1105.5 L489.7,1105.5 L492.0,1105.5 L494.2,1105.5 L496.4,1105.5 L498.7,1105.5 L500.9,1105.6 L503.1,1105.6 L505.4,1105.6 L507.6,1105.6 L509.8,1105.7 L512.1,1105.7 L514.3,1105.7 L516.5,1105.8 L518.8,1105.8 L521.0,1105.8 L523.2,1105.9 L525.5,1105.9 L527.7,1105.9 L529.9,1106.0 L532.2,1106.0 L534.4,1106.1 L536.6,1106.1 L538.9,1106.1 L541.1,1106.2 L543.3,1106.2 L545.6,1106.3 L547.8,1106.4 L550.0,1106.5 L552.3,1106.6 L554.5,1106.7 L556.7,1106.8 L559.0,1106.9 L561.2,1107.1 L563.4,1107.2 L565.7,1107.3 L567.9,1107.5 L570.1,1107.6 L572.4,1107.7 L574.6,1107.8 L576.8,1108.0 L579.1,1108.1 L581.3,1108.2 L583.5,1108.3 L585.8,1108.4 L588.0,1108.4 L590.2,1108.5 L592.5,1108.5 L594.7,1108.6 L596.9,1108.6 L599.2,1108.6 L601.4,1108.6 L603.6,1108.6 L605.9,1108.7 L608.1,1108.7 L610.3,1108.7 L612.6,1108.7 L614.8,1108.7 L617.0,1108.7 L619.3,1108.7 L621.5,1108.8 L623.7,1108.8 L626.0,1108.8 L628.2,1108.8 L630.4,1108.8 L632.7,1108.8 L634.9,1108.8 L637.1,1108.8 L639.4,1108.8 L641.6,1108.8 L643.8,1108.8 L646.1,1108.8 L648.3,1108.8 L650.5,1108.8 L652.8,1108.8 L655.0,1108.8 L657.2,1108.8 L659.5,1108.8 L661.7,1108.7 L663.9,1108.7 L666.2,1108.7 L668.4,1108.6 L670.6,1108.5 L672.9,1108.5 L675.1,1108.4 L677.3,1108.3 L679.6,1108.3 L681.8,1108.2 L684.0,1108.1 L686.3,1108.0 L688.5,1107.9 L690.7,1107.8 L693.0,1107.7 L695.2,1107.7 L697.4,1107.6 L699.7,1107.5 L701.9,1107.4 L704.1,1107.3 L706.4,1107.2 L708.6,1107.2 L710.8,1107.1 L713.1,1107.0 L715.3,1106.9 L717.5,1106.8 L719.8,1106.8 L722.0,1106.7 L724.2,1106.6 L726.5,1106.5 L728.7,1106.4 L730.9,1106.3 L733.2,1106.2 L735.4,1106.1 L737.6,1106.1 L739.9,1106.0 L742.1,1105.8 L744.3,1105.7 L746.6,1105.6 L748.8,1105.5 L751.0,1105.4 L753.3,1105.3 L755.5,1105.1 L757.7,1105.0 L760.0,1104.9 L762.2,1104.7 L764.4,1104.6 L766.7,1104.4 L768.9,1104.2 L771.1,1103.9 L773.4,1103.7 L775.6,1103.4 L777.8,1103.1 L780.1,1102.7 L782.3,1102.4 L784.5,1102.0 L786.8,1101.7 L789.0,1101.3 L791.2,1100.9 L793.5,1100.5 L795.7,1100.1 L797.9,1099.7 L800.2,1099.3 L802.4,1098.8 L804.6,1098.4 L806.9,1097.9 L809.1,1097.5 L811.3,1097.0 L813.6,1096.4 L815.8,1095.9 L818.0,1095.3 L820.3,1094.6 L822.5,1093.9 L824.7,1093.0 L827.0,1092.0 L829.2,1090.8 L831.4,1089.5 L833.7,1087.9 L835.9,1086.1 L838.1,1084.0 L840.4,1081.6 L842.6,1078.9 L844.8,1075.8 L847.1,1072.1 L849.3,1068.0 L851.5,1063.3 L853.8,1057.9 L856.0,1051.9 L858.2,1045.0 L860.5,1037.2 L862.7,1028.5 L864.9,1018.8 L867.2,1008.0 L869.4,996.2 L871.6,983.2 L873.9,969.2 L876.1,954.1 L878.3,938.2 L880.6,921.5 L882.8,904.5 L885.0,887.3 L887.3,870.4 L889.5,854.3 L891.7,839.3 L894.0,826.2 L896.2,815.2 L898.4,807.0 L900.7,801.8 L902.9,800.0 L905.1,801.2 L907.4,804.0 L909.6,808.2 L911.8,813.8 L914.1,820.7 L916.3,828.9 L918.5,838.1 L920.8,848.3 L923.0,859.4 L925.2,871.2 L927.5,883.6 L929.7,896.6 L931.9,909.8 L934.2,923.3 L936.4,936.8 L938.6,950.3 L940.9,963.6 L943.1,976.6 L945.3,989.3 L947.6,1001.6 L949.8,1013.3 L952.0,1024.5 L954.3,1035.0 L956.5,1044.9 L958.7,1054.1 L961.0,1062.6 L963.2,1070.4 L965.4,1077.5 L967.7,1083.9 L969.9,1089.6 L972.1,1094.6 L974.4,1098.9 L976.6,1102.7 L978.8,1105.8 L981.1,1108.5 L983.3,1110.8 L985.5,1112.8 L987.8,1114.5 L990.0,1115.9 L992.2,1117.2 L994.5,1118.3 L996.7,1119.3 L998.9,1120.1 L1001.2,1120.8 L1003.4,1121.3 L1005.6,1121.8 L1007.9,1122.2 L1010.1,1122.5 L1012.3,1122.7 L1014.6,1122.9 L1016.8,1123.0 L1019.0,1123.1 L1021.3,1123.2 L1023.5,1123.3 L1025.7,1123.3 L1028.0,1123.4 L1030.2,1123.6 L1032.4,1123.9 L1034.7,1124.2 L1036.9,1124.6 L1039.1,1125.1 L1041.4,1125.5 L1043.6,1126.1 L1045.8,1126.6 L1048.1,1127.1 L1050.3,1127.6 L1052.5,1128.1 L1054.8,1128.6 L1057.0,1129.0 L1059.2,1129.5 L1061.5,1129.8 L1063.7,1130.1 L1065.9,1130.4 L1068.2,1130.7 L1070.4,1130.9 L1072.6,1131.0 L1074.9,1131.2 L1077.1,1131.3 L1079.3,1131.4 L1081.6,1131.5 L1083.8,1131.5 L1086.0,1131.6 L1088.3,1131.6 L1090.5,1131.6 L1092.7,1131.7 L1095.0,1131.7 L1097.2,1131.7 L1099.4,1131.7 L1101.7,1131.7 L1103.9,1131.7 L1106.1,1131.7 L1108.4,1131.7 L1110.6,1131.7 L1112.8,1131.7 L1115.1,1131.7 L1117.3,1131.7 L1119.5,1131.7 L1121.8,1131.7 L1124.0,1131.7 L1126.2,1131.7 L1128.5,1131.7 L1130.7,1131.7 L1132.9,1131.7 L1135.2,1131.7 L1137.4,1131.6 L1139.6,1131.6 L1141.9,1131.5 L1144.1,1131.4 L1146.3,1131.4 L1148.6,1131.3 L1150.8,1131.2 L1153.0,1131.1 L1155.3,1131.0 L1157.5,1130.9 L1159.7,1130.8 L1162.0,1130.7 L1164.2,1130.6 L1166.4,1130.5 L1168.7,1130.4 L1170.9,1130.2 L1173.1,1130.1 L1175.4,1130.0 L1177.6,1129.9 L1179.8,1129.8 L1182.1,1129.7 L1184.3,1129.7 L1186.5,1129.7 L1188.8,1129.7" stroke="#97196F"/>
<path d="M469.6,1106.6 L471.9,1106.6 L474.1,1106.6 L476.3,1106.6 L478.6,1106.6 L480.8,1106.6 L483.0,1106.6 L485.3,1106.6 L487.5,1106.6 L489.7,1106.6 L492.0,1106.6 L494.2,1106.6 L496.4,1106.6 L498.7,1106.6 L500.9,1106.6 L503.1,1106.7 L505.4,1106.7 L507.6,1106.7 L509.8,1106.7 L512.1,1106.8 L514.3,1106.8 L516.5,1106.8 L518.8,1106.9 L521.0,1106.9 L523.2,1106.9 L525.5,1107.0 L527.7,1107.0 L529.9,1107.1 L532.2,1107.1 L534.4,1107.1 L536.6,1107.2 L538.9,1107.2 L541.1,1107.3 L543.3,1107.3 L545.6,1107.4 L547.8,1107.5 L550.0,1107.5 L552.3,1107.6 L554.5,1107.7 L556.7,1107.8 L559.0,1107.9 L561.2,1108.1 L563.4,1108.2 L565.7,1108.3 L567.9,1108.4 L570.1,1108.5 L572.4,1108.6 L574.6,1108.7 L576.8,1108.8 L579.1,1108.9 L581.3,1109.0 L583.5,1109.1 L585.8,1109.2 L588.0,1109.2 L590.2,1109.3 L592.5,1109.3 L594.7,1109.4 L596.9,1109.4 L599.2,1109.4 L601.4,1109.4 L603.6,1109.4 L605.9,1109.5 L608.1,1109.5 L610.3,1109.5 L612.6,1109.5 L614.8,1109.5 L617.0,1109.5 L619.3,1109.5 L621.5,1109.6 L623.7,1109.6 L626.0,1109.6 L628.2,1109.6 L630.4,1109.6 L632.7,1109.6 L634.9,1109.6 L637.1,1109.6 L639.4,1109.6 L641.6,1109.6 L643.8,1109.6 L646.1,1109.6 L648.3,1109.6 L650.5,1109.6 L652.8,1109.6 L655.0,1109.6 L657.2,1109.6 L659.5,1109.6 L661.7,1109.6 L663.9,1109.5 L666.2,1109.5 L668.4,1109.4 L670.6,1109.4 L672.9,1109.3 L675.1,1109.2 L677.3,1109.2 L679.6,1109.1 L681.8,1109.0 L684.0,1109.0 L686.3,1108.9 L688.5,1108.8 L690.7,1108.7 L693.0,1108.6 L695.2,1108.6 L697.4,1108.5 L699.7,1108.4 L701.9,1108.3 L704.1,1108.3 L706.4,1108.2 L708.6,1108.1 L710.8,1108.0 L713.1,1108.0 L715.3,1107.9 L717.5,1107.8 L719.8,1107.7 L722.0,1107.7 L724.2,1107.6 L726.5,1107.5 L728.7,1107.4 L730.9,1107.3 L733.2,1107.2 L735.4,1107.1 L737.6,1107.0 L739.9,1107.0 L742.1,1106.9 L744.3,1106.8 L746.6,1106.6 L748.8,1106.5 L751.0,1106.4 L753.3,1106.3 L755.5,1106.2 L757.7,1106.0 L760.0,1105.9 L762.2,1105.8 L764.4,1105.6 L766.7,1105.4 L768.9,1105.2 L771.1,1105.0 L773.4,1104.7 L775.6,1104.4 L777.8,1104.1 L780.1,1103.8 L782.3,1103.5 L784.5,1103.2 L786.8,1102.8 L789.0,1102.4 L791.2,1102.0 L793.5,1101.7 L795.7,1101.3 L797.9,1100.9 L800.2,1100.4 L802.4,1100.0 L804.6,1099.6 L806.9,1099.1 L809.1,1098.7 L811.3,1098.2 L813.6,1097.7 L815.8,1097.2 L818.0,1096.6 L820.3,1096.0 L822.5,1095.3 L824.7,1094.5 L827.0,1093.6 L829.2,1092.6 L831.4,1091.4 L833.7,1090.1 L835.9,1088.5 L838.1,1086.8 L840.4,1084.8 L842.6,1082.5 L844.8,1080.0 L847.1,1077.0 L849.3,1073.7 L851.5,1070.0 L853.8,1065.8 L856.0,1061.0 L858.2,1055.6 L860.5,1049.6 L862.7,1042.9 L864.9,1035.4 L867.2,1027.1 L869.4,1018.0 L871.6,1007.9 L873.9,996.9 L876.1,985.0 L878.3,972.2 L880.6,958.5 L882.8,944.2 L885.0,929.1 L887.3,913.7 L889.5,898.1 L891.7,882.6 L894.0,867.5 L896.2,853.2 L898.4,840.1 L900.7,828.6 L902.9,819.1 L905.1,811.9 L907.4,807.2 L909.6,805.4 L911.8,806.3 L914.1,808.7 L916.3,812.6 L918.5,817.8 L920.8,824.3 L923.0,832.0 L925.2,840.8 L927.5,850.7 L929.7,861.4 L931.9,872.9 L934.2,885.0 L936.4,897.6 L938.6,910.6 L940.9,923.8 L943.1,937.1 L945.3,950.4 L947.6,963.6 L949.8,976.5 L952.0,989.1 L954.3,1001.2 L956.5,1012.9 L958.7,1024.0 L961.0,1034.5 L963.2,1044.3 L965.4,1053.5 L967.7,1061.9 L969.9,1069.7 L972.1,1076.6 L974.4,1082.9 L976.6,1088.4 L978.8,1093.1 L981.1,1097.2 L983.3,1100.5 L985.5,1103.2 L987.8,1105.4 L990.0,1107.2 L992.2,1108.7 L994.5,1109.9 L996.7,1111.0 L998.9,1112.0 L1001.2,1112.8 L1003.4,1113.6 L1005.6,1114.2 L1007.9,1114.8 L1010.1,1115.2 L1012.3,1115.6 L1014.6,1115.8 L1016.8,1116.0 L1019.0,1116.2 L1021.3,1116.3 L1023.5,1116.5 L1025.7,1116.6 L1028.0,1116.7 L1030.2,1116.9 L1032.4,1117.2 L1034.7,1117.7 L1036.9,1118.3 L1039.1,1119.0 L1041.4,1119.9 L1043.6,1120.7 L1045.8,1121.7 L1048.1,1122.6 L1050.3,1123.6 L1052.5,1124.5 L1054.8,1125.4 L1057.0,1126.2 L1059.2,1127.0 L1061.5,1127.7 L1063.7,1128.4 L1065.9,1129.0 L1068.2,1129.5 L1070.4,1129.9 L1072.6,1130.2 L1074.9,1130.6 L1077.1,1130.8 L1079.3,1131.0 L1081.6,1131.2 L1083.8,1131.3 L1086.0,1131.4 L1088.3,1131.5 L1090.5,1131.5 L1092.7,1131.6 L1095.0,1131.6 L1097.2,1131.6 L1099.4,1131.7 L1101.7,1131.7 L1103.9,1131.7 L1106.1,1131.7 L1108.4,1131.7 L1110.6,1131.7 L1112.8,1131.7 L1115.1,1131.7 L1117.3,1131.7 L1119.5,1131.7 L1121.8,1131.7 L1124.0,1131.7 L1126.2,1131.7 L1128.5,1131.7 L1130.7,1131.7 L1132.9,1131.7 L1135.2,1131.6 L1137.4,1131.5 L1139.6,1131.3 L1141.9,1131.0 L1144.1,1130.8 L1146.3,1130.5 L1148.6,1130.2 L1150.8,1129.9 L1153.0,1129.6 L1155.3,1129.2 L1157.5,1128.9 L1159.7,1128.6 L1162.0,1128.2 L1164.2,1127.8 L1166.4,1127.4 L1168.7,1127.1 L1170.9,1126.7 L1173.1,1126.3 L1175.4,1125.9 L1177.6,1125.4 L1179.8,1125.0 L1182.1,1124.7 L1184.3,1124.7 L1186.5,1124.7 L1188.8,1124.7" stroke="#97196F"/>
<path d="M469.6,1107.8 L471.9,1107.8 L474.1,1107.8 L476.3,1107.8 L478.6,1107.8 L480.8,1107.8 L483.0,1107.8 L485.3,1107.8 L487.5,1107.8 L489.7,1107.8 L492.0,1107.8 L494.2,1107.8 L496.4,1107.8 L498.7,1107.8 L500.9,1107.8 L503.1,1107.8 L505.4,1107.9 L507.6,1107.9 L509.8,1107.9 L512.1,1107.9 L514.3,1108.0 L516.5,1108.0 L518.8,1108.0 L521.0,1108.0 L523.2,1108.1 L525.5,1108.1 L527.7,1108.1 L529.9,1108.2 L532.2,1108.2 L534.4,1108.2 L536.6,1108.3 L538.9,1108.3 L541.1,1108.3 L543.3,1108.4 L545.6,1108.4 L547.8,1108.5 L550.0,1108.6 L552.3,1108.6 L554.5,1108.7 L556.7,1108.8 L559.0,1108.9 L561.2,1109.0 L563.4,1109.1 L565.7,1109.2 L567.9,1109.3 L570.1,1109.4 L572.4,1109.5 L574.6,1109.6 L576.8,1109.7 L579.1,1109.8 L581.3,1109.9 L583.5,1109.9 L585.8,1110.0 L588.0,1110.1 L590.2,1110.1 L592.5,1110.1 L594.7,1110.2 L596.9,1110.2 L599.2,1110.2 L601.4,1110.2 L603.6,1110.2 L605.9,1110.3 L608.1,1110.3 L610.3,1110.3 L612.6,1110.3 L614.8,1110.3 L617.0,1110.3 L619.3,1110.4 L621.5,1110.4 L623.7,1110.4 L626.0,1110.4 L628.2,1110.4 L630.4,1110.4 L632.7,1110.4 L634.9,1110.4 L637.1,1110.4 L639.4,1110.4 L641.6,1110.4 L643.8,1110.4 L646.1,1110.4 L648.3,1110.4 L650.5,1110.5 L652.8,1110.4 L655.0,1110.4 L657.2,1110.4 L659.5,1110.4 L661.7,1110.4 L663.9,1110.3 L666.2,1110.3 L668.4,1110.3 L670.6,1110.2 L672.9,1110.2 L675.1,1110.1 L677.3,1110.0 L679.6,1110.0 L681.8,1109.9 L684.0,1109.8 L686.3,1109.8 L688.5,1109.7 L690.7,1109.6 L693.0,1109.6 L695.2,1109.5 L697.4,1109.4 L699.7,1109.3 L701.9,1109.3 L704.1,1109.2 L706.4,1109.1 L708.6,1109.1 L710.8,1109.0 L713.1,1108.9 L715.3,1108.8 L717.5,1108.8 L719.8,1108.7 L722.0,1108.6 L724.2,1108.5 L726.5,1108.4 L728.7,1108.4 L730.9,1108.3 L733.2,1108.2 L735.4,1108.1 L737.6,1108.0 L739.9,1107.9 L742.1,1107.8 L744.3,1107.7 L746.6,1107.6 L748.8,1107.5 L751.0,1107.4 L753.3,1107.3 L755.5,1107.1 L757.7,1107.0 L760.0,1106.9 L762.2,1106.7 L764.4,1106.6 L766.7,1106.4 L768.9,1106.2 L771.1,1106.0 L773.4,1105.7 L775.6,1105.5 L777.8,1105.2 L780.1,1104.9 L782.3,1104.6 L784.5,1104.2 L786.8,1103.9 L789.0,1103.5 L791.2,1103.2 L793.5,1102.8 L795.7,1102.4 L797.9,1102.0 L800.2,1101.6 L802.4,1101.2 L804.6,1100.8 L806.9,1100.3 L809.1,1099.9 L811.3,1099.4 L813.6,1098.9 L815.8,1098.3 L818.0,1097.7 L820.3,1097.1 L822.5,1096.4 L824.7,1095.5 L827.0,1094.5 L829.2,1093.4 L831.4,1092.1 L833.7,1090.6 L835.9,1088.9 L838.1,1086.9 L840.4,1084.7 L842.6,1082.1 L844.8,1079.1 L847.1,1075.7 L849.3,1071.8 L851.5,1067.4 L853.8,1062.4 L856.0,1056.7 L858.2,1050.3 L860.5,1043.0 L862.7,1034.9 L864.9,1025.9 L867.2,1015.9 L869.4,1004.8 L871.6,992.7 L873.9,979.6 L876.1,965.5 L878.3,950.5 L880.6,934.8 L882.8,918.6 L885.0,902.1 L887.3,885.7 L889.5,869.7 L891.7,854.7 L894.0,841.1 L896.2,829.4 L898.4,819.9 L900.7,813.2 L902.9,809.5 L905.1,808.9 L907.4,810.7 L909.6,813.9 L911.8,818.5 L914.1,824.4 L916.3,831.5 L918.5,839.7 L920.8,849.1 L923.0,859.3 L925.2,870.3 L927.5,882.1 L929.7,894.4 L931.9,907.1 L934.2,920.1 L936.4,933.2 L938.6,946.4 L940.9,959.5 L943.1,972.4 L945.3,985.0 L947.6,997.2 L949.8,1009.0 L952.0,1020.3 L954.3,1030.9 L956.5,1041.0 L958.7,1050.4 L961.0,1059.2 L963.2,1067.3 L965.4,1074.7 L967.7,1081.5 L969.9,1087.6 L972.1,1093.0 L974.4,1097.8 L976.6,1102.1 L978.8,1105.8 L981.1,1109.0 L983.3,1111.7 L985.5,1114.1 L987.8,1116.2 L990.0,1118.0 L992.2,1119.5 L994.5,1120.8 L996.7,1122.0 L998.9,1123.0 L1001.2,1123.8 L1003.4,1124.5 L1005.6,1125.1 L1007.9,1125.5 L1010.1,1125.9 L1012.3,1126.2 L1014.6,1126.5 L1016.8,1126.6 L1019.0,1126.8 L1021.3,1126.9 L1023.5,1127.0 L1025.7,1127.1 L1028.0,1127.1 L1030.2,1127.2 L1032.4,1127.3 L1034.7,1127.4 L1036.9,1127.6 L1039.1,1127.7 L1041.4,1128.0 L1043.6,1128.2 L1045.8,1128.5 L1048.1,1128.8 L1050.3,1129.0 L1052.5,1129.3 L1054.8,1129.6 L1057.0,1129.9 L1059.2,1130.1 L1061.5,1130.3 L1063.7,1130.6 L1065.9,1130.7 L1068.2,1130.9 L1070.4,1131.1 L1072.6,1131.2 L1074.9,1131.3 L1077.1,1131.4 L1079.3,1131.4 L1081.6,1131.5 L1083.8,1131.5 L1086.0,1131.6 L1088.3,1131.6 L1090.5,1131.6 L1092.7,1131.7 L1095.0,1131.7 L1097.2,1131.7 L1099.4,1131.7 L1101.7,1131.7 L1103.9,1131.7 L1106.1,1131.7 L1108.4,1131.7 L1110.6,1131.7 L1112.8,1131.7 L1115.1,1131.7 L1117.3,1131.7 L1119.5,1131.7 L1121.8,1131.7 L1124.0,1131.7 L1126.2,1131.7 L1128.5,1131.7 L1130.7,1131.7 L1132.9,1131.7 L1135.2,1131.7 L1137.4,1131.6 L1139.6,1131.5 L1141.9,1131.4 L1144.1,1131.3 L1146.3,1131.1 L1148.6,1131.0 L1150.8,1130.8 L1153.0,1130.7 L1155.3,1130.5 L1157.5,1130.4 L1159.7,1130.2 L1162.0,1130.0 L1164.2,1129.8 L1166.4,1129.7 L1168.7,1129.5 L1170.9,1129.3 L1173.1,1129.1 L1175.4,1128.9 L1177.6,1128.7 L1179.8,1128.5 L1182.1,1128.3 L1184.3,1128.3 L1186.5,1128.3 L1188.8,1128.3" stroke="#97196F"/>
<path d="M469.6,1109.1 L471.9,1109.1 L474.1,1109.1 L476.3,1109.1 L478.6,1109.1 L480.8,1109.1 L483.0,1109.1 L485.3,1109.1 L487.5,1109.1 L489.7,1109.1 L492.0,1109.1 L494.2,1109.1 L496.4,1109.1 L498.7,1109.1 L500.9,1109.2 L503.1,1109.2 L505.4,1109.2 L507.6,1109.2 L509.8,1109.2 L512.1,1109.2 L514.3,1109.3 L516.5,1109.3 L518.8,1109.3 L521.0,1109.3 L523.2,1109.3 L525.5,1109.4 L527.7,1109.4 L529.9,1109.4 L532.2,1109.4 L534.4,1109.5 L536.6,1109.5 L538.9,1109.5 L541.1,1109.5 L543.3,1109.6 L545.6,1109.6 L547.8,1109.7 L550.0,1109.7 L552.3,1109.8 L554.5,1109.8 L556.7,1109.9 L559.0,1110.0 L561.2,1110.1 L563.4,1110.1 L565.7,1110.2 L567.9,1110.3 L570.1,1110.4 L572.4,1110.4 L574.6,1110.5 L576.8,1110.6 L579.1,1110.7 L581.3,1110.7 L583.5,1110.8 L585.8,1110.8 L588.0,1110.9 L590.2,1110.9 L592.5,1111.0 L594.7,1111.0 L596.9,1111.0 L599.2,1111.0 L601.4,1111.0 L603.6,1111.1 L605.9,1111.1 L608.1,1111.1 L610.3,1111.1 L612.6,1111.1 L614.8,1111.1 L617.0,1111.1 L619.3,1111.2 L621.5,1111.2 L623.7,1111.2 L626.0,1111.2 L628.2,1111.2 L630.4,1111.2 L632.7,1111.2 L634.9,1111.2 L637.1,1111.2 L639.4,1111.2 L641.6,1111.2 L643.8,1111.3 L646.1,1111.3 L648.3,1111.3 L650.5,1111.3 L652.8,1111.3 L655.0,1111.2 L657.2,1111.2 L659.5,1111.2 L661.7,1111.2 L663.9,1111.2 L666.2,1111.1 L668.4,1111.1 L670.6,1111.0 L672.9,1111.0 L675.1,1111.0 L677.3,1110.9 L679.6,1110.9 L681.8,1110.8 L684.0,1110.7 L686.3,1110.7 L688.5,1110.6 L690.7,1110.6 L693.0,1110.5 L695.2,1110.5 L697.4,1110.4 L699.7,1110.3 L701.9,1110.3 L704.1,1110.2 L706.4,1110.2 L708.6,1110.1 L710.8,1110.1 L713.1,1110.0 L715.3,1110.0 L717.5,1110.0 L719.8,1109.9 L722.0,1109.9 L724.2,1109.8 L726.5,1109.8 L728.7,1109.7 L730.9,1109.7 L733.2,1109.6 L735.4,1109.6 L737.6,1109.5 L739.9,1109.5 L742.1,1109.4 L744.3,1109.4 L746.6,1109.3 L748.8,1109.2 L751.0,1109.2 L753.3,1109.1 L755.5,1109.0 L757.7,1108.9 L760.0,1108.8 L762.2,1108.7 L764.4,1108.6 L766.7,1108.5 L768.9,1108.3 L771.1,1108.1 L773.4,1107.9 L775.6,1107.6 L777.8,1107.3 L780.1,1107.0 L782.3,1106.7 L784.5,1106.4 L786.8,1106.1 L789.0,1105.7 L791.2,1105.3 L793.5,1104.9 L795.7,1104.5 L797.9,1104.1 L800.2,1103.7 L802.4,1103.3 L804.6,1102.9 L806.9,1102.4 L809.1,1101.9 L811.3,1101.4 L813.6,1100.9 L815.8,1100.3 L818.0,1099.7 L820.3,1099.1 L822.5,1098.4 L824.7,1097.5 L827.0,1096.5 L829.2,1095.4 L831.4,1094.1 L833.7,1092.7 L835.9,1091.0 L838.1,1089.1 L840.4,1086.9 L842.6,1084.5 L844.8,1081.6 L847.1,1078.4 L849.3,1074.8 L851.5,1070.7 L853.8,1066.0 L856.0,1060.8 L858.2,1054.9 L860.5,1048.3 L862.7,1040.9 L864.9,1032.7 L867.2,1023.6 L869.4,1013.7 L871.6,1002.7 L873.9,990.9 L876.1,978.1 L878.3,964.5 L880.6,950.1 L882.8,935.1 L885.0,919.6 L887.3,904.1 L889.5,888.6 L891.7,873.6 L894.0,859.4 L896.2,846.6 L898.4,835.4 L900.7,826.2 L902.9,819.5 L905.1,815.4 L907.4,814.2 L909.6,815.4 L911.8,818.1 L914.1,822.2 L916.3,827.6 L918.5,834.2 L920.8,842.0 L923.0,850.8 L925.2,860.6 L927.5,871.3 L929.7,882.6 L931.9,894.6 L934.2,907.0 L936.4,919.7 L938.6,932.6 L940.9,945.6 L943.1,958.5 L945.3,971.2 L947.6,983.7 L949.8,995.9 L952.0,1007.6 L954.3,1018.8 L956.5,1029.5 L958.7,1039.6 L961.0,1049.0 L963.2,1057.8 L965.4,1065.8 L967.7,1073.2 L969.9,1079.9 L972.1,1085.9 L974.4,1091.1 L976.6,1095.7 L978.8,1099.5 L981.1,1102.8 L983.3,1105.5 L985.5,1107.7 L987.8,1109.5 L990.0,1111.1 L992.2,1112.4 L994.5,1113.6 L996.7,1114.6 L998.9,1115.6 L1001.2,1116.4 L1003.4,1117.1 L1005.6,1117.7 L1007.9,1118.1 L1010.1,1118.5 L1012.3,1118.8 L1014.6,1119.1 L1016.8,1119.2 L1019.0,1119.3 L1021.3,1119.4 L1023.5,1119.5 L1025.7,1119.5 L1028.0,1119.5 L1030.2,1119.6 L1032.4,1119.7 L1034.7,1119.8 L1036.9,1120.1 L1039.1,1120.5 L1041.4,1121.0 L1043.6,1121.6 L1045.8,1122.3 L1048.1,1123.0 L1050.3,1123.7 L1052.5,1124.5 L1054.8,1125.3 L1057.0,1126.0 L1059.2,1126.7 L1061.5,1127.4 L1063.7,1128.0 L1065.9,1128.6 L1068.2,1129.1 L1070.4,1129.6 L1072.6,1130.0 L1074.9,1130.3 L1077.1,1130.6 L1079.3,1130.8 L1081.6,1131.0 L1083.8,1131.2 L1086.0,1131.3 L1088.3,1131.4 L1090.5,1131.5 L1092.7,1131.5 L1095.0,1131.6 L1097.2,1131.6 L1099.4,1131.6 L1101.7,1131.7 L1103.9,1131.7 L1106.1,1131.7 L1108.4,1131.7 L1110.6,1131.7 L1112.8,1131.7 L1115.1,1131.7 L1117.3,1131.7 L1119.5,1131.7 L1121.8,1131.7 L1124.0,1131.7 L1126.2,1131.7 L1128.5,1131.7 L1130.7,1131.7 L1132.9,1131.7 L1135.2,1131.7 L1137.4,1131.5 L1139.6,1131.4 L1141.9,1131.2 L1144.1,1131.1 L1146.3,1130.9 L1148.6,1130.7 L1150.8,1130.5 L1153.0,1130.3 L1155.3,1130.0 L1157.5,1129.8 L1159.7,1129.6 L1162.0,1129.3 L1164.2,1129.1 L1166.4,1128.8 L1168.7,1128.6 L1170.9,1128.3 L1173.1,1128.0 L1175.4,1127.8 L1177.6,1127.5 L1179.8,1127.2 L1182.1,1127.0 L1184.3,1127.0 L1186.5,1127.0 L1188.8,1127.0" stroke="#97196F"/>
<path d="M469.6,1113.1 L471.9,1113.1 L474.1,1113.1 L476.3,1113.1 L478.6,1113.1 L480.8,1113.1 L483.0,1113.1 L485.3,1113.1 L487.5,1113.2 L489.7,1113.2 L492.0,1113.3 L494.2,1113.3 L496.4,1113.4 L498.7,1113.5 L500.9,1113.7 L503.1,1113.8 L505.4,1113.9 L507.6,1114.1 L509.8,1114.2 L512.1,1114.4 L514.3,1114.6 L516.5,1114.8 L518.8,1114.9 L521.0,1115.1 L523.2,1115.3 L525.5,1115.5 L527.7,1115.7 L529.9,1115.9 L532.2,1116.1 L534.4,1116.2 L536.6,1116.4 L538.9,1116.6 L541.1,1116.8 L543.3,1117.0 L545.6,1117.2 L547.8,1117.4 L550.0,1117.6 L552.3,1117.8 L554.5,1118.1 L556.7,1118.3 L559.0,1118.6 L561.2,1118.8 L563.4,1119.1 L565.7,1119.3 L567.9,1119.6 L570.1,1119.8 L572.4,1120.1 L574.6,1120.3 L576.8,1120.5 L579.1,1120.8 L581.3,1120.9 L583.5,1121.1 L585.8,1121.3 L588.0,1121.4 L590.2,1121.6 L592.5,1121.7 L594.7,1121.7 L596.9,1121.8 L599.2,1121.8 L601.4,1121.9 L603.6,1121.9 L605.9,1122.0 L608.1,1122.0 L610.3,1122.1 L612.6,1122.1 L614.8,1122.2 L617.0,1122.2 L619.3,1122.3 L621.5,1122.3 L623.7,1122.3 L626.0,1122.4 L628.2,1122.4 L630.4,1122.4 L632.7,1122.5 L634.9,1122.5 L637.1,1122.5 L639.4,1122.5 L641.6,1122.5 L643.8,1122.5 L646.1,1122.5 L648.3,1122.6 L650.5,1122.6 L652.8,1122.6 L655.0,1122.6 L657.2,1122.6 L659.5,1122.5 L661.7,1122.5 L663.9,1122.5 L666.2,1122.5 L668.4,1122.5 L670.6,1122.5 L672.9,1122.5 L675.1,1122.5 L677.3,1122.5 L679.6,1122.5 L681.8,1122.5 L684.0,1122.5 L686.3,1122.4 L688.5,1122.4 L690.7,1122.4 L693.0,1122.4 L695.2,1122.4 L697.4,1122.4 L699.7,1122.3 L701.9,1122.3 L704.1,1122.3 L706.4,1122.3 L708.6,1122.3 L710.8,1122.2 L713.1,1122.2 L715.3,1122.1 L717.5,1122.0 L719.8,1121.9 L722.0,1121.8 L724.2,1121.6 L726.5,1121.5 L728.7,1121.3 L730.9,1121.1 L733.2,1121.0 L735.4,1120.8 L737.6,1120.6 L739.9,1120.4 L742.1,1120.2 L744.3,1120.0 L746.6,1119.7 L748.8,1119.5 L751.0,1119.3 L753.3,1119.1 L755.5,1118.9 L757.7,1118.6 L760.0,1118.4 L762.2,1118.2 L764.4,1118.0 L766.7,1117.7 L768.9,1117.4 L771.1,1117.1 L773.4,1116.8 L775.6,1116.4 L777.8,1116.0 L780.1,1115.6 L782.3,1115.2 L784.5,1114.8 L786.8,1114.3 L789.0,1113.9 L791.2,1113.4 L793.5,1113.0 L795.7,1112.5 L797.9,1112.0 L800.2,1111.5 L802.4,1111.0 L804.6,1110.5 L806.9,1110.0 L809.1,1109.5 L811.3,1108.9 L813.6,1108.4 L815.8,1107.8 L818.0,1107.1 L820.3,1106.4 L822.5,1105.6 L824.7,1104.7 L827.0,1103.6 L829.2,1102.4 L831.4,1101.0 L833.7,1099.3 L835.9,1097.4 L838.1,1095.2 L840.4,1092.7 L842.6,1089.8 L844.8,1086.5 L847.1,1082.7 L849.3,1078.4 L851.5,1073.4 L853.8,1067.8 L856.0,1061.5 L858.2,1054.3 L860.5,1046.2 L862.7,1037.2 L864.9,1027.1 L867.2,1016.1 L869.4,1003.9 L871.6,990.7 L873.9,976.4 L876.1,961.3 L878.3,945.4 L880.6,928.9 L882.8,912.3 L885.0,895.7 L887.3,879.6 L889.5,864.5 L891.7,850.8 L894.0,839.1 L896.2,829.9 L898.4,823.4 L900.7,820.1 L902.9,819.9 L905.1,821.9 L907.4,825.4 L909.6,830.6 L911.8,837.2 L914.1,845.1 L916.3,854.4 L918.5,864.7 L920.8,876.1 L923.0,888.2 L925.2,901.1 L927.5,914.4 L929.7,928.0 L931.9,941.8 L934.2,955.6 L936.4,969.2 L938.6,982.7 L940.9,995.7 L943.1,1008.3 L945.3,1020.3 L947.6,1031.6 L949.8,1042.3 L952.0,1052.3 L954.3,1061.5 L956.5,1070.0 L958.7,1077.8 L961.0,1084.8 L963.2,1091.2 L965.4,1096.8 L967.7,1101.9 L969.9,1106.3 L972.1,1110.2 L974.4,1113.5 L976.6,1116.5 L978.8,1119.0 L981.1,1121.1 L983.3,1122.9 L985.5,1124.4 L987.8,1125.7 L990.0,1126.8 L992.2,1127.7 L994.5,1128.4 L996.7,1129.0 L998.9,1129.5 L1001.2,1129.9 L1003.4,1130.2 L1005.6,1130.5 L1007.9,1130.7 L1010.1,1130.8 L1012.3,1131.0 L1014.6,1131.1 L1016.8,1131.1 L1019.0,1131.2 L1021.3,1131.2 L1023.5,1131.3 L1025.7,1131.3 L1028.0,1131.3 L1030.2,1131.3 L1032.4,1131.3 L1034.7,1131.4 L1036.9,1131.4 L1039.1,1131.4 L1041.4,1131.4 L1043.6,1131.4 L1045.8,1131.4 L1048.1,1131.4 L1050.3,1131.5 L1052.5,1131.5 L1054.8,1131.5 L1057.0,1131.5 L1059.2,1131.5 L1061.5,1131.6 L1063.7,1131.6 L1065.9,1131.6 L1068.2,1131.6 L1070.4,1131.6 L1072.6,1131.6 L1074.9,1131.7 L1077.1,1131.7 L1079.3,1131.7 L1081.6,1131.7 L1083.8,1131.7 L1086.0,1131.7 L1088.3,1131.7 L1090.5,1131.7 L1092.7,1131.7 L1095.0,1131.7 L1097.2,1131.7 L1099.4,1131.7 L1101.7,1131.7 L1103.9,1131.7 L1106.1,1131.7 L1108.4,1131.7 L1110.6,1131.7 L1112.8,1131.7 L1115.1,1131.7 L1117.3,1131.7 L1119.5,1131.7 L1121.8,1131.7 L1124.0,1131.7 L1126.2,1131.7 L1128.5,1131.7 L1130.7,1131.7 L1132.9,1131.7 L1135.2,1131.7 L1137.4,1131.7 L1139.6,1131.6 L1141.9,1131.6 L1144.1,1131.5 L1146.3,1131.5 L1148.6,1131.4 L1150.8,1131.4 L1153.0,1131.3 L1155.3,1131.2 L1157.5,1131.2 L1159.7,1131.1 L1162.0,1131.0 L1164.2,1131.0 L1166.4,1130.9 L1168.7,1130.8 L1170.9,1130.7 L1173.1,1130.7 L1175.4,1130.6 L1177.6,1130.5 L1179.8,1130.4 L1182.1,1130.4 L1184.3,1130.4 L1186.5,1130.4 L1188.8,1130.4" stroke="#97196F"/>
<path d="M469.6,1110.5 L471.9,1110.5 L474.1,1110.5 L476.3,1110.5 L478.6,1110.5 L480.8,1110.5 L483.0,1110.5 L485.3,1110.5 L487.5,1110.5 L489.7,1110.5 L492.0,1110.5 L494.2,1110.5 L496.4,1110.5 L498.7,1110.5 L500.9,1110.5 L503.1,1110.5 L505.4,1110.5 L507.6,1110.5 L509.8,1110.5 L512.1,1110.5 L514.3,1110.6 L516.5,1110.6 L518.8,1110.6 L521.0,1110.6 L523.2,1110.6 L525.5,1110.6 L527.7,1110.6 L529.9,1110.7 L532.2,1110.7 L534.4,1110.7 L536.6,1110.7 L538.9,1110.7 L541.1,1110.7 L543.3,1110.8 L545.6,1110.8 L547.8,1110.8 L550.0,1110.8 L552.3,1110.9 L554.5,1110.9 L556.7,1110.9 L559.0,1111.0 L561.2,1111.0 L563.4,1111.1 L565.7,1111.1 L567.9,1111.1 L570.1,1111.2 L572.4,1111.2 L574.6,1111.3 L576.8,1111.3 L579.1,1111.3 L581.3,1111.4 L583.5,1111.4 L585.8,1111.4 L588.0,1111.5 L590.2,1111.5 L592.5,1111.5 L594.7,1111.5 L596.9,1111.5 L599.2,1111.6 L601.4,1111.6 L603.6,1111.6 L605.9,1111.6 L608.1,1111.6 L610.3,1111.6 L612.6,1111.6 L614.8,1111.7 L617.0,1111.7 L619.3,1111.7 L621.5,1111.7 L623.7,1111.7 L626.0,1111.7 L628.2,1111.7 L630.4,1111.7 L632.7,1111.8 L634.9,1111.8 L637.1,1111.8 L639.4,1111.8 L641.6,1111.8 L643.8,1111.8 L646.1,1111.8 L648.3,1111.8 L650.5,1111.8 L652.8,1111.8 L655.0,1111.8 L657.2,1111.8 L659.5,1111.8 L661.7,1111.8 L663.9,1111.8 L666.2,1111.7 L668.4,1111.7 L670.6,1111.7 L672.9,1111.7 L675.1,1111.7 L677.3,1111.6 L679.6,1111.6 L681.8,1111.6 L684.0,1111.6 L686.3,1111.5 L688.5,1111.5 L690.7,1111.5 L693.0,1111.4 L695.2,1111.4 L697.4,1111.4 L699.7,1111.4 L701.9,1111.3 L704.1,1111.3 L706.4,1111.3 L708.6,1111.2 L710.8,1111.2 L713.1,1111.2 L715.3,1111.1 L717.5,1111.1 L719.8,1111.1 L722.0,1111.0 L724.2,1111.0 L726.5,1111.0 L728.7,1110.9 L730.9,1110.9 L733.2,1110.9 L735.4,1110.8 L737.6,1110.8 L739.9,1110.7 L742.1,1110.7 L744.3,1110.6 L746.6,1110.6 L748.8,1110.5 L751.0,1110.4 L753.3,1110.4 L755.5,1110.3 L757.7,1110.2 L760.0,1110.2 L762.2,1110.1 L764.4,1110.0 L766.7,1109.8 L768.9,1109.7 L771.1,1109.5 L773.4,1109.2 L775.6,1109.0 L777.8,1108.7 L780.1,1108.4 L782.3,1108.1 L784.5,1107.8 L786.8,1107.5 L789.0,1107.1 L791.2,1106.7 L793.5,1106.3 L795.7,1105.9 L797.9,1105.5 L800.2,1105.1 L802.4,1104.7 L804.6,1104.2 L806.9,1103.8 L809.1,1103.3 L811.3,1102.8 L813.6,1102.2 L815.8,1101.7 L818.0,1101.1 L820.3,1100.4 L822.5,1099.7 L824.7,1098.8 L827.0,1097.8 L829.2,1096.7 L831.4,1095.4 L833.7,1093.9 L835.9,1092.2 L838.1,1090.2 L840.4,1088.0 L842.6,1085.5 L844.8,1082.6 L847.1,1079.3 L849.3,1075.6 L851.5,1071.4 L853.8,1066.6 L856.0,1061.2 L858.2,1055.2 L860.5,1048.4 L862.7,1040.9 L864.9,1032.5 L867.2,1023.2 L869.4,1013.0 L871.6,1001.9 L873.9,989.9 L876.1,977.0 L878.3,963.3 L880.6,948.9 L882.8,934.1 L885.0,918.9 L887.3,903.7 L889.5,888.8 L891.7,874.6 L894.0,861.4 L896.2,849.7 L898.4,839.9 L900.7,832.4 L902.9,827.3 L905.1,825.0 L907.4,825.5 L909.6,827.6 L911.8,831.1 L914.1,835.8 L916.3,841.8 L918.5,848.9 L920.8,857.1 L923.0,866.2 L925.2,876.2 L927.5,887.0 L929.7,898.3 L931.9,910.1 L934.2,922.3 L936.4,934.7 L938.6,947.3 L940.9,959.8 L943.1,972.2 L945.3,984.4 L947.6,996.3 L949.8,1007.7 L952.0,1018.8 L954.3,1029.3 L956.5,1039.2 L958.7,1048.6 L961.0,1057.3 L963.2,1065.4 L965.4,1072.8 L967.7,1079.5 L969.9,1085.6 L972.1,1091.1 L974.4,1095.8 L976.6,1100.0 L978.8,1103.5 L981.1,1106.5 L983.3,1109.0 L985.5,1111.2 L987.8,1113.0 L990.0,1114.5 L992.2,1115.8 L994.5,1117.0 L996.7,1118.0 L998.9,1118.9 L1001.2,1119.7 L1003.4,1120.3 L1005.6,1120.8 L1007.9,1121.2 L1010.1,1121.6 L1012.3,1121.8 L1014.6,1122.1 L1016.8,1122.2 L1019.0,1122.4 L1021.3,1122.5 L1023.5,1122.6 L1025.7,1122.7 L1028.0,1123.0 L1030.2,1123.3 L1032.4,1123.6 L1034.7,1124.0 L1036.9,1124.5 L1039.1,1125.0 L1041.4,1125.6 L1043.6,1126.2 L1045.8,1126.7 L1048.1,1127.3 L1050.3,1127.8 L1052.5,1128.3 L1054.8,1128.8 L1057.0,1129.2 L1059.2,1129.6 L1061.5,1130.0 L1063.7,1130.3 L1065.9,1130.6 L1068.2,1130.8 L1070.4,1131.0 L1072.6,1131.1 L1074.9,1131.3 L1077.1,1131.4 L1079.3,1131.4 L1081.6,1131.5 L1083.8,1131.6 L1086.0,1131.6 L1088.3,1131.6 L1090.5,1131.6 L1092.7,1131.7 L1095.0,1131.7 L1097.2,1131.7 L1099.4,1131.7 L1101.7,1131.7 L1103.9,1131.7 L1106.1,1131.7 L1108.4,1131.7 L1110.6,1131.7 L1112.8,1131.7 L1115.1,1131.7 L1117.3,1131.7 L1119.5,1131.7 L1121.8,1131.7 L1124.0,1131.7 L1126.2,1131.7 L1128.5,1131.7 L1130.7,1131.7 L1132.9,1131.7 L1135.2,1131.7 L1137.4,1131.5 L1139.6,1131.3 L1141.9,1131.1 L1144.1,1130.8 L1146.3,1130.6 L1148.6,1130.3 L1150.8,1130.0 L1153.0,1129.7 L1155.3,1129.4 L1157.5,1129.1 L1159.7,1128.8 L1162.0,1128.5 L1164.2,1128.1 L1166.4,1127.8 L1168.7,1127.4 L1170.9,1127.1 L1173.1,1126.7 L1175.4,1126.3 L1177.6,1125.9 L1179.8,1125.5 L1182.1,1125.2 L1184.3,1125.2 L1186.5,1125.2 L1188.8,1125.2" stroke="#97196F"/>
<path d="M469.6,1161.3 L471.9,1161.3 L474.1,1161.3 L476.3,1161.3 L478.6,1161.3 L480.8,1161.3 L483.0,1161.3 L485.3,1161.3 L487.5,1161.2 L489.7,1161.0 L492.0,1160.8 L494.2,1160.5 L496.4,1160.1 L498.7,1159.7 L500.9,1159.3 L503.1,1158.8 L505.4,1158.2 L507.6,1157.7 L509.8,1157.0 L512.1,1156.4 L514.3,1155.7 L516.5,1155.0 L518.8,1154.3 L521.0,1153.5 L523.2,1152.7 L525.5,1152.0 L527.7,1151.2 L529.9,1150.4 L532.2,1149.6 L534.4,1148.9 L536.6,1148.1 L538.9,1147.4 L541.1,1146.6 L543.3,1145.8 L545.6,1144.9 L547.8,1143.9 L550.0,1142.9 L552.3,1141.8 L554.5,1140.7 L556.7,1139.6 L559.0,1138.4 L561.2,1137.2 L563.4,1136.0 L565.7,1134.8 L567.9,1133.5 L570.1,1132.3 L572.4,1131.1 L574.6,1129.9 L576.8,1128.7 L579.1,1127.5 L581.3,1126.4 L583.5,1125.3 L585.8,1124.2 L588.0,1123.2 L590.2,1122.2 L592.5,1121.3 L594.7,1120.5 L596.9,1119.7 L599.2,1118.9 L601.4,1118.1 L603.6,1117.3 L605.9,1116.5 L608.1,1115.7 L610.3,1115.0 L612.6,1114.2 L614.8,1113.4 L617.0,1112.7 L619.3,1112.0 L621.5,1111.3 L623.7,1110.6 L626.0,1109.9 L628.2,1109.3 L630.4,1108.7 L632.7,1108.1 L634.9,1107.6 L637.1,1107.1 L639.4,1106.6 L641.6,1106.2 L643.8,1105.8 L646.1,1105.4 L648.3,1105.1 L650.5,1104.9 L652.8,1104.6 L655.0,1104.4 L657.2,1104.2 L659.5,1104.0 L661.7,1103.9 L663.9,1103.7 L666.2,1103.5 L668.4,1103.3 L670.6,1103.2 L672.9,1103.0 L675.1,1102.9 L677.3,1102.8 L679.6,1102.6 L681.8,1102.5 L684.0,1102.4 L686.3,1102.3 L688.5,1102.2 L690.7,1102.1 L693.0,1102.0 L695.2,1101.9 L697.4,1101.8 L699.7,1101.7 L701.9,1101.6 L704.1,1101.5 L706.4,1101.5 L708.6,1101.4 L710.8,1101.3 L713.1,1101.2 L715.3,1101.2 L717.5,1101.1 L719.8,1101.1 L722.0,1101.0 L724.2,1101.0 L726.5,1100.9 L728.7,1100.9 L730.9,1100.8 L733.2,1100.8 L735.4,1100.8 L737.6,1100.7 L739.9,1100.7 L742.1,1100.6 L744.3,1100.6 L746.6,1100.5 L748.8,1100.4 L751.0,1100.4 L753.3,1100.3 L755.5,1100.2 L757.7,1100.2 L760.0,1100.1 L762.2,1100.0 L764.4,1099.9 L766.7,1099.7 L768.9,1099.5 L771.1,1099.3 L773.4,1099.1 L775.6,1098.9 L777.8,1098.6 L780.1,1098.3 L782.3,1098.0 L784.5,1097.7 L786.8,1097.3 L789.0,1097.0 L791.2,1096.6 L793.5,1096.2 L795.7,1095.8 L797.9,1095.4 L800.2,1095.0 L802.4,1094.6 L804.6,1094.2 L806.9,1093.8 L809.1,1093.3 L811.3,1092.8 L813.6,1092.3 L815.8,1091.8 L818.0,1091.3 L820.3,1090.7 L822.5,1090.0 L824.7,1089.2 L827.0,1088.3 L829.2,1087.3 L831.4,1086.1 L833.7,1084.8 L835.9,1083.3 L838.1,1081.6 L840.4,1079.6 L842.6,1077.4 L844.8,1074.9 L847.1,1072.0 L849.3,1068.7 L851.5,1065.1 L853.8,1060.9 L856.0,1056.3 L858.2,1051.1 L860.5,1045.2 L862.7,1038.7 L864.9,1031.4 L867.2,1023.4 L869.4,1014.6 L871.6,1005.0 L873.9,994.5 L876.1,983.2 L878.3,971.1 L880.6,958.3 L882.8,945.0 L885.0,931.2 L887.3,917.1 L889.5,903.1 L891.7,889.3 L894.0,876.2 L896.2,864.0 L898.4,853.2 L900.7,844.0 L902.9,836.9 L905.1,832.0 L907.4,829.7 L909.6,829.9 L911.8,832.0 L914.1,835.4 L916.3,839.9 L918.5,845.7 L920.8,852.6 L923.0,860.5 L925.2,869.4 L927.5,879.1 L929.7,889.5 L931.9,900.6 L934.2,912.1 L936.4,924.0 L938.6,936.2 L940.9,948.4 L943.1,960.7 L945.3,972.9 L947.6,984.9 L949.8,996.5 L952.0,1007.9 L954.3,1018.8 L956.5,1029.2 L958.7,1039.0 L961.0,1048.3 L963.2,1056.9 L965.4,1064.9 L967.7,1072.2 L969.9,1078.9 L972.1,1084.9 L974.4,1090.2 L976.6,1094.8 L978.8,1098.7 L981.1,1102.0 L983.3,1104.7 L985.5,1106.8 L987.8,1108.6 L990.0,1110.0 L992.2,1111.2 L994.5,1112.3 L996.7,1113.2 L998.9,1114.0 L1001.2,1114.7 L1003.4,1115.3 L1005.6,1115.9 L1007.9,1116.3 L1010.1,1116.6 L1012.3,1116.9 L1014.6,1117.1 L1016.8,1117.3 L1019.0,1117.4 L1021.3,1117.5 L1023.5,1117.6 L1025.7,1117.8 L1028.0,1117.9 L1030.2,1118.2 L1032.4,1118.7 L1034.7,1119.2 L1036.9,1119.9 L1039.1,1120.6 L1041.4,1121.4 L1043.6,1122.3 L1045.8,1123.2 L1048.1,1124.0 L1050.3,1124.9 L1052.5,1125.8 L1054.8,1126.5 L1057.0,1127.3 L1059.2,1128.0 L1061.5,1128.6 L1063.7,1129.1 L1065.9,1129.6 L1068.2,1130.0 L1070.4,1130.3 L1072.6,1130.6 L1074.9,1130.8 L1077.1,1131.0 L1079.3,1131.2 L1081.6,1131.3 L1083.8,1131.4 L1086.0,1131.5 L1088.3,1131.5 L1090.5,1131.6 L1092.7,1131.6 L1095.0,1131.6 L1097.2,1131.7 L1099.4,1131.7 L1101.7,1131.7 L1103.9,1131.7 L1106.1,1131.7 L1108.4,1131.7 L1110.6,1131.7 L1112.8,1131.7 L1115.1,1131.7 L1117.3,1131.7 L1119.5,1131.7 L1121.8,1131.7 L1124.0,1131.7 L1126.2,1131.7 L1128.5,1131.7 L1130.7,1131.7 L1132.9,1131.7 L1135.2,1131.7 L1137.4,1131.6 L1139.6,1131.5 L1141.9,1131.4 L1144.1,1131.3 L1146.3,1131.2 L1148.6,1131.1 L1150.8,1131.0 L1153.0,1130.9 L1155.3,1130.8 L1157.5,1130.6 L1159.7,1130.5 L1162.0,1130.4 L1164.2,1130.2 L1166.4,1130.1 L1168.7,1129.9 L1170.9,1129.8 L1173.1,1129.6 L1175.4,1129.5 L1177.6,1129.3 L1179.8,1129.1 L1182.1,1129.0 L1184.3,1129.0 L1186.5,1129.0 L1188.8,1129.0" stroke="#97196F"/>
<path d="M469.6,1111.5 L471.9,1111.5 L474.1,1111.5 L476.3,1111.5 L478.6,1111.5 L480.8,1111.5 L483.0,1111.5 L485.3,1111.5 L487.5,1111.5 L489.7,1111.5 L492.0,1111.5 L494.2,1111.5 L496.4,1111.5 L498.7,1111.5 L500.9,1111.5 L503.1,1111.5 L505.4,1111.6 L507.6,1111.6 L509.8,1111.6 L512.1,1111.6 L514.3,1111.6 L516.5,1111.6 L518.8,1111.6 L521.0,1111.6 L523.2,1111.6 L525.5,1111.6 L527.7,1111.6 L529.9,1111.6 L532.2,1111.6 L534.4,1111.6 L536.6,1111.7 L538.9,1111.7 L541.1,1111.7 L543.3,1111.7 L545.6,1111.7 L547.8,1111.7 L550.0,1111.7 L552.3,1111.7 L554.5,1111.8 L556.7,1111.8 L559.0,1111.8 L561.2,1111.8 L563.4,1111.8 L565.7,1111.8 L567.9,1111.9 L570.1,1111.9 L572.4,1111.9 L574.6,1111.9 L576.8,1111.9 L579.1,1112.0 L581.3,1112.0 L583.5,1112.0 L585.8,1112.0 L588.0,1112.0 L590.2,1112.0 L592.5,1112.1 L594.7,1112.1 L596.9,1112.1 L599.2,1112.1 L601.4,1112.1 L603.6,1112.1 L605.9,1112.1 L608.1,1112.1 L610.3,1112.1 L612.6,1112.1 L614.8,1112.1 L617.0,1112.1 L619.3,1112.1 L621.5,1112.2 L623.7,1112.2 L626.0,1112.2 L628.2,1112.2 L630.4,1112.2 L632.7,1112.2 L634.9,1112.2 L637.1,1112.2 L639.4,1112.2 L641.6,1112.2 L643.8,1112.2 L646.1,1112.2 L648.3,1112.2 L650.5,1112.2 L652.8,1112.2 L655.0,1112.2 L657.2,1112.2 L659.5,1112.2 L661.7,1112.2 L663.9,1112.2 L666.2,1112.2 L668.4,1112.1 L670.6,1112.1 L672.9,1112.1 L675.1,1112.1 L677.3,1112.1 L679.6,1112.1 L681.8,1112.0 L684.0,1112.0 L686.3,1112.0 L688.5,1112.0 L690.7,1112.0 L693.0,1111.9 L695.2,1111.9 L697.4,1111.9 L699.7,1111.9 L701.9,1111.8 L704.1,1111.8 L706.4,1111.8 L708.6,1111.8 L710.8,1111.7 L713.1,1111.7 L715.3,1111.7 L717.5,1111.7 L719.8,1111.6 L722.0,1111.6 L724.2,1111.6 L726.5,1111.5 L728.7,1111.5 L730.9,1111.4 L733.2,1111.4 L735.4,1111.4 L737.6,1111.3 L739.9,1111.3 L742.1,1111.2 L744.3,1111.2 L746.6,1111.1 L748.8,1111.0 L751.0,1111.0 L753.3,1110.9 L755.5,1110.8 L757.7,1110.7 L760.0,1110.7 L762.2,1110.6 L764.4,1110.4 L766.7,1110.3 L768.9,1110.1 L771.1,1109.9 L773.4,1109.7 L775.6,1109.5 L777.8,1109.2 L780.1,1108.9 L782.3,1108.6 L784.5,1108.2 L786.8,1107.8 L789.0,1107.5 L791.2,1107.1 L793.5,1106.6 L795.7,1106.2 L797.9,1105.7 L800.2,1105.2 L802.4,1104.7 L804.6,1104.2 L806.9,1103.6 L809.1,1103.0 L811.3,1102.4 L813.6,1101.7 L815.8,1101.0 L818.0,1100.2 L820.3,1099.4 L822.5,1098.4 L824.7,1097.3 L827.0,1096.1 L829.2,1094.8 L831.4,1093.2 L833.7,1091.5 L835.9,1089.6 L838.1,1087.4 L840.4,1085.0 L842.6,1082.3 L844.8,1079.2 L847.1,1075.8 L849.3,1072.1 L851.5,1067.9 L853.8,1063.2 L856.0,1058.1 L858.2,1052.4 L860.5,1046.2 L862.7,1039.3 L864.9,1031.8 L867.2,1023.7 L869.4,1014.9 L871.6,1005.4 L873.9,995.3 L876.1,984.6 L878.3,973.3 L880.6,961.5 L882.8,949.3 L885.0,936.8 L887.3,924.3 L889.5,911.8 L891.7,899.6 L894.0,888.0 L896.2,877.2 L898.4,867.4 L900.7,859.0 L902.9,852.1 L905.1,846.9 L907.4,843.6 L909.6,842.4 L911.8,843.1 L914.1,845.4 L916.3,849.0 L918.5,853.9 L920.8,860.0 L923.0,867.3 L925.2,875.7 L927.5,885.0 L929.7,895.2 L931.9,906.1 L934.2,917.5 L936.4,929.4 L938.6,941.5 L940.9,953.9 L943.1,966.2 L945.3,978.5 L947.6,990.6 L949.8,1002.3 L952.0,1013.7 L954.3,1024.6 L956.5,1035.0 L958.7,1044.9 L961.0,1054.1 L963.2,1062.7 L965.4,1070.6 L967.7,1077.9 L969.9,1084.5 L972.1,1090.5 L974.4,1095.9 L976.6,1100.7 L978.8,1104.9 L981.1,1108.5 L983.3,1111.7 L985.5,1114.4 L987.8,1116.7 L990.0,1118.7 L992.2,1120.4 L994.5,1121.8 L996.7,1123.0 L998.9,1124.0 L1001.2,1124.9 L1003.4,1125.6 L1005.6,1126.2 L1007.9,1126.7 L1010.1,1127.1 L1012.3,1127.4 L1014.6,1127.7 L1016.8,1127.9 L1019.0,1128.0 L1021.3,1128.2 L1023.5,1128.3 L1025.7,1128.4 L1028.0,1128.4 L1030.2,1128.5 L1032.4,1128.6 L1034.7,1128.7 L1036.9,1128.9 L1039.1,1129.0 L1041.4,1129.2 L1043.6,1129.4 L1045.8,1129.6 L1048.1,1129.8 L1050.3,1130.0 L1052.5,1130.2 L1054.8,1130.4 L1057.0,1130.6 L1059.2,1130.7 L1061.5,1130.9 L1063.7,1131.0 L1065.9,1131.1 L1068.2,1131.2 L1070.4,1131.3 L1072.6,1131.4 L1074.9,1131.5 L1077.1,1131.5 L1079.3,1131.6 L1081.6,1131.6 L1083.8,1131.6 L1086.0,1131.6 L1088.3,1131.7 L1090.5,1131.7 L1092.7,1131.7 L1095.0,1131.7 L1097.2,1131.7 L1099.4,1131.7 L1101.7,1131.7 L1103.9,1131.7 L1106.1,1131.7 L1108.4,1131.7 L1110.6,1131.7 L1112.8,1131.7 L1115.1,1131.7 L1117.3,1131.7 L1119.5,1131.7 L1121.8,1131.7 L1124.0,1131.7 L1126.2,1131.7 L1128.5,1131.7 L1130.7,1131.7 L1132.9,1131.7 L1135.2,1131.6 L1137.4,1131.5 L1139.6,1131.2 L1141.9,1131.0 L1144.1,1130.7 L1146.3,1130.4 L1148.6,1130.1 L1150.8,1129.8 L1153.0,1129.5 L1155.3,1129.1 L1157.5,1128.7 L1159.7,1128.4 L1162.0,1128.0 L1164.2,1127.6 L1166.4,1127.2 L1168.7,1126.8 L1170.9,1126.4 L1173.1,1126.0 L1175.4,1125.5 L1177.6,1125.1 L1179.8,1124.6 L1182.1,1124.3 L1184.3,1124.3 L1186.5,1124.3 L1188.8,1124.3" stroke="#97196F"/>
<path d="M469.6,1106.1 L471.9,1106.1 L474.1,1106.1 L476.3,1106.1 L478.6,1106.1 L480.8,1106.1 L483.0,1106.1 L485.3,1106.1 L487.5,1106.2 L489.7,1106.2 L492.0,1106.2 L494.2,1106.2 L496.4,1106.2 L498.7,1106.2 L500.9,1106.2 L503.1,1106.3 L505.4,1106.3 L507.6,1106.3 L509.8,1106.3 L512.1,1106.4 L514.3,1106.4 L516.5,1106.4 L518.8,1106.5 L521.0,1106.5 L523.2,1106.5 L525.5,1106.6 L527.7,1106.6 L529.9,1106.6 L532.2,1106.7 L534.4,1106.7 L536.6,1106.8 L538.9,1106.8 L541.1,1106.9 L543.3,1106.9 L545.6,1107.0 L547.8,1107.1 L550.0,1107.2 L552.3,1107.3 L554.5,1107.4 L556.7,1107.5 L559.0,1107.6 L561.2,1107.7 L563.4,1107.9 L565.7,1108.0 L567.9,1108.1 L570.1,1108.2 L572.4,1108.4 L574.6,1108.5 L576.8,1108.6 L579.1,1108.7 L581.3,1108.8 L583.5,1108.9 L585.8,1109.0 L588.0,1109.0 L590.2,1109.1 L592.5,1109.1 L594.7,1109.1 L596.9,1109.1 L599.2,1109.1 L601.4,1109.1 L603.6,1109.1 L605.9,1109.1 L608.1,1109.1 L610.3,1109.0 L612.6,1109.0 L614.8,1109.0 L617.0,1109.0 L619.3,1108.9 L621.5,1108.9 L623.7,1108.8 L626.0,1108.8 L628.2,1108.8 L630.4,1108.7 L632.7,1108.7 L634.9,1108.6 L637.1,1108.6 L639.4,1108.5 L641.6,1108.4 L643.8,1108.4 L646.1,1108.3 L648.3,1108.3 L650.5,1108.2 L652.8,1108.1 L655.0,1107.9 L657.2,1107.6 L659.5,1107.3 L661.7,1106.8 L663.9,1106.3 L666.2,1105.8 L668.4,1105.2 L670.6,1104.5 L672.9,1103.9 L675.1,1103.2 L677.3,1102.4 L679.6,1101.7 L681.8,1100.9 L684.0,1100.2 L686.3,1099.4 L688.5,1098.7 L690.7,1097.9 L693.0,1097.3 L695.2,1096.6 L697.4,1096.0 L699.7,1095.4 L701.9,1094.9 L704.1,1094.5 L706.4,1094.1 L708.6,1093.8 L710.8,1093.5 L713.1,1093.2 L715.3,1093.0 L717.5,1092.7 L719.8,1092.4 L722.0,1092.2 L724.2,1092.0 L726.5,1091.7 L728.7,1091.5 L730.9,1091.3 L733.2,1091.1 L735.4,1090.9 L737.6,1090.7 L739.9,1090.5 L742.1,1090.3 L744.3,1090.1 L746.6,1089.9 L748.8,1089.7 L751.0,1089.6 L753.3,1089.4 L755.5,1089.2 L757.7,1089.0 L760.0,1088.8 L762.2,1088.6 L764.4,1088.4 L766.7,1088.2 L768.9,1088.0 L771.1,1087.7 L773.4,1087.5 L775.6,1087.2 L777.8,1087.0 L780.1,1086.7 L782.3,1086.4 L784.5,1086.2 L786.8,1085.9 L789.0,1085.6 L791.2,1085.3 L793.5,1085.0 L795.7,1084.7 L797.9,1084.4 L800.2,1084.0 L802.4,1083.7 L804.6,1083.3 L806.9,1082.9 L809.1,1082.5 L811.3,1082.1 L813.6,1081.6 L815.8,1081.1 L818.0,1080.5 L820.3,1079.8 L822.5,1079.1 L824.7,1078.2 L827.0,1077.3 L829.2,1076.1 L831.4,1074.8 L833.7,1073.3 L835.9,1071.6 L838.1,1069.6 L840.4,1067.3 L842.6,1064.7 L844.8,1061.7 L847.1,1058.2 L849.3,1054.3 L851.5,1049.8 L853.8,1044.8 L856.0,1039.0 L858.2,1032.5 L860.5,1025.2 L862.7,1017.1 L864.9,1007.9 L867.2,997.8 L869.4,986.7 L871.6,974.5 L873.9,961.3 L876.1,947.1 L878.3,932.1 L880.6,916.3 L882.8,900.0 L885.0,883.5 L887.3,867.1 L889.5,851.3 L891.7,836.4 L894.0,822.9 L896.2,811.4 L898.4,802.3 L900.7,796.0 L902.9,792.8 L905.1,792.8 L907.4,795.2 L909.6,799.1 L911.8,804.3 L914.1,810.9 L916.3,818.7 L918.5,827.7 L920.8,837.7 L923.0,848.6 L925.2,860.3 L927.5,872.7 L929.7,885.6 L931.9,899.0 L934.2,912.5 L936.4,926.3 L938.6,940.0 L940.9,953.6 L943.1,967.0 L945.3,980.1 L947.6,992.8 L949.8,1005.0 L952.0,1016.6 L954.3,1027.6 L956.5,1038.0 L958.7,1047.7 L961.0,1056.7 L963.2,1065.0 L965.4,1072.6 L967.7,1079.4 L969.9,1085.5 L972.1,1090.9 L974.4,1095.6 L976.6,1099.6 L978.8,1103.0 L981.1,1105.8 L983.3,1108.2 L985.5,1110.2 L987.8,1111.9 L990.0,1113.4 L992.2,1114.7 L994.5,1115.9 L996.7,1116.9 L998.9,1117.7 L1001.2,1118.5 L1003.4,1119.1 L1005.6,1119.6 L1007.9,1120.0 L1010.1,1120.4 L1012.3,1120.6 L1014.6,1120.8 L1016.8,1120.9 L1019.0,1121.0 L1021.3,1121.1 L1023.5,1121.1 L1025.7,1121.2 L1028.0,1121.2 L1030.2,1121.3 L1032.4,1121.4 L1034.7,1121.6 L1036.9,1122.0 L1039.1,1122.4 L1041.4,1122.9 L1043.6,1123.5 L1045.8,1124.1 L1048.1,1124.7 L1050.3,1125.4 L1052.5,1126.1 L1054.8,1126.7 L1057.0,1127.3 L1059.2,1127.9 L1061.5,1128.5 L1063.7,1129.0 L1065.9,1129.4 L1068.2,1129.8 L1070.4,1130.2 L1072.6,1130.5 L1074.9,1130.7 L1077.1,1130.9 L1079.3,1131.1 L1081.6,1131.2 L1083.8,1131.3 L1086.0,1131.4 L1088.3,1131.5 L1090.5,1131.6 L1092.7,1131.6 L1095.0,1131.6 L1097.2,1131.6 L1099.4,1131.7 L1101.7,1131.7 L1103.9,1131.7 L1106.1,1131.7 L1108.4,1131.7 L1110.6,1131.7 L1112.8,1131.7 L1115.1,1131.7 L1117.3,1131.7 L1119.5,1131.7 L1121.8,1131.7 L1124.0,1131.7 L1126.2,1131.7 L1128.5,1131.7 L1130.7,1131.7 L1132.9,1131.7 L1135.2,1131.7 L1137.4,1131.6 L1139.6,1131.5 L1141.9,1131.3 L1144.1,1131.2 L1146.3,1131.0 L1148.6,1130.8 L1150.8,1130.7 L1153.0,1130.5 L1155.3,1130.3 L1157.5,1130.1 L1159.7,1129.9 L1162.0,1129.7 L1164.2,1129.5 L1166.4,1129.2 L1168.7,1129.0 L1170.9,1128.8 L1173.1,1128.6 L1175.4,1128.3 L1177.6,1128.1 L1179.8,1127.8 L1182.1,1127.7 L1184.3,1127.7 L1186.5,1127.7 L1188.8,1127.7" stroke="#97196F"/>
</g>
</svg>
</body></html>
